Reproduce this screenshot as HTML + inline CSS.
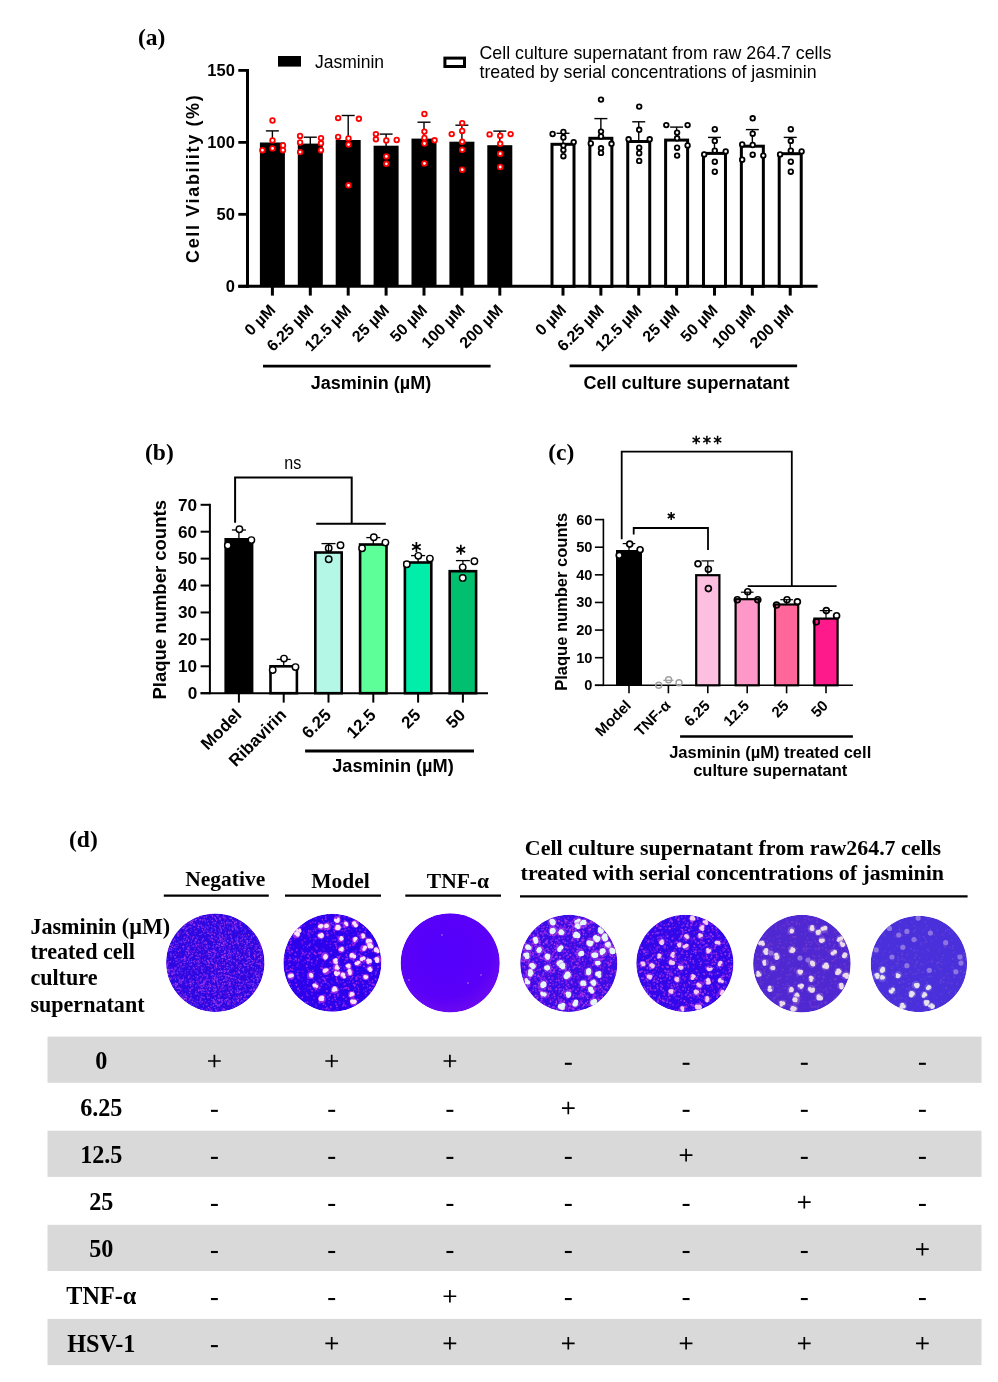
<!DOCTYPE html>
<html><head><meta charset="utf-8"><style>
html,body{margin:0;padding:0;background:#fff;}
svg{display:block;will-change:transform;}
</style></head><body>
<svg width="998" height="1382" viewBox="0 0 998 1382">
<rect width="998" height="1382" fill="#fff"/>
<text x="138.00" y="44.50" font-family="'Liberation Serif', serif" font-size="23.5" font-weight="bold" text-anchor="start" fill="#000" >(a)</text>
<rect x="278.00" y="56.00" width="23.00" height="10.60" fill="#000"/>
<text x="315.00" y="67.50" font-family="'Liberation Sans', sans-serif" font-size="17.5" font-weight="normal" text-anchor="start" fill="#000" >Jasminin</text>
<rect x="444.90" y="58.10" width="19.60" height="8.40" fill="#fff" stroke="#000" stroke-width="3"/>
<text x="479.50" y="58.60" font-family="'Liberation Sans', sans-serif" font-size="17.8" font-weight="normal" text-anchor="start" fill="#000" >Cell culture supernatant from raw 264.7 cells</text>
<text x="479.50" y="77.60" font-family="'Liberation Sans', sans-serif" font-size="17.8" font-weight="normal" text-anchor="start" fill="#000" >treated by serial concentrations of jasminin</text>
<line x1="247.50" y1="69.00" x2="247.50" y2="287.80" stroke="#000" stroke-width="3" stroke-linecap="butt"/>
<line x1="238.30" y1="286.30" x2="247.50" y2="286.30" stroke="#000" stroke-width="2.8" stroke-linecap="butt"/>
<text x="234.90" y="291.90" font-family="'Liberation Sans', sans-serif" font-size="16.5" font-weight="bold" text-anchor="end" fill="#000" >0</text>
<line x1="238.30" y1="214.33" x2="247.50" y2="214.33" stroke="#000" stroke-width="2.8" stroke-linecap="butt"/>
<text x="234.90" y="219.93" font-family="'Liberation Sans', sans-serif" font-size="16.5" font-weight="bold" text-anchor="end" fill="#000" >50</text>
<line x1="238.30" y1="142.37" x2="247.50" y2="142.37" stroke="#000" stroke-width="2.8" stroke-linecap="butt"/>
<text x="234.90" y="147.97" font-family="'Liberation Sans', sans-serif" font-size="16.5" font-weight="bold" text-anchor="end" fill="#000" >100</text>
<line x1="238.30" y1="70.40" x2="247.50" y2="70.40" stroke="#000" stroke-width="2.8" stroke-linecap="butt"/>
<text x="234.90" y="76.00" font-family="'Liberation Sans', sans-serif" font-size="16.5" font-weight="bold" text-anchor="end" fill="#000" >150</text>
<text x="0" y="0" transform="translate(198.70,178.30) rotate(-90)" font-family="'Liberation Sans', sans-serif" font-size="18" font-weight="bold" text-anchor="middle" letter-spacing="1.65">Cell Viability (%)</text>
<line x1="238.30" y1="286.30" x2="817.60" y2="286.30" stroke="#000" stroke-width="3" stroke-linecap="butt"/>
<line x1="272.40" y1="130.90" x2="272.40" y2="143.50" stroke="#000" stroke-width="1.4" stroke-linecap="butt"/>
<line x1="265.90" y1="130.90" x2="278.90" y2="130.90" stroke="#000" stroke-width="1.4" stroke-linecap="butt"/>
<rect x="259.90" y="142.50" width="25.00" height="143.80" fill="#000"/>
<circle cx="272.50" cy="120.50" r="2.3" fill="#fff" stroke="#ff0000" stroke-width="1.8"/>
<circle cx="272.50" cy="140.40" r="2.3" fill="#fff" stroke="#ff0000" stroke-width="1.8"/>
<circle cx="272.50" cy="148.40" r="2.3" fill="#fff" stroke="#ff0000" stroke-width="1.8"/>
<circle cx="262.40" cy="150.20" r="2.3" fill="#fff" stroke="#ff0000" stroke-width="1.8"/>
<circle cx="283.00" cy="145.50" r="2.3" fill="#fff" stroke="#ff0000" stroke-width="1.8"/>
<circle cx="283.00" cy="150.20" r="2.3" fill="#fff" stroke="#ff0000" stroke-width="1.8"/>
<line x1="563.00" y1="133.30" x2="563.00" y2="143.80" stroke="#000" stroke-width="1.4" stroke-linecap="butt"/>
<line x1="556.50" y1="133.30" x2="569.50" y2="133.30" stroke="#000" stroke-width="1.4" stroke-linecap="butt"/>
<rect x="552.00" y="144.30" width="22.00" height="142.00" fill="#fff" stroke="#000" stroke-width="3"/>
<circle cx="552.60" cy="134.00" r="2.3" fill="#fff" stroke="#000" stroke-width="1.8"/>
<circle cx="563.40" cy="131.90" r="2.3" fill="#fff" stroke="#000" stroke-width="1.8"/>
<circle cx="563.40" cy="137.50" r="2.3" fill="#fff" stroke="#000" stroke-width="1.8"/>
<circle cx="563.40" cy="145.60" r="2.3" fill="#fff" stroke="#000" stroke-width="1.8"/>
<circle cx="563.40" cy="150.10" r="2.3" fill="#fff" stroke="#000" stroke-width="1.8"/>
<circle cx="563.40" cy="156.20" r="2.3" fill="#fff" stroke="#000" stroke-width="1.8"/>
<circle cx="573.70" cy="142.10" r="2.3" fill="#fff" stroke="#000" stroke-width="1.8"/>
<line x1="310.30" y1="137.20" x2="310.30" y2="144.60" stroke="#000" stroke-width="1.4" stroke-linecap="butt"/>
<line x1="303.80" y1="137.20" x2="316.80" y2="137.20" stroke="#000" stroke-width="1.4" stroke-linecap="butt"/>
<rect x="297.80" y="143.60" width="25.00" height="142.70" fill="#000"/>
<circle cx="300.10" cy="135.90" r="2.3" fill="#fff" stroke="#ff0000" stroke-width="1.8"/>
<circle cx="300.10" cy="142.50" r="2.3" fill="#fff" stroke="#ff0000" stroke-width="1.8"/>
<circle cx="300.10" cy="152.10" r="2.3" fill="#fff" stroke="#ff0000" stroke-width="1.8"/>
<circle cx="321.00" cy="138.10" r="2.3" fill="#fff" stroke="#ff0000" stroke-width="1.8"/>
<circle cx="321.00" cy="143.30" r="2.3" fill="#fff" stroke="#ff0000" stroke-width="1.8"/>
<circle cx="321.00" cy="150.20" r="2.3" fill="#fff" stroke="#ff0000" stroke-width="1.8"/>
<line x1="600.87" y1="118.60" x2="600.87" y2="137.80" stroke="#000" stroke-width="1.4" stroke-linecap="butt"/>
<line x1="594.37" y1="118.60" x2="607.37" y2="118.60" stroke="#000" stroke-width="1.4" stroke-linecap="butt"/>
<rect x="589.87" y="138.30" width="22.00" height="148.00" fill="#fff" stroke="#000" stroke-width="3"/>
<circle cx="601.00" cy="99.60" r="2.3" fill="#fff" stroke="#000" stroke-width="1.8"/>
<circle cx="601.00" cy="131.60" r="2.3" fill="#fff" stroke="#000" stroke-width="1.8"/>
<circle cx="601.00" cy="136.50" r="2.3" fill="#fff" stroke="#000" stroke-width="1.8"/>
<circle cx="601.00" cy="148.30" r="2.3" fill="#fff" stroke="#000" stroke-width="1.8"/>
<circle cx="601.00" cy="152.90" r="2.3" fill="#fff" stroke="#000" stroke-width="1.8"/>
<circle cx="590.80" cy="143.50" r="2.3" fill="#fff" stroke="#000" stroke-width="1.8"/>
<circle cx="611.50" cy="143.80" r="2.3" fill="#fff" stroke="#000" stroke-width="1.8"/>
<line x1="348.20" y1="115.50" x2="348.20" y2="141.00" stroke="#000" stroke-width="1.4" stroke-linecap="butt"/>
<line x1="341.70" y1="115.50" x2="354.70" y2="115.50" stroke="#000" stroke-width="1.4" stroke-linecap="butt"/>
<rect x="335.70" y="140.00" width="25.00" height="146.30" fill="#000"/>
<circle cx="338.10" cy="118.10" r="2.3" fill="#fff" stroke="#ff0000" stroke-width="1.8"/>
<circle cx="358.90" cy="118.80" r="2.3" fill="#fff" stroke="#ff0000" stroke-width="1.8"/>
<circle cx="338.10" cy="136.90" r="2.3" fill="#fff" stroke="#ff0000" stroke-width="1.8"/>
<circle cx="348.50" cy="138.50" r="2.3" fill="#fff" stroke="#ff0000" stroke-width="1.8"/>
<circle cx="348.50" cy="144.60" r="2.3" fill="#fff" stroke="#ff0000" stroke-width="1.8"/>
<circle cx="348.50" cy="185.30" r="2.3" fill="#fff" stroke="#ff0000" stroke-width="1.8"/>
<line x1="638.74" y1="121.80" x2="638.74" y2="141.00" stroke="#000" stroke-width="1.4" stroke-linecap="butt"/>
<line x1="632.24" y1="121.80" x2="645.24" y2="121.80" stroke="#000" stroke-width="1.4" stroke-linecap="butt"/>
<rect x="627.74" y="141.50" width="22.00" height="144.80" fill="#fff" stroke="#000" stroke-width="3"/>
<circle cx="639.20" cy="106.60" r="2.3" fill="#fff" stroke="#000" stroke-width="1.8"/>
<circle cx="639.20" cy="129.80" r="2.3" fill="#fff" stroke="#000" stroke-width="1.8"/>
<circle cx="639.20" cy="147.70" r="2.3" fill="#fff" stroke="#000" stroke-width="1.8"/>
<circle cx="639.20" cy="153.20" r="2.3" fill="#fff" stroke="#000" stroke-width="1.8"/>
<circle cx="639.20" cy="160.90" r="2.3" fill="#fff" stroke="#000" stroke-width="1.8"/>
<circle cx="628.60" cy="139.30" r="2.3" fill="#fff" stroke="#000" stroke-width="1.8"/>
<circle cx="649.70" cy="139.30" r="2.3" fill="#fff" stroke="#000" stroke-width="1.8"/>
<line x1="386.10" y1="134.10" x2="386.10" y2="146.70" stroke="#000" stroke-width="1.4" stroke-linecap="butt"/>
<line x1="379.60" y1="134.10" x2="392.60" y2="134.10" stroke="#000" stroke-width="1.4" stroke-linecap="butt"/>
<rect x="373.60" y="145.70" width="25.00" height="140.60" fill="#000"/>
<circle cx="375.90" cy="134.10" r="2.3" fill="#fff" stroke="#ff0000" stroke-width="1.8"/>
<circle cx="375.90" cy="139.30" r="2.3" fill="#fff" stroke="#ff0000" stroke-width="1.8"/>
<circle cx="386.30" cy="140.50" r="2.3" fill="#fff" stroke="#ff0000" stroke-width="1.8"/>
<circle cx="396.70" cy="140.00" r="2.3" fill="#fff" stroke="#ff0000" stroke-width="1.8"/>
<circle cx="386.30" cy="156.40" r="2.3" fill="#fff" stroke="#ff0000" stroke-width="1.8"/>
<circle cx="386.30" cy="163.80" r="2.3" fill="#fff" stroke="#ff0000" stroke-width="1.8"/>
<line x1="676.61" y1="127.10" x2="676.61" y2="139.60" stroke="#000" stroke-width="1.4" stroke-linecap="butt"/>
<line x1="670.11" y1="127.10" x2="683.11" y2="127.10" stroke="#000" stroke-width="1.4" stroke-linecap="butt"/>
<rect x="665.61" y="140.10" width="22.00" height="146.20" fill="#fff" stroke="#000" stroke-width="3"/>
<circle cx="666.30" cy="125.10" r="2.3" fill="#fff" stroke="#000" stroke-width="1.8"/>
<circle cx="687.60" cy="125.10" r="2.3" fill="#fff" stroke="#000" stroke-width="1.8"/>
<circle cx="677.10" cy="132.60" r="2.3" fill="#fff" stroke="#000" stroke-width="1.8"/>
<circle cx="677.10" cy="138.30" r="2.3" fill="#fff" stroke="#000" stroke-width="1.8"/>
<circle cx="677.10" cy="147.70" r="2.3" fill="#fff" stroke="#000" stroke-width="1.8"/>
<circle cx="677.10" cy="155.60" r="2.3" fill="#fff" stroke="#000" stroke-width="1.8"/>
<circle cx="687.60" cy="145.40" r="2.3" fill="#fff" stroke="#000" stroke-width="1.8"/>
<line x1="424.00" y1="122.20" x2="424.00" y2="139.60" stroke="#000" stroke-width="1.4" stroke-linecap="butt"/>
<line x1="417.50" y1="122.20" x2="430.50" y2="122.20" stroke="#000" stroke-width="1.4" stroke-linecap="butt"/>
<rect x="411.50" y="138.60" width="25.00" height="147.70" fill="#000"/>
<circle cx="424.40" cy="114.00" r="2.3" fill="#fff" stroke="#ff0000" stroke-width="1.8"/>
<circle cx="424.40" cy="131.60" r="2.3" fill="#fff" stroke="#ff0000" stroke-width="1.8"/>
<circle cx="424.40" cy="137.90" r="2.3" fill="#fff" stroke="#ff0000" stroke-width="1.8"/>
<circle cx="424.40" cy="143.50" r="2.3" fill="#fff" stroke="#ff0000" stroke-width="1.8"/>
<circle cx="424.40" cy="163.40" r="2.3" fill="#fff" stroke="#ff0000" stroke-width="1.8"/>
<circle cx="434.60" cy="140.30" r="2.3" fill="#fff" stroke="#ff0000" stroke-width="1.8"/>
<line x1="714.48" y1="137.40" x2="714.48" y2="152.90" stroke="#000" stroke-width="1.4" stroke-linecap="butt"/>
<line x1="707.98" y1="137.40" x2="720.98" y2="137.40" stroke="#000" stroke-width="1.4" stroke-linecap="butt"/>
<rect x="703.48" y="153.40" width="22.00" height="132.90" fill="#fff" stroke="#000" stroke-width="3"/>
<circle cx="714.80" cy="129.20" r="2.3" fill="#fff" stroke="#000" stroke-width="1.8"/>
<circle cx="714.80" cy="140.90" r="2.3" fill="#fff" stroke="#000" stroke-width="1.8"/>
<circle cx="714.80" cy="150.70" r="2.3" fill="#fff" stroke="#000" stroke-width="1.8"/>
<circle cx="714.80" cy="161.70" r="2.3" fill="#fff" stroke="#000" stroke-width="1.8"/>
<circle cx="714.80" cy="171.70" r="2.3" fill="#fff" stroke="#000" stroke-width="1.8"/>
<circle cx="704.20" cy="154.40" r="2.3" fill="#fff" stroke="#000" stroke-width="1.8"/>
<circle cx="725.70" cy="151.40" r="2.3" fill="#fff" stroke="#000" stroke-width="1.8"/>
<line x1="461.90" y1="125.20" x2="461.90" y2="142.70" stroke="#000" stroke-width="1.4" stroke-linecap="butt"/>
<line x1="455.40" y1="125.20" x2="468.40" y2="125.20" stroke="#000" stroke-width="1.4" stroke-linecap="butt"/>
<rect x="449.40" y="141.70" width="25.00" height="144.60" fill="#000"/>
<circle cx="462.20" cy="123.10" r="2.3" fill="#fff" stroke="#ff0000" stroke-width="1.8"/>
<circle cx="462.20" cy="130.90" r="2.3" fill="#fff" stroke="#ff0000" stroke-width="1.8"/>
<circle cx="462.20" cy="141.80" r="2.3" fill="#fff" stroke="#ff0000" stroke-width="1.8"/>
<circle cx="462.20" cy="149.80" r="2.3" fill="#fff" stroke="#ff0000" stroke-width="1.8"/>
<circle cx="462.20" cy="169.70" r="2.3" fill="#fff" stroke="#ff0000" stroke-width="1.8"/>
<circle cx="451.70" cy="134.10" r="2.3" fill="#fff" stroke="#ff0000" stroke-width="1.8"/>
<line x1="752.35" y1="129.60" x2="752.35" y2="145.70" stroke="#000" stroke-width="1.4" stroke-linecap="butt"/>
<line x1="745.85" y1="129.60" x2="758.85" y2="129.60" stroke="#000" stroke-width="1.4" stroke-linecap="butt"/>
<rect x="741.35" y="146.20" width="22.00" height="140.10" fill="#fff" stroke="#000" stroke-width="3"/>
<circle cx="752.70" cy="118.30" r="2.3" fill="#fff" stroke="#000" stroke-width="1.8"/>
<circle cx="752.70" cy="133.70" r="2.3" fill="#fff" stroke="#000" stroke-width="1.8"/>
<circle cx="752.70" cy="145.00" r="2.3" fill="#fff" stroke="#000" stroke-width="1.8"/>
<circle cx="752.70" cy="154.70" r="2.3" fill="#fff" stroke="#000" stroke-width="1.8"/>
<circle cx="742.20" cy="144.40" r="2.3" fill="#fff" stroke="#000" stroke-width="1.8"/>
<circle cx="742.20" cy="159.70" r="2.3" fill="#fff" stroke="#000" stroke-width="1.8"/>
<circle cx="763.30" cy="155.60" r="2.3" fill="#fff" stroke="#000" stroke-width="1.8"/>
<line x1="499.80" y1="131.10" x2="499.80" y2="146.20" stroke="#000" stroke-width="1.4" stroke-linecap="butt"/>
<line x1="493.30" y1="131.10" x2="506.30" y2="131.10" stroke="#000" stroke-width="1.4" stroke-linecap="butt"/>
<rect x="487.30" y="145.20" width="25.00" height="141.10" fill="#000"/>
<circle cx="489.60" cy="134.40" r="2.3" fill="#fff" stroke="#ff0000" stroke-width="1.8"/>
<circle cx="510.60" cy="134.10" r="2.3" fill="#fff" stroke="#ff0000" stroke-width="1.8"/>
<circle cx="500.20" cy="135.80" r="2.3" fill="#fff" stroke="#ff0000" stroke-width="1.8"/>
<circle cx="500.20" cy="143.80" r="2.3" fill="#fff" stroke="#ff0000" stroke-width="1.8"/>
<circle cx="500.20" cy="153.70" r="2.3" fill="#fff" stroke="#ff0000" stroke-width="1.8"/>
<circle cx="500.20" cy="167.00" r="2.3" fill="#fff" stroke="#ff0000" stroke-width="1.8"/>
<line x1="790.22" y1="137.40" x2="790.22" y2="153.20" stroke="#000" stroke-width="1.4" stroke-linecap="butt"/>
<line x1="783.72" y1="137.40" x2="796.72" y2="137.40" stroke="#000" stroke-width="1.4" stroke-linecap="butt"/>
<rect x="779.22" y="153.70" width="22.00" height="132.60" fill="#fff" stroke="#000" stroke-width="3"/>
<circle cx="790.80" cy="129.20" r="2.3" fill="#fff" stroke="#000" stroke-width="1.8"/>
<circle cx="790.80" cy="140.90" r="2.3" fill="#fff" stroke="#000" stroke-width="1.8"/>
<circle cx="790.80" cy="150.70" r="2.3" fill="#fff" stroke="#000" stroke-width="1.8"/>
<circle cx="790.80" cy="161.70" r="2.3" fill="#fff" stroke="#000" stroke-width="1.8"/>
<circle cx="790.80" cy="171.70" r="2.3" fill="#fff" stroke="#000" stroke-width="1.8"/>
<circle cx="780.10" cy="154.40" r="2.3" fill="#fff" stroke="#000" stroke-width="1.8"/>
<circle cx="801.60" cy="151.40" r="2.3" fill="#fff" stroke="#000" stroke-width="1.8"/>
<line x1="272.40" y1="286.30" x2="272.40" y2="295.60" stroke="#000" stroke-width="3" stroke-linecap="butt"/>
<text x="0" y="0" transform="translate(276.50,311.20) rotate(-45)" font-family="'Liberation Sans', sans-serif" font-size="16" font-weight="bold" text-anchor="end" >0 µM</text>
<line x1="563.00" y1="286.30" x2="563.00" y2="295.60" stroke="#000" stroke-width="3" stroke-linecap="butt"/>
<text x="0" y="0" transform="translate(567.10,311.20) rotate(-45)" font-family="'Liberation Sans', sans-serif" font-size="16" font-weight="bold" text-anchor="end" >0 µM</text>
<line x1="310.30" y1="286.30" x2="310.30" y2="295.60" stroke="#000" stroke-width="3" stroke-linecap="butt"/>
<text x="0" y="0" transform="translate(314.40,311.20) rotate(-45)" font-family="'Liberation Sans', sans-serif" font-size="16" font-weight="bold" text-anchor="end" >6.25 µM</text>
<line x1="600.87" y1="286.30" x2="600.87" y2="295.60" stroke="#000" stroke-width="3" stroke-linecap="butt"/>
<text x="0" y="0" transform="translate(604.97,311.20) rotate(-45)" font-family="'Liberation Sans', sans-serif" font-size="16" font-weight="bold" text-anchor="end" >6.25 µM</text>
<line x1="348.20" y1="286.30" x2="348.20" y2="295.60" stroke="#000" stroke-width="3" stroke-linecap="butt"/>
<text x="0" y="0" transform="translate(352.30,311.20) rotate(-45)" font-family="'Liberation Sans', sans-serif" font-size="16" font-weight="bold" text-anchor="end" >12.5 µM</text>
<line x1="638.74" y1="286.30" x2="638.74" y2="295.60" stroke="#000" stroke-width="3" stroke-linecap="butt"/>
<text x="0" y="0" transform="translate(642.84,311.20) rotate(-45)" font-family="'Liberation Sans', sans-serif" font-size="16" font-weight="bold" text-anchor="end" >12.5 µM</text>
<line x1="386.10" y1="286.30" x2="386.10" y2="295.60" stroke="#000" stroke-width="3" stroke-linecap="butt"/>
<text x="0" y="0" transform="translate(390.20,311.20) rotate(-45)" font-family="'Liberation Sans', sans-serif" font-size="16" font-weight="bold" text-anchor="end" >25 µM</text>
<line x1="676.61" y1="286.30" x2="676.61" y2="295.60" stroke="#000" stroke-width="3" stroke-linecap="butt"/>
<text x="0" y="0" transform="translate(680.71,311.20) rotate(-45)" font-family="'Liberation Sans', sans-serif" font-size="16" font-weight="bold" text-anchor="end" >25 µM</text>
<line x1="424.00" y1="286.30" x2="424.00" y2="295.60" stroke="#000" stroke-width="3" stroke-linecap="butt"/>
<text x="0" y="0" transform="translate(428.10,311.20) rotate(-45)" font-family="'Liberation Sans', sans-serif" font-size="16" font-weight="bold" text-anchor="end" >50 µM</text>
<line x1="714.48" y1="286.30" x2="714.48" y2="295.60" stroke="#000" stroke-width="3" stroke-linecap="butt"/>
<text x="0" y="0" transform="translate(718.58,311.20) rotate(-45)" font-family="'Liberation Sans', sans-serif" font-size="16" font-weight="bold" text-anchor="end" >50 µM</text>
<line x1="461.90" y1="286.30" x2="461.90" y2="295.60" stroke="#000" stroke-width="3" stroke-linecap="butt"/>
<text x="0" y="0" transform="translate(466.00,311.20) rotate(-45)" font-family="'Liberation Sans', sans-serif" font-size="16" font-weight="bold" text-anchor="end" >100 µM</text>
<line x1="752.35" y1="286.30" x2="752.35" y2="295.60" stroke="#000" stroke-width="3" stroke-linecap="butt"/>
<text x="0" y="0" transform="translate(756.45,311.20) rotate(-45)" font-family="'Liberation Sans', sans-serif" font-size="16" font-weight="bold" text-anchor="end" >100 µM</text>
<line x1="499.80" y1="286.30" x2="499.80" y2="295.60" stroke="#000" stroke-width="3" stroke-linecap="butt"/>
<text x="0" y="0" transform="translate(503.90,311.20) rotate(-45)" font-family="'Liberation Sans', sans-serif" font-size="16" font-weight="bold" text-anchor="end" >200 µM</text>
<line x1="790.22" y1="286.30" x2="790.22" y2="295.60" stroke="#000" stroke-width="3" stroke-linecap="butt"/>
<text x="0" y="0" transform="translate(794.32,311.20) rotate(-45)" font-family="'Liberation Sans', sans-serif" font-size="16" font-weight="bold" text-anchor="end" >200 µM</text>
<line x1="263.00" y1="366.20" x2="490.60" y2="366.20" stroke="#000" stroke-width="2.8" stroke-linecap="butt"/>
<text x="371.00" y="388.70" font-family="'Liberation Sans', sans-serif" font-size="18" font-weight="bold" text-anchor="middle" fill="#000" >Jasminin (µM)</text>
<line x1="569.60" y1="365.80" x2="797.10" y2="365.80" stroke="#000" stroke-width="2.8" stroke-linecap="butt"/>
<text x="686.50" y="388.70" font-family="'Liberation Sans', sans-serif" font-size="18" font-weight="bold" text-anchor="middle" fill="#000" >Cell culture supernatant</text>
<text x="145.00" y="460.00" font-family="'Liberation Serif', serif" font-size="23.5" font-weight="bold" text-anchor="start" fill="#000" >(b)</text>
<line x1="209.90" y1="503.80" x2="209.90" y2="694.20" stroke="#000" stroke-width="2" stroke-linecap="butt"/>
<line x1="200.60" y1="693.20" x2="209.90" y2="693.20" stroke="#000" stroke-width="2" stroke-linecap="butt"/>
<text x="197.20" y="699.00" font-family="'Liberation Sans', sans-serif" font-size="17.2" font-weight="bold" text-anchor="end" fill="#000" >0</text>
<line x1="200.60" y1="666.29" x2="209.90" y2="666.29" stroke="#000" stroke-width="2" stroke-linecap="butt"/>
<text x="197.20" y="672.09" font-family="'Liberation Sans', sans-serif" font-size="17.2" font-weight="bold" text-anchor="end" fill="#000" >10</text>
<line x1="200.60" y1="639.37" x2="209.90" y2="639.37" stroke="#000" stroke-width="2" stroke-linecap="butt"/>
<text x="197.20" y="645.17" font-family="'Liberation Sans', sans-serif" font-size="17.2" font-weight="bold" text-anchor="end" fill="#000" >20</text>
<line x1="200.60" y1="612.46" x2="209.90" y2="612.46" stroke="#000" stroke-width="2" stroke-linecap="butt"/>
<text x="197.20" y="618.26" font-family="'Liberation Sans', sans-serif" font-size="17.2" font-weight="bold" text-anchor="end" fill="#000" >30</text>
<line x1="200.60" y1="585.54" x2="209.90" y2="585.54" stroke="#000" stroke-width="2" stroke-linecap="butt"/>
<text x="197.20" y="591.34" font-family="'Liberation Sans', sans-serif" font-size="17.2" font-weight="bold" text-anchor="end" fill="#000" >40</text>
<line x1="200.60" y1="558.63" x2="209.90" y2="558.63" stroke="#000" stroke-width="2" stroke-linecap="butt"/>
<text x="197.20" y="564.43" font-family="'Liberation Sans', sans-serif" font-size="17.2" font-weight="bold" text-anchor="end" fill="#000" >50</text>
<line x1="200.60" y1="531.71" x2="209.90" y2="531.71" stroke="#000" stroke-width="2" stroke-linecap="butt"/>
<text x="197.20" y="537.51" font-family="'Liberation Sans', sans-serif" font-size="17.2" font-weight="bold" text-anchor="end" fill="#000" >60</text>
<line x1="200.60" y1="504.80" x2="209.90" y2="504.80" stroke="#000" stroke-width="2" stroke-linecap="butt"/>
<text x="197.20" y="510.60" font-family="'Liberation Sans', sans-serif" font-size="17.2" font-weight="bold" text-anchor="end" fill="#000" >70</text>
<text x="0" y="0" transform="translate(165.80,599.80) rotate(-90)" font-family="'Liberation Sans', sans-serif" font-size="18.5" font-weight="bold" text-anchor="middle" >Plaque number counts</text>
<line x1="200.60" y1="693.20" x2="488.00" y2="693.20" stroke="#000" stroke-width="2" stroke-linecap="butt"/>
<rect x="224.40" y="538.00" width="29.00" height="155.20" fill="#000"/>
<line x1="238.90" y1="530.00" x2="238.90" y2="539.00" stroke="#000" stroke-width="1.3" stroke-linecap="butt"/>
<line x1="231.90" y1="530.00" x2="245.90" y2="530.00" stroke="#000" stroke-width="1.3" stroke-linecap="butt"/>
<circle cx="227.80" cy="545.40" r="3.2" fill="#fff" stroke="#000" stroke-width="1.45"/>
<circle cx="239.40" cy="529.20" r="3.2" fill="#fff" stroke="#000" stroke-width="1.45"/>
<circle cx="251.40" cy="540.10" r="3.2" fill="#fff" stroke="#000" stroke-width="1.45"/>
<line x1="238.90" y1="693.20" x2="238.90" y2="702.60" stroke="#000" stroke-width="2" stroke-linecap="butt"/>
<text x="0" y="0" transform="translate(242.50,716.00) rotate(-45)" font-family="'Liberation Sans', sans-serif" font-size="17" font-weight="bold" text-anchor="end" >Model</text>
<rect x="270.50" y="666.30" width="26.40" height="26.90" fill="#fff" stroke="#000" stroke-width="2.6"/>
<line x1="283.70" y1="659.40" x2="283.70" y2="666.00" stroke="#000" stroke-width="1.3" stroke-linecap="butt"/>
<line x1="276.70" y1="659.40" x2="290.70" y2="659.40" stroke="#000" stroke-width="1.3" stroke-linecap="butt"/>
<circle cx="272.70" cy="670.10" r="3.2" fill="#fff" stroke="#000" stroke-width="1.45"/>
<circle cx="284.00" cy="658.60" r="3.2" fill="#fff" stroke="#000" stroke-width="1.45"/>
<circle cx="295.50" cy="667.10" r="3.2" fill="#fff" stroke="#000" stroke-width="1.45"/>
<line x1="283.70" y1="693.20" x2="283.70" y2="702.60" stroke="#000" stroke-width="2" stroke-linecap="butt"/>
<text x="0" y="0" transform="translate(287.30,716.00) rotate(-45)" font-family="'Liberation Sans', sans-serif" font-size="17" font-weight="bold" text-anchor="end" >Ribavirin</text>
<rect x="315.30" y="552.50" width="26.40" height="140.70" fill="#b4f7e6" stroke="#000" stroke-width="2.6"/>
<line x1="328.50" y1="543.60" x2="328.50" y2="552.20" stroke="#000" stroke-width="1.3" stroke-linecap="butt"/>
<line x1="321.50" y1="543.60" x2="335.50" y2="543.60" stroke="#000" stroke-width="1.3" stroke-linecap="butt"/>
<circle cx="328.70" cy="548.20" r="3.2" fill="none" stroke="#000" stroke-width="1.45"/>
<circle cx="328.70" cy="559.20" r="3.2" fill="none" stroke="#000" stroke-width="1.45"/>
<circle cx="340.50" cy="545.20" r="3.2" fill="none" stroke="#000" stroke-width="1.45"/>
<line x1="328.50" y1="693.20" x2="328.50" y2="702.60" stroke="#000" stroke-width="2" stroke-linecap="butt"/>
<text x="0" y="0" transform="translate(332.10,716.00) rotate(-45)" font-family="'Liberation Sans', sans-serif" font-size="17" font-weight="bold" text-anchor="end" >6.25</text>
<rect x="360.10" y="544.50" width="26.40" height="148.70" fill="#5cff98" stroke="#000" stroke-width="2.6"/>
<line x1="373.30" y1="537.60" x2="373.30" y2="544.20" stroke="#000" stroke-width="1.3" stroke-linecap="butt"/>
<line x1="366.30" y1="537.60" x2="380.30" y2="537.60" stroke="#000" stroke-width="1.3" stroke-linecap="butt"/>
<circle cx="362.10" cy="548.20" r="3.2" fill="#fff" stroke="#000" stroke-width="1.45"/>
<circle cx="373.80" cy="537.20" r="3.2" fill="#fff" stroke="#000" stroke-width="1.45"/>
<circle cx="385.40" cy="542.60" r="3.2" fill="#fff" stroke="#000" stroke-width="1.45"/>
<line x1="373.30" y1="693.20" x2="373.30" y2="702.60" stroke="#000" stroke-width="2" stroke-linecap="butt"/>
<text x="0" y="0" transform="translate(376.90,716.00) rotate(-45)" font-family="'Liberation Sans', sans-serif" font-size="17" font-weight="bold" text-anchor="end" >12.5</text>
<rect x="404.90" y="562.50" width="26.40" height="130.70" fill="#00eeaa" stroke="#000" stroke-width="2.6"/>
<line x1="418.10" y1="555.60" x2="418.10" y2="562.20" stroke="#000" stroke-width="1.3" stroke-linecap="butt"/>
<line x1="411.10" y1="555.60" x2="425.10" y2="555.60" stroke="#000" stroke-width="1.3" stroke-linecap="butt"/>
<circle cx="406.80" cy="564.20" r="3.2" fill="#fff" stroke="#000" stroke-width="1.45"/>
<circle cx="418.30" cy="555.80" r="3.2" fill="#fff" stroke="#000" stroke-width="1.45"/>
<circle cx="429.90" cy="558.60" r="3.2" fill="#fff" stroke="#000" stroke-width="1.45"/>
<line x1="418.10" y1="693.20" x2="418.10" y2="702.60" stroke="#000" stroke-width="2" stroke-linecap="butt"/>
<text x="0" y="0" transform="translate(421.70,716.00) rotate(-45)" font-family="'Liberation Sans', sans-serif" font-size="17" font-weight="bold" text-anchor="end" >25</text>
<rect x="449.70" y="571.20" width="26.40" height="122.00" fill="#00c070" stroke="#000" stroke-width="2.6"/>
<line x1="462.90" y1="560.60" x2="462.90" y2="570.90" stroke="#000" stroke-width="1.3" stroke-linecap="butt"/>
<line x1="455.90" y1="560.60" x2="469.90" y2="560.60" stroke="#000" stroke-width="1.3" stroke-linecap="butt"/>
<circle cx="462.70" cy="567.30" r="3.2" fill="#fff" stroke="#000" stroke-width="1.45"/>
<circle cx="462.70" cy="577.90" r="3.2" fill="#fff" stroke="#000" stroke-width="1.45"/>
<circle cx="474.40" cy="561.20" r="3.2" fill="#fff" stroke="#000" stroke-width="1.45"/>
<line x1="462.90" y1="693.20" x2="462.90" y2="702.60" stroke="#000" stroke-width="2" stroke-linecap="butt"/>
<text x="0" y="0" transform="translate(466.50,716.00) rotate(-45)" font-family="'Liberation Sans', sans-serif" font-size="17" font-weight="bold" text-anchor="end" >50</text>
<path d="M416.40,542.00L416.40,552.00M412.07,544.50L420.73,549.50M420.73,544.50L412.07,549.50" stroke="#000" stroke-width="1.7" fill="none"/>
<path d="M460.80,544.80L460.80,554.80M456.47,547.30L465.13,552.30M465.13,547.30L456.47,552.30" stroke="#000" stroke-width="1.7" fill="none"/>
<path d="M235.1,522.8 V477.6 H351.7 V523.7 M316.2,523.7 H385.8" stroke="#000" stroke-width="2" fill="none"/>
<text x="284.30" y="468.80" font-family="'Liberation Sans', sans-serif" font-size="19" font-weight="normal" text-anchor="start" fill="#000" textLength="17" lengthAdjust="spacingAndGlyphs">ns</text>
<line x1="305.10" y1="751.00" x2="474.00" y2="751.00" stroke="#000" stroke-width="2.8" stroke-linecap="butt"/>
<text x="393.00" y="771.80" font-family="'Liberation Sans', sans-serif" font-size="18.2" font-weight="bold" text-anchor="middle" fill="#000" >Jasminin (µM)</text>
<text x="548.30" y="460.00" font-family="'Liberation Serif', serif" font-size="23.5" font-weight="bold" text-anchor="start" fill="#000" >(c)</text>
<line x1="603.40" y1="518.80" x2="603.40" y2="686.10" stroke="#000" stroke-width="1.6" stroke-linecap="butt"/>
<line x1="594.90" y1="685.30" x2="603.40" y2="685.30" stroke="#000" stroke-width="1.6" stroke-linecap="butt"/>
<text x="592.40" y="690.30" font-family="'Liberation Sans', sans-serif" font-size="14.6" font-weight="bold" text-anchor="end" fill="#000" >0</text>
<line x1="594.90" y1="657.68" x2="603.40" y2="657.68" stroke="#000" stroke-width="1.6" stroke-linecap="butt"/>
<text x="592.40" y="662.68" font-family="'Liberation Sans', sans-serif" font-size="14.6" font-weight="bold" text-anchor="end" fill="#000" >10</text>
<line x1="594.90" y1="630.07" x2="603.40" y2="630.07" stroke="#000" stroke-width="1.6" stroke-linecap="butt"/>
<text x="592.40" y="635.07" font-family="'Liberation Sans', sans-serif" font-size="14.6" font-weight="bold" text-anchor="end" fill="#000" >20</text>
<line x1="594.90" y1="602.45" x2="603.40" y2="602.45" stroke="#000" stroke-width="1.6" stroke-linecap="butt"/>
<text x="592.40" y="607.45" font-family="'Liberation Sans', sans-serif" font-size="14.6" font-weight="bold" text-anchor="end" fill="#000" >30</text>
<line x1="594.90" y1="574.83" x2="603.40" y2="574.83" stroke="#000" stroke-width="1.6" stroke-linecap="butt"/>
<text x="592.40" y="579.83" font-family="'Liberation Sans', sans-serif" font-size="14.6" font-weight="bold" text-anchor="end" fill="#000" >40</text>
<line x1="594.90" y1="547.22" x2="603.40" y2="547.22" stroke="#000" stroke-width="1.6" stroke-linecap="butt"/>
<text x="592.40" y="552.22" font-family="'Liberation Sans', sans-serif" font-size="14.6" font-weight="bold" text-anchor="end" fill="#000" >50</text>
<line x1="594.90" y1="519.60" x2="603.40" y2="519.60" stroke="#000" stroke-width="1.6" stroke-linecap="butt"/>
<text x="592.40" y="524.60" font-family="'Liberation Sans', sans-serif" font-size="14.6" font-weight="bold" text-anchor="end" fill="#000" >60</text>
<text x="0" y="0" transform="translate(566.80,601.80) rotate(-90)" font-family="'Liberation Sans', sans-serif" font-size="16.5" font-weight="bold" text-anchor="middle" >Plaque number counts</text>
<line x1="594.90" y1="685.30" x2="852.90" y2="685.30" stroke="#000" stroke-width="1.6" stroke-linecap="butt"/>
<rect x="616.00" y="550.00" width="26.00" height="135.30" fill="#000"/>
<line x1="629.00" y1="543.60" x2="629.00" y2="551.00" stroke="#000" stroke-width="1.2" stroke-linecap="butt"/>
<line x1="622.70" y1="543.60" x2="635.30" y2="543.60" stroke="#000" stroke-width="1.2" stroke-linecap="butt"/>
<circle cx="619.20" cy="555.30" r="2.95" fill="#fff" stroke="#000" stroke-width="1.7"/>
<circle cx="629.70" cy="544.10" r="2.95" fill="#fff" stroke="#000" stroke-width="1.7"/>
<circle cx="640.10" cy="549.70" r="2.95" fill="#fff" stroke="#000" stroke-width="1.7"/>
<line x1="629.00" y1="685.30" x2="629.00" y2="693.30" stroke="#000" stroke-width="1.6" stroke-linecap="butt"/>
<text x="0" y="0" transform="translate(632.00,706.50) rotate(-45)" font-family="'Liberation Sans', sans-serif" font-size="15" font-weight="bold" text-anchor="end" >Model</text>
<line x1="663.40" y1="680.30" x2="673.40" y2="680.30" stroke="#999" stroke-width="1.2" stroke-linecap="butt"/>
<circle cx="658.70" cy="685.20" r="3.0" fill="none" stroke="#a0a0a0" stroke-width="1.4"/>
<circle cx="668.60" cy="679.80" r="3.0" fill="none" stroke="#a0a0a0" stroke-width="1.4"/>
<circle cx="679.00" cy="682.70" r="3.0" fill="none" stroke="#a0a0a0" stroke-width="1.4"/>
<line x1="668.40" y1="685.30" x2="668.40" y2="693.30" stroke="#000" stroke-width="1.6" stroke-linecap="butt"/>
<text x="0" y="0" transform="translate(671.40,706.50) rotate(-45)" font-family="'Liberation Sans', sans-serif" font-size="15" font-weight="bold" text-anchor="end" >TNF-α</text>
<rect x="696.20" y="575.20" width="23.20" height="110.10" fill="#fdbfe0" stroke="#000" stroke-width="2.2"/>
<line x1="707.80" y1="560.90" x2="707.80" y2="575.10" stroke="#000" stroke-width="1.2" stroke-linecap="butt"/>
<line x1="701.50" y1="560.90" x2="714.10" y2="560.90" stroke="#000" stroke-width="1.2" stroke-linecap="butt"/>
<circle cx="698.00" cy="563.80" r="2.95" fill="none" stroke="#000" stroke-width="1.7"/>
<circle cx="708.40" cy="569.20" r="2.95" fill="none" stroke="#000" stroke-width="1.7"/>
<circle cx="708.40" cy="588.60" r="2.95" fill="none" stroke="#000" stroke-width="1.7"/>
<line x1="707.80" y1="685.30" x2="707.80" y2="693.30" stroke="#000" stroke-width="1.6" stroke-linecap="butt"/>
<text x="0" y="0" transform="translate(710.80,706.50) rotate(-45)" font-family="'Liberation Sans', sans-serif" font-size="15" font-weight="bold" text-anchor="end" >6.25</text>
<rect x="735.60" y="599.20" width="23.20" height="86.10" fill="#fd98c8" stroke="#000" stroke-width="2.2"/>
<line x1="747.20" y1="592.20" x2="747.20" y2="599.10" stroke="#000" stroke-width="1.2" stroke-linecap="butt"/>
<line x1="740.90" y1="592.20" x2="753.50" y2="592.20" stroke="#000" stroke-width="1.2" stroke-linecap="butt"/>
<circle cx="737.30" cy="599.70" r="2.95" fill="none" stroke="#000" stroke-width="1.7"/>
<circle cx="747.70" cy="591.70" r="2.95" fill="none" stroke="#000" stroke-width="1.7"/>
<circle cx="757.80" cy="599.70" r="2.95" fill="none" stroke="#000" stroke-width="1.7"/>
<line x1="747.20" y1="685.30" x2="747.20" y2="693.30" stroke="#000" stroke-width="1.6" stroke-linecap="butt"/>
<text x="0" y="0" transform="translate(750.20,706.50) rotate(-45)" font-family="'Liberation Sans', sans-serif" font-size="15" font-weight="bold" text-anchor="end" >12.5</text>
<rect x="775.00" y="604.50" width="23.20" height="80.80" fill="#ff6699" stroke="#000" stroke-width="2.2"/>
<line x1="786.60" y1="599.70" x2="786.60" y2="604.40" stroke="#000" stroke-width="1.2" stroke-linecap="butt"/>
<line x1="780.30" y1="599.70" x2="792.90" y2="599.70" stroke="#000" stroke-width="1.2" stroke-linecap="butt"/>
<circle cx="776.50" cy="605.00" r="2.95" fill="none" stroke="#000" stroke-width="1.7"/>
<circle cx="787.00" cy="599.70" r="2.95" fill="none" stroke="#000" stroke-width="1.7"/>
<circle cx="797.40" cy="601.80" r="2.95" fill="none" stroke="#000" stroke-width="1.7"/>
<line x1="786.60" y1="685.30" x2="786.60" y2="693.30" stroke="#000" stroke-width="1.6" stroke-linecap="butt"/>
<text x="0" y="0" transform="translate(789.60,706.50) rotate(-45)" font-family="'Liberation Sans', sans-serif" font-size="15" font-weight="bold" text-anchor="end" >25</text>
<rect x="814.40" y="618.60" width="23.20" height="66.70" fill="#ff1a8c" stroke="#000" stroke-width="2.2"/>
<line x1="826.00" y1="610.60" x2="826.00" y2="618.50" stroke="#000" stroke-width="1.2" stroke-linecap="butt"/>
<line x1="819.70" y1="610.60" x2="832.30" y2="610.60" stroke="#000" stroke-width="1.2" stroke-linecap="butt"/>
<circle cx="816.30" cy="621.80" r="2.95" fill="none" stroke="#000" stroke-width="1.7"/>
<circle cx="826.30" cy="610.60" r="2.95" fill="none" stroke="#000" stroke-width="1.7"/>
<circle cx="836.60" cy="615.70" r="2.95" fill="none" stroke="#000" stroke-width="1.7"/>
<line x1="826.00" y1="685.30" x2="826.00" y2="693.30" stroke="#000" stroke-width="1.6" stroke-linecap="butt"/>
<text x="0" y="0" transform="translate(829.00,706.50) rotate(-45)" font-family="'Liberation Sans', sans-serif" font-size="15" font-weight="bold" text-anchor="end" >50</text>
<path d="M671.20,512.00L671.20,520.00M667.74,514.00L674.66,518.00M674.66,514.00L667.74,518.00" stroke="#000" stroke-width="1.5" fill="none"/>
<path d="M696.20,435.75L696.20,444.25M692.52,437.88L699.88,442.12M699.88,437.88L692.52,442.12" stroke="#000" stroke-width="1.5" fill="none"/>
<path d="M706.90,435.75L706.90,444.25M703.22,437.88L710.58,442.12M710.58,437.88L703.22,442.12" stroke="#000" stroke-width="1.5" fill="none"/>
<path d="M717.60,435.75L717.60,444.25M713.92,437.88L721.28,442.12M721.28,437.88L713.92,442.12" stroke="#000" stroke-width="1.5" fill="none"/>
<path d="M621.7,539.3 V451.6 H791.8 V586.1 M747.7,586.1 H836.6 M633.7,534.5 V528 H708 V550" stroke="#000" stroke-width="1.8" fill="none"/>
<line x1="680.10" y1="736.50" x2="852.90" y2="736.50" stroke="#000" stroke-width="2.4" stroke-linecap="butt"/>
<text x="770.20" y="757.50" font-family="'Liberation Sans', sans-serif" font-size="16.5" font-weight="bold" text-anchor="middle" fill="#000" >Jasminin (µM) treated cell</text>
<text x="770.20" y="775.60" font-family="'Liberation Sans', sans-serif" font-size="16.5" font-weight="bold" text-anchor="middle" fill="#000" >culture supernatant</text>
<text x="69.00" y="847.00" font-family="'Liberation Serif', serif" font-size="23.5" font-weight="bold" text-anchor="start" fill="#000" >(d)</text>
<text x="225.20" y="886.40" font-family="'Liberation Serif', serif" font-size="21.5" font-weight="bold" text-anchor="middle" fill="#000" >Negative</text>
<text x="340.50" y="887.60" font-family="'Liberation Serif', serif" font-size="21.5" font-weight="bold" text-anchor="middle" fill="#000" >Model</text>
<text x="457.90" y="887.60" font-family="'Liberation Serif', serif" font-size="21.5" font-weight="bold" text-anchor="middle" fill="#000" >TNF-α</text>
<line x1="163.80" y1="895.60" x2="268.80" y2="895.60" stroke="#000" stroke-width="2.2" stroke-linecap="butt"/>
<line x1="285.00" y1="895.60" x2="381.00" y2="895.60" stroke="#000" stroke-width="2.2" stroke-linecap="butt"/>
<line x1="405.30" y1="895.60" x2="501.00" y2="895.60" stroke="#000" stroke-width="2.2" stroke-linecap="butt"/>
<line x1="520.00" y1="896.40" x2="967.60" y2="896.40" stroke="#000" stroke-width="2.2" stroke-linecap="butt"/>
<text x="733.00" y="854.50" font-family="'Liberation Serif', serif" font-size="21.9" font-weight="bold" text-anchor="middle" fill="#000" >Cell culture supernatant from raw264.7 cells</text>
<text x="732.30" y="880.10" font-family="'Liberation Serif', serif" font-size="21.9" font-weight="bold" text-anchor="middle" fill="#000" >treated with serial concentrations of jasminin</text>
<text x="30.40" y="933.90" font-family="'Liberation Serif', serif" font-size="22.1" font-weight="bold" text-anchor="start" fill="#000" >Jasminin (µM)</text>
<text x="30.40" y="959.40" font-family="'Liberation Serif', serif" font-size="22.1" font-weight="bold" text-anchor="start" fill="#000" >treated cell</text>
<text x="30.40" y="985.40" font-family="'Liberation Serif', serif" font-size="22.1" font-weight="bold" text-anchor="start" fill="#000" >culture</text>
<text x="30.40" y="1012.00" font-family="'Liberation Serif', serif" font-size="22.1" font-weight="bold" text-anchor="start" fill="#000" >supernatant</text>
<defs>
<filter id="nb" x="-5%" y="-5%" width="110%" height="110%"><feGaussianBlur stdDeviation="0.4"/></filter>
<filter id="pb" x="-20%" y="-20%" width="140%" height="140%"><feGaussianBlur stdDeviation="0.55"/></filter>
<radialGradient id="tnfg" cx="0.45" cy="0.4" r="0.6"><stop offset="0" stop-color="#5200fc"/><stop offset="0.75" stop-color="#5a00f8"/><stop offset="1" stop-color="#6a08f0"/></radialGradient>
<clipPath id="cp0"><circle cx="215.3" cy="962.7" r="49.2"/></clipPath>
<clipPath id="cp1"><circle cx="332.4" cy="962.7" r="49"/></clipPath>
<clipPath id="cp2"><circle cx="450.2" cy="962.9" r="49.6"/></clipPath>
<clipPath id="cp3"><circle cx="568.8" cy="963.3" r="48.6"/></clipPath>
<clipPath id="cp4"><circle cx="684.9" cy="963.3" r="48.6"/></clipPath>
<clipPath id="cp5"><circle cx="801.9" cy="963.6" r="48.8"/></clipPath>
<clipPath id="cp6"><circle cx="918.9" cy="963.9" r="48.2"/></clipPath>
</defs>
<g clip-path="url(#cp0)">
<circle cx="215.3" cy="962.7" r="49.2" fill="#2c08e2"/>
<g filter="url(#nb)">
<g fill="#d050f0" opacity="0.75"><circle cx="206.7" cy="979.8" r="0.71"/><circle cx="247.6" cy="978.5" r="0.60"/><circle cx="248.0" cy="975.2" r="0.46"/><circle cx="203.4" cy="968.0" r="0.49"/><circle cx="175.5" cy="983.1" r="0.50"/><circle cx="221.8" cy="1001.1" r="0.83"/><circle cx="187.9" cy="948.3" r="0.84"/><circle cx="258.9" cy="975.9" r="0.57"/><circle cx="225.7" cy="976.0" r="0.57"/><circle cx="223.7" cy="943.6" r="0.68"/><circle cx="196.0" cy="939.7" r="0.67"/><circle cx="226.4" cy="967.3" r="0.53"/><circle cx="201.7" cy="933.6" r="0.58"/><circle cx="186.9" cy="945.7" r="0.57"/><circle cx="226.6" cy="923.2" r="0.55"/><circle cx="183.5" cy="946.6" r="0.80"/><circle cx="211.9" cy="936.5" r="0.84"/><circle cx="238.8" cy="984.2" r="0.75"/><circle cx="235.2" cy="990.8" r="0.47"/><circle cx="194.2" cy="925.2" r="0.68"/><circle cx="234.8" cy="943.3" r="0.73"/><circle cx="184.2" cy="941.8" r="0.63"/><circle cx="240.9" cy="922.3" r="0.64"/><circle cx="209.1" cy="952.3" r="0.73"/><circle cx="185.8" cy="923.6" r="0.78"/><circle cx="208.7" cy="992.5" r="0.72"/><circle cx="248.4" cy="967.4" r="0.52"/><circle cx="224.2" cy="970.7" r="0.76"/><circle cx="232.1" cy="980.5" r="0.61"/><circle cx="225.0" cy="952.6" r="0.63"/><circle cx="171.3" cy="948.6" r="0.78"/><circle cx="232.3" cy="943.1" r="0.62"/><circle cx="186.1" cy="998.6" r="0.83"/><circle cx="227.3" cy="979.5" r="0.54"/><circle cx="218.9" cy="996.8" r="0.69"/><circle cx="215.0" cy="965.8" r="0.62"/><circle cx="190.1" cy="989.8" r="0.83"/><circle cx="202.4" cy="929.8" r="0.70"/><circle cx="210.2" cy="952.5" r="0.81"/><circle cx="223.9" cy="917.5" r="0.77"/><circle cx="191.1" cy="982.1" r="0.49"/><circle cx="207.1" cy="953.5" r="0.48"/><circle cx="220.4" cy="981.9" r="0.59"/><circle cx="216.0" cy="962.9" r="0.51"/><circle cx="239.1" cy="980.4" r="0.46"/><circle cx="242.4" cy="935.3" r="0.51"/><circle cx="214.9" cy="991.7" r="0.60"/><circle cx="247.8" cy="994.3" r="0.85"/><circle cx="181.9" cy="970.0" r="0.48"/><circle cx="238.4" cy="979.9" r="0.56"/><circle cx="224.7" cy="945.3" r="0.46"/><circle cx="249.4" cy="951.9" r="0.51"/><circle cx="207.5" cy="960.5" r="0.66"/><circle cx="260.6" cy="956.5" r="0.73"/><circle cx="213.2" cy="992.4" r="0.52"/><circle cx="220.2" cy="927.1" r="0.76"/><circle cx="204.1" cy="983.1" r="0.77"/><circle cx="260.5" cy="958.4" r="0.77"/><circle cx="232.9" cy="924.2" r="0.54"/><circle cx="186.1" cy="959.5" r="0.46"/><circle cx="240.9" cy="967.2" r="0.55"/><circle cx="198.3" cy="917.7" r="0.63"/><circle cx="260.4" cy="943.8" r="0.83"/><circle cx="200.1" cy="980.1" r="0.54"/><circle cx="222.6" cy="983.7" r="0.70"/><circle cx="251.8" cy="936.3" r="0.64"/><circle cx="190.1" cy="926.6" r="0.48"/><circle cx="190.3" cy="923.0" r="0.76"/><circle cx="215.3" cy="928.7" r="0.52"/><circle cx="222.2" cy="935.2" r="0.77"/><circle cx="245.8" cy="957.2" r="0.61"/><circle cx="254.9" cy="949.0" r="0.52"/><circle cx="228.7" cy="976.4" r="0.81"/><circle cx="221.8" cy="945.1" r="0.78"/><circle cx="254.9" cy="957.8" r="0.59"/><circle cx="198.3" cy="957.3" r="0.46"/><circle cx="254.3" cy="955.5" r="0.66"/><circle cx="244.9" cy="949.6" r="0.80"/><circle cx="225.7" cy="942.6" r="0.55"/><circle cx="208.9" cy="986.0" r="0.68"/><circle cx="213.4" cy="994.5" r="0.50"/><circle cx="240.0" cy="947.0" r="0.63"/><circle cx="174.8" cy="939.3" r="0.62"/><circle cx="245.6" cy="945.5" r="0.66"/><circle cx="208.6" cy="961.7" r="0.63"/><circle cx="216.6" cy="965.5" r="0.77"/><circle cx="231.2" cy="992.6" r="0.74"/><circle cx="189.0" cy="952.9" r="0.66"/><circle cx="174.3" cy="947.8" r="0.49"/><circle cx="192.5" cy="953.6" r="0.56"/><circle cx="220.2" cy="928.0" r="0.67"/><circle cx="218.2" cy="915.8" r="0.63"/><circle cx="188.7" cy="940.0" r="0.65"/><circle cx="203.6" cy="931.7" r="0.66"/><circle cx="168.0" cy="969.3" r="0.73"/><circle cx="249.4" cy="929.3" r="0.55"/><circle cx="170.8" cy="945.2" r="0.79"/><circle cx="226.5" cy="975.7" r="0.63"/><circle cx="237.0" cy="973.3" r="0.48"/><circle cx="194.2" cy="924.6" r="0.81"/><circle cx="238.8" cy="997.1" r="0.71"/><circle cx="244.1" cy="998.9" r="0.84"/><circle cx="224.4" cy="1009.8" r="0.61"/><circle cx="166.5" cy="966.6" r="0.78"/><circle cx="232.4" cy="990.1" r="0.66"/><circle cx="203.7" cy="981.1" r="0.58"/><circle cx="214.1" cy="955.9" r="0.67"/><circle cx="209.1" cy="965.1" r="0.58"/><circle cx="190.2" cy="938.0" r="0.48"/><circle cx="258.8" cy="958.6" r="0.84"/><circle cx="235.4" cy="978.2" r="0.47"/><circle cx="219.9" cy="937.5" r="0.50"/><circle cx="173.8" cy="984.7" r="0.78"/><circle cx="214.3" cy="981.7" r="0.82"/><circle cx="178.1" cy="945.0" r="0.49"/><circle cx="253.5" cy="977.1" r="0.62"/><circle cx="258.1" cy="983.6" r="0.70"/><circle cx="219.8" cy="949.2" r="0.79"/><circle cx="257.1" cy="981.3" r="0.63"/><circle cx="195.9" cy="993.7" r="0.82"/><circle cx="213.3" cy="980.3" r="0.66"/><circle cx="216.5" cy="978.9" r="0.51"/><circle cx="236.3" cy="969.6" r="0.57"/><circle cx="200.8" cy="1003.0" r="0.57"/><circle cx="194.5" cy="962.7" r="0.59"/><circle cx="239.8" cy="965.5" r="0.46"/><circle cx="211.4" cy="926.4" r="0.53"/><circle cx="168.3" cy="970.2" r="0.49"/><circle cx="228.9" cy="933.3" r="0.65"/><circle cx="230.9" cy="936.1" r="0.65"/><circle cx="196.7" cy="917.6" r="0.59"/><circle cx="235.7" cy="926.7" r="0.70"/><circle cx="191.3" cy="979.0" r="0.47"/><circle cx="224.3" cy="972.2" r="0.75"/><circle cx="214.6" cy="982.6" r="0.48"/><circle cx="240.2" cy="924.1" r="0.72"/><circle cx="210.5" cy="986.4" r="0.57"/><circle cx="196.4" cy="967.6" r="0.63"/><circle cx="211.3" cy="1010.8" r="0.84"/><circle cx="192.0" cy="955.6" r="0.84"/><circle cx="204.6" cy="990.0" r="0.45"/><circle cx="190.4" cy="985.6" r="0.65"/><circle cx="225.9" cy="996.0" r="0.45"/><circle cx="214.0" cy="977.4" r="0.61"/><circle cx="222.4" cy="964.6" r="0.57"/><circle cx="219.4" cy="1000.1" r="0.66"/><circle cx="215.4" cy="922.8" r="0.74"/><circle cx="237.6" cy="941.6" r="0.58"/><circle cx="234.2" cy="960.9" r="0.74"/><circle cx="208.9" cy="954.6" r="0.78"/><circle cx="245.6" cy="938.2" r="0.74"/><circle cx="222.3" cy="945.7" r="0.66"/><circle cx="170.4" cy="961.5" r="0.77"/><circle cx="232.7" cy="929.4" r="0.81"/><circle cx="198.5" cy="925.3" r="0.54"/><circle cx="232.9" cy="966.2" r="0.59"/><circle cx="250.9" cy="990.3" r="0.67"/><circle cx="188.3" cy="934.7" r="0.72"/><circle cx="212.5" cy="962.9" r="0.77"/><circle cx="214.9" cy="927.8" r="0.66"/><circle cx="208.5" cy="952.1" r="0.74"/><circle cx="215.1" cy="976.1" r="0.56"/><circle cx="212.4" cy="940.6" r="0.75"/><circle cx="249.5" cy="957.4" r="0.60"/><circle cx="175.0" cy="968.0" r="0.76"/><circle cx="186.0" cy="936.2" r="0.48"/><circle cx="230.2" cy="982.5" r="0.75"/><circle cx="202.9" cy="997.6" r="0.45"/><circle cx="239.0" cy="972.2" r="0.72"/><circle cx="200.9" cy="924.9" r="0.57"/><circle cx="181.9" cy="959.2" r="0.64"/><circle cx="249.5" cy="994.2" r="0.53"/><circle cx="262.5" cy="956.2" r="0.46"/><circle cx="172.2" cy="974.1" r="0.84"/><circle cx="191.1" cy="970.7" r="0.53"/><circle cx="236.6" cy="955.1" r="0.68"/><circle cx="237.7" cy="990.4" r="0.83"/><circle cx="245.3" cy="995.7" r="0.65"/><circle cx="246.6" cy="935.8" r="0.54"/><circle cx="242.8" cy="942.1" r="0.46"/><circle cx="249.8" cy="963.5" r="0.63"/><circle cx="209.4" cy="980.2" r="0.59"/><circle cx="197.1" cy="1004.0" r="0.45"/><circle cx="215.5" cy="917.6" r="0.50"/><circle cx="252.5" cy="944.2" r="0.81"/><circle cx="207.9" cy="991.8" r="0.61"/><circle cx="253.1" cy="962.4" r="0.59"/><circle cx="192.1" cy="974.0" r="0.47"/><circle cx="251.4" cy="989.5" r="0.56"/><circle cx="237.9" cy="953.0" r="0.56"/><circle cx="193.9" cy="961.2" r="0.60"/><circle cx="259.8" cy="950.1" r="0.77"/><circle cx="183.3" cy="928.2" r="0.83"/><circle cx="175.5" cy="950.0" r="0.47"/><circle cx="211.6" cy="929.9" r="0.75"/><circle cx="199.1" cy="942.0" r="0.47"/><circle cx="231.0" cy="954.9" r="0.64"/><circle cx="200.4" cy="985.0" r="0.75"/><circle cx="240.1" cy="959.0" r="0.71"/><circle cx="203.8" cy="997.6" r="0.61"/><circle cx="225.1" cy="979.9" r="0.53"/><circle cx="244.1" cy="943.4" r="0.54"/><circle cx="256.1" cy="935.4" r="0.63"/><circle cx="229.1" cy="979.3" r="0.49"/><circle cx="207.2" cy="975.1" r="0.55"/><circle cx="213.4" cy="999.8" r="0.80"/><circle cx="215.2" cy="931.1" r="0.62"/><circle cx="185.4" cy="958.1" r="0.59"/><circle cx="239.3" cy="972.6" r="0.84"/><circle cx="239.8" cy="987.5" r="0.70"/><circle cx="230.2" cy="945.3" r="0.56"/><circle cx="215.6" cy="993.8" r="0.63"/><circle cx="258.7" cy="949.8" r="0.80"/><circle cx="224.1" cy="963.9" r="0.73"/><circle cx="242.1" cy="942.1" r="0.68"/><circle cx="246.1" cy="962.7" r="0.82"/><circle cx="236.1" cy="922.2" r="0.84"/><circle cx="215.5" cy="978.9" r="0.51"/><circle cx="175.1" cy="957.0" r="0.83"/><circle cx="208.3" cy="923.7" r="0.76"/><circle cx="180.1" cy="972.4" r="0.47"/><circle cx="220.1" cy="939.5" r="0.82"/><circle cx="198.7" cy="941.2" r="0.50"/><circle cx="214.9" cy="1001.9" r="0.73"/><circle cx="225.2" cy="971.2" r="0.66"/><circle cx="188.7" cy="947.4" r="0.54"/><circle cx="211.2" cy="959.7" r="0.57"/><circle cx="168.6" cy="974.5" r="0.71"/><circle cx="240.6" cy="940.1" r="0.54"/><circle cx="216.2" cy="1010.9" r="0.73"/><circle cx="212.7" cy="969.5" r="0.65"/><circle cx="200.7" cy="934.3" r="0.55"/><circle cx="191.8" cy="921.6" r="0.54"/><circle cx="243.3" cy="968.8" r="0.62"/><circle cx="206.3" cy="942.7" r="0.77"/><circle cx="212.9" cy="927.8" r="0.53"/><circle cx="242.3" cy="957.5" r="0.78"/><circle cx="218.1" cy="985.7" r="0.75"/><circle cx="201.9" cy="1008.8" r="0.65"/><circle cx="224.2" cy="984.2" r="0.62"/><circle cx="191.0" cy="921.4" r="0.51"/><circle cx="197.5" cy="976.8" r="0.84"/><circle cx="222.3" cy="971.4" r="0.47"/><circle cx="178.8" cy="991.7" r="0.80"/><circle cx="210.0" cy="913.8" r="0.82"/><circle cx="205.2" cy="981.3" r="0.82"/><circle cx="215.1" cy="953.9" r="0.72"/><circle cx="193.5" cy="983.5" r="0.58"/><circle cx="216.6" cy="965.0" r="0.56"/><circle cx="186.7" cy="1001.3" r="0.50"/><circle cx="237.1" cy="957.7" r="0.59"/><circle cx="234.7" cy="922.5" r="0.62"/><circle cx="247.5" cy="973.0" r="0.60"/><circle cx="234.2" cy="952.2" r="0.60"/><circle cx="222.1" cy="957.5" r="0.61"/><circle cx="231.6" cy="922.8" r="0.47"/><circle cx="227.3" cy="965.4" r="0.82"/><circle cx="213.4" cy="1005.2" r="0.81"/><circle cx="201.7" cy="984.5" r="0.83"/><circle cx="196.6" cy="945.8" r="0.74"/><circle cx="204.8" cy="986.3" r="0.45"/><circle cx="217.0" cy="915.6" r="0.70"/><circle cx="222.5" cy="960.0" r="0.54"/><circle cx="167.8" cy="970.2" r="0.83"/><circle cx="196.7" cy="978.8" r="0.62"/><circle cx="167.9" cy="964.6" r="0.52"/><circle cx="229.0" cy="922.7" r="0.78"/><circle cx="220.8" cy="924.8" r="0.58"/><circle cx="202.8" cy="989.5" r="0.76"/><circle cx="234.5" cy="973.1" r="0.75"/><circle cx="215.5" cy="975.2" r="0.46"/><circle cx="188.7" cy="953.6" r="0.84"/><circle cx="251.7" cy="930.0" r="0.56"/><circle cx="228.5" cy="970.4" r="0.65"/><circle cx="207.1" cy="930.9" r="0.54"/><circle cx="181.7" cy="982.0" r="0.72"/><circle cx="214.7" cy="917.4" r="0.72"/><circle cx="248.0" cy="993.8" r="0.57"/><circle cx="187.9" cy="950.4" r="0.75"/><circle cx="223.0" cy="985.9" r="0.55"/><circle cx="241.7" cy="1000.7" r="0.68"/><circle cx="201.0" cy="990.2" r="0.85"/><circle cx="191.7" cy="961.6" r="0.77"/><circle cx="187.3" cy="922.5" r="0.49"/><circle cx="171.3" cy="969.7" r="0.79"/><circle cx="223.8" cy="957.6" r="0.57"/><circle cx="231.0" cy="977.3" r="0.84"/><circle cx="174.2" cy="939.0" r="0.60"/><circle cx="237.3" cy="938.1" r="0.55"/><circle cx="223.6" cy="915.6" r="0.49"/><circle cx="183.4" cy="940.7" r="0.54"/><circle cx="202.7" cy="976.3" r="0.53"/><circle cx="214.1" cy="1000.8" r="0.71"/><circle cx="216.8" cy="967.7" r="0.58"/><circle cx="206.1" cy="943.6" r="0.57"/><circle cx="228.0" cy="1004.7" r="0.67"/><circle cx="229.7" cy="968.8" r="0.61"/><circle cx="177.9" cy="950.5" r="0.49"/><circle cx="236.5" cy="997.8" r="0.61"/><circle cx="209.6" cy="989.4" r="0.83"/><circle cx="201.2" cy="996.9" r="0.59"/><circle cx="175.7" cy="985.6" r="0.85"/><circle cx="201.0" cy="979.2" r="0.74"/><circle cx="216.4" cy="966.3" r="0.81"/><circle cx="175.8" cy="983.2" r="0.61"/><circle cx="240.1" cy="940.3" r="0.52"/><circle cx="251.7" cy="966.1" r="0.71"/><circle cx="227.7" cy="954.8" r="0.70"/><circle cx="191.2" cy="988.0" r="0.51"/><circle cx="207.9" cy="997.4" r="0.82"/><circle cx="242.0" cy="984.5" r="0.77"/><circle cx="236.7" cy="958.2" r="0.50"/><circle cx="260.8" cy="945.7" r="0.64"/><circle cx="260.0" cy="978.3" r="0.61"/><circle cx="247.2" cy="940.8" r="0.78"/><circle cx="238.6" cy="999.6" r="0.54"/><circle cx="177.9" cy="988.3" r="0.78"/><circle cx="224.7" cy="983.7" r="0.61"/><circle cx="185.0" cy="959.3" r="0.50"/><circle cx="216.1" cy="1004.6" r="0.81"/><circle cx="251.0" cy="972.1" r="0.75"/><circle cx="259.1" cy="973.4" r="0.50"/><circle cx="185.7" cy="941.3" r="0.70"/><circle cx="204.3" cy="992.6" r="0.68"/><circle cx="179.6" cy="980.7" r="0.63"/><circle cx="208.3" cy="965.5" r="0.70"/><circle cx="191.5" cy="964.3" r="0.76"/><circle cx="221.5" cy="930.0" r="0.52"/><circle cx="199.4" cy="965.4" r="0.50"/><circle cx="201.8" cy="969.0" r="0.63"/><circle cx="205.4" cy="962.1" r="0.70"/><circle cx="251.9" cy="983.5" r="0.76"/><circle cx="203.9" cy="961.9" r="0.65"/><circle cx="180.8" cy="996.0" r="0.50"/><circle cx="245.9" cy="924.3" r="0.74"/><circle cx="223.9" cy="942.8" r="0.84"/><circle cx="167.2" cy="965.2" r="0.82"/><circle cx="237.5" cy="1000.3" r="0.82"/><circle cx="242.0" cy="974.4" r="0.75"/><circle cx="240.6" cy="1001.8" r="0.56"/><circle cx="222.8" cy="945.6" r="0.65"/><circle cx="235.0" cy="951.9" r="0.56"/><circle cx="187.5" cy="961.7" r="0.46"/><circle cx="223.5" cy="980.7" r="0.82"/><circle cx="195.4" cy="920.6" r="0.52"/><circle cx="218.9" cy="946.4" r="0.66"/><circle cx="196.0" cy="940.4" r="0.80"/><circle cx="180.1" cy="950.0" r="0.80"/><circle cx="254.1" cy="992.7" r="0.70"/><circle cx="180.7" cy="989.8" r="0.56"/><circle cx="252.6" cy="960.5" r="0.59"/><circle cx="218.3" cy="930.1" r="0.52"/><circle cx="214.9" cy="951.9" r="0.78"/><circle cx="214.4" cy="1002.0" r="0.84"/><circle cx="180.9" cy="942.1" r="0.58"/><circle cx="224.3" cy="962.8" r="0.51"/><circle cx="191.2" cy="941.1" r="0.66"/><circle cx="229.5" cy="951.8" r="0.54"/><circle cx="211.1" cy="956.7" r="0.45"/><circle cx="205.5" cy="975.4" r="0.59"/><circle cx="221.4" cy="999.8" r="0.69"/><circle cx="226.3" cy="1000.0" r="0.64"/><circle cx="246.8" cy="998.4" r="0.55"/><circle cx="224.3" cy="975.0" r="0.71"/><circle cx="245.3" cy="931.2" r="0.61"/><circle cx="214.8" cy="968.0" r="0.71"/><circle cx="188.4" cy="951.6" r="0.71"/><circle cx="170.6" cy="979.2" r="0.74"/><circle cx="215.7" cy="1009.5" r="0.47"/><circle cx="184.6" cy="956.5" r="0.55"/><circle cx="255.8" cy="978.3" r="0.45"/><circle cx="170.0" cy="947.7" r="0.51"/><circle cx="227.3" cy="999.2" r="0.65"/><circle cx="187.4" cy="928.2" r="0.52"/><circle cx="205.5" cy="987.8" r="0.47"/><circle cx="248.7" cy="934.8" r="0.74"/><circle cx="260.5" cy="964.5" r="0.75"/><circle cx="173.9" cy="971.9" r="0.63"/><circle cx="217.7" cy="978.5" r="0.54"/><circle cx="243.0" cy="969.6" r="0.75"/><circle cx="200.0" cy="920.1" r="0.73"/><circle cx="211.6" cy="999.1" r="0.62"/><circle cx="223.8" cy="928.1" r="0.56"/><circle cx="185.0" cy="925.1" r="0.54"/><circle cx="219.7" cy="958.5" r="0.55"/><circle cx="219.0" cy="1005.0" r="0.83"/><circle cx="214.6" cy="934.6" r="0.80"/><circle cx="203.9" cy="983.9" r="0.81"/><circle cx="187.4" cy="932.7" r="0.72"/><circle cx="248.7" cy="958.3" r="0.79"/><circle cx="200.6" cy="919.6" r="0.62"/><circle cx="209.4" cy="926.0" r="0.57"/><circle cx="224.5" cy="1000.4" r="0.48"/><circle cx="231.1" cy="952.8" r="0.46"/><circle cx="252.5" cy="992.2" r="0.59"/><circle cx="220.5" cy="969.2" r="0.47"/><circle cx="201.5" cy="926.0" r="0.73"/><circle cx="214.3" cy="950.1" r="0.69"/><circle cx="186.2" cy="996.4" r="0.78"/><circle cx="225.1" cy="954.7" r="0.80"/><circle cx="256.4" cy="938.2" r="0.49"/><circle cx="219.8" cy="978.5" r="0.46"/><circle cx="240.8" cy="926.5" r="0.70"/><circle cx="233.1" cy="927.9" r="0.56"/><circle cx="227.8" cy="971.7" r="0.75"/><circle cx="223.1" cy="989.4" r="0.62"/><circle cx="240.0" cy="966.0" r="0.56"/><circle cx="208.9" cy="933.5" r="0.58"/><circle cx="249.3" cy="954.9" r="0.79"/><circle cx="208.9" cy="956.8" r="0.62"/><circle cx="175.4" cy="979.5" r="0.59"/><circle cx="205.2" cy="928.1" r="0.54"/><circle cx="224.9" cy="951.4" r="0.78"/><circle cx="216.2" cy="964.3" r="0.53"/><circle cx="219.0" cy="914.2" r="0.45"/><circle cx="180.9" cy="964.7" r="0.77"/><circle cx="229.1" cy="994.4" r="0.59"/><circle cx="227.7" cy="940.8" r="0.83"/><circle cx="210.5" cy="985.0" r="0.73"/><circle cx="199.0" cy="962.9" r="0.70"/><circle cx="253.5" cy="984.0" r="0.73"/><circle cx="224.3" cy="924.8" r="0.59"/><circle cx="190.2" cy="980.7" r="0.81"/><circle cx="255.0" cy="986.6" r="0.46"/><circle cx="222.2" cy="987.0" r="0.81"/><circle cx="185.0" cy="962.5" r="0.80"/><circle cx="218.7" cy="995.9" r="0.66"/><circle cx="216.5" cy="920.0" r="0.71"/><circle cx="199.0" cy="985.6" r="0.51"/><circle cx="237.4" cy="929.3" r="0.75"/><circle cx="231.1" cy="991.2" r="0.76"/><circle cx="199.9" cy="954.4" r="0.63"/><circle cx="233.3" cy="946.8" r="0.53"/><circle cx="202.2" cy="1001.8" r="0.79"/><circle cx="226.3" cy="978.7" r="0.55"/><circle cx="198.8" cy="994.2" r="0.51"/><circle cx="205.2" cy="981.6" r="0.84"/><circle cx="213.2" cy="947.1" r="0.83"/><circle cx="239.8" cy="980.9" r="0.84"/><circle cx="227.0" cy="922.2" r="0.62"/><circle cx="228.3" cy="999.8" r="0.49"/><circle cx="223.6" cy="992.2" r="0.46"/><circle cx="180.1" cy="988.6" r="0.73"/><circle cx="176.2" cy="962.6" r="0.64"/><circle cx="239.3" cy="992.4" r="0.61"/><circle cx="212.6" cy="915.9" r="0.62"/><circle cx="177.2" cy="943.6" r="0.62"/><circle cx="220.9" cy="1004.1" r="0.80"/><circle cx="221.5" cy="922.0" r="0.79"/><circle cx="198.4" cy="927.1" r="0.63"/><circle cx="200.3" cy="998.7" r="0.49"/><circle cx="177.2" cy="983.8" r="0.74"/><circle cx="198.4" cy="944.8" r="0.62"/><circle cx="178.0" cy="973.5" r="0.61"/><circle cx="193.8" cy="920.4" r="0.52"/><circle cx="190.8" cy="926.9" r="0.61"/><circle cx="166.8" cy="965.8" r="0.47"/><circle cx="196.3" cy="957.4" r="0.76"/><circle cx="248.3" cy="949.8" r="0.49"/><circle cx="183.0" cy="946.4" r="0.74"/><circle cx="176.1" cy="959.7" r="0.78"/><circle cx="184.1" cy="958.4" r="0.83"/><circle cx="225.4" cy="1002.1" r="0.61"/><circle cx="216.7" cy="945.5" r="0.84"/><circle cx="208.1" cy="971.9" r="0.56"/><circle cx="210.7" cy="966.0" r="0.62"/><circle cx="179.2" cy="982.4" r="0.59"/><circle cx="213.1" cy="985.9" r="0.75"/><circle cx="248.5" cy="949.5" r="0.54"/><circle cx="225.1" cy="933.5" r="0.53"/><circle cx="245.1" cy="994.2" r="0.77"/><circle cx="192.9" cy="937.5" r="0.67"/><circle cx="222.6" cy="1010.5" r="0.59"/><circle cx="186.7" cy="928.6" r="0.78"/><circle cx="189.1" cy="968.0" r="0.67"/><circle cx="247.0" cy="994.5" r="0.59"/><circle cx="230.3" cy="942.2" r="0.60"/><circle cx="214.6" cy="994.8" r="0.52"/><circle cx="257.1" cy="963.4" r="0.56"/><circle cx="216.2" cy="989.7" r="0.64"/><circle cx="179.9" cy="979.8" r="0.71"/><circle cx="184.5" cy="998.8" r="0.79"/><circle cx="257.2" cy="978.4" r="0.81"/><circle cx="219.2" cy="944.7" r="0.78"/><circle cx="211.3" cy="958.2" r="0.45"/><circle cx="253.3" cy="950.8" r="0.55"/><circle cx="230.2" cy="973.8" r="0.54"/><circle cx="220.1" cy="934.1" r="0.51"/><circle cx="251.4" cy="937.9" r="0.52"/><circle cx="245.0" cy="938.5" r="0.76"/><circle cx="192.5" cy="922.2" r="0.77"/><circle cx="226.9" cy="944.2" r="0.73"/><circle cx="173.7" cy="954.6" r="0.63"/><circle cx="242.4" cy="938.1" r="0.56"/><circle cx="217.1" cy="981.0" r="0.65"/><circle cx="246.7" cy="974.8" r="0.51"/><circle cx="180.6" cy="964.6" r="0.67"/><circle cx="217.9" cy="959.7" r="0.79"/><circle cx="179.1" cy="970.1" r="0.72"/><circle cx="231.5" cy="937.3" r="0.62"/><circle cx="228.4" cy="959.4" r="0.70"/><circle cx="209.8" cy="956.4" r="0.69"/><circle cx="195.8" cy="919.4" r="0.58"/><circle cx="250.2" cy="958.7" r="0.64"/><circle cx="222.5" cy="957.3" r="0.74"/><circle cx="195.1" cy="942.4" r="0.79"/><circle cx="192.7" cy="988.0" r="0.66"/><circle cx="218.2" cy="940.3" r="0.62"/><circle cx="182.9" cy="979.9" r="0.78"/><circle cx="203.4" cy="1005.8" r="0.61"/><circle cx="189.7" cy="962.1" r="0.65"/><circle cx="254.6" cy="956.5" r="0.77"/><circle cx="201.8" cy="986.9" r="0.57"/><circle cx="181.7" cy="942.4" r="0.76"/><circle cx="255.8" cy="973.1" r="0.80"/><circle cx="204.8" cy="959.6" r="0.57"/><circle cx="236.7" cy="963.5" r="0.82"/><circle cx="184.3" cy="937.5" r="0.77"/><circle cx="247.8" cy="942.0" r="0.70"/><circle cx="186.6" cy="933.3" r="0.69"/><circle cx="205.8" cy="942.1" r="0.72"/><circle cx="173.8" cy="973.9" r="0.49"/><circle cx="219.3" cy="971.3" r="0.76"/><circle cx="249.5" cy="942.2" r="0.60"/><circle cx="234.5" cy="923.5" r="0.67"/><circle cx="213.9" cy="989.7" r="0.62"/><circle cx="201.8" cy="992.0" r="0.71"/><circle cx="225.8" cy="958.1" r="0.68"/><circle cx="231.7" cy="966.9" r="0.77"/><circle cx="173.3" cy="941.2" r="0.63"/><circle cx="245.8" cy="965.4" r="0.69"/><circle cx="260.3" cy="944.1" r="0.64"/><circle cx="201.9" cy="970.9" r="0.71"/><circle cx="219.8" cy="981.3" r="0.46"/><circle cx="256.0" cy="963.9" r="0.50"/><circle cx="229.6" cy="959.6" r="0.80"/><circle cx="219.8" cy="967.5" r="0.74"/><circle cx="217.3" cy="1004.8" r="0.52"/><circle cx="256.5" cy="976.1" r="0.74"/><circle cx="241.2" cy="929.6" r="0.48"/><circle cx="186.7" cy="932.7" r="0.63"/><circle cx="237.9" cy="952.5" r="0.84"/><circle cx="214.2" cy="957.6" r="0.46"/><circle cx="189.3" cy="926.6" r="0.48"/><circle cx="199.6" cy="1001.7" r="0.52"/><circle cx="237.3" cy="936.4" r="0.47"/><circle cx="190.2" cy="990.3" r="0.63"/><circle cx="207.0" cy="945.9" r="0.77"/><circle cx="189.5" cy="992.6" r="0.70"/><circle cx="188.7" cy="977.8" r="0.76"/><circle cx="256.3" cy="947.9" r="0.68"/><circle cx="212.1" cy="974.4" r="0.84"/><circle cx="202.3" cy="919.9" r="0.58"/><circle cx="177.0" cy="932.7" r="0.78"/><circle cx="193.3" cy="946.5" r="0.62"/><circle cx="238.3" cy="943.2" r="0.72"/><circle cx="177.9" cy="934.9" r="0.77"/><circle cx="214.9" cy="964.7" r="0.56"/><circle cx="182.0" cy="980.3" r="0.78"/><circle cx="223.0" cy="956.1" r="0.78"/><circle cx="232.6" cy="920.3" r="0.68"/><circle cx="208.5" cy="1007.6" r="0.77"/><circle cx="196.5" cy="919.6" r="0.59"/><circle cx="246.8" cy="981.3" r="0.77"/><circle cx="228.4" cy="1003.3" r="0.82"/><circle cx="219.1" cy="1000.8" r="0.72"/><circle cx="193.5" cy="967.5" r="0.55"/><circle cx="215.6" cy="918.9" r="0.63"/><circle cx="252.9" cy="985.8" r="0.76"/><circle cx="219.3" cy="999.9" r="0.81"/><circle cx="242.0" cy="939.2" r="0.64"/><circle cx="197.2" cy="951.3" r="0.53"/><circle cx="232.7" cy="1000.1" r="0.60"/><circle cx="186.6" cy="950.4" r="0.66"/><circle cx="221.5" cy="971.1" r="0.85"/><circle cx="204.0" cy="974.1" r="0.70"/><circle cx="219.8" cy="943.8" r="0.69"/><circle cx="195.4" cy="992.0" r="0.46"/><circle cx="263.2" cy="973.0" r="0.80"/><circle cx="178.4" cy="965.9" r="0.55"/><circle cx="221.2" cy="931.1" r="0.83"/><circle cx="220.1" cy="918.4" r="0.84"/><circle cx="215.1" cy="972.3" r="0.53"/><circle cx="221.3" cy="975.6" r="0.47"/><circle cx="172.3" cy="946.5" r="0.63"/><circle cx="259.7" cy="947.4" r="0.48"/><circle cx="190.0" cy="944.8" r="0.50"/><circle cx="239.4" cy="956.4" r="0.68"/><circle cx="184.8" cy="925.5" r="0.72"/><circle cx="189.5" cy="983.2" r="0.51"/><circle cx="263.2" cy="952.2" r="0.54"/><circle cx="239.5" cy="968.7" r="0.59"/><circle cx="253.6" cy="935.9" r="0.78"/><circle cx="257.0" cy="975.4" r="0.73"/><circle cx="185.8" cy="923.8" r="0.47"/><circle cx="241.5" cy="996.4" r="0.83"/><circle cx="203.4" cy="938.6" r="0.69"/><circle cx="216.1" cy="946.7" r="0.58"/><circle cx="214.5" cy="980.0" r="0.64"/><circle cx="227.1" cy="983.6" r="0.51"/><circle cx="212.9" cy="957.7" r="0.74"/><circle cx="218.5" cy="971.5" r="0.82"/><circle cx="224.0" cy="1009.4" r="0.80"/><circle cx="229.4" cy="950.9" r="0.63"/><circle cx="254.2" cy="989.8" r="0.79"/><circle cx="192.4" cy="938.8" r="0.59"/><circle cx="230.4" cy="932.2" r="0.70"/><circle cx="229.8" cy="980.8" r="0.47"/><circle cx="207.0" cy="927.0" r="0.51"/><circle cx="232.8" cy="944.3" r="0.61"/><circle cx="229.6" cy="983.9" r="0.79"/><circle cx="205.1" cy="980.1" r="0.65"/><circle cx="195.9" cy="1005.2" r="0.50"/><circle cx="226.9" cy="961.1" r="0.81"/><circle cx="204.2" cy="943.0" r="0.64"/><circle cx="209.7" cy="987.0" r="0.53"/><circle cx="183.1" cy="999.6" r="0.85"/><circle cx="229.0" cy="955.7" r="0.57"/><circle cx="224.7" cy="955.5" r="0.74"/><circle cx="202.2" cy="1009.6" r="0.46"/><circle cx="225.4" cy="935.8" r="0.51"/><circle cx="260.2" cy="963.2" r="0.66"/><circle cx="228.0" cy="992.6" r="0.81"/><circle cx="222.7" cy="999.2" r="0.51"/><circle cx="233.7" cy="1001.8" r="0.73"/><circle cx="219.9" cy="975.8" r="0.48"/><circle cx="188.4" cy="940.9" r="0.56"/><circle cx="225.8" cy="999.7" r="0.73"/><circle cx="229.5" cy="927.9" r="0.53"/><circle cx="253.9" cy="979.6" r="0.61"/><circle cx="213.2" cy="951.3" r="0.77"/><circle cx="192.3" cy="1001.5" r="0.80"/><circle cx="209.2" cy="963.0" r="0.81"/><circle cx="169.9" cy="969.4" r="0.56"/><circle cx="232.8" cy="1004.0" r="0.60"/><circle cx="230.8" cy="988.4" r="0.69"/><circle cx="250.8" cy="963.7" r="0.63"/><circle cx="198.3" cy="961.0" r="0.74"/><circle cx="233.9" cy="920.9" r="0.58"/><circle cx="208.0" cy="933.2" r="0.75"/><circle cx="257.9" cy="979.9" r="0.83"/><circle cx="180.1" cy="963.9" r="0.66"/><circle cx="208.4" cy="961.1" r="0.84"/><circle cx="218.8" cy="983.4" r="0.49"/><circle cx="215.2" cy="1007.2" r="0.46"/><circle cx="249.1" cy="986.1" r="0.53"/><circle cx="253.2" cy="966.9" r="0.68"/><circle cx="174.5" cy="956.8" r="0.49"/><circle cx="243.7" cy="932.2" r="0.47"/><circle cx="240.0" cy="986.8" r="0.65"/><circle cx="212.1" cy="979.6" r="0.61"/><circle cx="240.0" cy="991.4" r="0.79"/><circle cx="237.7" cy="992.4" r="0.75"/><circle cx="238.2" cy="1001.1" r="0.83"/><circle cx="190.9" cy="983.2" r="0.79"/><circle cx="184.8" cy="957.7" r="0.83"/><circle cx="220.1" cy="934.5" r="0.55"/><circle cx="198.8" cy="990.6" r="0.84"/><circle cx="231.1" cy="918.4" r="0.78"/><circle cx="221.9" cy="953.4" r="0.66"/><circle cx="261.2" cy="950.3" r="0.55"/><circle cx="180.8" cy="981.1" r="0.60"/><circle cx="202.6" cy="960.2" r="0.62"/><circle cx="208.2" cy="962.5" r="0.51"/><circle cx="257.9" cy="954.5" r="0.82"/><circle cx="185.7" cy="929.8" r="0.80"/><circle cx="222.1" cy="956.7" r="0.71"/><circle cx="211.3" cy="1003.0" r="0.56"/><circle cx="169.7" cy="950.3" r="0.70"/><circle cx="215.2" cy="998.2" r="0.62"/><circle cx="240.4" cy="954.7" r="0.57"/><circle cx="205.1" cy="949.0" r="0.69"/><circle cx="249.2" cy="953.1" r="0.56"/><circle cx="180.1" cy="970.2" r="0.51"/><circle cx="228.0" cy="975.2" r="0.57"/><circle cx="193.3" cy="977.3" r="0.55"/><circle cx="246.3" cy="981.8" r="0.79"/><circle cx="186.7" cy="939.0" r="0.71"/><circle cx="227.8" cy="1002.2" r="0.63"/><circle cx="178.5" cy="951.3" r="0.64"/><circle cx="206.3" cy="985.2" r="0.54"/><circle cx="184.9" cy="960.3" r="0.68"/><circle cx="244.4" cy="964.9" r="0.79"/><circle cx="217.9" cy="999.3" r="0.65"/><circle cx="204.7" cy="1010.4" r="0.57"/><circle cx="218.0" cy="943.3" r="0.48"/><circle cx="237.8" cy="939.1" r="0.47"/><circle cx="190.4" cy="983.8" r="0.74"/><circle cx="233.4" cy="977.5" r="0.83"/><circle cx="213.9" cy="943.4" r="0.58"/><circle cx="191.0" cy="995.0" r="0.70"/><circle cx="241.5" cy="926.6" r="0.66"/><circle cx="212.3" cy="920.4" r="0.75"/><circle cx="172.2" cy="969.5" r="0.73"/><circle cx="230.4" cy="953.7" r="0.80"/><circle cx="258.3" cy="963.9" r="0.68"/><circle cx="167.0" cy="963.3" r="0.68"/><circle cx="177.4" cy="984.2" r="0.80"/><circle cx="191.6" cy="943.8" r="0.63"/><circle cx="174.9" cy="973.6" r="0.57"/></g>
<g fill="#7a18e8" opacity="0.7"><circle cx="186.9" cy="985.9" r="0.60"/><circle cx="196.2" cy="1002.0" r="0.79"/><circle cx="182.5" cy="962.8" r="0.52"/><circle cx="209.1" cy="980.4" r="0.68"/><circle cx="202.6" cy="955.5" r="0.82"/><circle cx="195.1" cy="1003.1" r="0.79"/><circle cx="236.8" cy="957.0" r="0.62"/><circle cx="219.6" cy="960.0" r="0.47"/><circle cx="183.5" cy="948.9" r="0.82"/><circle cx="220.6" cy="927.0" r="0.85"/><circle cx="180.1" cy="958.8" r="0.72"/><circle cx="192.7" cy="981.5" r="0.69"/><circle cx="186.9" cy="1001.3" r="0.72"/><circle cx="200.0" cy="960.3" r="0.60"/><circle cx="185.4" cy="984.2" r="0.68"/><circle cx="250.5" cy="929.6" r="0.64"/><circle cx="179.1" cy="977.0" r="0.85"/><circle cx="195.5" cy="992.5" r="0.78"/><circle cx="228.6" cy="987.1" r="0.84"/><circle cx="231.5" cy="931.4" r="0.49"/><circle cx="247.5" cy="937.6" r="0.78"/><circle cx="261.6" cy="959.9" r="0.62"/><circle cx="230.0" cy="984.7" r="0.65"/><circle cx="194.0" cy="962.0" r="0.52"/><circle cx="189.2" cy="934.8" r="0.59"/><circle cx="254.5" cy="961.2" r="0.47"/><circle cx="178.2" cy="985.8" r="0.57"/><circle cx="214.2" cy="959.8" r="0.57"/><circle cx="235.9" cy="931.2" r="0.72"/><circle cx="226.7" cy="995.5" r="0.67"/><circle cx="211.3" cy="1002.1" r="0.66"/><circle cx="252.6" cy="962.0" r="0.61"/><circle cx="229.4" cy="976.2" r="0.75"/><circle cx="227.5" cy="972.4" r="0.52"/><circle cx="171.1" cy="956.4" r="0.70"/><circle cx="219.6" cy="951.2" r="0.45"/><circle cx="218.9" cy="935.0" r="0.74"/><circle cx="203.0" cy="978.8" r="0.56"/><circle cx="253.2" cy="990.1" r="0.68"/><circle cx="196.1" cy="989.5" r="0.60"/><circle cx="259.0" cy="978.3" r="0.68"/><circle cx="246.9" cy="954.5" r="0.70"/><circle cx="215.3" cy="973.0" r="0.82"/><circle cx="232.2" cy="940.9" r="0.81"/><circle cx="226.2" cy="937.9" r="0.69"/><circle cx="248.8" cy="954.1" r="0.83"/><circle cx="216.7" cy="993.4" r="0.74"/><circle cx="220.2" cy="989.6" r="0.80"/><circle cx="171.7" cy="967.0" r="0.55"/><circle cx="228.9" cy="988.8" r="0.52"/><circle cx="241.4" cy="958.0" r="0.67"/><circle cx="242.3" cy="986.5" r="0.60"/><circle cx="205.0" cy="969.9" r="0.50"/><circle cx="228.7" cy="936.8" r="0.55"/><circle cx="224.8" cy="987.1" r="0.54"/><circle cx="254.4" cy="971.4" r="0.59"/><circle cx="238.3" cy="997.0" r="0.49"/><circle cx="209.8" cy="1007.3" r="0.50"/><circle cx="173.1" cy="978.4" r="0.77"/><circle cx="231.1" cy="987.3" r="0.74"/><circle cx="180.8" cy="996.4" r="0.53"/><circle cx="248.6" cy="952.1" r="0.54"/><circle cx="198.3" cy="967.9" r="0.73"/><circle cx="212.1" cy="1009.3" r="0.69"/><circle cx="198.8" cy="980.7" r="0.69"/><circle cx="226.0" cy="1007.4" r="0.50"/><circle cx="179.2" cy="959.7" r="0.56"/><circle cx="219.5" cy="932.5" r="0.71"/><circle cx="190.3" cy="951.4" r="0.61"/><circle cx="233.0" cy="973.4" r="0.79"/><circle cx="198.0" cy="998.8" r="0.49"/><circle cx="187.9" cy="951.5" r="0.65"/><circle cx="211.6" cy="974.8" r="0.57"/><circle cx="217.9" cy="980.0" r="0.74"/><circle cx="209.0" cy="993.3" r="0.81"/><circle cx="222.5" cy="917.0" r="0.79"/><circle cx="232.8" cy="981.8" r="0.46"/><circle cx="198.1" cy="926.5" r="0.59"/><circle cx="181.2" cy="983.6" r="0.73"/><circle cx="215.7" cy="1008.0" r="0.59"/><circle cx="200.8" cy="947.5" r="0.50"/><circle cx="251.3" cy="940.7" r="0.74"/><circle cx="224.8" cy="965.2" r="0.51"/><circle cx="224.0" cy="988.4" r="0.60"/><circle cx="241.9" cy="969.4" r="0.71"/><circle cx="234.6" cy="1003.4" r="0.68"/><circle cx="210.1" cy="938.4" r="0.62"/><circle cx="203.6" cy="936.1" r="0.45"/><circle cx="237.2" cy="925.3" r="0.56"/><circle cx="259.1" cy="974.8" r="0.69"/><circle cx="238.6" cy="969.8" r="0.49"/><circle cx="221.1" cy="940.9" r="0.82"/><circle cx="215.3" cy="948.3" r="0.73"/><circle cx="181.9" cy="989.1" r="0.78"/><circle cx="212.4" cy="977.2" r="0.83"/><circle cx="173.2" cy="984.5" r="0.73"/><circle cx="212.1" cy="918.0" r="0.70"/><circle cx="204.3" cy="966.1" r="0.73"/><circle cx="183.6" cy="978.0" r="0.82"/><circle cx="245.2" cy="993.6" r="0.47"/><circle cx="202.4" cy="920.5" r="0.55"/><circle cx="168.9" cy="948.8" r="0.71"/><circle cx="191.6" cy="956.0" r="0.47"/><circle cx="195.5" cy="987.3" r="0.53"/><circle cx="208.5" cy="979.6" r="0.73"/><circle cx="203.8" cy="941.6" r="0.55"/><circle cx="182.6" cy="959.5" r="0.82"/><circle cx="199.3" cy="984.3" r="0.80"/><circle cx="238.5" cy="991.4" r="0.58"/><circle cx="229.9" cy="929.3" r="0.75"/><circle cx="234.8" cy="997.8" r="0.69"/><circle cx="173.5" cy="973.1" r="0.78"/><circle cx="235.2" cy="980.1" r="0.59"/><circle cx="218.6" cy="974.3" r="0.56"/><circle cx="228.7" cy="1001.7" r="0.63"/><circle cx="236.6" cy="981.0" r="0.64"/><circle cx="202.2" cy="978.0" r="0.48"/><circle cx="264.2" cy="966.0" r="0.75"/><circle cx="251.3" cy="983.7" r="0.84"/><circle cx="200.4" cy="956.4" r="0.65"/><circle cx="195.7" cy="971.3" r="0.67"/><circle cx="262.4" cy="965.2" r="0.71"/><circle cx="182.2" cy="928.5" r="0.71"/><circle cx="215.1" cy="987.1" r="0.51"/><circle cx="257.9" cy="970.2" r="0.79"/><circle cx="209.2" cy="983.0" r="0.71"/><circle cx="242.1" cy="923.6" r="0.52"/><circle cx="225.0" cy="918.9" r="0.75"/><circle cx="205.5" cy="981.4" r="0.78"/><circle cx="202.6" cy="989.7" r="0.67"/><circle cx="184.7" cy="995.5" r="0.55"/><circle cx="251.1" cy="972.2" r="0.70"/><circle cx="232.8" cy="925.3" r="0.81"/><circle cx="247.8" cy="951.0" r="0.65"/><circle cx="230.1" cy="985.2" r="0.68"/><circle cx="251.0" cy="982.4" r="0.52"/><circle cx="169.9" cy="979.6" r="0.49"/><circle cx="246.9" cy="970.8" r="0.53"/><circle cx="214.9" cy="960.1" r="0.79"/><circle cx="242.1" cy="928.3" r="0.62"/><circle cx="207.0" cy="1001.8" r="0.66"/><circle cx="190.1" cy="976.3" r="0.63"/><circle cx="192.8" cy="924.1" r="0.81"/><circle cx="229.0" cy="985.7" r="0.63"/><circle cx="188.5" cy="951.4" r="0.53"/><circle cx="239.4" cy="977.0" r="0.63"/><circle cx="261.4" cy="954.3" r="0.80"/><circle cx="262.9" cy="955.0" r="0.70"/><circle cx="219.8" cy="951.5" r="0.72"/><circle cx="194.5" cy="945.7" r="0.68"/><circle cx="247.9" cy="952.7" r="0.71"/><circle cx="206.5" cy="990.2" r="0.80"/><circle cx="236.4" cy="966.4" r="0.72"/><circle cx="201.7" cy="967.4" r="0.71"/><circle cx="189.3" cy="989.7" r="0.62"/><circle cx="179.0" cy="955.8" r="0.61"/><circle cx="231.0" cy="976.4" r="0.81"/><circle cx="199.6" cy="957.8" r="0.79"/><circle cx="215.0" cy="977.9" r="0.66"/><circle cx="215.0" cy="997.1" r="0.67"/><circle cx="220.8" cy="999.5" r="0.50"/><circle cx="177.7" cy="959.6" r="0.48"/><circle cx="204.1" cy="970.0" r="0.63"/><circle cx="239.2" cy="935.1" r="0.74"/><circle cx="216.0" cy="946.1" r="0.85"/><circle cx="212.5" cy="947.2" r="0.78"/><circle cx="199.5" cy="975.5" r="0.83"/><circle cx="175.3" cy="946.0" r="0.50"/><circle cx="217.2" cy="951.1" r="0.54"/><circle cx="211.1" cy="967.1" r="0.69"/><circle cx="221.5" cy="988.9" r="0.73"/><circle cx="173.8" cy="983.5" r="0.70"/><circle cx="240.9" cy="936.1" r="0.82"/><circle cx="229.2" cy="948.1" r="0.75"/><circle cx="191.9" cy="998.8" r="0.72"/><circle cx="223.2" cy="947.4" r="0.60"/><circle cx="211.5" cy="914.9" r="0.74"/><circle cx="252.1" cy="973.0" r="0.49"/><circle cx="173.3" cy="949.4" r="0.50"/><circle cx="251.4" cy="944.4" r="0.55"/><circle cx="226.8" cy="993.5" r="0.79"/><circle cx="200.8" cy="954.6" r="0.46"/><circle cx="249.1" cy="990.9" r="0.52"/><circle cx="190.3" cy="953.8" r="0.72"/><circle cx="201.6" cy="975.4" r="0.80"/><circle cx="175.6" cy="952.9" r="0.77"/><circle cx="220.8" cy="960.9" r="0.59"/><circle cx="235.6" cy="991.0" r="0.80"/><circle cx="218.2" cy="953.9" r="0.52"/><circle cx="232.2" cy="925.8" r="0.61"/><circle cx="196.0" cy="965.7" r="0.79"/><circle cx="179.3" cy="991.2" r="0.69"/><circle cx="240.4" cy="975.7" r="0.54"/><circle cx="245.0" cy="939.4" r="0.47"/><circle cx="229.6" cy="988.6" r="0.64"/><circle cx="188.2" cy="948.4" r="0.59"/><circle cx="252.7" cy="964.1" r="0.58"/><circle cx="248.4" cy="967.0" r="0.84"/><circle cx="233.3" cy="968.0" r="0.72"/><circle cx="211.6" cy="988.2" r="0.65"/><circle cx="212.5" cy="999.7" r="0.66"/><circle cx="262.5" cy="949.6" r="0.46"/><circle cx="175.2" cy="946.6" r="0.80"/><circle cx="221.3" cy="924.0" r="0.70"/><circle cx="198.3" cy="982.5" r="0.77"/><circle cx="248.5" cy="928.5" r="0.72"/><circle cx="201.0" cy="1003.2" r="0.75"/><circle cx="176.1" cy="960.5" r="0.59"/><circle cx="185.5" cy="952.9" r="0.47"/><circle cx="200.7" cy="986.6" r="0.85"/><circle cx="185.7" cy="966.2" r="0.55"/><circle cx="218.1" cy="991.6" r="0.50"/><circle cx="261.2" cy="964.8" r="0.63"/><circle cx="180.3" cy="975.2" r="0.57"/><circle cx="221.5" cy="973.8" r="0.57"/><circle cx="200.2" cy="1001.8" r="0.67"/><circle cx="241.8" cy="951.7" r="0.82"/><circle cx="203.2" cy="955.7" r="0.52"/><circle cx="172.5" cy="939.0" r="0.59"/><circle cx="220.2" cy="930.9" r="0.80"/><circle cx="246.5" cy="976.8" r="0.81"/><circle cx="211.3" cy="987.3" r="0.46"/><circle cx="228.3" cy="984.6" r="0.73"/><circle cx="221.5" cy="993.2" r="0.53"/><circle cx="178.8" cy="935.1" r="0.71"/><circle cx="229.1" cy="1002.5" r="0.84"/><circle cx="204.1" cy="954.5" r="0.77"/><circle cx="235.7" cy="942.4" r="0.50"/><circle cx="229.0" cy="996.1" r="0.80"/><circle cx="185.1" cy="926.3" r="0.53"/><circle cx="195.5" cy="1000.4" r="0.71"/><circle cx="181.7" cy="985.4" r="0.59"/><circle cx="244.9" cy="973.9" r="0.47"/><circle cx="195.3" cy="942.4" r="0.65"/><circle cx="194.9" cy="948.3" r="0.64"/><circle cx="262.5" cy="966.7" r="0.68"/><circle cx="226.9" cy="961.8" r="0.70"/><circle cx="210.7" cy="934.8" r="0.49"/><circle cx="225.6" cy="978.1" r="0.76"/><circle cx="252.8" cy="986.5" r="0.62"/><circle cx="178.7" cy="953.6" r="0.67"/><circle cx="194.3" cy="930.8" r="0.58"/><circle cx="213.9" cy="937.8" r="0.73"/><circle cx="218.9" cy="919.5" r="0.57"/><circle cx="222.2" cy="914.5" r="0.63"/><circle cx="209.0" cy="997.7" r="0.83"/><circle cx="218.5" cy="966.1" r="0.64"/><circle cx="191.0" cy="926.8" r="0.59"/><circle cx="238.8" cy="961.2" r="0.75"/><circle cx="222.2" cy="967.1" r="0.50"/><circle cx="247.7" cy="975.6" r="0.67"/><circle cx="235.1" cy="1006.1" r="0.60"/><circle cx="227.6" cy="979.4" r="0.75"/><circle cx="232.7" cy="953.3" r="0.46"/><circle cx="219.6" cy="938.8" r="0.84"/><circle cx="176.1" cy="963.0" r="0.59"/><circle cx="225.7" cy="931.0" r="0.58"/><circle cx="228.6" cy="953.5" r="0.74"/><circle cx="251.5" cy="978.5" r="0.61"/><circle cx="223.2" cy="953.6" r="0.68"/><circle cx="175.5" cy="988.0" r="0.83"/><circle cx="199.1" cy="946.0" r="0.55"/><circle cx="212.8" cy="995.0" r="0.54"/><circle cx="227.7" cy="1003.7" r="0.71"/><circle cx="200.6" cy="1009.5" r="0.54"/><circle cx="197.7" cy="954.5" r="0.80"/><circle cx="232.6" cy="944.1" r="0.75"/><circle cx="226.9" cy="939.2" r="0.58"/><circle cx="169.1" cy="966.9" r="0.51"/><circle cx="199.7" cy="928.0" r="0.63"/><circle cx="174.7" cy="940.6" r="0.53"/><circle cx="237.3" cy="943.0" r="0.76"/><circle cx="229.0" cy="946.8" r="0.80"/><circle cx="242.1" cy="961.8" r="0.46"/><circle cx="252.4" cy="994.0" r="0.45"/><circle cx="231.5" cy="952.6" r="0.74"/><circle cx="231.8" cy="974.3" r="0.72"/><circle cx="239.5" cy="978.1" r="0.82"/><circle cx="205.6" cy="917.5" r="0.84"/><circle cx="238.6" cy="967.6" r="0.77"/><circle cx="211.7" cy="953.8" r="0.65"/><circle cx="219.0" cy="994.8" r="0.49"/><circle cx="263.9" cy="968.8" r="0.58"/><circle cx="227.6" cy="950.9" r="0.64"/><circle cx="236.5" cy="987.0" r="0.52"/><circle cx="207.8" cy="945.3" r="0.75"/><circle cx="198.8" cy="962.6" r="0.59"/><circle cx="168.2" cy="963.8" r="0.59"/><circle cx="225.8" cy="1009.9" r="0.80"/><circle cx="212.3" cy="937.2" r="0.52"/><circle cx="214.1" cy="975.6" r="0.47"/><circle cx="183.9" cy="961.0" r="0.67"/><circle cx="212.0" cy="966.5" r="0.73"/><circle cx="194.5" cy="932.9" r="0.67"/><circle cx="197.4" cy="917.3" r="0.80"/><circle cx="209.0" cy="932.2" r="0.58"/><circle cx="172.9" cy="986.3" r="0.60"/><circle cx="191.6" cy="983.5" r="0.51"/><circle cx="218.9" cy="962.7" r="0.69"/><circle cx="237.5" cy="951.6" r="0.69"/><circle cx="198.0" cy="979.6" r="0.53"/><circle cx="249.0" cy="992.8" r="0.76"/><circle cx="224.5" cy="956.7" r="0.73"/><circle cx="197.5" cy="998.0" r="0.67"/><circle cx="195.9" cy="1007.1" r="0.45"/><circle cx="214.2" cy="917.3" r="0.65"/><circle cx="174.3" cy="935.8" r="0.54"/><circle cx="186.2" cy="931.9" r="0.60"/><circle cx="208.0" cy="932.7" r="0.66"/><circle cx="184.6" cy="936.3" r="0.58"/><circle cx="190.3" cy="936.4" r="0.54"/><circle cx="196.0" cy="946.3" r="0.81"/><circle cx="174.1" cy="969.7" r="0.66"/><circle cx="192.4" cy="966.1" r="0.51"/><circle cx="247.4" cy="946.9" r="0.66"/><circle cx="171.6" cy="955.1" r="0.55"/><circle cx="236.2" cy="1002.1" r="0.63"/><circle cx="186.9" cy="928.1" r="0.81"/><circle cx="222.2" cy="955.1" r="0.60"/><circle cx="237.3" cy="924.0" r="0.50"/><circle cx="229.3" cy="983.0" r="0.49"/><circle cx="187.9" cy="997.3" r="0.66"/><circle cx="201.3" cy="967.0" r="0.61"/><circle cx="256.3" cy="961.9" r="0.63"/><circle cx="171.7" cy="968.7" r="0.75"/><circle cx="239.2" cy="995.5" r="0.60"/><circle cx="191.5" cy="959.6" r="0.60"/><circle cx="199.0" cy="988.3" r="0.46"/><circle cx="226.6" cy="998.1" r="0.47"/><circle cx="233.4" cy="1000.2" r="0.56"/><circle cx="204.4" cy="984.3" r="0.78"/><circle cx="248.3" cy="984.0" r="0.79"/><circle cx="224.9" cy="993.2" r="0.77"/><circle cx="193.2" cy="942.5" r="0.47"/><circle cx="187.4" cy="973.2" r="0.74"/><circle cx="206.5" cy="992.9" r="0.71"/><circle cx="226.2" cy="935.6" r="0.60"/><circle cx="173.7" cy="940.2" r="0.53"/><circle cx="256.1" cy="955.3" r="0.60"/><circle cx="201.0" cy="938.3" r="0.48"/><circle cx="216.4" cy="932.4" r="0.66"/><circle cx="168.6" cy="963.7" r="0.75"/><circle cx="252.7" cy="968.8" r="0.64"/><circle cx="171.5" cy="973.3" r="0.62"/><circle cx="169.5" cy="970.4" r="0.63"/><circle cx="180.2" cy="964.6" r="0.78"/><circle cx="195.0" cy="925.6" r="0.61"/><circle cx="254.6" cy="972.9" r="0.67"/><circle cx="220.5" cy="919.8" r="0.50"/><circle cx="217.8" cy="976.1" r="0.78"/><circle cx="227.0" cy="971.4" r="0.75"/><circle cx="204.7" cy="958.2" r="0.72"/><circle cx="207.0" cy="929.5" r="0.47"/><circle cx="203.8" cy="933.1" r="0.68"/><circle cx="259.8" cy="962.2" r="0.80"/><circle cx="232.7" cy="985.2" r="0.66"/><circle cx="264.2" cy="964.6" r="0.56"/><circle cx="213.2" cy="990.1" r="0.55"/><circle cx="238.5" cy="934.3" r="0.65"/><circle cx="205.5" cy="968.0" r="0.57"/><circle cx="244.8" cy="930.0" r="0.79"/><circle cx="214.3" cy="984.8" r="0.47"/><circle cx="186.0" cy="955.8" r="0.64"/><circle cx="177.8" cy="965.3" r="0.60"/><circle cx="222.3" cy="941.8" r="0.82"/><circle cx="204.9" cy="958.9" r="0.58"/><circle cx="184.5" cy="956.2" r="0.68"/><circle cx="203.8" cy="985.7" r="0.77"/><circle cx="204.6" cy="1002.8" r="0.77"/><circle cx="187.5" cy="944.6" r="0.82"/><circle cx="171.9" cy="978.3" r="0.47"/><circle cx="179.3" cy="978.6" r="0.47"/><circle cx="223.9" cy="952.7" r="0.69"/><circle cx="235.4" cy="1005.5" r="0.67"/><circle cx="226.2" cy="929.7" r="0.72"/><circle cx="203.2" cy="938.9" r="0.53"/><circle cx="225.2" cy="946.7" r="0.82"/><circle cx="219.5" cy="977.8" r="0.49"/><circle cx="225.5" cy="915.8" r="0.62"/><circle cx="201.8" cy="941.7" r="0.81"/><circle cx="207.7" cy="944.9" r="0.47"/><circle cx="211.9" cy="953.2" r="0.78"/><circle cx="208.9" cy="985.5" r="0.68"/><circle cx="199.9" cy="996.2" r="0.51"/><circle cx="239.1" cy="948.0" r="0.79"/><circle cx="240.7" cy="998.6" r="0.84"/><circle cx="208.4" cy="968.3" r="0.60"/><circle cx="200.6" cy="944.7" r="0.67"/><circle cx="243.2" cy="981.3" r="0.74"/><circle cx="178.6" cy="980.0" r="0.50"/><circle cx="223.4" cy="947.6" r="0.82"/><circle cx="263.0" cy="961.5" r="0.66"/><circle cx="207.9" cy="990.8" r="0.75"/><circle cx="167.9" cy="963.7" r="0.49"/><circle cx="169.8" cy="967.1" r="0.69"/><circle cx="201.1" cy="959.0" r="0.51"/><circle cx="209.1" cy="1008.8" r="0.79"/><circle cx="222.1" cy="1009.5" r="0.46"/><circle cx="175.9" cy="934.6" r="0.59"/><circle cx="252.8" cy="949.1" r="0.47"/><circle cx="198.8" cy="991.3" r="0.55"/><circle cx="214.3" cy="941.9" r="0.77"/><circle cx="211.4" cy="975.1" r="0.67"/><circle cx="245.4" cy="983.4" r="0.77"/><circle cx="187.7" cy="943.8" r="0.46"/><circle cx="200.0" cy="961.4" r="0.71"/><circle cx="240.6" cy="990.3" r="0.59"/><circle cx="187.0" cy="991.1" r="0.52"/><circle cx="238.4" cy="1004.5" r="0.58"/><circle cx="240.5" cy="924.2" r="0.64"/><circle cx="224.2" cy="974.9" r="0.80"/><circle cx="241.0" cy="986.0" r="0.66"/><circle cx="240.2" cy="985.4" r="0.52"/><circle cx="181.1" cy="955.0" r="0.60"/><circle cx="225.4" cy="992.3" r="0.53"/><circle cx="232.1" cy="980.0" r="0.80"/><circle cx="168.9" cy="962.2" r="0.46"/><circle cx="247.5" cy="950.7" r="0.77"/><circle cx="178.4" cy="945.2" r="0.54"/><circle cx="215.3" cy="943.4" r="0.56"/><circle cx="245.6" cy="968.7" r="0.66"/><circle cx="203.2" cy="1007.5" r="0.48"/><circle cx="194.3" cy="951.4" r="0.69"/><circle cx="224.1" cy="922.2" r="0.47"/><circle cx="216.3" cy="1000.8" r="0.84"/><circle cx="252.7" cy="972.6" r="0.73"/><circle cx="226.7" cy="936.3" r="0.77"/><circle cx="169.4" cy="973.9" r="0.45"/><circle cx="244.7" cy="951.1" r="0.61"/><circle cx="236.0" cy="975.5" r="0.74"/><circle cx="207.0" cy="945.4" r="0.59"/><circle cx="229.2" cy="979.6" r="0.54"/><circle cx="191.6" cy="1005.1" r="0.85"/><circle cx="224.1" cy="929.8" r="0.65"/><circle cx="223.9" cy="916.6" r="0.75"/><circle cx="200.9" cy="946.1" r="0.70"/><circle cx="240.0" cy="926.7" r="0.49"/><circle cx="209.4" cy="934.2" r="0.51"/><circle cx="254.7" cy="954.1" r="0.75"/><circle cx="244.9" cy="996.3" r="0.82"/><circle cx="250.4" cy="938.8" r="0.78"/><circle cx="227.5" cy="926.9" r="0.62"/><circle cx="235.1" cy="923.9" r="0.80"/><circle cx="200.7" cy="1008.7" r="0.66"/><circle cx="231.1" cy="957.1" r="0.84"/><circle cx="221.1" cy="938.7" r="0.79"/><circle cx="217.8" cy="984.5" r="0.63"/><circle cx="218.2" cy="997.1" r="0.81"/><circle cx="198.9" cy="924.6" r="0.61"/><circle cx="224.6" cy="919.9" r="0.72"/><circle cx="257.0" cy="946.7" r="0.61"/><circle cx="249.2" cy="983.4" r="0.78"/><circle cx="195.0" cy="994.8" r="0.78"/><circle cx="216.2" cy="959.5" r="0.65"/><circle cx="231.6" cy="964.4" r="0.77"/><circle cx="181.9" cy="981.4" r="0.63"/><circle cx="203.7" cy="982.2" r="0.59"/><circle cx="237.0" cy="930.6" r="0.57"/><circle cx="237.1" cy="976.1" r="0.73"/><circle cx="177.9" cy="976.9" r="0.77"/><circle cx="244.8" cy="990.7" r="0.47"/><circle cx="224.6" cy="943.8" r="0.56"/><circle cx="243.9" cy="954.9" r="0.54"/><circle cx="244.9" cy="938.2" r="0.81"/><circle cx="187.9" cy="984.1" r="0.83"/><circle cx="166.4" cy="960.6" r="0.53"/><circle cx="224.9" cy="945.4" r="0.66"/><circle cx="235.9" cy="962.7" r="0.83"/><circle cx="172.8" cy="975.2" r="0.55"/><circle cx="205.9" cy="975.2" r="0.67"/><circle cx="238.2" cy="935.8" r="0.60"/><circle cx="257.2" cy="942.5" r="0.72"/><circle cx="249.8" cy="980.5" r="0.63"/><circle cx="243.9" cy="955.0" r="0.71"/><circle cx="194.9" cy="940.5" r="0.66"/><circle cx="194.4" cy="920.7" r="0.65"/><circle cx="183.4" cy="999.4" r="0.47"/><circle cx="236.0" cy="927.7" r="0.67"/><circle cx="174.9" cy="976.5" r="0.81"/><circle cx="209.7" cy="920.5" r="0.46"/><circle cx="207.0" cy="978.9" r="0.83"/><circle cx="229.8" cy="950.9" r="0.69"/><circle cx="205.9" cy="957.8" r="0.61"/><circle cx="214.7" cy="923.3" r="0.56"/><circle cx="217.4" cy="936.2" r="0.67"/><circle cx="172.6" cy="986.0" r="0.71"/><circle cx="229.0" cy="924.6" r="0.60"/><circle cx="255.6" cy="953.2" r="0.73"/><circle cx="211.9" cy="982.2" r="0.68"/><circle cx="235.4" cy="923.8" r="0.59"/><circle cx="237.8" cy="989.9" r="0.80"/><circle cx="237.5" cy="998.7" r="0.52"/><circle cx="211.0" cy="973.2" r="0.57"/><circle cx="179.4" cy="995.2" r="0.83"/><circle cx="225.8" cy="988.0" r="0.83"/><circle cx="224.4" cy="989.1" r="0.63"/><circle cx="234.8" cy="978.5" r="0.61"/><circle cx="179.0" cy="994.5" r="0.56"/><circle cx="228.7" cy="1007.7" r="0.63"/><circle cx="235.7" cy="929.2" r="0.76"/><circle cx="207.7" cy="980.3" r="0.75"/><circle cx="179.2" cy="969.5" r="0.72"/><circle cx="215.7" cy="936.9" r="0.60"/><circle cx="246.4" cy="945.0" r="0.57"/><circle cx="198.2" cy="944.4" r="0.76"/><circle cx="258.5" cy="974.2" r="0.68"/><circle cx="186.4" cy="1000.6" r="0.56"/><circle cx="215.8" cy="975.7" r="0.67"/><circle cx="216.3" cy="922.2" r="0.62"/><circle cx="221.1" cy="947.4" r="0.57"/><circle cx="185.6" cy="924.5" r="0.70"/><circle cx="199.9" cy="922.2" r="0.61"/><circle cx="254.8" cy="947.2" r="0.59"/><circle cx="180.8" cy="990.3" r="0.59"/><circle cx="233.3" cy="1004.9" r="0.66"/><circle cx="175.4" cy="957.4" r="0.81"/><circle cx="234.4" cy="984.0" r="0.48"/><circle cx="185.5" cy="980.8" r="0.79"/><circle cx="196.8" cy="930.2" r="0.61"/><circle cx="192.3" cy="951.2" r="0.79"/><circle cx="226.1" cy="919.0" r="0.51"/><circle cx="195.1" cy="925.1" r="0.65"/><circle cx="252.7" cy="934.9" r="0.75"/><circle cx="232.4" cy="926.9" r="0.80"/><circle cx="243.3" cy="993.0" r="0.73"/><circle cx="195.7" cy="946.0" r="0.48"/><circle cx="179.7" cy="935.7" r="0.56"/><circle cx="220.7" cy="985.4" r="0.49"/><circle cx="193.5" cy="919.3" r="0.77"/><circle cx="189.1" cy="994.5" r="0.48"/><circle cx="230.1" cy="938.9" r="0.45"/><circle cx="202.7" cy="949.4" r="0.56"/><circle cx="245.9" cy="974.6" r="0.67"/><circle cx="218.8" cy="953.5" r="0.78"/><circle cx="233.2" cy="977.6" r="0.70"/><circle cx="200.1" cy="986.6" r="0.68"/><circle cx="224.1" cy="1005.6" r="0.53"/><circle cx="238.9" cy="925.3" r="0.66"/><circle cx="257.9" cy="971.0" r="0.46"/><circle cx="183.3" cy="961.8" r="0.48"/><circle cx="186.6" cy="932.2" r="0.68"/><circle cx="186.8" cy="983.4" r="0.69"/><circle cx="222.1" cy="1008.0" r="0.85"/><circle cx="231.4" cy="917.2" r="0.58"/><circle cx="228.4" cy="961.6" r="0.64"/><circle cx="237.4" cy="987.4" r="0.72"/><circle cx="206.7" cy="930.7" r="0.59"/><circle cx="226.8" cy="991.7" r="0.56"/><circle cx="229.8" cy="1002.3" r="0.66"/><circle cx="195.0" cy="970.9" r="0.73"/><circle cx="223.6" cy="986.6" r="0.67"/><circle cx="200.7" cy="916.4" r="0.75"/><circle cx="260.0" cy="947.6" r="0.74"/><circle cx="213.0" cy="950.6" r="0.53"/><circle cx="260.9" cy="966.4" r="0.74"/><circle cx="198.0" cy="944.3" r="0.59"/><circle cx="235.5" cy="996.2" r="0.85"/><circle cx="211.7" cy="972.4" r="0.52"/><circle cx="186.6" cy="999.5" r="0.77"/><circle cx="200.2" cy="967.1" r="0.49"/><circle cx="239.9" cy="998.4" r="0.64"/><circle cx="262.2" cy="959.9" r="0.77"/><circle cx="171.2" cy="969.3" r="0.50"/><circle cx="243.9" cy="986.0" r="0.65"/><circle cx="221.5" cy="986.6" r="0.46"/><circle cx="250.2" cy="940.2" r="0.83"/><circle cx="247.6" cy="958.7" r="0.74"/><circle cx="182.2" cy="992.2" r="0.79"/><circle cx="219.0" cy="966.9" r="0.54"/><circle cx="189.3" cy="947.2" r="0.45"/><circle cx="236.4" cy="924.5" r="0.64"/><circle cx="260.0" cy="975.2" r="0.66"/><circle cx="240.5" cy="974.8" r="0.70"/><circle cx="241.0" cy="940.1" r="0.71"/><circle cx="222.0" cy="986.0" r="0.81"/><circle cx="203.6" cy="973.4" r="0.69"/><circle cx="230.7" cy="978.4" r="0.63"/><circle cx="181.6" cy="942.6" r="0.73"/><circle cx="203.4" cy="967.4" r="0.74"/><circle cx="247.1" cy="973.9" r="0.61"/><circle cx="195.9" cy="925.9" r="0.55"/><circle cx="191.1" cy="929.7" r="0.64"/><circle cx="244.8" cy="999.2" r="0.69"/><circle cx="237.5" cy="971.9" r="0.84"/><circle cx="219.4" cy="993.2" r="0.77"/><circle cx="232.8" cy="927.7" r="0.75"/><circle cx="229.9" cy="966.3" r="0.84"/><circle cx="218.4" cy="953.6" r="0.47"/><circle cx="218.1" cy="1010.1" r="0.54"/><circle cx="192.9" cy="920.8" r="0.71"/><circle cx="237.4" cy="950.4" r="0.51"/><circle cx="257.8" cy="967.6" r="0.49"/><circle cx="256.2" cy="955.7" r="0.52"/><circle cx="222.3" cy="944.1" r="0.65"/><circle cx="249.7" cy="989.6" r="0.81"/><circle cx="217.3" cy="961.5" r="0.79"/><circle cx="173.4" cy="947.4" r="0.65"/><circle cx="187.6" cy="936.8" r="0.77"/><circle cx="225.4" cy="968.1" r="0.67"/><circle cx="207.4" cy="992.7" r="0.45"/><circle cx="215.1" cy="955.1" r="0.78"/><circle cx="227.9" cy="931.9" r="0.50"/><circle cx="202.1" cy="944.6" r="0.62"/><circle cx="252.7" cy="993.8" r="0.67"/><circle cx="206.2" cy="974.8" r="0.74"/><circle cx="241.9" cy="926.0" r="0.49"/><circle cx="197.1" cy="982.7" r="0.75"/><circle cx="238.2" cy="993.4" r="0.84"/><circle cx="215.8" cy="958.6" r="0.48"/><circle cx="246.2" cy="989.5" r="0.69"/><circle cx="182.4" cy="958.5" r="0.61"/><circle cx="184.9" cy="937.2" r="0.82"/><circle cx="210.5" cy="919.0" r="0.82"/><circle cx="237.0" cy="927.1" r="0.46"/><circle cx="196.2" cy="921.6" r="0.62"/><circle cx="230.3" cy="948.2" r="0.83"/><circle cx="176.7" cy="977.5" r="0.55"/><circle cx="206.2" cy="990.3" r="0.58"/><circle cx="242.4" cy="981.1" r="0.84"/><circle cx="188.4" cy="923.6" r="0.75"/><circle cx="240.8" cy="920.8" r="0.75"/><circle cx="211.6" cy="987.0" r="0.61"/><circle cx="238.7" cy="965.8" r="0.80"/><circle cx="240.1" cy="949.3" r="0.76"/><circle cx="222.5" cy="916.9" r="0.77"/><circle cx="199.7" cy="959.5" r="0.78"/><circle cx="200.1" cy="998.6" r="0.60"/><circle cx="168.3" cy="951.5" r="0.51"/><circle cx="176.4" cy="955.0" r="0.67"/><circle cx="244.4" cy="950.8" r="0.82"/><circle cx="197.4" cy="917.7" r="0.49"/><circle cx="221.5" cy="988.3" r="0.81"/><circle cx="240.3" cy="964.8" r="0.74"/><circle cx="235.9" cy="961.4" r="0.63"/><circle cx="199.5" cy="925.0" r="0.75"/><circle cx="215.8" cy="938.2" r="0.55"/><circle cx="255.6" cy="969.8" r="0.53"/><circle cx="212.4" cy="1010.9" r="0.71"/><circle cx="181.8" cy="941.1" r="0.69"/><circle cx="206.1" cy="937.2" r="0.48"/><circle cx="220.7" cy="965.1" r="0.59"/><circle cx="225.7" cy="975.6" r="0.65"/><circle cx="255.4" cy="954.9" r="0.56"/><circle cx="217.8" cy="942.1" r="0.49"/><circle cx="205.0" cy="992.4" r="0.73"/><circle cx="175.8" cy="976.9" r="0.49"/><circle cx="241.5" cy="950.8" r="0.78"/><circle cx="259.3" cy="971.3" r="0.54"/><circle cx="242.3" cy="927.9" r="0.72"/><circle cx="214.5" cy="967.5" r="0.53"/><circle cx="231.5" cy="951.7" r="0.71"/><circle cx="181.1" cy="941.9" r="0.52"/><circle cx="224.8" cy="974.7" r="0.84"/><circle cx="185.8" cy="989.3" r="0.68"/><circle cx="217.4" cy="975.0" r="0.46"/><circle cx="226.0" cy="948.5" r="0.84"/><circle cx="187.9" cy="994.3" r="0.51"/><circle cx="221.1" cy="938.7" r="0.60"/><circle cx="199.0" cy="960.3" r="0.55"/><circle cx="222.8" cy="937.5" r="0.60"/><circle cx="217.5" cy="939.5" r="0.53"/><circle cx="221.2" cy="992.6" r="0.60"/><circle cx="194.0" cy="936.5" r="0.80"/><circle cx="253.4" cy="975.2" r="0.78"/><circle cx="216.1" cy="971.1" r="0.63"/><circle cx="240.2" cy="984.9" r="0.73"/><circle cx="229.3" cy="972.1" r="0.64"/><circle cx="226.2" cy="983.7" r="0.63"/><circle cx="224.7" cy="971.4" r="0.59"/><circle cx="168.6" cy="971.9" r="0.67"/><circle cx="236.2" cy="972.8" r="0.75"/><circle cx="172.9" cy="945.0" r="0.83"/><circle cx="225.5" cy="950.0" r="0.83"/><circle cx="191.5" cy="959.0" r="0.52"/><circle cx="230.3" cy="945.7" r="0.48"/><circle cx="210.8" cy="1009.8" r="0.63"/><circle cx="213.7" cy="949.4" r="0.63"/><circle cx="206.1" cy="983.0" r="0.72"/><circle cx="204.3" cy="975.7" r="0.84"/><circle cx="194.6" cy="965.1" r="0.45"/><circle cx="195.1" cy="933.8" r="0.46"/><circle cx="173.7" cy="970.6" r="0.66"/><circle cx="218.8" cy="997.3" r="0.69"/><circle cx="204.4" cy="947.5" r="0.77"/><circle cx="255.2" cy="948.5" r="0.79"/><circle cx="183.8" cy="997.2" r="0.52"/><circle cx="220.8" cy="1000.3" r="0.81"/><circle cx="235.2" cy="974.0" r="0.46"/><circle cx="198.2" cy="969.6" r="0.53"/><circle cx="215.0" cy="925.1" r="0.83"/><circle cx="182.2" cy="986.1" r="0.46"/><circle cx="237.8" cy="955.1" r="0.64"/><circle cx="167.5" cy="959.2" r="0.65"/><circle cx="254.0" cy="960.7" r="0.54"/><circle cx="226.4" cy="943.6" r="0.85"/><circle cx="192.8" cy="969.0" r="0.83"/><circle cx="201.6" cy="990.9" r="0.59"/><circle cx="211.7" cy="956.2" r="0.60"/><circle cx="238.8" cy="1000.8" r="0.45"/><circle cx="195.8" cy="947.1" r="0.63"/></g>
<g fill="#b040e8" opacity="0.6"><circle cx="176.9" cy="947.0" r="0.51"/><circle cx="216.3" cy="979.8" r="0.83"/><circle cx="226.1" cy="977.4" r="0.66"/><circle cx="174.9" cy="940.0" r="0.47"/><circle cx="217.3" cy="982.7" r="0.68"/><circle cx="185.2" cy="972.0" r="0.81"/><circle cx="191.3" cy="923.9" r="0.83"/><circle cx="209.6" cy="1010.1" r="0.61"/><circle cx="259.9" cy="977.7" r="0.49"/><circle cx="241.6" cy="965.6" r="0.57"/><circle cx="260.2" cy="953.2" r="0.62"/><circle cx="170.7" cy="954.4" r="0.77"/><circle cx="195.2" cy="933.8" r="0.50"/><circle cx="216.9" cy="1002.6" r="0.68"/><circle cx="230.0" cy="918.4" r="0.83"/><circle cx="220.1" cy="975.4" r="0.81"/><circle cx="196.4" cy="953.7" r="0.73"/><circle cx="214.4" cy="986.6" r="0.60"/><circle cx="175.3" cy="956.7" r="0.48"/><circle cx="213.2" cy="923.9" r="0.64"/><circle cx="194.6" cy="923.9" r="0.45"/><circle cx="175.3" cy="968.9" r="0.73"/><circle cx="202.8" cy="946.0" r="0.83"/><circle cx="220.6" cy="939.6" r="0.62"/><circle cx="236.9" cy="956.8" r="0.61"/><circle cx="260.6" cy="951.5" r="0.54"/><circle cx="212.6" cy="933.3" r="0.72"/><circle cx="217.2" cy="945.2" r="0.54"/><circle cx="220.8" cy="987.5" r="0.46"/><circle cx="235.9" cy="986.3" r="0.62"/><circle cx="248.4" cy="980.3" r="0.83"/><circle cx="189.3" cy="949.1" r="0.73"/><circle cx="196.3" cy="970.6" r="0.64"/><circle cx="255.5" cy="967.2" r="0.51"/><circle cx="182.3" cy="997.9" r="0.76"/><circle cx="235.5" cy="928.8" r="0.70"/><circle cx="201.8" cy="916.3" r="0.53"/><circle cx="218.0" cy="935.9" r="0.55"/><circle cx="231.9" cy="928.3" r="0.79"/><circle cx="242.0" cy="936.0" r="0.53"/><circle cx="251.1" cy="966.1" r="0.74"/><circle cx="213.5" cy="975.6" r="0.45"/><circle cx="234.3" cy="999.1" r="0.45"/><circle cx="218.5" cy="987.8" r="0.73"/><circle cx="222.1" cy="962.2" r="0.50"/><circle cx="259.7" cy="943.3" r="0.51"/><circle cx="197.1" cy="993.3" r="0.58"/><circle cx="185.7" cy="979.6" r="0.55"/><circle cx="228.7" cy="967.5" r="0.51"/><circle cx="247.9" cy="983.8" r="0.73"/><circle cx="211.7" cy="1006.3" r="0.74"/><circle cx="196.5" cy="991.6" r="0.53"/><circle cx="248.5" cy="946.8" r="0.47"/><circle cx="238.5" cy="996.4" r="0.60"/><circle cx="210.5" cy="939.6" r="0.77"/><circle cx="220.1" cy="948.4" r="0.68"/><circle cx="230.2" cy="1001.3" r="0.77"/><circle cx="221.4" cy="939.8" r="0.49"/><circle cx="196.2" cy="931.1" r="0.51"/><circle cx="228.5" cy="997.8" r="0.49"/><circle cx="199.2" cy="944.7" r="0.55"/><circle cx="183.4" cy="979.3" r="0.74"/><circle cx="256.4" cy="970.8" r="0.54"/><circle cx="205.3" cy="1000.8" r="0.73"/><circle cx="180.2" cy="931.9" r="0.53"/><circle cx="200.3" cy="999.8" r="0.55"/><circle cx="228.2" cy="982.3" r="0.76"/><circle cx="234.7" cy="925.8" r="0.83"/><circle cx="222.8" cy="936.4" r="0.58"/><circle cx="213.2" cy="951.3" r="0.69"/><circle cx="224.5" cy="968.5" r="0.66"/><circle cx="242.9" cy="1001.3" r="0.80"/><circle cx="194.1" cy="967.9" r="0.50"/><circle cx="179.8" cy="961.2" r="0.60"/><circle cx="207.8" cy="927.7" r="0.76"/><circle cx="225.5" cy="970.8" r="0.60"/><circle cx="190.7" cy="965.3" r="0.72"/><circle cx="220.2" cy="990.0" r="0.64"/><circle cx="205.2" cy="920.7" r="0.60"/><circle cx="170.5" cy="978.2" r="0.82"/><circle cx="203.6" cy="951.9" r="0.63"/><circle cx="198.3" cy="943.0" r="0.46"/><circle cx="261.9" cy="957.2" r="0.50"/><circle cx="177.5" cy="970.9" r="0.57"/><circle cx="254.0" cy="980.5" r="0.76"/><circle cx="202.0" cy="968.2" r="0.61"/><circle cx="255.4" cy="989.6" r="0.47"/><circle cx="205.1" cy="1004.6" r="0.50"/><circle cx="225.6" cy="970.8" r="0.52"/><circle cx="171.3" cy="953.8" r="0.52"/><circle cx="235.2" cy="1000.9" r="0.62"/><circle cx="206.2" cy="977.4" r="0.55"/><circle cx="231.9" cy="959.7" r="0.55"/><circle cx="212.6" cy="916.3" r="0.81"/><circle cx="167.9" cy="970.9" r="0.69"/><circle cx="207.2" cy="995.3" r="0.74"/><circle cx="213.5" cy="945.1" r="0.53"/><circle cx="230.8" cy="958.5" r="0.78"/><circle cx="202.3" cy="983.5" r="0.55"/><circle cx="167.2" cy="972.1" r="0.51"/><circle cx="232.3" cy="940.6" r="0.52"/><circle cx="214.4" cy="934.0" r="0.53"/><circle cx="176.4" cy="984.6" r="0.80"/><circle cx="210.8" cy="960.4" r="0.76"/><circle cx="178.7" cy="933.7" r="0.83"/><circle cx="194.2" cy="1002.8" r="0.78"/><circle cx="212.3" cy="992.3" r="0.60"/><circle cx="197.1" cy="986.9" r="0.49"/><circle cx="222.0" cy="1009.1" r="0.61"/><circle cx="184.8" cy="927.8" r="0.75"/><circle cx="217.0" cy="1009.9" r="0.77"/><circle cx="257.2" cy="960.2" r="0.75"/><circle cx="224.8" cy="939.9" r="0.71"/><circle cx="182.3" cy="993.4" r="0.50"/><circle cx="187.6" cy="955.8" r="0.78"/><circle cx="189.8" cy="1000.0" r="0.79"/><circle cx="228.6" cy="950.0" r="0.83"/><circle cx="213.8" cy="922.2" r="0.71"/><circle cx="259.1" cy="976.3" r="0.67"/><circle cx="187.7" cy="970.6" r="0.76"/><circle cx="224.5" cy="917.8" r="0.54"/><circle cx="202.1" cy="983.4" r="0.49"/><circle cx="211.6" cy="969.7" r="0.77"/><circle cx="217.2" cy="975.6" r="0.48"/><circle cx="214.1" cy="940.8" r="0.63"/><circle cx="179.3" cy="988.2" r="0.83"/><circle cx="200.9" cy="999.1" r="0.81"/><circle cx="169.4" cy="971.3" r="0.74"/><circle cx="198.0" cy="1005.3" r="0.68"/><circle cx="245.0" cy="986.0" r="0.78"/><circle cx="181.3" cy="958.7" r="0.62"/><circle cx="244.6" cy="935.3" r="0.53"/><circle cx="196.1" cy="985.3" r="0.83"/><circle cx="209.5" cy="946.3" r="0.82"/><circle cx="252.2" cy="970.9" r="0.62"/><circle cx="208.8" cy="931.1" r="0.49"/><circle cx="171.2" cy="956.1" r="0.77"/><circle cx="200.9" cy="980.9" r="0.75"/><circle cx="222.7" cy="940.9" r="0.80"/><circle cx="247.7" cy="961.2" r="0.60"/><circle cx="203.5" cy="916.8" r="0.53"/><circle cx="206.3" cy="989.4" r="0.74"/><circle cx="229.4" cy="996.3" r="0.65"/><circle cx="206.2" cy="946.5" r="0.83"/><circle cx="252.2" cy="962.7" r="0.77"/><circle cx="234.4" cy="1005.6" r="0.67"/><circle cx="218.0" cy="916.9" r="0.59"/><circle cx="235.2" cy="952.4" r="0.46"/><circle cx="168.7" cy="962.0" r="0.81"/><circle cx="249.1" cy="952.9" r="0.82"/><circle cx="198.0" cy="955.8" r="0.70"/><circle cx="225.8" cy="932.5" r="0.69"/><circle cx="213.8" cy="988.5" r="0.62"/><circle cx="181.7" cy="959.9" r="0.49"/><circle cx="244.0" cy="963.7" r="0.74"/><circle cx="215.1" cy="938.7" r="0.55"/><circle cx="194.8" cy="960.5" r="0.69"/><circle cx="233.5" cy="950.2" r="0.68"/><circle cx="207.5" cy="920.8" r="0.73"/><circle cx="209.0" cy="937.8" r="0.79"/><circle cx="225.4" cy="957.6" r="0.83"/><circle cx="201.8" cy="967.8" r="0.48"/><circle cx="227.1" cy="923.9" r="0.51"/><circle cx="177.2" cy="972.5" r="0.85"/><circle cx="193.1" cy="999.6" r="0.55"/><circle cx="221.5" cy="981.4" r="0.61"/><circle cx="195.3" cy="944.4" r="0.51"/><circle cx="218.1" cy="976.8" r="0.53"/><circle cx="201.3" cy="994.7" r="0.52"/><circle cx="182.9" cy="966.8" r="0.84"/><circle cx="167.7" cy="966.8" r="0.64"/><circle cx="227.5" cy="998.5" r="0.51"/><circle cx="221.8" cy="974.3" r="0.73"/><circle cx="245.9" cy="956.3" r="0.59"/><circle cx="189.3" cy="975.9" r="0.73"/><circle cx="200.4" cy="974.8" r="0.80"/><circle cx="211.8" cy="961.0" r="0.79"/><circle cx="211.3" cy="933.7" r="0.70"/><circle cx="242.6" cy="947.7" r="0.62"/><circle cx="204.4" cy="997.7" r="0.72"/><circle cx="210.8" cy="915.0" r="0.51"/><circle cx="185.1" cy="996.6" r="0.77"/><circle cx="181.1" cy="941.0" r="0.59"/><circle cx="249.6" cy="950.3" r="0.61"/><circle cx="222.2" cy="977.9" r="0.81"/><circle cx="217.8" cy="955.1" r="0.58"/><circle cx="180.9" cy="967.1" r="0.60"/><circle cx="238.3" cy="944.9" r="0.66"/><circle cx="250.8" cy="945.8" r="0.64"/><circle cx="200.1" cy="989.3" r="0.69"/><circle cx="220.9" cy="938.2" r="0.60"/><circle cx="192.7" cy="981.9" r="0.82"/><circle cx="190.2" cy="956.4" r="0.58"/><circle cx="223.8" cy="945.0" r="0.73"/><circle cx="236.7" cy="965.6" r="0.47"/><circle cx="221.8" cy="945.0" r="0.54"/><circle cx="238.9" cy="971.6" r="0.74"/><circle cx="206.5" cy="916.6" r="0.83"/><circle cx="170.5" cy="947.8" r="0.49"/><circle cx="244.2" cy="948.0" r="0.53"/><circle cx="214.7" cy="917.1" r="0.60"/><circle cx="253.6" cy="988.1" r="0.75"/><circle cx="175.4" cy="934.9" r="0.47"/><circle cx="231.6" cy="968.7" r="0.46"/><circle cx="205.2" cy="925.0" r="0.49"/><circle cx="226.3" cy="980.5" r="0.69"/><circle cx="192.6" cy="919.9" r="0.59"/><circle cx="247.4" cy="958.4" r="0.61"/><circle cx="214.8" cy="986.4" r="0.84"/><circle cx="256.6" cy="961.4" r="0.52"/><circle cx="223.5" cy="980.1" r="0.59"/><circle cx="214.3" cy="950.8" r="0.66"/><circle cx="211.5" cy="954.5" r="0.63"/><circle cx="224.8" cy="926.6" r="0.63"/><circle cx="243.3" cy="936.8" r="0.58"/><circle cx="177.4" cy="991.8" r="0.79"/><circle cx="247.0" cy="943.9" r="0.51"/><circle cx="229.1" cy="989.8" r="0.73"/><circle cx="259.3" cy="964.0" r="0.76"/><circle cx="211.6" cy="962.4" r="0.77"/><circle cx="180.8" cy="983.4" r="0.68"/><circle cx="211.0" cy="931.5" r="0.83"/><circle cx="260.9" cy="949.6" r="0.70"/><circle cx="203.1" cy="990.3" r="0.56"/><circle cx="251.3" cy="937.8" r="0.77"/><circle cx="236.5" cy="918.6" r="0.73"/><circle cx="197.5" cy="1001.6" r="0.55"/><circle cx="200.3" cy="950.1" r="0.79"/><circle cx="189.6" cy="964.5" r="0.82"/><circle cx="256.4" cy="986.3" r="0.75"/><circle cx="240.7" cy="997.3" r="0.68"/><circle cx="246.8" cy="942.0" r="0.62"/><circle cx="228.6" cy="956.8" r="0.76"/><circle cx="236.0" cy="978.3" r="0.50"/><circle cx="237.9" cy="939.0" r="0.74"/><circle cx="213.6" cy="1004.7" r="0.71"/><circle cx="243.6" cy="982.6" r="0.74"/><circle cx="224.1" cy="1001.5" r="0.56"/><circle cx="182.9" cy="997.0" r="0.83"/><circle cx="247.4" cy="962.3" r="0.68"/><circle cx="230.7" cy="922.7" r="0.63"/><circle cx="235.7" cy="939.1" r="0.83"/><circle cx="198.6" cy="965.6" r="0.75"/><circle cx="240.2" cy="994.7" r="0.47"/><circle cx="251.4" cy="960.0" r="0.75"/><circle cx="242.0" cy="991.5" r="0.60"/><circle cx="215.6" cy="1007.1" r="0.46"/><circle cx="200.9" cy="964.7" r="0.79"/><circle cx="222.4" cy="957.0" r="0.64"/><circle cx="174.4" cy="970.8" r="0.74"/><circle cx="189.0" cy="1002.3" r="0.52"/><circle cx="244.3" cy="996.3" r="0.50"/><circle cx="228.9" cy="994.7" r="0.58"/><circle cx="239.8" cy="1003.4" r="0.64"/><circle cx="220.8" cy="938.7" r="0.82"/><circle cx="223.7" cy="1008.8" r="0.70"/><circle cx="257.8" cy="954.9" r="0.70"/><circle cx="170.8" cy="953.3" r="0.63"/><circle cx="253.6" cy="989.9" r="0.77"/><circle cx="197.7" cy="924.1" r="0.54"/><circle cx="171.8" cy="972.9" r="0.83"/><circle cx="232.8" cy="953.6" r="0.72"/><circle cx="185.8" cy="952.3" r="0.52"/><circle cx="237.3" cy="988.3" r="0.65"/><circle cx="212.0" cy="992.3" r="0.67"/><circle cx="218.1" cy="925.0" r="0.51"/><circle cx="237.8" cy="943.1" r="0.83"/><circle cx="233.6" cy="960.6" r="0.68"/><circle cx="245.2" cy="956.4" r="0.67"/><circle cx="212.0" cy="970.4" r="0.53"/><circle cx="234.0" cy="981.1" r="0.70"/><circle cx="171.1" cy="944.2" r="0.72"/><circle cx="184.2" cy="999.2" r="0.70"/><circle cx="171.3" cy="950.4" r="0.72"/><circle cx="190.8" cy="992.1" r="0.57"/><circle cx="239.2" cy="958.0" r="0.84"/><circle cx="219.8" cy="964.6" r="0.67"/><circle cx="224.9" cy="996.4" r="0.50"/><circle cx="236.2" cy="928.3" r="0.72"/><circle cx="259.2" cy="940.9" r="0.72"/><circle cx="214.8" cy="960.7" r="0.47"/><circle cx="171.9" cy="984.3" r="0.58"/><circle cx="211.1" cy="960.8" r="0.62"/><circle cx="246.2" cy="941.0" r="0.78"/><circle cx="237.4" cy="964.5" r="0.52"/><circle cx="223.1" cy="949.1" r="0.82"/><circle cx="210.2" cy="1008.6" r="0.66"/><circle cx="193.8" cy="1006.0" r="0.61"/><circle cx="211.2" cy="950.6" r="0.78"/><circle cx="231.5" cy="960.8" r="0.75"/><circle cx="212.9" cy="981.5" r="0.60"/><circle cx="190.0" cy="921.8" r="0.85"/><circle cx="254.1" cy="961.1" r="0.71"/><circle cx="237.5" cy="998.3" r="0.67"/><circle cx="185.8" cy="998.9" r="0.55"/><circle cx="227.6" cy="977.9" r="0.51"/><circle cx="177.9" cy="939.5" r="0.51"/><circle cx="178.0" cy="962.0" r="0.67"/><circle cx="184.3" cy="981.6" r="0.46"/><circle cx="245.2" cy="974.1" r="0.54"/><circle cx="216.3" cy="938.5" r="0.78"/><circle cx="216.1" cy="977.6" r="0.64"/><circle cx="193.6" cy="981.2" r="0.76"/><circle cx="222.3" cy="1002.4" r="0.78"/><circle cx="181.9" cy="972.9" r="0.82"/><circle cx="198.7" cy="950.0" r="0.48"/><circle cx="239.9" cy="976.7" r="0.49"/><circle cx="196.3" cy="936.9" r="0.57"/><circle cx="167.8" cy="959.1" r="0.55"/><circle cx="230.6" cy="985.2" r="0.58"/><circle cx="250.2" cy="940.5" r="0.62"/><circle cx="220.6" cy="971.8" r="0.50"/><circle cx="238.1" cy="930.3" r="0.51"/><circle cx="206.9" cy="954.3" r="0.65"/><circle cx="207.3" cy="976.2" r="0.75"/><circle cx="208.0" cy="928.3" r="0.52"/><circle cx="199.6" cy="934.4" r="0.71"/><circle cx="254.5" cy="988.1" r="0.45"/><circle cx="220.6" cy="993.3" r="0.53"/><circle cx="250.0" cy="984.1" r="0.85"/><circle cx="202.4" cy="984.6" r="0.72"/><circle cx="220.6" cy="993.4" r="0.73"/><circle cx="197.7" cy="970.9" r="0.48"/><circle cx="168.1" cy="949.6" r="0.82"/><circle cx="243.5" cy="983.2" r="0.65"/><circle cx="229.2" cy="1000.5" r="0.65"/><circle cx="224.9" cy="937.9" r="0.82"/><circle cx="228.7" cy="931.6" r="0.51"/><circle cx="197.9" cy="964.5" r="0.72"/><circle cx="203.2" cy="927.3" r="0.84"/><circle cx="255.2" cy="974.4" r="0.77"/><circle cx="236.5" cy="980.9" r="0.47"/><circle cx="179.0" cy="941.9" r="0.59"/><circle cx="205.3" cy="934.6" r="0.73"/><circle cx="207.1" cy="1010.7" r="0.63"/><circle cx="230.2" cy="963.0" r="0.74"/><circle cx="241.2" cy="933.2" r="0.51"/><circle cx="244.2" cy="932.7" r="0.50"/><circle cx="185.8" cy="990.2" r="0.45"/><circle cx="243.5" cy="970.4" r="0.80"/><circle cx="243.1" cy="962.1" r="0.81"/><circle cx="225.6" cy="918.1" r="0.69"/><circle cx="254.1" cy="955.1" r="0.83"/><circle cx="195.3" cy="953.9" r="0.66"/><circle cx="186.9" cy="965.8" r="0.60"/><circle cx="177.7" cy="960.2" r="0.54"/><circle cx="209.3" cy="997.1" r="0.65"/><circle cx="180.3" cy="982.3" r="0.52"/><circle cx="190.0" cy="957.6" r="0.76"/><circle cx="202.8" cy="921.0" r="0.66"/><circle cx="215.6" cy="1010.0" r="0.65"/><circle cx="196.5" cy="981.4" r="0.61"/><circle cx="203.9" cy="919.7" r="0.64"/><circle cx="212.6" cy="940.2" r="0.63"/><circle cx="198.2" cy="983.9" r="0.59"/><circle cx="216.5" cy="920.6" r="0.53"/><circle cx="219.7" cy="1006.0" r="0.71"/><circle cx="197.8" cy="927.6" r="0.73"/><circle cx="213.6" cy="974.7" r="0.59"/><circle cx="262.6" cy="972.4" r="0.66"/><circle cx="192.1" cy="920.3" r="0.77"/><circle cx="219.0" cy="991.0" r="0.49"/><circle cx="227.3" cy="922.2" r="0.65"/><circle cx="197.9" cy="981.4" r="0.64"/><circle cx="204.3" cy="917.5" r="0.79"/><circle cx="237.3" cy="938.6" r="0.62"/><circle cx="196.3" cy="1007.4" r="0.52"/><circle cx="229.6" cy="984.5" r="0.82"/><circle cx="232.3" cy="940.1" r="0.79"/><circle cx="240.2" cy="942.3" r="0.53"/><circle cx="219.6" cy="932.9" r="0.50"/><circle cx="242.0" cy="944.0" r="0.61"/><circle cx="194.8" cy="948.7" r="0.46"/><circle cx="191.9" cy="982.0" r="0.45"/><circle cx="185.6" cy="993.7" r="0.58"/><circle cx="198.7" cy="927.6" r="0.53"/><circle cx="255.4" cy="967.9" r="0.69"/><circle cx="209.3" cy="983.9" r="0.79"/><circle cx="235.3" cy="949.9" r="0.68"/><circle cx="190.4" cy="950.1" r="0.46"/><circle cx="197.3" cy="997.9" r="0.69"/><circle cx="198.1" cy="961.6" r="0.54"/><circle cx="203.4" cy="992.1" r="0.60"/><circle cx="229.0" cy="953.0" r="0.84"/><circle cx="218.1" cy="1008.2" r="0.55"/><circle cx="189.5" cy="947.0" r="0.47"/><circle cx="228.0" cy="920.3" r="0.56"/><circle cx="220.9" cy="929.1" r="0.84"/><circle cx="243.9" cy="972.9" r="0.54"/><circle cx="184.6" cy="932.0" r="0.79"/><circle cx="186.1" cy="953.5" r="0.77"/><circle cx="235.2" cy="978.0" r="0.75"/><circle cx="169.7" cy="980.6" r="0.49"/><circle cx="193.3" cy="968.1" r="0.45"/><circle cx="227.7" cy="970.9" r="0.60"/><circle cx="183.3" cy="977.1" r="0.57"/><circle cx="204.8" cy="929.0" r="0.84"/><circle cx="232.4" cy="993.4" r="0.65"/><circle cx="183.7" cy="995.6" r="0.53"/><circle cx="236.4" cy="942.2" r="0.58"/><circle cx="187.6" cy="938.3" r="0.56"/><circle cx="256.8" cy="987.0" r="0.60"/><circle cx="245.3" cy="988.9" r="0.66"/><circle cx="202.1" cy="987.6" r="0.79"/><circle cx="198.5" cy="989.7" r="0.83"/><circle cx="195.3" cy="986.6" r="0.51"/><circle cx="194.3" cy="928.5" r="0.63"/><circle cx="195.6" cy="975.9" r="0.77"/><circle cx="172.0" cy="974.6" r="0.60"/><circle cx="214.4" cy="954.4" r="0.54"/><circle cx="254.7" cy="952.7" r="0.72"/><circle cx="181.5" cy="963.3" r="0.53"/><circle cx="233.7" cy="997.7" r="0.73"/><circle cx="213.1" cy="1002.1" r="0.50"/><circle cx="199.8" cy="949.4" r="0.65"/><circle cx="201.0" cy="996.3" r="0.50"/><circle cx="176.9" cy="966.7" r="0.50"/><circle cx="200.7" cy="1000.5" r="0.67"/><circle cx="183.0" cy="933.6" r="0.68"/><circle cx="221.0" cy="994.9" r="0.78"/><circle cx="176.3" cy="945.3" r="0.60"/><circle cx="169.4" cy="978.1" r="0.78"/><circle cx="206.1" cy="949.5" r="0.69"/><circle cx="261.8" cy="972.5" r="0.84"/><circle cx="211.8" cy="937.5" r="0.79"/><circle cx="235.1" cy="1002.9" r="0.66"/><circle cx="261.5" cy="967.3" r="0.63"/><circle cx="235.0" cy="927.0" r="0.66"/><circle cx="229.7" cy="945.8" r="0.81"/><circle cx="211.1" cy="969.4" r="0.58"/><circle cx="227.4" cy="968.0" r="0.70"/><circle cx="229.6" cy="976.2" r="0.57"/><circle cx="206.8" cy="1009.1" r="0.81"/><circle cx="248.8" cy="927.0" r="0.63"/><circle cx="222.7" cy="937.7" r="0.82"/><circle cx="231.0" cy="923.6" r="0.54"/><circle cx="255.0" cy="988.4" r="0.67"/><circle cx="180.5" cy="933.1" r="0.51"/><circle cx="204.8" cy="930.9" r="0.76"/><circle cx="194.3" cy="968.7" r="0.83"/><circle cx="207.0" cy="1004.4" r="0.78"/><circle cx="215.9" cy="1003.7" r="0.61"/><circle cx="219.0" cy="985.3" r="0.83"/><circle cx="191.5" cy="988.6" r="0.65"/><circle cx="257.4" cy="969.8" r="0.75"/><circle cx="236.2" cy="942.0" r="0.53"/><circle cx="191.1" cy="997.2" r="0.71"/><circle cx="185.7" cy="982.5" r="0.51"/><circle cx="244.8" cy="946.1" r="0.65"/><circle cx="220.3" cy="941.4" r="0.74"/><circle cx="188.5" cy="998.0" r="0.49"/><circle cx="208.9" cy="1001.4" r="0.64"/><circle cx="188.5" cy="988.8" r="0.54"/><circle cx="213.3" cy="963.5" r="0.77"/><circle cx="214.2" cy="1007.5" r="0.67"/><circle cx="184.0" cy="939.5" r="0.50"/><circle cx="219.8" cy="936.5" r="0.80"/><circle cx="224.5" cy="923.2" r="0.78"/><circle cx="178.1" cy="978.3" r="0.83"/><circle cx="221.1" cy="977.2" r="0.61"/><circle cx="196.3" cy="961.6" r="0.54"/><circle cx="235.8" cy="939.9" r="0.51"/><circle cx="230.6" cy="996.8" r="0.53"/><circle cx="179.7" cy="968.3" r="0.63"/><circle cx="170.3" cy="961.7" r="0.46"/><circle cx="235.2" cy="953.3" r="0.47"/><circle cx="219.4" cy="925.8" r="0.67"/><circle cx="224.1" cy="1005.3" r="0.57"/><circle cx="211.9" cy="939.4" r="0.68"/><circle cx="197.4" cy="938.6" r="0.64"/><circle cx="251.5" cy="978.4" r="0.73"/><circle cx="236.1" cy="992.7" r="0.74"/><circle cx="251.6" cy="989.4" r="0.80"/><circle cx="238.6" cy="970.3" r="0.48"/><circle cx="215.1" cy="977.2" r="0.65"/><circle cx="215.2" cy="989.7" r="0.63"/><circle cx="185.1" cy="994.3" r="0.74"/><circle cx="232.8" cy="978.0" r="0.45"/><circle cx="207.6" cy="976.9" r="0.73"/><circle cx="224.6" cy="914.5" r="0.53"/><circle cx="257.0" cy="972.5" r="0.61"/><circle cx="243.3" cy="949.8" r="0.57"/><circle cx="258.3" cy="983.8" r="0.65"/><circle cx="185.0" cy="974.5" r="0.76"/><circle cx="231.8" cy="933.0" r="0.52"/><circle cx="176.7" cy="988.5" r="0.61"/><circle cx="195.8" cy="931.5" r="0.63"/><circle cx="193.6" cy="951.7" r="0.67"/><circle cx="224.5" cy="952.3" r="0.60"/><circle cx="250.9" cy="929.5" r="0.46"/><circle cx="188.0" cy="934.7" r="0.79"/><circle cx="197.8" cy="966.0" r="0.57"/><circle cx="205.6" cy="921.9" r="0.53"/><circle cx="190.4" cy="931.6" r="0.71"/><circle cx="247.7" cy="967.2" r="0.58"/><circle cx="191.9" cy="946.3" r="0.50"/><circle cx="202.7" cy="939.6" r="0.77"/><circle cx="202.8" cy="996.8" r="0.77"/><circle cx="246.8" cy="990.6" r="0.48"/><circle cx="222.5" cy="959.7" r="0.74"/><circle cx="201.1" cy="978.0" r="0.61"/><circle cx="183.6" cy="962.4" r="0.50"/><circle cx="188.6" cy="958.9" r="0.84"/><circle cx="191.2" cy="984.5" r="0.54"/><circle cx="242.7" cy="957.3" r="0.71"/><circle cx="230.6" cy="935.9" r="0.75"/><circle cx="212.4" cy="978.7" r="0.47"/><circle cx="171.7" cy="977.2" r="0.53"/><circle cx="175.3" cy="978.4" r="0.56"/><circle cx="235.7" cy="991.7" r="0.62"/><circle cx="258.5" cy="945.1" r="0.55"/><circle cx="185.9" cy="950.9" r="0.46"/><circle cx="171.1" cy="978.8" r="0.57"/><circle cx="179.8" cy="941.3" r="0.48"/><circle cx="229.7" cy="955.2" r="0.57"/><circle cx="213.8" cy="956.0" r="0.60"/><circle cx="239.0" cy="986.9" r="0.46"/><circle cx="228.8" cy="981.6" r="0.48"/><circle cx="233.6" cy="974.4" r="0.66"/><circle cx="244.4" cy="996.5" r="0.62"/><circle cx="215.0" cy="986.9" r="0.79"/><circle cx="255.9" cy="975.0" r="0.49"/><circle cx="244.8" cy="952.0" r="0.69"/><circle cx="225.5" cy="950.9" r="0.48"/><circle cx="202.2" cy="927.3" r="0.74"/><circle cx="209.3" cy="996.9" r="0.52"/><circle cx="191.2" cy="972.8" r="0.68"/><circle cx="207.5" cy="987.3" r="0.71"/><circle cx="253.1" cy="985.2" r="0.65"/><circle cx="217.5" cy="979.2" r="0.65"/><circle cx="173.6" cy="961.7" r="0.60"/><circle cx="175.7" cy="987.1" r="0.56"/><circle cx="261.5" cy="957.2" r="0.85"/><circle cx="238.7" cy="954.0" r="0.78"/><circle cx="198.3" cy="948.3" r="0.85"/><circle cx="188.8" cy="927.3" r="0.67"/><circle cx="255.4" cy="984.6" r="0.52"/><circle cx="213.1" cy="1001.3" r="0.53"/><circle cx="174.9" cy="972.4" r="0.49"/><circle cx="206.8" cy="949.2" r="0.64"/><circle cx="191.2" cy="929.8" r="0.47"/><circle cx="232.7" cy="1007.6" r="0.61"/><circle cx="188.5" cy="976.4" r="0.73"/><circle cx="212.9" cy="923.1" r="0.61"/><circle cx="183.3" cy="947.8" r="0.53"/><circle cx="261.2" cy="947.6" r="0.76"/><circle cx="248.8" cy="961.1" r="0.79"/><circle cx="217.8" cy="1005.0" r="0.74"/><circle cx="256.9" cy="945.8" r="0.80"/><circle cx="210.5" cy="1006.1" r="0.64"/><circle cx="203.9" cy="990.3" r="0.77"/><circle cx="240.2" cy="924.9" r="0.72"/><circle cx="224.6" cy="979.7" r="0.68"/><circle cx="222.0" cy="990.4" r="0.49"/><circle cx="238.8" cy="997.1" r="0.54"/><circle cx="231.6" cy="939.6" r="0.79"/><circle cx="207.0" cy="986.8" r="0.61"/><circle cx="247.7" cy="965.2" r="0.60"/><circle cx="260.8" cy="966.3" r="0.60"/><circle cx="263.5" cy="962.8" r="0.54"/><circle cx="215.2" cy="970.4" r="0.49"/><circle cx="205.9" cy="926.4" r="0.65"/><circle cx="215.9" cy="989.0" r="0.84"/><circle cx="181.3" cy="997.9" r="0.80"/><circle cx="247.4" cy="994.7" r="0.46"/><circle cx="204.6" cy="919.8" r="0.73"/><circle cx="173.1" cy="949.0" r="0.51"/><circle cx="190.7" cy="956.4" r="0.61"/><circle cx="230.2" cy="1001.3" r="0.68"/><circle cx="222.4" cy="924.4" r="0.69"/><circle cx="254.4" cy="941.8" r="0.68"/><circle cx="193.5" cy="1004.8" r="0.60"/><circle cx="238.1" cy="979.7" r="0.73"/><circle cx="251.2" cy="946.2" r="0.72"/><circle cx="255.4" cy="946.0" r="0.63"/><circle cx="173.6" cy="972.9" r="0.58"/><circle cx="245.2" cy="987.3" r="0.77"/><circle cx="215.8" cy="1003.4" r="0.81"/><circle cx="227.9" cy="975.7" r="0.65"/><circle cx="191.1" cy="1004.1" r="0.85"/><circle cx="174.0" cy="977.4" r="0.70"/><circle cx="237.7" cy="1005.7" r="0.52"/><circle cx="244.7" cy="977.9" r="0.46"/><circle cx="183.9" cy="966.5" r="0.83"/><circle cx="176.5" cy="986.1" r="0.76"/><circle cx="194.7" cy="950.3" r="0.57"/><circle cx="184.4" cy="964.4" r="0.71"/><circle cx="187.4" cy="961.8" r="0.69"/><circle cx="237.4" cy="962.2" r="0.58"/><circle cx="230.3" cy="963.8" r="0.47"/><circle cx="175.5" cy="983.7" r="0.73"/><circle cx="259.3" cy="953.2" r="0.68"/><circle cx="210.5" cy="960.0" r="0.60"/><circle cx="212.5" cy="1001.4" r="0.48"/><circle cx="186.2" cy="954.8" r="0.65"/><circle cx="202.3" cy="971.6" r="0.74"/><circle cx="227.1" cy="926.5" r="0.50"/><circle cx="178.0" cy="935.9" r="0.84"/><circle cx="215.9" cy="952.2" r="0.80"/><circle cx="202.1" cy="940.4" r="0.82"/><circle cx="236.7" cy="921.4" r="0.55"/><circle cx="188.5" cy="948.6" r="0.57"/><circle cx="218.0" cy="924.2" r="0.58"/><circle cx="169.6" cy="950.0" r="0.68"/><circle cx="247.0" cy="943.6" r="0.85"/><circle cx="248.1" cy="968.8" r="0.67"/><circle cx="208.3" cy="914.8" r="0.70"/><circle cx="176.5" cy="968.1" r="0.66"/><circle cx="201.9" cy="916.7" r="0.46"/><circle cx="195.6" cy="1004.3" r="0.47"/><circle cx="217.5" cy="954.3" r="0.71"/><circle cx="222.8" cy="939.9" r="0.60"/><circle cx="221.4" cy="1003.6" r="0.66"/><circle cx="193.2" cy="945.4" r="0.68"/><circle cx="257.0" cy="950.4" r="0.83"/><circle cx="215.9" cy="998.0" r="0.60"/><circle cx="190.3" cy="999.0" r="0.52"/><circle cx="174.9" cy="947.1" r="0.82"/><circle cx="240.7" cy="965.7" r="0.65"/><circle cx="233.6" cy="955.0" r="0.79"/><circle cx="186.2" cy="984.6" r="0.82"/><circle cx="241.3" cy="973.8" r="0.51"/><circle cx="233.4" cy="982.9" r="0.73"/><circle cx="200.3" cy="954.4" r="0.77"/><circle cx="196.7" cy="961.8" r="0.78"/><circle cx="225.2" cy="942.0" r="0.83"/><circle cx="224.0" cy="940.8" r="0.45"/><circle cx="245.4" cy="929.6" r="0.49"/><circle cx="219.8" cy="919.7" r="0.70"/><circle cx="239.5" cy="920.3" r="0.58"/><circle cx="239.1" cy="921.9" r="0.58"/><circle cx="198.8" cy="925.5" r="0.79"/><circle cx="191.7" cy="952.2" r="0.55"/><circle cx="197.9" cy="957.9" r="0.79"/><circle cx="233.9" cy="947.2" r="0.73"/><circle cx="207.3" cy="947.5" r="0.76"/><circle cx="218.1" cy="935.6" r="0.49"/><circle cx="206.7" cy="1005.1" r="0.64"/><circle cx="223.1" cy="944.7" r="0.49"/><circle cx="188.4" cy="1000.2" r="0.51"/><circle cx="253.5" cy="981.7" r="0.49"/><circle cx="208.3" cy="950.3" r="0.55"/><circle cx="191.5" cy="923.3" r="0.61"/><circle cx="207.1" cy="965.4" r="0.59"/><circle cx="217.5" cy="1006.3" r="0.74"/><circle cx="223.0" cy="927.7" r="0.73"/><circle cx="236.6" cy="984.6" r="0.57"/><circle cx="206.8" cy="1004.1" r="0.54"/><circle cx="203.4" cy="986.0" r="0.80"/><circle cx="193.3" cy="936.6" r="0.60"/><circle cx="257.3" cy="940.2" r="0.63"/><circle cx="173.6" cy="944.1" r="0.55"/><circle cx="214.4" cy="978.5" r="0.65"/><circle cx="217.6" cy="943.4" r="0.62"/><circle cx="249.4" cy="960.7" r="0.60"/><circle cx="240.1" cy="923.4" r="0.60"/><circle cx="243.3" cy="990.2" r="0.75"/><circle cx="250.7" cy="944.2" r="0.57"/><circle cx="189.0" cy="960.2" r="0.63"/><circle cx="169.2" cy="972.0" r="0.81"/><circle cx="245.7" cy="947.5" r="0.84"/><circle cx="245.6" cy="998.9" r="0.71"/><circle cx="237.3" cy="940.0" r="0.85"/><circle cx="260.0" cy="969.8" r="0.78"/><circle cx="183.8" cy="994.5" r="0.54"/><circle cx="215.8" cy="929.0" r="0.61"/><circle cx="229.8" cy="1004.3" r="0.74"/><circle cx="256.5" cy="988.5" r="0.54"/><circle cx="192.9" cy="985.1" r="0.68"/><circle cx="252.2" cy="932.3" r="0.70"/><circle cx="204.6" cy="974.8" r="0.48"/><circle cx="178.0" cy="958.3" r="0.63"/><circle cx="246.8" cy="959.2" r="0.59"/><circle cx="197.6" cy="972.7" r="0.83"/><circle cx="184.8" cy="943.1" r="0.62"/><circle cx="215.3" cy="990.3" r="0.65"/><circle cx="169.4" cy="978.8" r="0.68"/><circle cx="218.3" cy="973.7" r="0.51"/><circle cx="190.7" cy="998.6" r="0.81"/><circle cx="219.0" cy="1006.0" r="0.63"/><circle cx="180.4" cy="954.3" r="0.47"/><circle cx="252.1" cy="978.9" r="0.73"/><circle cx="180.8" cy="994.9" r="0.78"/><circle cx="211.2" cy="974.8" r="0.67"/><circle cx="202.1" cy="943.5" r="0.47"/><circle cx="206.2" cy="963.4" r="0.74"/><circle cx="197.0" cy="944.3" r="0.63"/><circle cx="217.6" cy="983.8" r="0.52"/><circle cx="228.6" cy="932.4" r="0.74"/><circle cx="189.9" cy="998.8" r="0.69"/><circle cx="197.8" cy="937.3" r="0.67"/><circle cx="233.0" cy="1007.9" r="0.72"/><circle cx="176.8" cy="954.7" r="0.49"/><circle cx="203.3" cy="983.1" r="0.79"/><circle cx="248.0" cy="965.4" r="0.80"/><circle cx="223.8" cy="921.9" r="0.57"/><circle cx="219.9" cy="1003.7" r="0.57"/><circle cx="210.4" cy="934.0" r="0.75"/><circle cx="175.5" cy="943.0" r="0.84"/><circle cx="180.0" cy="996.5" r="0.45"/></g>
</g>
<g filter="url(#pb)">
</g>
</g>
<g clip-path="url(#cp1)">
<circle cx="332.4" cy="962.7" r="49" fill="#2c02ee"/>
<g filter="url(#nb)">
<g fill="#c038e8" opacity="0.8"><circle cx="338.5" cy="956.8" r="0.82"/><circle cx="299.6" cy="990.5" r="0.71"/><circle cx="343.7" cy="1004.6" r="0.83"/><circle cx="333.6" cy="928.4" r="0.57"/><circle cx="335.4" cy="940.0" r="0.79"/><circle cx="357.3" cy="962.8" r="0.88"/><circle cx="335.9" cy="923.8" r="0.77"/><circle cx="328.1" cy="922.9" r="0.65"/><circle cx="295.4" cy="954.4" r="0.91"/><circle cx="341.2" cy="988.6" r="0.72"/><circle cx="356.2" cy="979.1" r="0.91"/><circle cx="314.4" cy="953.2" r="0.92"/><circle cx="363.9" cy="991.1" r="0.62"/><circle cx="352.6" cy="976.7" r="0.81"/><circle cx="326.6" cy="1008.4" r="1.02"/><circle cx="323.6" cy="1004.2" r="0.90"/><circle cx="309.5" cy="953.4" r="1.02"/><circle cx="337.8" cy="961.2" r="0.72"/><circle cx="323.0" cy="982.4" r="0.77"/><circle cx="338.5" cy="958.2" r="0.97"/><circle cx="330.3" cy="968.0" r="1.00"/><circle cx="329.2" cy="985.0" r="0.61"/><circle cx="321.0" cy="975.3" r="0.64"/><circle cx="332.4" cy="1000.0" r="0.77"/><circle cx="320.4" cy="996.1" r="0.94"/><circle cx="327.7" cy="934.4" r="1.01"/><circle cx="341.8" cy="927.2" r="0.79"/><circle cx="323.8" cy="978.4" r="0.99"/><circle cx="320.4" cy="953.0" r="1.01"/><circle cx="339.2" cy="956.8" r="0.90"/><circle cx="335.1" cy="998.5" r="0.97"/><circle cx="312.0" cy="990.6" r="0.88"/><circle cx="346.1" cy="999.0" r="0.76"/><circle cx="353.5" cy="960.4" r="0.91"/><circle cx="357.2" cy="969.3" r="0.61"/><circle cx="353.5" cy="991.4" r="0.64"/><circle cx="336.6" cy="948.1" r="0.86"/><circle cx="343.6" cy="949.3" r="0.66"/><circle cx="335.5" cy="929.2" r="1.02"/><circle cx="316.2" cy="989.0" r="1.03"/><circle cx="305.6" cy="1002.7" r="1.00"/><circle cx="343.5" cy="997.1" r="1.02"/><circle cx="365.8" cy="993.1" r="0.94"/><circle cx="332.2" cy="924.7" r="0.60"/><circle cx="347.5" cy="958.6" r="0.94"/><circle cx="327.8" cy="935.5" r="0.89"/><circle cx="296.5" cy="985.3" r="0.57"/><circle cx="360.2" cy="950.4" r="0.95"/><circle cx="288.9" cy="970.5" r="0.70"/><circle cx="324.9" cy="960.5" r="0.79"/><circle cx="372.3" cy="984.4" r="0.89"/><circle cx="289.3" cy="984.6" r="1.02"/><circle cx="346.0" cy="958.9" r="0.90"/><circle cx="327.0" cy="924.9" r="0.56"/><circle cx="361.2" cy="947.8" r="0.85"/><circle cx="342.6" cy="939.1" r="0.56"/><circle cx="355.0" cy="950.9" r="0.57"/><circle cx="364.3" cy="999.7" r="0.92"/><circle cx="337.1" cy="980.9" r="1.00"/><circle cx="313.3" cy="930.5" r="0.62"/><circle cx="291.6" cy="987.4" r="0.55"/><circle cx="322.2" cy="968.4" r="1.05"/><circle cx="370.3" cy="991.9" r="0.97"/><circle cx="331.2" cy="952.7" r="0.90"/><circle cx="298.1" cy="964.2" r="0.62"/><circle cx="288.6" cy="959.3" r="0.62"/><circle cx="355.0" cy="940.4" r="0.68"/><circle cx="334.7" cy="995.8" r="0.87"/><circle cx="290.6" cy="943.1" r="0.81"/><circle cx="283.8" cy="958.8" r="0.66"/><circle cx="360.3" cy="965.6" r="0.71"/><circle cx="354.9" cy="985.0" r="0.57"/><circle cx="362.4" cy="946.4" r="0.99"/><circle cx="318.8" cy="923.1" r="0.93"/><circle cx="319.1" cy="1002.4" r="0.65"/><circle cx="296.8" cy="949.9" r="0.94"/><circle cx="346.6" cy="987.7" r="0.96"/><circle cx="348.7" cy="917.1" r="0.61"/><circle cx="336.4" cy="978.2" r="0.91"/><circle cx="331.3" cy="923.3" r="0.94"/><circle cx="295.8" cy="959.0" r="1.01"/><circle cx="308.7" cy="930.8" r="0.84"/><circle cx="289.8" cy="964.3" r="0.84"/><circle cx="354.4" cy="985.9" r="0.76"/><circle cx="299.0" cy="977.9" r="0.73"/><circle cx="307.6" cy="982.9" r="0.74"/><circle cx="346.9" cy="960.1" r="0.56"/><circle cx="326.9" cy="932.4" r="0.77"/><circle cx="307.5" cy="946.5" r="0.67"/><circle cx="378.0" cy="967.1" r="1.02"/><circle cx="324.9" cy="995.3" r="0.71"/><circle cx="375.6" cy="979.3" r="0.97"/><circle cx="333.8" cy="987.4" r="0.90"/><circle cx="342.1" cy="930.6" r="0.74"/><circle cx="336.9" cy="1006.2" r="0.98"/><circle cx="342.8" cy="949.8" r="0.85"/><circle cx="373.7" cy="958.9" r="0.78"/><circle cx="339.8" cy="972.2" r="0.92"/><circle cx="372.4" cy="981.1" r="0.88"/><circle cx="286.8" cy="970.4" r="1.02"/><circle cx="320.9" cy="952.4" r="0.84"/><circle cx="310.9" cy="974.4" r="1.01"/><circle cx="330.3" cy="945.7" r="0.66"/><circle cx="312.0" cy="993.7" r="0.71"/><circle cx="291.4" cy="979.1" r="0.64"/><circle cx="327.1" cy="935.0" r="1.02"/><circle cx="359.2" cy="954.3" r="0.85"/><circle cx="356.5" cy="982.8" r="0.86"/><circle cx="313.9" cy="940.8" r="0.57"/><circle cx="358.5" cy="988.5" r="0.64"/><circle cx="319.1" cy="998.9" r="1.00"/><circle cx="307.8" cy="960.3" r="0.84"/><circle cx="325.4" cy="1005.5" r="0.63"/><circle cx="330.0" cy="995.1" r="1.00"/><circle cx="343.3" cy="981.2" r="0.62"/><circle cx="338.8" cy="990.2" r="0.75"/><circle cx="334.3" cy="931.6" r="0.79"/><circle cx="298.1" cy="988.8" r="1.00"/><circle cx="290.4" cy="983.9" r="0.68"/><circle cx="367.6" cy="957.8" r="0.89"/><circle cx="313.6" cy="980.0" r="0.62"/><circle cx="354.5" cy="943.3" r="0.90"/><circle cx="297.9" cy="971.4" r="0.65"/><circle cx="345.0" cy="988.2" r="0.89"/><circle cx="330.1" cy="962.1" r="0.91"/><circle cx="320.7" cy="967.9" r="0.68"/><circle cx="343.0" cy="1005.9" r="0.83"/><circle cx="321.1" cy="984.3" r="0.70"/><circle cx="327.0" cy="991.0" r="0.95"/><circle cx="342.2" cy="923.0" r="0.99"/><circle cx="323.0" cy="949.1" r="0.57"/><circle cx="345.2" cy="984.1" r="0.81"/><circle cx="348.8" cy="929.0" r="0.76"/><circle cx="334.8" cy="1011.2" r="0.93"/><circle cx="326.7" cy="971.5" r="1.04"/><circle cx="330.7" cy="1007.8" r="0.61"/><circle cx="315.7" cy="938.7" r="0.99"/><circle cx="327.9" cy="977.6" r="0.65"/><circle cx="349.0" cy="917.2" r="0.87"/><circle cx="321.6" cy="939.0" r="0.69"/><circle cx="374.0" cy="987.9" r="0.57"/><circle cx="310.3" cy="943.9" r="0.64"/><circle cx="288.9" cy="981.2" r="0.67"/><circle cx="352.3" cy="996.1" r="0.88"/><circle cx="311.7" cy="961.3" r="0.99"/><circle cx="348.1" cy="975.8" r="0.67"/><circle cx="298.7" cy="959.8" r="0.83"/><circle cx="325.7" cy="916.9" r="0.78"/><circle cx="375.5" cy="974.3" r="0.56"/><circle cx="324.7" cy="979.6" r="0.85"/><circle cx="335.9" cy="945.5" r="0.70"/><circle cx="356.5" cy="930.0" r="0.60"/><circle cx="315.4" cy="922.5" r="0.75"/><circle cx="354.7" cy="995.6" r="0.71"/><circle cx="345.7" cy="977.5" r="0.75"/><circle cx="353.6" cy="984.5" r="0.83"/><circle cx="302.9" cy="952.7" r="0.95"/><circle cx="356.4" cy="977.5" r="1.02"/><circle cx="363.3" cy="927.3" r="0.93"/><circle cx="290.0" cy="953.0" r="0.84"/><circle cx="350.7" cy="979.4" r="0.60"/><circle cx="352.1" cy="943.1" r="0.75"/><circle cx="317.3" cy="959.0" r="0.90"/><circle cx="344.7" cy="920.8" r="0.99"/><circle cx="324.7" cy="979.7" r="0.93"/><circle cx="322.0" cy="934.7" r="0.72"/><circle cx="357.8" cy="999.5" r="0.78"/><circle cx="343.3" cy="936.3" r="0.71"/><circle cx="290.2" cy="959.2" r="0.99"/><circle cx="307.7" cy="995.2" r="0.75"/><circle cx="359.9" cy="930.0" r="0.83"/><circle cx="315.7" cy="982.2" r="0.99"/><circle cx="340.9" cy="937.0" r="0.59"/><circle cx="348.7" cy="1008.0" r="0.57"/><circle cx="345.5" cy="929.6" r="0.83"/><circle cx="302.0" cy="955.0" r="0.83"/><circle cx="372.1" cy="987.9" r="0.60"/><circle cx="358.3" cy="993.5" r="0.87"/><circle cx="346.6" cy="924.5" r="1.02"/><circle cx="337.2" cy="964.3" r="0.67"/><circle cx="335.9" cy="943.9" r="0.82"/><circle cx="334.9" cy="943.5" r="0.81"/><circle cx="366.8" cy="938.0" r="0.75"/><circle cx="306.8" cy="966.1" r="1.03"/><circle cx="340.6" cy="923.1" r="0.70"/><circle cx="328.5" cy="928.7" r="0.95"/><circle cx="302.2" cy="997.4" r="0.89"/><circle cx="297.4" cy="973.9" r="0.95"/><circle cx="285.2" cy="954.0" r="0.55"/><circle cx="365.5" cy="937.8" r="0.79"/><circle cx="343.5" cy="947.4" r="0.72"/><circle cx="322.4" cy="919.4" r="0.74"/><circle cx="371.8" cy="961.2" r="0.57"/><circle cx="342.1" cy="972.2" r="0.83"/><circle cx="321.5" cy="985.2" r="0.77"/><circle cx="373.6" cy="984.7" r="0.97"/><circle cx="301.9" cy="950.9" r="0.70"/><circle cx="309.4" cy="945.3" r="1.04"/><circle cx="372.6" cy="951.3" r="0.96"/><circle cx="347.7" cy="970.5" r="0.72"/><circle cx="354.8" cy="985.4" r="1.04"/><circle cx="356.7" cy="921.3" r="0.66"/><circle cx="333.7" cy="970.1" r="0.69"/><circle cx="365.8" cy="975.1" r="0.70"/><circle cx="315.5" cy="930.1" r="0.85"/><circle cx="319.5" cy="1002.7" r="0.89"/><circle cx="324.9" cy="929.9" r="0.78"/><circle cx="330.2" cy="972.3" r="0.78"/><circle cx="316.7" cy="948.6" r="0.98"/><circle cx="365.2" cy="931.5" r="0.96"/><circle cx="311.9" cy="964.2" r="0.69"/><circle cx="328.6" cy="914.2" r="0.61"/><circle cx="361.5" cy="963.8" r="0.72"/><circle cx="319.0" cy="953.2" r="0.97"/><circle cx="307.9" cy="1002.4" r="0.71"/><circle cx="325.4" cy="982.0" r="1.03"/><circle cx="294.7" cy="939.0" r="0.58"/><circle cx="292.0" cy="951.5" r="1.04"/><circle cx="347.0" cy="956.6" r="0.74"/><circle cx="368.2" cy="962.4" r="1.03"/><circle cx="332.2" cy="970.5" r="1.02"/><circle cx="329.2" cy="999.3" r="0.73"/><circle cx="290.6" cy="940.5" r="1.02"/><circle cx="350.2" cy="945.4" r="0.96"/><circle cx="363.8" cy="966.3" r="1.02"/><circle cx="331.5" cy="992.4" r="0.84"/><circle cx="335.9" cy="1003.8" r="0.88"/><circle cx="371.3" cy="989.1" r="0.59"/><circle cx="322.9" cy="935.4" r="0.62"/><circle cx="375.6" cy="985.7" r="0.95"/><circle cx="290.2" cy="973.9" r="1.03"/><circle cx="364.4" cy="946.7" r="0.69"/><circle cx="284.2" cy="957.1" r="0.92"/><circle cx="310.7" cy="923.3" r="0.75"/><circle cx="290.3" cy="946.4" r="0.65"/><circle cx="337.3" cy="956.7" r="0.82"/><circle cx="315.7" cy="954.2" r="1.01"/><circle cx="312.8" cy="970.5" r="0.76"/><circle cx="305.5" cy="945.3" r="0.55"/><circle cx="367.0" cy="985.4" r="0.62"/><circle cx="330.9" cy="1006.7" r="0.98"/><circle cx="347.5" cy="948.8" r="0.55"/><circle cx="333.4" cy="924.8" r="0.73"/><circle cx="364.4" cy="966.4" r="0.67"/><circle cx="291.1" cy="937.2" r="0.65"/><circle cx="368.8" cy="981.2" r="0.60"/><circle cx="337.9" cy="994.7" r="1.04"/><circle cx="320.0" cy="987.3" r="0.79"/><circle cx="348.7" cy="989.2" r="0.90"/><circle cx="312.8" cy="1001.8" r="0.64"/><circle cx="363.6" cy="985.8" r="0.78"/><circle cx="346.2" cy="954.9" r="0.92"/><circle cx="318.0" cy="936.6" r="0.61"/><circle cx="299.8" cy="935.1" r="0.79"/><circle cx="292.4" cy="969.7" r="0.85"/><circle cx="313.7" cy="972.5" r="0.78"/><circle cx="288.3" cy="948.4" r="1.05"/><circle cx="306.1" cy="952.9" r="0.66"/><circle cx="303.7" cy="931.9" r="0.67"/><circle cx="314.5" cy="917.1" r="0.75"/><circle cx="362.4" cy="950.6" r="0.88"/><circle cx="347.2" cy="946.3" r="0.72"/><circle cx="344.9" cy="961.5" r="0.70"/><circle cx="290.6" cy="968.9" r="0.87"/><circle cx="368.7" cy="945.6" r="0.55"/><circle cx="340.8" cy="966.8" r="0.77"/><circle cx="367.4" cy="968.7" r="0.87"/><circle cx="345.8" cy="1006.0" r="0.76"/><circle cx="360.8" cy="955.4" r="0.86"/><circle cx="308.1" cy="956.2" r="0.94"/><circle cx="356.9" cy="963.3" r="0.71"/><circle cx="358.0" cy="939.3" r="0.57"/><circle cx="320.8" cy="999.2" r="0.95"/><circle cx="365.9" cy="990.1" r="0.75"/><circle cx="301.0" cy="957.9" r="0.77"/><circle cx="379.3" cy="959.9" r="1.01"/><circle cx="328.7" cy="921.9" r="0.62"/><circle cx="376.0" cy="972.5" r="0.89"/><circle cx="313.7" cy="942.6" r="0.68"/><circle cx="363.8" cy="945.7" r="0.56"/><circle cx="316.8" cy="987.1" r="0.58"/><circle cx="378.5" cy="956.3" r="0.96"/><circle cx="364.0" cy="963.5" r="0.61"/><circle cx="325.7" cy="919.1" r="0.94"/><circle cx="336.8" cy="946.2" r="0.56"/><circle cx="369.9" cy="987.5" r="0.96"/><circle cx="308.8" cy="960.3" r="0.98"/><circle cx="352.7" cy="981.9" r="0.55"/><circle cx="363.8" cy="959.3" r="0.94"/><circle cx="344.3" cy="927.3" r="1.04"/><circle cx="339.6" cy="916.1" r="1.03"/><circle cx="369.3" cy="983.6" r="0.66"/><circle cx="319.5" cy="988.2" r="1.04"/><circle cx="362.4" cy="974.7" r="0.61"/><circle cx="366.9" cy="962.1" r="0.90"/><circle cx="289.8" cy="957.3" r="0.72"/><circle cx="296.2" cy="984.6" r="0.90"/><circle cx="353.1" cy="945.0" r="0.97"/><circle cx="329.4" cy="925.7" r="0.75"/><circle cx="320.0" cy="957.1" r="0.60"/></g>
<g fill="#9020e8" opacity="0.7"><circle cx="325.9" cy="978.6" r="0.57"/><circle cx="323.7" cy="921.7" r="0.86"/><circle cx="343.8" cy="1002.7" r="0.96"/><circle cx="315.3" cy="946.8" r="0.83"/><circle cx="312.3" cy="978.3" r="0.62"/><circle cx="358.1" cy="933.4" r="1.02"/><circle cx="344.2" cy="984.9" r="0.80"/><circle cx="357.5" cy="972.5" r="0.82"/><circle cx="286.0" cy="968.0" r="0.84"/><circle cx="308.1" cy="934.2" r="0.94"/><circle cx="331.6" cy="963.6" r="1.04"/><circle cx="337.0" cy="945.9" r="0.61"/><circle cx="339.3" cy="1001.8" r="0.62"/><circle cx="366.6" cy="967.0" r="0.55"/><circle cx="330.7" cy="992.9" r="0.65"/><circle cx="357.4" cy="963.1" r="0.67"/><circle cx="318.2" cy="990.9" r="0.73"/><circle cx="329.4" cy="968.8" r="0.97"/><circle cx="329.9" cy="928.4" r="0.55"/><circle cx="337.3" cy="1008.9" r="0.78"/><circle cx="344.7" cy="1005.3" r="1.00"/><circle cx="357.4" cy="986.8" r="0.83"/><circle cx="352.9" cy="981.3" r="0.86"/><circle cx="314.4" cy="928.3" r="0.86"/><circle cx="323.1" cy="971.6" r="0.56"/><circle cx="356.2" cy="923.9" r="1.00"/><circle cx="370.6" cy="982.5" r="0.64"/><circle cx="319.9" cy="980.7" r="0.98"/><circle cx="351.2" cy="922.1" r="0.74"/><circle cx="355.4" cy="952.9" r="0.84"/><circle cx="321.4" cy="941.7" r="0.74"/><circle cx="367.7" cy="988.5" r="0.64"/><circle cx="349.4" cy="982.2" r="0.87"/><circle cx="309.3" cy="935.8" r="0.98"/><circle cx="332.7" cy="940.3" r="0.82"/><circle cx="344.1" cy="983.8" r="0.62"/><circle cx="358.1" cy="976.2" r="0.99"/><circle cx="324.3" cy="950.6" r="0.66"/><circle cx="302.5" cy="943.3" r="0.56"/><circle cx="363.0" cy="983.2" r="0.85"/><circle cx="370.1" cy="983.5" r="0.67"/><circle cx="302.2" cy="943.7" r="0.72"/><circle cx="361.5" cy="952.5" r="0.76"/><circle cx="288.9" cy="951.5" r="1.04"/><circle cx="336.8" cy="927.0" r="0.91"/><circle cx="301.4" cy="926.1" r="1.04"/><circle cx="333.8" cy="939.9" r="0.83"/><circle cx="310.5" cy="971.4" r="0.94"/><circle cx="339.8" cy="1003.3" r="0.79"/><circle cx="295.5" cy="981.0" r="0.91"/><circle cx="381.3" cy="959.5" r="0.95"/><circle cx="328.9" cy="1002.6" r="0.80"/><circle cx="362.9" cy="950.7" r="0.73"/><circle cx="365.6" cy="968.1" r="0.82"/><circle cx="326.7" cy="977.5" r="0.79"/><circle cx="350.7" cy="971.4" r="0.77"/><circle cx="312.4" cy="991.0" r="0.82"/><circle cx="318.7" cy="974.2" r="0.56"/><circle cx="287.5" cy="945.1" r="0.69"/><circle cx="315.9" cy="984.9" r="0.92"/><circle cx="288.7" cy="964.6" r="0.55"/><circle cx="347.4" cy="979.2" r="0.73"/><circle cx="307.9" cy="980.7" r="1.03"/><circle cx="297.9" cy="976.6" r="1.03"/><circle cx="308.7" cy="933.3" r="0.96"/><circle cx="327.7" cy="970.7" r="1.03"/><circle cx="295.9" cy="954.7" r="0.58"/><circle cx="331.5" cy="932.8" r="0.87"/><circle cx="322.6" cy="1008.6" r="0.73"/><circle cx="325.0" cy="1008.4" r="0.66"/><circle cx="327.9" cy="996.6" r="1.04"/><circle cx="349.2" cy="977.6" r="0.95"/><circle cx="360.5" cy="977.0" r="0.94"/><circle cx="322.3" cy="920.3" r="0.61"/><circle cx="354.9" cy="944.0" r="0.96"/><circle cx="286.9" cy="970.9" r="0.79"/><circle cx="331.5" cy="981.7" r="0.80"/><circle cx="351.3" cy="968.8" r="0.99"/><circle cx="291.7" cy="942.3" r="0.63"/><circle cx="299.1" cy="966.8" r="0.60"/><circle cx="328.4" cy="1009.6" r="0.91"/><circle cx="294.2" cy="960.5" r="0.98"/><circle cx="368.6" cy="951.9" r="0.58"/><circle cx="346.2" cy="948.4" r="0.67"/><circle cx="355.3" cy="989.3" r="0.84"/><circle cx="299.9" cy="971.0" r="0.62"/><circle cx="325.2" cy="927.5" r="0.70"/><circle cx="356.2" cy="921.6" r="1.01"/><circle cx="345.2" cy="961.5" r="0.74"/><circle cx="308.8" cy="970.4" r="0.92"/><circle cx="347.5" cy="952.4" r="0.80"/><circle cx="377.6" cy="953.3" r="0.78"/><circle cx="358.6" cy="982.9" r="0.81"/><circle cx="337.1" cy="942.1" r="0.69"/><circle cx="337.7" cy="962.2" r="0.86"/><circle cx="367.5" cy="986.6" r="0.76"/><circle cx="353.1" cy="952.2" r="0.99"/><circle cx="333.9" cy="973.3" r="0.59"/><circle cx="359.5" cy="976.8" r="1.04"/><circle cx="307.0" cy="995.5" r="0.57"/><circle cx="296.6" cy="959.1" r="0.60"/><circle cx="303.7" cy="947.0" r="0.71"/><circle cx="352.1" cy="927.0" r="0.61"/><circle cx="341.2" cy="969.6" r="0.68"/><circle cx="300.9" cy="926.2" r="1.03"/><circle cx="343.8" cy="949.7" r="0.95"/><circle cx="335.0" cy="929.1" r="1.05"/><circle cx="318.7" cy="952.9" r="0.66"/><circle cx="358.7" cy="990.6" r="0.86"/><circle cx="335.5" cy="958.8" r="0.55"/><circle cx="357.1" cy="958.4" r="0.68"/><circle cx="343.3" cy="950.6" r="0.95"/><circle cx="361.7" cy="940.5" r="0.85"/><circle cx="370.5" cy="964.1" r="0.86"/><circle cx="337.0" cy="927.8" r="0.61"/><circle cx="339.2" cy="1001.7" r="0.59"/><circle cx="351.6" cy="978.0" r="0.95"/><circle cx="304.4" cy="954.3" r="1.03"/><circle cx="311.5" cy="951.0" r="0.83"/><circle cx="350.7" cy="939.2" r="0.77"/><circle cx="289.4" cy="939.9" r="0.87"/><circle cx="348.1" cy="996.6" r="0.71"/><circle cx="291.6" cy="969.6" r="0.56"/><circle cx="305.0" cy="961.4" r="0.85"/><circle cx="346.8" cy="932.5" r="0.86"/><circle cx="326.4" cy="986.8" r="0.81"/><circle cx="309.7" cy="958.0" r="0.93"/><circle cx="303.2" cy="962.8" r="0.68"/><circle cx="356.6" cy="922.9" r="1.02"/><circle cx="332.6" cy="975.8" r="0.87"/><circle cx="377.2" cy="969.7" r="0.89"/><circle cx="315.5" cy="990.5" r="0.89"/><circle cx="348.2" cy="987.7" r="0.94"/><circle cx="316.6" cy="928.7" r="0.60"/><circle cx="337.5" cy="987.0" r="0.57"/><circle cx="308.8" cy="934.1" r="1.01"/><circle cx="288.2" cy="947.0" r="0.78"/><circle cx="306.6" cy="959.8" r="0.78"/><circle cx="364.0" cy="949.5" r="0.55"/><circle cx="319.2" cy="980.0" r="0.86"/><circle cx="298.7" cy="960.7" r="1.01"/><circle cx="333.5" cy="948.3" r="0.57"/><circle cx="320.9" cy="926.6" r="0.88"/><circle cx="323.1" cy="962.7" r="0.78"/><circle cx="351.8" cy="930.0" r="0.57"/><circle cx="365.5" cy="995.5" r="0.82"/><circle cx="353.5" cy="998.1" r="1.01"/><circle cx="358.5" cy="933.2" r="0.95"/><circle cx="360.8" cy="980.1" r="0.96"/><circle cx="322.3" cy="978.3" r="0.98"/><circle cx="331.2" cy="958.6" r="0.58"/><circle cx="287.6" cy="945.9" r="0.86"/><circle cx="343.7" cy="951.5" r="0.84"/><circle cx="344.1" cy="988.4" r="0.62"/><circle cx="322.1" cy="965.1" r="0.88"/><circle cx="304.2" cy="925.6" r="0.93"/><circle cx="373.0" cy="983.6" r="0.82"/><circle cx="364.0" cy="949.3" r="0.59"/><circle cx="326.6" cy="943.1" r="1.04"/><circle cx="287.3" cy="951.3" r="0.80"/><circle cx="314.0" cy="998.1" r="0.90"/><circle cx="307.5" cy="969.1" r="0.76"/><circle cx="327.3" cy="939.9" r="0.63"/><circle cx="292.9" cy="966.7" r="0.58"/><circle cx="325.9" cy="1010.6" r="0.68"/><circle cx="336.1" cy="935.9" r="0.59"/><circle cx="286.9" cy="966.6" r="0.94"/><circle cx="371.6" cy="974.9" r="0.86"/><circle cx="292.7" cy="967.1" r="0.81"/><circle cx="349.1" cy="1000.0" r="0.61"/><circle cx="315.8" cy="1004.8" r="0.83"/><circle cx="291.2" cy="959.8" r="0.80"/><circle cx="305.2" cy="986.9" r="0.56"/><circle cx="326.6" cy="970.5" r="1.05"/><circle cx="365.6" cy="941.0" r="0.63"/><circle cx="348.4" cy="942.1" r="0.95"/><circle cx="310.2" cy="931.7" r="0.92"/><circle cx="327.5" cy="1007.2" r="0.82"/><circle cx="334.4" cy="917.8" r="0.68"/><circle cx="307.5" cy="978.4" r="0.59"/><circle cx="361.2" cy="934.1" r="0.79"/><circle cx="288.3" cy="949.8" r="0.58"/><circle cx="306.9" cy="994.3" r="0.82"/><circle cx="307.5" cy="963.1" r="0.66"/><circle cx="318.7" cy="937.6" r="1.02"/><circle cx="371.8" cy="934.8" r="0.69"/><circle cx="316.6" cy="961.3" r="0.73"/><circle cx="363.4" cy="978.4" r="1.03"/><circle cx="334.7" cy="933.2" r="0.69"/><circle cx="342.6" cy="958.0" r="0.97"/><circle cx="340.3" cy="952.6" r="1.03"/><circle cx="313.8" cy="938.4" r="0.76"/><circle cx="304.8" cy="940.3" r="0.98"/><circle cx="354.5" cy="945.6" r="0.55"/><circle cx="339.5" cy="923.9" r="0.88"/><circle cx="344.5" cy="968.8" r="1.00"/><circle cx="310.3" cy="988.1" r="1.04"/><circle cx="345.6" cy="999.4" r="0.58"/><circle cx="293.4" cy="946.9" r="0.63"/><circle cx="335.4" cy="914.6" r="0.96"/><circle cx="344.4" cy="916.6" r="0.91"/><circle cx="289.9" cy="949.6" r="0.95"/><circle cx="304.8" cy="933.6" r="0.64"/><circle cx="317.7" cy="986.5" r="0.98"/><circle cx="337.6" cy="936.8" r="1.05"/><circle cx="343.7" cy="967.1" r="0.71"/><circle cx="374.6" cy="985.0" r="0.73"/><circle cx="297.8" cy="992.0" r="0.82"/><circle cx="310.2" cy="938.9" r="0.78"/><circle cx="357.3" cy="955.8" r="0.81"/><circle cx="314.2" cy="965.2" r="0.62"/><circle cx="288.6" cy="960.9" r="0.77"/><circle cx="376.6" cy="979.9" r="0.62"/><circle cx="340.2" cy="955.8" r="0.87"/><circle cx="347.6" cy="982.6" r="0.76"/><circle cx="333.5" cy="930.4" r="0.76"/><circle cx="303.5" cy="983.1" r="0.69"/><circle cx="352.9" cy="956.5" r="0.62"/><circle cx="304.7" cy="954.0" r="0.91"/><circle cx="371.5" cy="972.6" r="0.73"/><circle cx="356.5" cy="950.9" r="0.77"/><circle cx="317.7" cy="995.3" r="0.69"/><circle cx="317.2" cy="935.2" r="0.90"/><circle cx="323.9" cy="994.7" r="0.83"/><circle cx="324.6" cy="923.9" r="0.76"/><circle cx="346.5" cy="971.1" r="0.62"/><circle cx="340.9" cy="981.9" r="0.88"/><circle cx="307.2" cy="1002.0" r="0.67"/><circle cx="333.0" cy="983.6" r="0.62"/><circle cx="317.0" cy="928.8" r="0.68"/><circle cx="347.3" cy="925.3" r="0.76"/><circle cx="301.5" cy="937.8" r="0.77"/><circle cx="357.2" cy="978.8" r="1.02"/><circle cx="305.0" cy="990.7" r="0.59"/><circle cx="339.2" cy="917.7" r="0.74"/><circle cx="308.1" cy="988.0" r="0.68"/><circle cx="336.8" cy="979.7" r="0.89"/><circle cx="284.6" cy="959.9" r="1.03"/><circle cx="365.9" cy="928.9" r="0.97"/><circle cx="349.8" cy="965.4" r="1.04"/><circle cx="359.4" cy="935.3" r="0.86"/><circle cx="303.0" cy="975.1" r="0.62"/><circle cx="307.9" cy="955.1" r="0.61"/><circle cx="357.9" cy="935.7" r="0.99"/><circle cx="322.3" cy="998.5" r="0.69"/><circle cx="343.3" cy="943.1" r="0.87"/><circle cx="306.1" cy="953.2" r="0.59"/><circle cx="297.1" cy="965.7" r="0.96"/><circle cx="338.5" cy="982.9" r="0.70"/><circle cx="340.0" cy="940.4" r="0.87"/><circle cx="346.2" cy="965.5" r="0.90"/><circle cx="316.0" cy="963.0" r="0.79"/><circle cx="360.9" cy="951.5" r="0.83"/><circle cx="301.8" cy="979.4" r="0.57"/><circle cx="360.1" cy="937.7" r="0.72"/><circle cx="327.9" cy="983.4" r="1.02"/><circle cx="348.7" cy="937.3" r="0.85"/><circle cx="311.7" cy="955.6" r="0.57"/><circle cx="330.6" cy="943.0" r="0.83"/><circle cx="339.6" cy="963.5" r="0.63"/><circle cx="310.6" cy="931.2" r="1.05"/><circle cx="313.4" cy="932.8" r="0.56"/><circle cx="365.5" cy="953.8" r="0.98"/><circle cx="375.6" cy="974.4" r="0.79"/><circle cx="338.9" cy="993.2" r="0.59"/><circle cx="312.4" cy="951.5" r="0.90"/><circle cx="351.2" cy="998.8" r="0.86"/><circle cx="321.0" cy="916.3" r="0.70"/><circle cx="319.8" cy="934.5" r="1.00"/><circle cx="351.9" cy="924.6" r="0.85"/><circle cx="329.0" cy="1009.3" r="1.03"/><circle cx="359.5" cy="953.9" r="0.96"/><circle cx="313.0" cy="922.2" r="0.95"/><circle cx="302.8" cy="971.4" r="0.95"/><circle cx="312.1" cy="933.0" r="0.99"/><circle cx="338.0" cy="963.8" r="0.78"/><circle cx="369.2" cy="988.5" r="0.59"/><circle cx="349.6" cy="947.0" r="0.62"/><circle cx="333.4" cy="922.4" r="0.76"/><circle cx="302.4" cy="942.0" r="1.02"/><circle cx="296.4" cy="961.0" r="0.78"/><circle cx="297.8" cy="984.1" r="0.61"/><circle cx="315.7" cy="918.6" r="0.93"/><circle cx="304.3" cy="954.9" r="0.60"/><circle cx="362.5" cy="982.4" r="0.99"/><circle cx="346.4" cy="947.1" r="0.92"/><circle cx="344.3" cy="930.9" r="0.98"/><circle cx="343.4" cy="988.9" r="0.81"/><circle cx="327.6" cy="930.2" r="0.70"/><circle cx="353.0" cy="939.9" r="0.76"/><circle cx="338.0" cy="996.3" r="0.90"/><circle cx="306.6" cy="993.1" r="0.80"/><circle cx="380.3" cy="966.3" r="0.69"/><circle cx="286.4" cy="949.1" r="0.65"/><circle cx="352.8" cy="971.4" r="0.63"/><circle cx="353.3" cy="934.4" r="0.57"/><circle cx="327.7" cy="997.4" r="0.64"/><circle cx="316.2" cy="1006.4" r="0.77"/><circle cx="336.4" cy="1000.4" r="0.61"/><circle cx="293.3" cy="957.8" r="0.59"/></g>
</g>
<g filter="url(#pb)">
<circle cx="337.2" cy="919.7" r="3.6" fill="#e040e8" opacity="0.6"/>
<circle cx="336.6" cy="921.1" r="1.7" fill="#fbe4fa"/>
<circle cx="338.3" cy="919.0" r="1.4" fill="#fbe4fa"/>
<circle cx="337.8" cy="921.1" r="1.8" fill="#fbe4fa"/>
<circle cx="338.2" cy="920.1" r="1.5" fill="#fbe4fa"/>
<circle cx="335.5" cy="920.1" r="1.7" fill="#fbe4fa"/>
<circle cx="337.7" cy="927.4" r="3.7" fill="#e040e8" opacity="0.6"/>
<circle cx="337.8" cy="926.5" r="1.8" fill="#fbe4fa"/>
<circle cx="336.9" cy="928.2" r="1.7" fill="#fbe4fa"/>
<circle cx="337.3" cy="926.8" r="1.9" fill="#fbe4fa"/>
<circle cx="338.2" cy="928.2" r="2.0" fill="#fbe4fa"/>
<circle cx="338.7" cy="927.3" r="2.0" fill="#fbe4fa"/>
<circle cx="345.9" cy="924.3" r="3.2" fill="#e040e8" opacity="0.6"/>
<circle cx="346.7" cy="924.1" r="1.2" fill="#fbe4fa"/>
<circle cx="346.0" cy="923.6" r="1.6" fill="#fbe4fa"/>
<circle cx="346.6" cy="924.3" r="1.4" fill="#fbe4fa"/>
<circle cx="346.9" cy="924.9" r="1.3" fill="#fbe4fa"/>
<circle cx="345.8" cy="923.1" r="1.7" fill="#fbe4fa"/>
<circle cx="355.1" cy="923.8" r="3.8" fill="#e040e8" opacity="0.6"/>
<circle cx="355.9" cy="925.4" r="2.0" fill="#fbe4fa"/>
<circle cx="354.0" cy="923.3" r="1.5" fill="#fbe4fa"/>
<circle cx="354.8" cy="924.5" r="1.6" fill="#fbe4fa"/>
<circle cx="354.4" cy="923.2" r="1.9" fill="#fbe4fa"/>
<circle cx="353.6" cy="923.1" r="1.5" fill="#fbe4fa"/>
<circle cx="327" cy="926.4" r="3.8" fill="#e040e8" opacity="0.6"/>
<circle cx="325.6" cy="926.3" r="1.6" fill="#fbe4fa"/>
<circle cx="326.6" cy="925.4" r="1.9" fill="#fbe4fa"/>
<circle cx="326.4" cy="926.0" r="1.6" fill="#fbe4fa"/>
<circle cx="327.0" cy="925.9" r="1.9" fill="#fbe4fa"/>
<circle cx="325.6" cy="926.0" r="1.7" fill="#fbe4fa"/>
<circle cx="320.9" cy="926.4" r="3.5" fill="#e040e8" opacity="0.6"/>
<circle cx="319.4" cy="926.6" r="1.4" fill="#fbe4fa"/>
<circle cx="320.0" cy="926.3" r="1.7" fill="#fbe4fa"/>
<circle cx="320.9" cy="927.2" r="1.4" fill="#fbe4fa"/>
<circle cx="321.7" cy="925.8" r="1.8" fill="#fbe4fa"/>
<circle cx="320.8" cy="925.5" r="1.6" fill="#fbe4fa"/>
<circle cx="298.4" cy="930.4" r="3.2" fill="#e040e8" opacity="0.6"/>
<circle cx="299.7" cy="929.8" r="1.2" fill="#fbe4fa"/>
<circle cx="297.2" cy="930.3" r="1.5" fill="#fbe4fa"/>
<circle cx="298.0" cy="932.1" r="1.5" fill="#fbe4fa"/>
<circle cx="299.9" cy="931.1" r="1.6" fill="#fbe4fa"/>
<circle cx="297.9" cy="931.8" r="1.6" fill="#fbe4fa"/>
<circle cx="296.3" cy="934.5" r="3.8" fill="#e040e8" opacity="0.6"/>
<circle cx="297.8" cy="935.2" r="1.6" fill="#fbe4fa"/>
<circle cx="296.8" cy="933.1" r="1.8" fill="#fbe4fa"/>
<circle cx="297.6" cy="933.6" r="2.1" fill="#fbe4fa"/>
<circle cx="297.6" cy="934.2" r="1.9" fill="#fbe4fa"/>
<circle cx="295.8" cy="933.6" r="1.8" fill="#fbe4fa"/>
<circle cx="320.9" cy="935.6" r="3.5" fill="#e040e8" opacity="0.6"/>
<circle cx="321.1" cy="936.4" r="1.8" fill="#fbe4fa"/>
<circle cx="321.7" cy="934.4" r="1.7" fill="#fbe4fa"/>
<circle cx="319.6" cy="935.5" r="1.7" fill="#fbe4fa"/>
<circle cx="322.0" cy="935.7" r="1.9" fill="#fbe4fa"/>
<circle cx="321.2" cy="936.7" r="1.4" fill="#fbe4fa"/>
<circle cx="340.8" cy="939.1" r="3.3" fill="#e040e8" opacity="0.6"/>
<circle cx="341.0" cy="938.6" r="1.7" fill="#fbe4fa"/>
<circle cx="341.3" cy="937.5" r="1.4" fill="#fbe4fa"/>
<circle cx="341.7" cy="938.7" r="1.5" fill="#fbe4fa"/>
<circle cx="342.0" cy="938.7" r="1.6" fill="#fbe4fa"/>
<circle cx="341.2" cy="939.4" r="1.4" fill="#fbe4fa"/>
<circle cx="355.1" cy="939.7" r="3.2" fill="#e040e8" opacity="0.6"/>
<circle cx="355.5" cy="938.9" r="1.7" fill="#fbe4fa"/>
<circle cx="354.8" cy="939.0" r="1.6" fill="#fbe4fa"/>
<circle cx="354.6" cy="940.8" r="1.2" fill="#fbe4fa"/>
<circle cx="355.9" cy="938.3" r="1.5" fill="#fbe4fa"/>
<circle cx="354.7" cy="938.8" r="1.3" fill="#fbe4fa"/>
<circle cx="362.8" cy="936.1" r="3.4" fill="#e040e8" opacity="0.6"/>
<circle cx="362.7" cy="934.8" r="1.3" fill="#fbe4fa"/>
<circle cx="362.9" cy="937.3" r="1.3" fill="#fbe4fa"/>
<circle cx="363.9" cy="936.4" r="1.3" fill="#fbe4fa"/>
<circle cx="363.3" cy="935.7" r="1.7" fill="#fbe4fa"/>
<circle cx="363.1" cy="935.2" r="1.6" fill="#fbe4fa"/>
<circle cx="368.9" cy="941.7" r="3.9" fill="#e040e8" opacity="0.6"/>
<circle cx="368.1" cy="941.0" r="2.2" fill="#fbe4fa"/>
<circle cx="368.8" cy="943.5" r="1.7" fill="#fbe4fa"/>
<circle cx="368.1" cy="942.1" r="1.9" fill="#fbe4fa"/>
<circle cx="370.0" cy="940.7" r="1.6" fill="#fbe4fa"/>
<circle cx="370.4" cy="941.6" r="1.8" fill="#fbe4fa"/>
<circle cx="370.4" cy="945.8" r="3.8" fill="#e040e8" opacity="0.6"/>
<circle cx="371.4" cy="946.6" r="2.0" fill="#fbe4fa"/>
<circle cx="370.6" cy="944.4" r="1.5" fill="#fbe4fa"/>
<circle cx="369.5" cy="945.9" r="1.8" fill="#fbe4fa"/>
<circle cx="369.5" cy="946.5" r="1.8" fill="#fbe4fa"/>
<circle cx="368.9" cy="944.9" r="1.6" fill="#fbe4fa"/>
<circle cx="363.8" cy="948.3" r="3.4" fill="#e040e8" opacity="0.6"/>
<circle cx="364.1" cy="948.9" r="1.7" fill="#fbe4fa"/>
<circle cx="364.4" cy="948.0" r="1.4" fill="#fbe4fa"/>
<circle cx="365.2" cy="947.3" r="1.8" fill="#fbe4fa"/>
<circle cx="364.7" cy="948.3" r="1.3" fill="#fbe4fa"/>
<circle cx="363.8" cy="949.5" r="1.2" fill="#fbe4fa"/>
<circle cx="341.3" cy="949.4" r="3.3" fill="#e040e8" opacity="0.6"/>
<circle cx="339.9" cy="949.6" r="1.3" fill="#fbe4fa"/>
<circle cx="342.0" cy="950.1" r="1.3" fill="#fbe4fa"/>
<circle cx="341.8" cy="949.8" r="1.7" fill="#fbe4fa"/>
<circle cx="341.7" cy="949.0" r="1.7" fill="#fbe4fa"/>
<circle cx="342.1" cy="948.2" r="1.4" fill="#fbe4fa"/>
<circle cx="325" cy="956" r="3.8" fill="#e040e8" opacity="0.6"/>
<circle cx="325.5" cy="956.3" r="2.1" fill="#fbe4fa"/>
<circle cx="325.3" cy="957.8" r="1.9" fill="#fbe4fa"/>
<circle cx="325.6" cy="956.2" r="1.9" fill="#fbe4fa"/>
<circle cx="325.9" cy="957.1" r="1.9" fill="#fbe4fa"/>
<circle cx="325.1" cy="957.2" r="1.6" fill="#fbe4fa"/>
<circle cx="352.6" cy="956" r="3.8" fill="#e040e8" opacity="0.6"/>
<circle cx="351.6" cy="954.9" r="1.9" fill="#fbe4fa"/>
<circle cx="354.2" cy="956.6" r="2.0" fill="#fbe4fa"/>
<circle cx="351.3" cy="955.9" r="1.8" fill="#fbe4fa"/>
<circle cx="352.6" cy="954.8" r="1.6" fill="#fbe4fa"/>
<circle cx="351.8" cy="955.9" r="1.4" fill="#fbe4fa"/>
<circle cx="362.8" cy="959.1" r="3.5" fill="#e040e8" opacity="0.6"/>
<circle cx="363.8" cy="958.0" r="1.5" fill="#fbe4fa"/>
<circle cx="361.5" cy="959.0" r="1.7" fill="#fbe4fa"/>
<circle cx="361.6" cy="959.4" r="1.7" fill="#fbe4fa"/>
<circle cx="363.7" cy="958.3" r="1.8" fill="#fbe4fa"/>
<circle cx="362.5" cy="958.5" r="1.5" fill="#fbe4fa"/>
<circle cx="368.9" cy="961.6" r="3.4" fill="#e040e8" opacity="0.6"/>
<circle cx="368.2" cy="962.5" r="1.4" fill="#fbe4fa"/>
<circle cx="370.4" cy="961.6" r="1.5" fill="#fbe4fa"/>
<circle cx="368.3" cy="959.9" r="1.3" fill="#fbe4fa"/>
<circle cx="367.6" cy="960.3" r="1.5" fill="#fbe4fa"/>
<circle cx="370.1" cy="960.5" r="1.4" fill="#fbe4fa"/>
<circle cx="357.7" cy="963.2" r="3.3" fill="#e040e8" opacity="0.6"/>
<circle cx="358.1" cy="962.2" r="1.4" fill="#fbe4fa"/>
<circle cx="356.2" cy="963.5" r="1.7" fill="#fbe4fa"/>
<circle cx="359.1" cy="962.4" r="1.3" fill="#fbe4fa"/>
<circle cx="357.4" cy="963.6" r="1.3" fill="#fbe4fa"/>
<circle cx="357.3" cy="963.8" r="1.5" fill="#fbe4fa"/>
<circle cx="335.2" cy="961.1" r="3.2" fill="#e040e8" opacity="0.6"/>
<circle cx="334.6" cy="960.2" r="1.3" fill="#fbe4fa"/>
<circle cx="334.8" cy="960.2" r="1.2" fill="#fbe4fa"/>
<circle cx="336.0" cy="959.8" r="1.7" fill="#fbe4fa"/>
<circle cx="335.0" cy="961.9" r="1.6" fill="#fbe4fa"/>
<circle cx="336.3" cy="962.6" r="1.6" fill="#fbe4fa"/>
<circle cx="336.2" cy="967.3" r="3.6" fill="#e040e8" opacity="0.6"/>
<circle cx="337.0" cy="967.6" r="1.6" fill="#fbe4fa"/>
<circle cx="336.9" cy="967.2" r="1.7" fill="#fbe4fa"/>
<circle cx="337.8" cy="968.2" r="1.8" fill="#fbe4fa"/>
<circle cx="336.8" cy="965.9" r="1.4" fill="#fbe4fa"/>
<circle cx="336.2" cy="967.9" r="1.7" fill="#fbe4fa"/>
<circle cx="348.5" cy="966.2" r="3.2" fill="#e040e8" opacity="0.6"/>
<circle cx="348.8" cy="966.9" r="1.7" fill="#fbe4fa"/>
<circle cx="348.7" cy="965.3" r="1.7" fill="#fbe4fa"/>
<circle cx="348.9" cy="966.8" r="1.4" fill="#fbe4fa"/>
<circle cx="348.7" cy="965.6" r="1.6" fill="#fbe4fa"/>
<circle cx="346.9" cy="965.8" r="1.4" fill="#fbe4fa"/>
<circle cx="369.9" cy="968.8" r="3.2" fill="#e040e8" opacity="0.6"/>
<circle cx="371.1" cy="969.7" r="1.4" fill="#fbe4fa"/>
<circle cx="370.0" cy="968.0" r="1.3" fill="#fbe4fa"/>
<circle cx="370.3" cy="970.4" r="1.5" fill="#fbe4fa"/>
<circle cx="370.8" cy="970.1" r="1.2" fill="#fbe4fa"/>
<circle cx="369.1" cy="969.0" r="1.6" fill="#fbe4fa"/>
<circle cx="326" cy="971.3" r="3.7" fill="#e040e8" opacity="0.6"/>
<circle cx="325.7" cy="970.6" r="1.4" fill="#fbe4fa"/>
<circle cx="325.1" cy="970.2" r="1.4" fill="#fbe4fa"/>
<circle cx="326.9" cy="969.8" r="1.6" fill="#fbe4fa"/>
<circle cx="324.6" cy="971.1" r="2.0" fill="#fbe4fa"/>
<circle cx="325.3" cy="970.3" r="1.9" fill="#fbe4fa"/>
<circle cx="337.2" cy="972.9" r="3.5" fill="#e040e8" opacity="0.6"/>
<circle cx="338.4" cy="973.2" r="1.6" fill="#fbe4fa"/>
<circle cx="336.7" cy="973.8" r="1.4" fill="#fbe4fa"/>
<circle cx="336.6" cy="974.3" r="1.9" fill="#fbe4fa"/>
<circle cx="335.6" cy="973.4" r="1.4" fill="#fbe4fa"/>
<circle cx="335.7" cy="972.7" r="1.8" fill="#fbe4fa"/>
<circle cx="343.3" cy="975.4" r="3.4" fill="#e040e8" opacity="0.6"/>
<circle cx="344.2" cy="977.0" r="1.6" fill="#fbe4fa"/>
<circle cx="342.7" cy="974.6" r="1.3" fill="#fbe4fa"/>
<circle cx="342.3" cy="974.9" r="1.8" fill="#fbe4fa"/>
<circle cx="342.5" cy="974.1" r="1.6" fill="#fbe4fa"/>
<circle cx="343.3" cy="974.7" r="1.9" fill="#fbe4fa"/>
<circle cx="350" cy="972.4" r="3.6" fill="#e040e8" opacity="0.6"/>
<circle cx="349.4" cy="972.0" r="1.4" fill="#fbe4fa"/>
<circle cx="349.6" cy="970.9" r="1.8" fill="#fbe4fa"/>
<circle cx="350.0" cy="973.6" r="1.8" fill="#fbe4fa"/>
<circle cx="348.9" cy="971.0" r="1.4" fill="#fbe4fa"/>
<circle cx="350.1" cy="971.9" r="1.7" fill="#fbe4fa"/>
<circle cx="310.6" cy="975.4" r="3.6" fill="#e040e8" opacity="0.6"/>
<circle cx="311.6" cy="975.9" r="1.7" fill="#fbe4fa"/>
<circle cx="311.0" cy="974.9" r="1.6" fill="#fbe4fa"/>
<circle cx="310.8" cy="974.8" r="1.9" fill="#fbe4fa"/>
<circle cx="311.5" cy="975.0" r="1.5" fill="#fbe4fa"/>
<circle cx="311.1" cy="976.0" r="1.6" fill="#fbe4fa"/>
<circle cx="290.7" cy="975.9" r="3.7" fill="#e040e8" opacity="0.6"/>
<circle cx="291.9" cy="975.4" r="2.0" fill="#fbe4fa"/>
<circle cx="289.4" cy="976.5" r="1.4" fill="#fbe4fa"/>
<circle cx="290.2" cy="976.2" r="1.5" fill="#fbe4fa"/>
<circle cx="290.9" cy="975.3" r="1.6" fill="#fbe4fa"/>
<circle cx="289.5" cy="975.7" r="1.4" fill="#fbe4fa"/>
<circle cx="315.7" cy="985.7" r="3.2" fill="#e040e8" opacity="0.6"/>
<circle cx="315.2" cy="984.7" r="1.2" fill="#fbe4fa"/>
<circle cx="314.7" cy="985.8" r="1.7" fill="#fbe4fa"/>
<circle cx="316.4" cy="985.9" r="1.2" fill="#fbe4fa"/>
<circle cx="313.9" cy="985.1" r="1.6" fill="#fbe4fa"/>
<circle cx="316.7" cy="986.5" r="1.4" fill="#fbe4fa"/>
<circle cx="334.7" cy="989.8" r="3.9" fill="#e040e8" opacity="0.6"/>
<circle cx="334.3" cy="988.5" r="1.7" fill="#fbe4fa"/>
<circle cx="333.6" cy="990.3" r="1.7" fill="#fbe4fa"/>
<circle cx="334.1" cy="989.6" r="1.8" fill="#fbe4fa"/>
<circle cx="335.8" cy="989.7" r="1.8" fill="#fbe4fa"/>
<circle cx="334.7" cy="988.2" r="2.0" fill="#fbe4fa"/>
<circle cx="351.5" cy="994.4" r="3.4" fill="#e040e8" opacity="0.6"/>
<circle cx="351.3" cy="993.6" r="1.6" fill="#fbe4fa"/>
<circle cx="352.3" cy="994.5" r="1.4" fill="#fbe4fa"/>
<circle cx="350.6" cy="995.6" r="1.3" fill="#fbe4fa"/>
<circle cx="351.9" cy="994.0" r="1.8" fill="#fbe4fa"/>
<circle cx="352.8" cy="994.0" r="1.8" fill="#fbe4fa"/>
<circle cx="321.9" cy="999" r="3.9" fill="#e040e8" opacity="0.6"/>
<circle cx="320.3" cy="999.5" r="1.5" fill="#fbe4fa"/>
<circle cx="322.2" cy="997.6" r="2.0" fill="#fbe4fa"/>
<circle cx="322.3" cy="999.5" r="1.8" fill="#fbe4fa"/>
<circle cx="320.8" cy="998.1" r="1.6" fill="#fbe4fa"/>
<circle cx="320.2" cy="998.2" r="1.6" fill="#fbe4fa"/>
<circle cx="353.6" cy="1002" r="3.8" fill="#e040e8" opacity="0.6"/>
<circle cx="355.0" cy="1001.6" r="1.7" fill="#fbe4fa"/>
<circle cx="352.6" cy="1002.6" r="1.5" fill="#fbe4fa"/>
<circle cx="354.4" cy="1002.4" r="1.5" fill="#fbe4fa"/>
<circle cx="354.4" cy="1001.4" r="2.0" fill="#fbe4fa"/>
<circle cx="352.0" cy="1001.3" r="2.0" fill="#fbe4fa"/>
<circle cx="378.1" cy="959.6" r="3.7" fill="#e040e8" opacity="0.6"/>
<circle cx="377.3" cy="959.9" r="1.8" fill="#fbe4fa"/>
<circle cx="377.5" cy="961.1" r="1.4" fill="#fbe4fa"/>
<circle cx="377.5" cy="958.9" r="1.7" fill="#fbe4fa"/>
<circle cx="376.3" cy="959.1" r="2.0" fill="#fbe4fa"/>
<circle cx="377.0" cy="961.0" r="2.0" fill="#fbe4fa"/>
<circle cx="377.1" cy="949.9" r="3.5" fill="#e040e8" opacity="0.6"/>
<circle cx="376.4" cy="949.6" r="1.8" fill="#fbe4fa"/>
<circle cx="375.5" cy="950.0" r="1.9" fill="#fbe4fa"/>
<circle cx="376.0" cy="948.9" r="1.7" fill="#fbe4fa"/>
<circle cx="377.9" cy="950.7" r="1.4" fill="#fbe4fa"/>
<circle cx="377.9" cy="951.6" r="1.6" fill="#fbe4fa"/>
<circle cx="365.8" cy="977" r="3.3" fill="#e040e8" opacity="0.6"/>
<circle cx="365.3" cy="977.2" r="1.5" fill="#fbe4fa"/>
<circle cx="365.9" cy="977.8" r="1.5" fill="#fbe4fa"/>
<circle cx="366.3" cy="976.8" r="1.6" fill="#fbe4fa"/>
<circle cx="364.8" cy="976.4" r="1.4" fill="#fbe4fa"/>
<circle cx="366.8" cy="977.1" r="1.5" fill="#fbe4fa"/>
</g>
</g>
<g clip-path="url(#cp2)">
<circle cx="450.2" cy="962.9" r="49.6" fill="url(#tnfg)"/>
<g filter="url(#pb)">
</g>
</g>
<g clip-path="url(#cp3)">
<circle cx="568.8" cy="963.3" r="48.6" fill="#3a0ce6"/>
<g filter="url(#nb)">
<g fill="#c848ea" opacity="0.8"><circle cx="544.0" cy="1004.9" r="0.72"/><circle cx="593.5" cy="927.2" r="0.95"/><circle cx="534.5" cy="965.0" r="0.97"/><circle cx="585.8" cy="978.8" r="0.56"/><circle cx="536.1" cy="965.1" r="1.03"/><circle cx="596.9" cy="950.3" r="0.80"/><circle cx="602.1" cy="989.2" r="0.81"/><circle cx="591.3" cy="1002.9" r="0.57"/><circle cx="580.7" cy="994.7" r="1.05"/><circle cx="585.0" cy="982.5" r="0.95"/><circle cx="544.6" cy="1003.4" r="0.56"/><circle cx="570.8" cy="990.3" r="0.97"/><circle cx="600.7" cy="987.2" r="0.99"/><circle cx="611.9" cy="956.3" r="0.58"/><circle cx="546.2" cy="965.7" r="0.61"/><circle cx="570.6" cy="1004.9" r="0.84"/><circle cx="586.5" cy="982.3" r="0.58"/><circle cx="606.5" cy="944.4" r="0.79"/><circle cx="615.5" cy="951.7" r="0.65"/><circle cx="568.2" cy="984.6" r="0.86"/><circle cx="539.9" cy="943.6" r="0.94"/><circle cx="542.0" cy="958.3" r="0.88"/><circle cx="579.1" cy="959.9" r="0.79"/><circle cx="595.7" cy="995.6" r="0.77"/><circle cx="589.9" cy="929.6" r="1.03"/><circle cx="535.9" cy="945.3" r="1.04"/><circle cx="578.0" cy="936.6" r="0.60"/><circle cx="579.6" cy="957.5" r="1.01"/><circle cx="604.9" cy="947.2" r="1.02"/><circle cx="536.0" cy="937.1" r="0.85"/><circle cx="571.2" cy="976.7" r="0.92"/><circle cx="552.4" cy="968.5" r="0.83"/><circle cx="566.5" cy="988.1" r="0.99"/><circle cx="537.8" cy="934.9" r="0.96"/><circle cx="538.7" cy="975.9" r="0.77"/><circle cx="542.0" cy="996.8" r="0.99"/><circle cx="556.6" cy="1002.4" r="0.66"/><circle cx="609.0" cy="965.3" r="0.94"/><circle cx="545.5" cy="1005.8" r="0.91"/><circle cx="550.5" cy="1001.5" r="0.97"/><circle cx="598.3" cy="999.1" r="0.77"/><circle cx="564.3" cy="992.8" r="0.81"/><circle cx="542.8" cy="958.8" r="0.58"/><circle cx="540.8" cy="933.1" r="0.90"/><circle cx="533.0" cy="990.5" r="0.56"/><circle cx="573.3" cy="968.1" r="0.83"/><circle cx="545.9" cy="959.9" r="0.81"/><circle cx="578.0" cy="963.5" r="1.03"/><circle cx="578.4" cy="954.9" r="0.88"/><circle cx="533.2" cy="961.5" r="0.97"/><circle cx="539.0" cy="926.7" r="0.89"/><circle cx="583.1" cy="954.9" r="0.96"/><circle cx="549.1" cy="1005.6" r="0.95"/><circle cx="610.1" cy="954.4" r="0.75"/><circle cx="526.3" cy="956.9" r="0.58"/><circle cx="533.3" cy="954.4" r="0.91"/><circle cx="548.1" cy="995.0" r="0.92"/><circle cx="539.3" cy="990.5" r="1.00"/><circle cx="544.8" cy="989.1" r="0.79"/><circle cx="582.1" cy="941.9" r="0.69"/><circle cx="538.2" cy="987.8" r="0.63"/><circle cx="603.0" cy="958.7" r="0.92"/><circle cx="562.0" cy="967.5" r="0.74"/><circle cx="555.6" cy="957.0" r="1.04"/><circle cx="540.7" cy="946.2" r="0.56"/><circle cx="569.4" cy="991.5" r="0.87"/><circle cx="584.3" cy="993.4" r="0.69"/><circle cx="531.8" cy="947.3" r="0.81"/><circle cx="568.8" cy="924.9" r="0.59"/><circle cx="550.1" cy="935.1" r="0.93"/><circle cx="595.4" cy="952.2" r="0.98"/><circle cx="573.7" cy="1002.2" r="0.55"/><circle cx="583.5" cy="934.4" r="0.78"/><circle cx="539.1" cy="963.7" r="0.67"/><circle cx="555.1" cy="927.3" r="0.58"/><circle cx="562.8" cy="1009.8" r="0.69"/><circle cx="558.8" cy="998.9" r="0.74"/><circle cx="614.4" cy="947.7" r="0.61"/><circle cx="572.0" cy="983.1" r="0.77"/><circle cx="560.4" cy="1002.3" r="0.99"/><circle cx="575.9" cy="966.7" r="0.61"/><circle cx="562.3" cy="979.8" r="0.77"/><circle cx="541.7" cy="994.6" r="1.03"/><circle cx="600.0" cy="958.9" r="0.87"/><circle cx="594.4" cy="991.3" r="0.99"/><circle cx="582.5" cy="951.3" r="0.63"/><circle cx="601.9" cy="939.8" r="0.93"/><circle cx="603.7" cy="979.0" r="0.56"/><circle cx="565.2" cy="920.1" r="0.71"/><circle cx="610.4" cy="964.0" r="1.05"/><circle cx="547.4" cy="943.1" r="0.71"/><circle cx="586.9" cy="919.0" r="0.73"/><circle cx="577.6" cy="1011.0" r="0.76"/><circle cx="543.5" cy="972.9" r="0.91"/><circle cx="601.9" cy="959.6" r="0.98"/><circle cx="543.2" cy="981.8" r="0.95"/><circle cx="610.3" cy="955.6" r="0.90"/><circle cx="590.5" cy="922.1" r="1.03"/><circle cx="539.1" cy="957.3" r="0.55"/><circle cx="540.2" cy="958.4" r="0.55"/><circle cx="595.7" cy="962.1" r="1.02"/><circle cx="597.8" cy="966.2" r="0.94"/><circle cx="550.3" cy="928.0" r="0.79"/><circle cx="606.0" cy="987.4" r="0.93"/><circle cx="532.7" cy="968.4" r="0.95"/><circle cx="535.3" cy="964.5" r="0.79"/><circle cx="565.2" cy="921.8" r="0.72"/><circle cx="573.7" cy="933.9" r="0.89"/><circle cx="535.7" cy="995.4" r="1.02"/><circle cx="574.0" cy="933.7" r="0.73"/><circle cx="534.3" cy="978.7" r="0.57"/><circle cx="523.9" cy="950.1" r="0.58"/><circle cx="597.3" cy="940.1" r="1.05"/><circle cx="561.8" cy="922.7" r="0.93"/><circle cx="554.1" cy="971.2" r="0.98"/><circle cx="598.4" cy="934.5" r="0.66"/><circle cx="533.9" cy="963.4" r="0.73"/><circle cx="536.0" cy="965.5" r="1.04"/><circle cx="535.3" cy="928.9" r="1.00"/><circle cx="587.6" cy="1001.6" r="0.74"/><circle cx="538.9" cy="942.4" r="0.92"/><circle cx="556.3" cy="1001.3" r="0.73"/><circle cx="575.7" cy="929.9" r="0.87"/><circle cx="594.5" cy="962.7" r="0.55"/><circle cx="596.7" cy="941.8" r="0.87"/><circle cx="591.0" cy="923.2" r="0.74"/><circle cx="599.1" cy="960.9" r="0.91"/><circle cx="583.2" cy="937.8" r="0.76"/><circle cx="549.8" cy="984.4" r="0.76"/><circle cx="575.7" cy="953.5" r="1.04"/><circle cx="578.0" cy="928.1" r="0.87"/><circle cx="555.8" cy="1003.8" r="0.99"/><circle cx="543.5" cy="986.5" r="0.66"/><circle cx="568.6" cy="1008.2" r="0.87"/><circle cx="532.0" cy="976.0" r="0.64"/><circle cx="597.8" cy="964.0" r="0.84"/><circle cx="583.1" cy="996.1" r="0.71"/><circle cx="565.5" cy="1005.0" r="0.73"/><circle cx="566.8" cy="921.3" r="0.74"/><circle cx="612.5" cy="972.1" r="0.83"/><circle cx="533.5" cy="943.9" r="0.82"/><circle cx="572.6" cy="960.8" r="1.03"/><circle cx="545.7" cy="942.6" r="1.00"/><circle cx="598.5" cy="940.4" r="0.55"/><circle cx="546.5" cy="941.5" r="0.84"/><circle cx="577.3" cy="947.9" r="0.97"/><circle cx="559.7" cy="985.9" r="0.57"/><circle cx="588.5" cy="978.9" r="0.81"/><circle cx="587.5" cy="955.9" r="0.69"/><circle cx="541.6" cy="991.1" r="0.73"/><circle cx="559.7" cy="946.8" r="0.57"/><circle cx="532.5" cy="943.4" r="0.62"/><circle cx="606.7" cy="975.1" r="0.58"/><circle cx="604.9" cy="945.1" r="0.63"/><circle cx="559.1" cy="969.5" r="0.59"/><circle cx="541.6" cy="999.8" r="1.00"/><circle cx="569.6" cy="924.5" r="0.84"/><circle cx="529.5" cy="960.6" r="0.80"/><circle cx="533.2" cy="990.0" r="0.70"/><circle cx="535.6" cy="985.7" r="1.03"/><circle cx="550.9" cy="989.8" r="0.75"/><circle cx="576.0" cy="991.3" r="0.94"/><circle cx="581.6" cy="994.4" r="0.69"/><circle cx="531.1" cy="943.1" r="0.61"/><circle cx="547.8" cy="965.1" r="0.87"/><circle cx="558.8" cy="942.8" r="0.67"/><circle cx="559.7" cy="989.6" r="1.00"/><circle cx="599.2" cy="932.5" r="0.75"/><circle cx="547.8" cy="969.1" r="0.78"/><circle cx="582.8" cy="958.8" r="0.75"/><circle cx="583.8" cy="1005.4" r="0.70"/><circle cx="557.7" cy="964.2" r="0.90"/><circle cx="525.5" cy="959.5" r="0.91"/><circle cx="567.9" cy="938.4" r="0.68"/><circle cx="560.0" cy="957.1" r="1.02"/><circle cx="562.5" cy="929.7" r="0.73"/><circle cx="600.8" cy="980.2" r="0.94"/><circle cx="580.1" cy="973.6" r="0.89"/><circle cx="526.3" cy="971.4" r="0.76"/><circle cx="613.9" cy="958.3" r="0.71"/><circle cx="532.5" cy="954.8" r="0.78"/><circle cx="585.7" cy="926.1" r="0.96"/><circle cx="568.2" cy="997.8" r="0.82"/><circle cx="563.5" cy="960.2" r="0.96"/><circle cx="550.4" cy="969.5" r="0.98"/><circle cx="529.6" cy="948.8" r="0.92"/><circle cx="535.5" cy="930.9" r="0.58"/><circle cx="559.0" cy="980.3" r="0.87"/><circle cx="570.4" cy="971.3" r="0.62"/><circle cx="585.1" cy="995.1" r="0.78"/><circle cx="563.6" cy="964.5" r="0.81"/><circle cx="568.5" cy="978.0" r="0.58"/><circle cx="586.7" cy="988.3" r="0.63"/><circle cx="549.7" cy="967.8" r="0.92"/><circle cx="588.5" cy="943.9" r="0.59"/><circle cx="582.6" cy="960.2" r="0.87"/><circle cx="570.2" cy="929.6" r="1.00"/><circle cx="593.6" cy="996.3" r="1.00"/><circle cx="604.5" cy="936.3" r="0.77"/><circle cx="524.1" cy="960.0" r="0.74"/><circle cx="568.5" cy="971.9" r="0.65"/><circle cx="598.5" cy="999.5" r="0.70"/><circle cx="540.0" cy="1001.7" r="0.90"/><circle cx="554.4" cy="969.7" r="0.73"/><circle cx="556.8" cy="1009.1" r="0.76"/><circle cx="593.7" cy="959.0" r="0.57"/><circle cx="579.5" cy="955.4" r="0.94"/><circle cx="547.4" cy="948.7" r="0.97"/><circle cx="525.3" cy="984.1" r="0.83"/><circle cx="612.8" cy="947.1" r="0.74"/><circle cx="553.9" cy="924.6" r="0.88"/><circle cx="608.7" cy="969.2" r="0.93"/><circle cx="574.0" cy="977.4" r="0.58"/><circle cx="553.6" cy="959.0" r="0.97"/><circle cx="527.0" cy="987.9" r="0.92"/><circle cx="550.1" cy="972.3" r="0.76"/><circle cx="533.5" cy="935.2" r="1.00"/><circle cx="565.4" cy="969.9" r="0.88"/><circle cx="553.8" cy="927.2" r="0.95"/><circle cx="583.4" cy="927.8" r="0.96"/><circle cx="602.2" cy="996.7" r="0.88"/><circle cx="585.3" cy="974.5" r="0.87"/><circle cx="552.6" cy="1007.5" r="0.69"/><circle cx="534.4" cy="966.3" r="1.02"/><circle cx="553.6" cy="1006.6" r="0.91"/><circle cx="525.9" cy="943.4" r="0.99"/><circle cx="568.7" cy="927.4" r="0.57"/><circle cx="576.0" cy="1001.8" r="0.61"/><circle cx="551.0" cy="940.9" r="0.74"/><circle cx="588.5" cy="923.3" r="0.92"/><circle cx="535.2" cy="975.0" r="1.04"/><circle cx="602.7" cy="946.3" r="0.59"/><circle cx="577.3" cy="957.3" r="0.61"/><circle cx="557.1" cy="945.2" r="0.93"/><circle cx="561.1" cy="945.1" r="1.00"/><circle cx="608.2" cy="962.9" r="1.04"/><circle cx="579.4" cy="931.6" r="0.96"/><circle cx="606.3" cy="948.0" r="0.59"/><circle cx="540.4" cy="992.6" r="0.73"/><circle cx="585.2" cy="991.7" r="0.62"/><circle cx="553.7" cy="965.7" r="0.91"/><circle cx="579.6" cy="1009.1" r="0.60"/><circle cx="542.3" cy="934.7" r="0.65"/><circle cx="543.7" cy="937.5" r="0.86"/><circle cx="582.1" cy="994.1" r="0.97"/><circle cx="551.1" cy="947.1" r="0.72"/><circle cx="576.9" cy="955.6" r="0.79"/><circle cx="537.0" cy="960.6" r="0.55"/><circle cx="603.8" cy="990.9" r="0.78"/><circle cx="560.3" cy="994.8" r="0.58"/><circle cx="607.4" cy="984.9" r="0.93"/><circle cx="577.7" cy="989.2" r="0.59"/><circle cx="554.3" cy="995.2" r="0.93"/><circle cx="524.1" cy="961.6" r="1.05"/><circle cx="559.6" cy="959.1" r="0.62"/><circle cx="560.6" cy="947.8" r="1.00"/><circle cx="579.6" cy="967.1" r="1.05"/><circle cx="538.6" cy="983.3" r="0.85"/><circle cx="589.5" cy="982.4" r="0.73"/><circle cx="565.5" cy="920.4" r="0.90"/><circle cx="582.7" cy="993.2" r="1.01"/><circle cx="581.9" cy="988.8" r="0.86"/><circle cx="576.5" cy="963.1" r="0.90"/><circle cx="534.5" cy="971.8" r="0.97"/><circle cx="599.8" cy="984.6" r="0.71"/><circle cx="570.2" cy="922.2" r="0.76"/><circle cx="593.3" cy="998.0" r="0.90"/><circle cx="530.1" cy="947.0" r="1.02"/><circle cx="570.2" cy="1003.6" r="0.95"/><circle cx="564.2" cy="1009.3" r="0.71"/><circle cx="604.5" cy="953.2" r="1.04"/><circle cx="600.9" cy="934.8" r="0.74"/><circle cx="532.8" cy="973.0" r="0.95"/><circle cx="528.9" cy="986.4" r="0.66"/><circle cx="550.4" cy="960.9" r="0.64"/><circle cx="566.1" cy="973.5" r="0.83"/><circle cx="546.5" cy="942.3" r="0.95"/><circle cx="530.3" cy="951.9" r="0.59"/><circle cx="565.4" cy="969.5" r="0.63"/><circle cx="579.3" cy="948.8" r="0.85"/><circle cx="540.2" cy="991.0" r="0.99"/><circle cx="591.7" cy="921.4" r="1.03"/><circle cx="530.0" cy="992.0" r="0.93"/><circle cx="563.9" cy="990.7" r="0.81"/><circle cx="577.4" cy="950.7" r="1.00"/><circle cx="550.9" cy="930.5" r="0.75"/><circle cx="546.0" cy="984.3" r="0.91"/><circle cx="530.4" cy="977.8" r="0.99"/><circle cx="574.5" cy="966.8" r="1.02"/><circle cx="584.1" cy="1004.4" r="0.75"/><circle cx="569.6" cy="968.6" r="0.76"/><circle cx="559.6" cy="956.6" r="0.56"/><circle cx="558.2" cy="1007.7" r="0.93"/><circle cx="567.5" cy="994.1" r="0.76"/><circle cx="562.1" cy="938.2" r="0.73"/><circle cx="545.1" cy="962.7" r="0.76"/><circle cx="568.3" cy="928.8" r="0.58"/><circle cx="547.4" cy="993.1" r="0.67"/><circle cx="541.1" cy="986.9" r="0.73"/><circle cx="587.4" cy="1004.8" r="0.58"/><circle cx="581.3" cy="955.0" r="0.83"/><circle cx="538.9" cy="954.6" r="0.86"/><circle cx="589.2" cy="944.9" r="0.58"/><circle cx="582.9" cy="1006.6" r="0.85"/><circle cx="569.6" cy="933.0" r="0.71"/><circle cx="555.3" cy="929.2" r="1.01"/><circle cx="584.0" cy="987.4" r="0.90"/><circle cx="596.5" cy="945.0" r="0.94"/><circle cx="598.8" cy="988.0" r="0.71"/><circle cx="559.6" cy="938.5" r="0.64"/><circle cx="563.8" cy="1004.3" r="0.91"/><circle cx="595.5" cy="947.0" r="0.58"/><circle cx="577.7" cy="940.3" r="0.91"/><circle cx="536.5" cy="965.5" r="0.57"/><circle cx="574.9" cy="1004.9" r="0.78"/><circle cx="600.9" cy="933.8" r="0.82"/><circle cx="571.2" cy="963.0" r="0.75"/><circle cx="557.8" cy="960.9" r="0.99"/><circle cx="590.6" cy="993.2" r="0.69"/><circle cx="544.4" cy="985.7" r="0.69"/><circle cx="587.6" cy="998.2" r="0.86"/><circle cx="610.7" cy="986.6" r="0.60"/><circle cx="573.1" cy="988.7" r="0.73"/><circle cx="522.7" cy="966.1" r="0.60"/><circle cx="534.5" cy="946.0" r="0.68"/><circle cx="548.9" cy="988.9" r="0.99"/><circle cx="574.5" cy="930.1" r="0.58"/><circle cx="541.3" cy="997.5" r="0.77"/><circle cx="538.8" cy="987.9" r="0.57"/><circle cx="544.8" cy="931.0" r="0.61"/><circle cx="529.8" cy="985.7" r="0.68"/><circle cx="540.7" cy="957.9" r="0.83"/><circle cx="546.7" cy="981.3" r="1.01"/><circle cx="551.7" cy="917.8" r="0.72"/><circle cx="540.1" cy="969.4" r="0.98"/><circle cx="541.9" cy="993.0" r="0.64"/><circle cx="544.4" cy="956.7" r="1.01"/><circle cx="537.1" cy="998.6" r="0.83"/><circle cx="549.3" cy="993.6" r="1.02"/><circle cx="553.5" cy="921.9" r="0.83"/><circle cx="555.4" cy="951.0" r="0.97"/><circle cx="543.9" cy="933.1" r="0.70"/><circle cx="571.7" cy="928.1" r="0.71"/><circle cx="611.5" cy="961.1" r="0.89"/><circle cx="590.5" cy="929.0" r="0.74"/><circle cx="613.2" cy="950.5" r="0.89"/><circle cx="537.3" cy="977.0" r="0.57"/><circle cx="602.8" cy="934.9" r="0.85"/><circle cx="526.2" cy="972.5" r="0.56"/><circle cx="549.1" cy="977.6" r="0.85"/><circle cx="545.8" cy="993.3" r="1.00"/><circle cx="554.9" cy="972.1" r="0.56"/><circle cx="585.8" cy="934.7" r="0.77"/><circle cx="584.1" cy="966.2" r="0.55"/><circle cx="577.2" cy="956.9" r="0.71"/><circle cx="532.5" cy="969.5" r="0.66"/><circle cx="545.1" cy="932.5" r="1.04"/><circle cx="590.8" cy="978.0" r="0.60"/><circle cx="563.3" cy="985.0" r="0.57"/><circle cx="577.8" cy="939.4" r="0.92"/><circle cx="585.7" cy="923.4" r="0.56"/><circle cx="530.4" cy="940.1" r="0.87"/><circle cx="543.6" cy="944.0" r="0.96"/><circle cx="540.6" cy="957.3" r="0.80"/><circle cx="548.1" cy="967.1" r="0.89"/><circle cx="588.7" cy="929.4" r="0.56"/><circle cx="533.6" cy="987.2" r="0.62"/><circle cx="528.7" cy="961.9" r="0.82"/><circle cx="565.7" cy="968.8" r="0.90"/><circle cx="587.7" cy="995.9" r="0.81"/><circle cx="566.0" cy="947.3" r="1.04"/><circle cx="568.2" cy="917.9" r="0.64"/><circle cx="563.2" cy="933.9" r="0.90"/><circle cx="558.9" cy="933.9" r="1.02"/><circle cx="538.1" cy="975.9" r="0.91"/><circle cx="595.5" cy="1000.8" r="0.72"/><circle cx="582.9" cy="951.3" r="0.61"/><circle cx="548.7" cy="950.5" r="0.77"/><circle cx="581.5" cy="1002.7" r="0.92"/><circle cx="561.8" cy="946.9" r="0.57"/><circle cx="556.8" cy="956.4" r="0.91"/><circle cx="523.9" cy="949.6" r="0.96"/><circle cx="544.0" cy="926.7" r="0.80"/><circle cx="565.7" cy="974.9" r="0.90"/><circle cx="549.3" cy="929.9" r="0.81"/><circle cx="524.0" cy="976.3" r="0.74"/><circle cx="599.0" cy="999.8" r="0.93"/><circle cx="607.2" cy="934.0" r="0.77"/><circle cx="587.9" cy="991.6" r="0.80"/><circle cx="536.0" cy="991.3" r="0.68"/><circle cx="590.8" cy="959.1" r="0.69"/><circle cx="580.1" cy="942.7" r="0.91"/><circle cx="564.2" cy="994.0" r="0.78"/><circle cx="569.8" cy="1007.4" r="1.02"/><circle cx="586.1" cy="954.5" r="0.56"/><circle cx="529.9" cy="978.6" r="0.82"/><circle cx="615.6" cy="951.5" r="0.89"/><circle cx="566.6" cy="994.0" r="0.58"/><circle cx="535.7" cy="989.4" r="0.71"/><circle cx="583.0" cy="996.0" r="1.00"/><circle cx="559.0" cy="950.5" r="0.77"/><circle cx="574.5" cy="1006.7" r="0.76"/><circle cx="526.1" cy="979.1" r="0.70"/><circle cx="523.2" cy="978.5" r="0.70"/><circle cx="530.9" cy="953.7" r="0.72"/><circle cx="547.1" cy="940.4" r="0.97"/><circle cx="530.0" cy="948.8" r="0.84"/><circle cx="558.9" cy="934.6" r="0.62"/><circle cx="550.7" cy="984.3" r="0.56"/><circle cx="573.0" cy="928.3" r="0.79"/><circle cx="565.3" cy="951.3" r="0.61"/><circle cx="566.8" cy="953.7" r="0.98"/><circle cx="521.1" cy="960.9" r="0.98"/><circle cx="544.9" cy="978.9" r="0.77"/><circle cx="572.8" cy="930.5" r="0.91"/><circle cx="610.8" cy="961.0" r="0.81"/><circle cx="567.1" cy="929.2" r="0.84"/><circle cx="527.6" cy="985.9" r="1.04"/><circle cx="535.7" cy="948.2" r="0.60"/><circle cx="525.9" cy="944.6" r="0.67"/><circle cx="572.6" cy="939.1" r="0.91"/><circle cx="561.3" cy="1000.0" r="0.94"/><circle cx="612.4" cy="972.3" r="0.81"/><circle cx="569.8" cy="990.2" r="0.83"/><circle cx="567.7" cy="942.8" r="0.59"/><circle cx="573.3" cy="1001.7" r="0.75"/><circle cx="572.1" cy="922.0" r="0.73"/><circle cx="553.1" cy="953.4" r="0.85"/><circle cx="554.6" cy="944.4" r="0.88"/><circle cx="599.6" cy="1000.0" r="0.82"/><circle cx="603.9" cy="944.6" r="0.66"/><circle cx="564.6" cy="925.4" r="0.74"/><circle cx="553.9" cy="923.6" r="0.89"/><circle cx="578.3" cy="1010.1" r="1.00"/><circle cx="526.0" cy="982.1" r="1.05"/><circle cx="556.9" cy="980.9" r="0.67"/><circle cx="550.4" cy="964.5" r="0.67"/><circle cx="568.1" cy="956.7" r="0.86"/><circle cx="534.5" cy="985.7" r="0.68"/><circle cx="546.6" cy="966.3" r="0.56"/><circle cx="588.2" cy="941.1" r="0.70"/><circle cx="595.9" cy="951.5" r="0.82"/><circle cx="588.6" cy="987.4" r="0.99"/><circle cx="588.6" cy="924.1" r="1.01"/><circle cx="570.1" cy="974.4" r="0.62"/><circle cx="547.8" cy="934.2" r="0.73"/><circle cx="563.4" cy="941.1" r="0.85"/><circle cx="553.0" cy="972.3" r="0.94"/><circle cx="586.2" cy="1003.1" r="0.93"/><circle cx="538.6" cy="975.9" r="0.65"/><circle cx="594.8" cy="994.5" r="0.74"/><circle cx="541.6" cy="952.0" r="0.68"/><circle cx="590.9" cy="999.6" r="0.77"/><circle cx="594.9" cy="1000.5" r="0.63"/><circle cx="571.3" cy="982.4" r="0.83"/><circle cx="570.3" cy="954.9" r="1.01"/><circle cx="555.8" cy="921.0" r="0.76"/><circle cx="555.1" cy="969.1" r="0.68"/><circle cx="586.7" cy="944.5" r="1.00"/><circle cx="592.2" cy="922.9" r="0.62"/><circle cx="529.5" cy="984.0" r="0.71"/><circle cx="569.0" cy="970.3" r="0.82"/><circle cx="547.5" cy="956.4" r="0.68"/><circle cx="555.2" cy="948.3" r="0.94"/><circle cx="590.7" cy="940.6" r="0.62"/><circle cx="545.0" cy="951.9" r="0.60"/><circle cx="559.6" cy="928.1" r="0.69"/><circle cx="569.5" cy="1004.6" r="1.01"/><circle cx="546.6" cy="993.1" r="0.66"/><circle cx="532.7" cy="971.3" r="0.70"/><circle cx="540.5" cy="941.4" r="0.57"/><circle cx="591.8" cy="984.5" r="0.62"/><circle cx="532.9" cy="952.6" r="0.86"/><circle cx="597.3" cy="938.3" r="0.94"/><circle cx="602.8" cy="993.4" r="1.01"/><circle cx="531.7" cy="939.3" r="0.83"/><circle cx="551.0" cy="971.1" r="0.79"/><circle cx="558.9" cy="921.1" r="1.00"/><circle cx="521.9" cy="957.9" r="0.74"/><circle cx="600.3" cy="967.0" r="0.82"/><circle cx="572.2" cy="940.1" r="0.56"/><circle cx="565.2" cy="942.4" r="0.98"/><circle cx="552.4" cy="956.1" r="0.81"/><circle cx="572.0" cy="940.5" r="1.03"/><circle cx="586.4" cy="969.8" r="0.85"/><circle cx="552.0" cy="929.5" r="1.01"/><circle cx="571.9" cy="973.2" r="0.82"/><circle cx="550.6" cy="987.9" r="0.75"/><circle cx="588.0" cy="945.8" r="0.90"/><circle cx="545.2" cy="952.6" r="1.01"/><circle cx="567.9" cy="989.9" r="0.65"/><circle cx="556.5" cy="924.7" r="0.73"/><circle cx="596.5" cy="988.6" r="0.72"/><circle cx="531.4" cy="951.0" r="0.55"/><circle cx="611.0" cy="975.7" r="0.98"/><circle cx="588.4" cy="975.3" r="0.76"/><circle cx="582.2" cy="939.9" r="1.03"/><circle cx="607.7" cy="988.3" r="0.58"/><circle cx="530.4" cy="934.7" r="0.91"/><circle cx="593.5" cy="948.4" r="1.03"/><circle cx="589.7" cy="948.8" r="0.94"/><circle cx="588.3" cy="952.2" r="0.75"/><circle cx="573.5" cy="926.8" r="1.01"/><circle cx="539.1" cy="976.5" r="0.63"/><circle cx="561.9" cy="1008.2" r="0.68"/><circle cx="603.4" cy="936.9" r="0.84"/><circle cx="568.2" cy="965.1" r="0.61"/><circle cx="591.2" cy="921.3" r="1.03"/><circle cx="559.9" cy="1009.5" r="0.77"/><circle cx="537.6" cy="997.5" r="0.96"/><circle cx="557.5" cy="939.9" r="0.60"/><circle cx="579.0" cy="986.1" r="0.65"/><circle cx="544.2" cy="951.6" r="0.66"/><circle cx="589.9" cy="942.7" r="0.55"/><circle cx="604.8" cy="965.4" r="0.56"/><circle cx="561.5" cy="960.6" r="0.78"/><circle cx="542.6" cy="939.0" r="0.66"/><circle cx="594.1" cy="922.6" r="0.96"/><circle cx="612.4" cy="943.4" r="0.73"/><circle cx="538.7" cy="954.9" r="0.94"/><circle cx="580.2" cy="983.4" r="0.78"/><circle cx="522.3" cy="950.0" r="0.72"/><circle cx="599.1" cy="964.0" r="0.99"/><circle cx="597.6" cy="983.1" r="0.85"/><circle cx="583.6" cy="939.7" r="0.85"/><circle cx="614.6" cy="949.2" r="0.83"/><circle cx="548.1" cy="996.6" r="0.92"/><circle cx="551.9" cy="927.1" r="0.74"/><circle cx="562.7" cy="935.1" r="0.67"/><circle cx="598.1" cy="984.5" r="0.64"/><circle cx="563.5" cy="989.3" r="0.74"/><circle cx="527.3" cy="987.3" r="0.81"/><circle cx="539.5" cy="954.0" r="0.82"/><circle cx="582.6" cy="931.0" r="0.81"/><circle cx="556.4" cy="980.1" r="0.66"/><circle cx="590.7" cy="977.1" r="0.57"/><circle cx="537.1" cy="981.9" r="0.61"/><circle cx="570.0" cy="930.7" r="0.86"/><circle cx="529.6" cy="981.7" r="0.89"/><circle cx="594.9" cy="988.1" r="0.68"/><circle cx="568.2" cy="933.7" r="0.66"/><circle cx="616.0" cy="973.5" r="0.61"/><circle cx="568.4" cy="1010.2" r="0.58"/><circle cx="541.7" cy="980.3" r="0.89"/><circle cx="578.5" cy="916.3" r="0.71"/><circle cx="588.3" cy="974.7" r="0.55"/><circle cx="564.2" cy="1001.3" r="1.00"/><circle cx="589.2" cy="978.0" r="0.99"/><circle cx="542.6" cy="947.3" r="0.59"/><circle cx="590.1" cy="971.1" r="0.86"/><circle cx="601.0" cy="975.6" r="0.96"/><circle cx="594.9" cy="963.7" r="0.76"/><circle cx="536.7" cy="936.8" r="0.89"/><circle cx="542.9" cy="974.7" r="0.86"/><circle cx="523.4" cy="975.0" r="0.81"/><circle cx="534.7" cy="943.0" r="0.79"/><circle cx="529.3" cy="965.2" r="0.85"/><circle cx="595.7" cy="963.1" r="0.80"/><circle cx="612.1" cy="956.3" r="0.83"/><circle cx="561.9" cy="982.7" r="0.76"/><circle cx="540.2" cy="977.6" r="0.68"/><circle cx="532.3" cy="967.8" r="0.60"/><circle cx="546.6" cy="928.9" r="0.65"/><circle cx="568.9" cy="972.8" r="0.79"/><circle cx="554.7" cy="935.5" r="0.84"/><circle cx="560.7" cy="957.0" r="0.58"/><circle cx="522.1" cy="961.2" r="0.90"/><circle cx="545.5" cy="971.6" r="0.62"/><circle cx="543.0" cy="929.5" r="0.75"/><circle cx="590.8" cy="976.4" r="0.90"/><circle cx="572.8" cy="932.8" r="0.99"/><circle cx="563.1" cy="968.1" r="0.65"/><circle cx="600.3" cy="937.3" r="0.59"/><circle cx="561.9" cy="993.0" r="0.79"/><circle cx="614.9" cy="970.7" r="0.82"/><circle cx="568.0" cy="971.9" r="0.84"/><circle cx="606.4" cy="946.4" r="0.98"/><circle cx="596.6" cy="935.0" r="0.58"/><circle cx="554.9" cy="997.7" r="0.76"/><circle cx="571.4" cy="975.7" r="0.98"/><circle cx="555.6" cy="940.3" r="0.79"/><circle cx="581.6" cy="950.0" r="0.86"/><circle cx="573.7" cy="1009.3" r="0.95"/><circle cx="597.3" cy="953.7" r="0.80"/><circle cx="556.3" cy="989.2" r="1.03"/><circle cx="616.4" cy="954.1" r="1.00"/><circle cx="529.4" cy="965.9" r="1.00"/><circle cx="526.5" cy="982.9" r="0.95"/><circle cx="562.6" cy="991.8" r="0.90"/><circle cx="581.4" cy="984.4" r="0.65"/><circle cx="605.1" cy="992.1" r="1.05"/><circle cx="583.6" cy="932.1" r="0.92"/><circle cx="556.4" cy="933.5" r="0.81"/><circle cx="585.4" cy="980.5" r="0.72"/><circle cx="544.2" cy="994.2" r="0.67"/><circle cx="572.3" cy="1008.6" r="0.94"/><circle cx="607.9" cy="945.6" r="0.65"/><circle cx="524.5" cy="966.7" r="0.95"/><circle cx="573.4" cy="996.7" r="0.84"/><circle cx="592.7" cy="965.0" r="0.92"/><circle cx="552.5" cy="935.2" r="0.84"/><circle cx="540.7" cy="958.4" r="0.59"/><circle cx="566.7" cy="920.6" r="0.77"/><circle cx="574.2" cy="919.4" r="0.90"/><circle cx="585.9" cy="918.7" r="0.57"/><circle cx="599.3" cy="951.6" r="0.94"/><circle cx="567.6" cy="948.1" r="0.84"/><circle cx="604.0" cy="985.4" r="0.72"/><circle cx="550.7" cy="981.1" r="0.95"/><circle cx="552.0" cy="942.8" r="0.92"/><circle cx="586.0" cy="1003.3" r="0.85"/><circle cx="572.6" cy="925.3" r="1.04"/><circle cx="557.6" cy="932.1" r="0.85"/><circle cx="545.1" cy="952.7" r="0.70"/><circle cx="582.1" cy="921.4" r="1.03"/><circle cx="555.3" cy="931.5" r="0.75"/><circle cx="557.9" cy="925.7" r="1.02"/><circle cx="568.3" cy="933.2" r="0.69"/><circle cx="610.0" cy="975.3" r="0.76"/><circle cx="560.0" cy="970.2" r="0.80"/><circle cx="589.3" cy="948.0" r="0.92"/><circle cx="571.0" cy="923.9" r="0.85"/><circle cx="569.0" cy="1003.2" r="0.84"/><circle cx="602.9" cy="956.1" r="0.73"/><circle cx="600.7" cy="941.9" r="0.72"/><circle cx="557.6" cy="948.0" r="0.64"/><circle cx="593.5" cy="941.3" r="0.95"/><circle cx="576.1" cy="995.8" r="0.67"/><circle cx="580.9" cy="927.7" r="0.75"/><circle cx="552.1" cy="978.1" r="0.66"/><circle cx="558.9" cy="938.0" r="0.60"/><circle cx="544.2" cy="984.8" r="1.04"/><circle cx="545.6" cy="983.7" r="1.04"/><circle cx="562.9" cy="930.9" r="0.75"/><circle cx="571.7" cy="982.1" r="0.79"/><circle cx="558.8" cy="951.1" r="0.79"/><circle cx="586.3" cy="996.7" r="0.72"/><circle cx="547.1" cy="926.2" r="0.75"/><circle cx="558.7" cy="972.5" r="0.66"/><circle cx="537.3" cy="933.1" r="0.62"/><circle cx="614.7" cy="956.4" r="0.73"/><circle cx="530.1" cy="953.6" r="0.71"/><circle cx="541.2" cy="994.0" r="0.79"/><circle cx="535.2" cy="977.4" r="0.61"/><circle cx="542.9" cy="968.1" r="0.63"/><circle cx="528.6" cy="957.1" r="0.81"/><circle cx="529.0" cy="963.6" r="0.76"/><circle cx="591.1" cy="960.7" r="0.55"/><circle cx="532.0" cy="946.4" r="0.74"/><circle cx="545.9" cy="980.2" r="0.67"/></g>
<g fill="#9020ea" opacity="0.8"><circle cx="580.5" cy="919.7" r="0.69"/><circle cx="538.5" cy="950.3" r="0.62"/><circle cx="565.1" cy="928.0" r="1.05"/><circle cx="607.8" cy="938.5" r="0.68"/><circle cx="602.6" cy="991.1" r="0.60"/><circle cx="561.0" cy="944.5" r="0.90"/><circle cx="582.4" cy="968.1" r="0.98"/><circle cx="536.3" cy="960.1" r="1.04"/><circle cx="573.7" cy="940.7" r="0.90"/><circle cx="543.9" cy="985.1" r="0.71"/><circle cx="572.6" cy="989.8" r="0.69"/><circle cx="585.8" cy="1005.4" r="0.74"/><circle cx="528.2" cy="947.0" r="0.89"/><circle cx="595.1" cy="1002.8" r="1.02"/><circle cx="583.6" cy="939.7" r="0.97"/><circle cx="563.4" cy="956.6" r="0.74"/><circle cx="557.3" cy="929.3" r="1.02"/><circle cx="580.0" cy="920.3" r="1.04"/><circle cx="543.2" cy="1001.9" r="0.55"/><circle cx="573.1" cy="949.6" r="0.80"/><circle cx="556.7" cy="968.0" r="0.87"/><circle cx="574.2" cy="941.0" r="0.67"/><circle cx="573.4" cy="928.3" r="0.56"/><circle cx="552.3" cy="1007.6" r="0.69"/><circle cx="560.8" cy="995.0" r="0.99"/><circle cx="579.8" cy="935.2" r="0.88"/><circle cx="581.0" cy="965.4" r="0.74"/><circle cx="556.7" cy="949.7" r="0.57"/><circle cx="581.5" cy="946.6" r="0.58"/><circle cx="580.5" cy="970.3" r="0.69"/><circle cx="534.2" cy="944.6" r="0.69"/><circle cx="540.9" cy="960.6" r="0.84"/><circle cx="598.5" cy="987.6" r="0.55"/><circle cx="588.5" cy="952.9" r="0.83"/><circle cx="581.0" cy="993.3" r="0.68"/><circle cx="541.7" cy="930.1" r="0.97"/><circle cx="601.2" cy="958.0" r="0.82"/><circle cx="553.3" cy="984.3" r="0.80"/><circle cx="580.1" cy="961.4" r="0.92"/><circle cx="552.2" cy="997.0" r="0.68"/><circle cx="562.1" cy="929.7" r="0.71"/><circle cx="565.7" cy="964.4" r="0.60"/><circle cx="580.5" cy="955.7" r="0.75"/><circle cx="564.3" cy="955.2" r="1.02"/><circle cx="581.6" cy="1009.2" r="0.77"/><circle cx="536.4" cy="943.8" r="0.59"/><circle cx="526.8" cy="961.7" r="0.94"/><circle cx="564.9" cy="923.4" r="0.61"/><circle cx="539.6" cy="982.0" r="0.57"/><circle cx="570.3" cy="947.8" r="0.83"/><circle cx="566.7" cy="982.8" r="1.03"/><circle cx="538.5" cy="934.8" r="0.85"/><circle cx="527.1" cy="945.5" r="0.58"/><circle cx="552.4" cy="979.0" r="0.85"/><circle cx="532.1" cy="992.0" r="0.67"/><circle cx="563.2" cy="1009.5" r="0.91"/><circle cx="542.0" cy="976.1" r="0.92"/><circle cx="593.4" cy="996.5" r="0.66"/><circle cx="573.4" cy="950.9" r="1.01"/><circle cx="573.7" cy="957.5" r="0.63"/><circle cx="606.6" cy="940.8" r="0.70"/><circle cx="580.4" cy="928.2" r="0.67"/><circle cx="556.9" cy="934.4" r="0.62"/><circle cx="593.2" cy="930.2" r="0.67"/><circle cx="532.8" cy="981.1" r="0.74"/><circle cx="567.1" cy="998.5" r="1.03"/><circle cx="589.0" cy="977.0" r="0.79"/><circle cx="617.0" cy="958.7" r="0.55"/><circle cx="557.5" cy="949.2" r="0.65"/><circle cx="591.4" cy="989.2" r="1.05"/><circle cx="597.6" cy="957.0" r="1.00"/><circle cx="563.9" cy="951.0" r="1.00"/><circle cx="561.7" cy="1010.9" r="0.62"/><circle cx="596.9" cy="942.8" r="0.81"/><circle cx="582.7" cy="994.3" r="0.93"/><circle cx="523.7" cy="946.7" r="0.82"/><circle cx="583.4" cy="953.2" r="0.92"/><circle cx="531.8" cy="936.5" r="0.72"/><circle cx="526.2" cy="973.4" r="0.68"/><circle cx="537.9" cy="995.6" r="0.87"/><circle cx="562.7" cy="963.7" r="0.93"/><circle cx="548.4" cy="975.4" r="0.74"/><circle cx="597.8" cy="997.2" r="0.95"/><circle cx="607.8" cy="954.8" r="0.63"/><circle cx="525.9" cy="986.0" r="0.55"/><circle cx="558.5" cy="979.0" r="0.64"/><circle cx="562.8" cy="1001.1" r="0.58"/><circle cx="590.2" cy="939.7" r="0.64"/><circle cx="597.1" cy="984.2" r="0.72"/><circle cx="552.8" cy="963.2" r="0.73"/><circle cx="554.7" cy="962.8" r="0.80"/><circle cx="588.9" cy="931.9" r="0.61"/><circle cx="559.3" cy="953.0" r="0.62"/><circle cx="604.1" cy="965.4" r="0.64"/><circle cx="565.8" cy="979.9" r="1.00"/><circle cx="593.2" cy="994.9" r="0.95"/><circle cx="533.6" cy="974.9" r="0.72"/><circle cx="585.6" cy="926.7" r="0.59"/><circle cx="563.6" cy="945.8" r="0.79"/><circle cx="582.5" cy="994.2" r="0.88"/><circle cx="565.9" cy="935.7" r="0.58"/><circle cx="524.6" cy="977.6" r="0.83"/><circle cx="537.7" cy="934.3" r="0.87"/><circle cx="613.9" cy="948.3" r="0.92"/><circle cx="575.2" cy="946.2" r="0.68"/><circle cx="559.8" cy="927.4" r="0.98"/><circle cx="573.0" cy="935.6" r="0.64"/><circle cx="559.9" cy="949.8" r="0.80"/><circle cx="563.9" cy="993.7" r="0.88"/><circle cx="543.3" cy="934.9" r="0.58"/><circle cx="600.9" cy="938.1" r="1.00"/><circle cx="539.1" cy="937.9" r="0.99"/><circle cx="567.9" cy="924.6" r="0.57"/><circle cx="609.5" cy="969.5" r="0.97"/><circle cx="551.9" cy="977.9" r="0.77"/><circle cx="591.7" cy="927.8" r="0.62"/><circle cx="575.4" cy="984.4" r="0.92"/><circle cx="568.6" cy="1009.1" r="0.76"/><circle cx="579.8" cy="992.6" r="0.62"/><circle cx="574.2" cy="958.2" r="0.76"/><circle cx="561.9" cy="969.9" r="0.66"/><circle cx="613.7" cy="960.2" r="0.76"/><circle cx="601.2" cy="930.2" r="0.98"/><circle cx="563.3" cy="927.1" r="0.81"/><circle cx="560.9" cy="926.4" r="1.04"/><circle cx="588.4" cy="1005.0" r="0.93"/><circle cx="526.9" cy="979.1" r="0.69"/><circle cx="540.2" cy="986.6" r="1.03"/><circle cx="570.9" cy="1008.0" r="0.88"/><circle cx="592.1" cy="950.5" r="0.88"/><circle cx="603.7" cy="933.8" r="0.90"/><circle cx="589.5" cy="930.6" r="0.83"/><circle cx="581.2" cy="996.0" r="1.04"/><circle cx="578.2" cy="960.0" r="0.70"/><circle cx="571.8" cy="1007.8" r="0.64"/><circle cx="570.9" cy="941.9" r="0.72"/><circle cx="585.7" cy="960.3" r="0.84"/><circle cx="562.2" cy="1005.0" r="0.58"/><circle cx="557.9" cy="941.2" r="1.03"/><circle cx="549.9" cy="998.3" r="0.56"/><circle cx="604.7" cy="948.9" r="1.01"/><circle cx="568.3" cy="951.4" r="0.92"/><circle cx="552.9" cy="978.1" r="1.00"/><circle cx="554.0" cy="938.7" r="0.59"/><circle cx="561.8" cy="953.7" r="0.67"/><circle cx="588.0" cy="969.3" r="0.92"/><circle cx="563.5" cy="1011.3" r="0.69"/><circle cx="581.5" cy="923.6" r="0.87"/><circle cx="554.4" cy="952.2" r="0.96"/><circle cx="600.1" cy="946.8" r="0.64"/><circle cx="589.9" cy="976.0" r="1.04"/><circle cx="558.3" cy="986.8" r="0.81"/><circle cx="611.0" cy="972.6" r="0.94"/><circle cx="565.8" cy="971.1" r="1.00"/><circle cx="584.3" cy="923.8" r="0.66"/><circle cx="606.1" cy="952.3" r="0.57"/><circle cx="609.1" cy="958.6" r="0.64"/><circle cx="597.8" cy="939.5" r="0.87"/><circle cx="590.9" cy="967.2" r="0.95"/><circle cx="590.1" cy="965.1" r="0.58"/><circle cx="553.1" cy="954.3" r="0.94"/><circle cx="527.8" cy="976.1" r="1.01"/><circle cx="589.7" cy="959.5" r="0.73"/><circle cx="576.4" cy="936.3" r="1.02"/><circle cx="549.0" cy="996.3" r="0.68"/><circle cx="564.4" cy="937.8" r="0.76"/><circle cx="561.4" cy="919.7" r="0.62"/><circle cx="579.2" cy="983.1" r="0.93"/><circle cx="549.9" cy="926.8" r="0.95"/><circle cx="572.3" cy="997.4" r="0.55"/><circle cx="546.2" cy="993.5" r="0.68"/><circle cx="575.0" cy="941.8" r="0.77"/><circle cx="559.6" cy="942.4" r="0.88"/><circle cx="560.1" cy="969.6" r="0.60"/><circle cx="543.4" cy="927.3" r="0.89"/><circle cx="594.6" cy="933.2" r="0.94"/><circle cx="588.5" cy="931.4" r="0.82"/><circle cx="581.3" cy="983.4" r="0.59"/><circle cx="592.1" cy="982.9" r="0.70"/><circle cx="528.0" cy="946.3" r="0.68"/><circle cx="603.8" cy="936.0" r="0.65"/><circle cx="550.5" cy="951.8" r="0.58"/><circle cx="572.9" cy="984.9" r="0.55"/><circle cx="611.9" cy="970.3" r="0.98"/><circle cx="577.4" cy="953.3" r="0.56"/><circle cx="587.4" cy="940.1" r="0.72"/><circle cx="558.0" cy="929.6" r="0.71"/><circle cx="578.5" cy="976.6" r="0.91"/><circle cx="576.7" cy="958.0" r="0.66"/><circle cx="544.0" cy="959.4" r="0.79"/><circle cx="543.8" cy="963.0" r="0.61"/><circle cx="530.6" cy="984.6" r="0.62"/><circle cx="526.3" cy="953.0" r="0.84"/><circle cx="542.0" cy="1001.7" r="0.94"/><circle cx="595.4" cy="962.8" r="0.79"/><circle cx="526.4" cy="977.0" r="0.86"/><circle cx="535.7" cy="952.5" r="1.00"/><circle cx="558.2" cy="977.3" r="0.64"/><circle cx="569.4" cy="978.3" r="1.04"/><circle cx="528.0" cy="948.5" r="0.78"/><circle cx="545.9" cy="960.2" r="1.00"/><circle cx="541.6" cy="978.1" r="0.92"/><circle cx="601.7" cy="927.6" r="0.79"/><circle cx="529.6" cy="983.6" r="0.76"/><circle cx="578.7" cy="995.4" r="0.70"/><circle cx="566.8" cy="1006.0" r="0.72"/><circle cx="549.9" cy="944.4" r="0.61"/><circle cx="577.1" cy="921.3" r="0.90"/><circle cx="553.2" cy="950.4" r="0.80"/><circle cx="590.3" cy="926.0" r="0.85"/><circle cx="555.2" cy="948.6" r="0.58"/><circle cx="572.5" cy="957.9" r="0.68"/><circle cx="535.9" cy="987.3" r="0.90"/><circle cx="600.2" cy="928.5" r="0.69"/><circle cx="568.9" cy="980.3" r="0.71"/><circle cx="606.9" cy="992.0" r="0.84"/><circle cx="557.2" cy="964.0" r="1.01"/><circle cx="570.2" cy="1005.9" r="0.65"/><circle cx="566.5" cy="981.1" r="0.82"/><circle cx="561.0" cy="999.2" r="0.91"/><circle cx="571.5" cy="980.7" r="0.81"/><circle cx="542.6" cy="982.4" r="0.73"/><circle cx="577.5" cy="977.9" r="0.91"/><circle cx="542.0" cy="933.2" r="0.87"/><circle cx="547.3" cy="961.5" r="1.01"/><circle cx="536.6" cy="956.6" r="0.68"/><circle cx="534.4" cy="996.9" r="0.75"/><circle cx="574.5" cy="947.1" r="0.85"/><circle cx="565.6" cy="986.6" r="0.70"/><circle cx="537.8" cy="986.9" r="0.75"/><circle cx="581.1" cy="948.6" r="0.98"/><circle cx="528.9" cy="980.1" r="0.75"/><circle cx="566.7" cy="1009.2" r="0.87"/><circle cx="562.7" cy="928.7" r="0.91"/><circle cx="609.1" cy="952.0" r="1.03"/><circle cx="553.3" cy="984.8" r="0.99"/><circle cx="591.8" cy="923.7" r="0.77"/><circle cx="528.3" cy="987.7" r="0.65"/><circle cx="578.9" cy="980.7" r="0.70"/><circle cx="542.7" cy="978.2" r="0.78"/><circle cx="596.5" cy="969.6" r="0.80"/><circle cx="600.6" cy="974.6" r="1.00"/><circle cx="541.8" cy="924.5" r="0.98"/><circle cx="561.7" cy="963.6" r="0.58"/><circle cx="529.2" cy="942.7" r="0.72"/><circle cx="597.5" cy="994.5" r="0.82"/><circle cx="551.8" cy="966.8" r="0.83"/><circle cx="532.1" cy="945.0" r="1.00"/><circle cx="608.2" cy="983.6" r="0.71"/><circle cx="544.2" cy="977.7" r="0.95"/><circle cx="556.7" cy="968.0" r="0.79"/><circle cx="572.5" cy="968.2" r="0.58"/><circle cx="544.9" cy="985.5" r="0.55"/><circle cx="598.9" cy="998.3" r="0.82"/><circle cx="604.3" cy="958.8" r="1.03"/><circle cx="557.9" cy="935.1" r="0.58"/><circle cx="594.7" cy="997.9" r="0.88"/><circle cx="563.0" cy="982.1" r="0.87"/><circle cx="590.7" cy="953.0" r="1.05"/><circle cx="547.1" cy="958.6" r="0.64"/><circle cx="557.6" cy="917.8" r="0.65"/><circle cx="570.2" cy="981.6" r="0.65"/><circle cx="573.6" cy="994.3" r="0.67"/><circle cx="556.4" cy="943.0" r="0.68"/><circle cx="551.4" cy="973.1" r="0.58"/><circle cx="571.7" cy="965.1" r="0.89"/><circle cx="600.9" cy="973.5" r="0.99"/><circle cx="548.6" cy="945.6" r="0.75"/><circle cx="544.1" cy="975.4" r="0.58"/><circle cx="579.0" cy="978.6" r="0.65"/><circle cx="561.2" cy="976.9" r="0.86"/><circle cx="579.6" cy="996.3" r="0.90"/><circle cx="527.0" cy="964.0" r="0.94"/><circle cx="547.6" cy="970.5" r="0.57"/><circle cx="558.4" cy="935.7" r="0.70"/><circle cx="586.6" cy="973.6" r="1.00"/><circle cx="524.8" cy="971.1" r="0.97"/><circle cx="569.1" cy="986.4" r="0.99"/><circle cx="571.9" cy="1000.8" r="1.02"/><circle cx="537.9" cy="970.1" r="1.03"/><circle cx="599.3" cy="927.8" r="0.90"/><circle cx="570.5" cy="973.8" r="0.56"/><circle cx="600.5" cy="946.7" r="0.99"/><circle cx="591.6" cy="957.1" r="1.04"/><circle cx="565.7" cy="983.6" r="0.69"/><circle cx="615.9" cy="962.0" r="0.73"/><circle cx="525.0" cy="968.3" r="0.95"/><circle cx="592.2" cy="945.7" r="0.67"/><circle cx="522.0" cy="959.5" r="0.86"/><circle cx="583.7" cy="947.8" r="0.80"/><circle cx="600.7" cy="945.0" r="0.95"/><circle cx="580.3" cy="933.1" r="0.89"/><circle cx="557.3" cy="933.2" r="0.81"/><circle cx="585.6" cy="920.9" r="1.04"/><circle cx="541.9" cy="992.9" r="0.83"/><circle cx="583.0" cy="944.2" r="0.78"/><circle cx="567.1" cy="1006.8" r="0.91"/><circle cx="584.8" cy="963.9" r="0.62"/><circle cx="532.9" cy="940.1" r="0.72"/><circle cx="601.5" cy="981.1" r="0.86"/><circle cx="545.9" cy="974.0" r="0.72"/><circle cx="573.6" cy="1006.8" r="0.74"/><circle cx="560.6" cy="928.2" r="0.66"/><circle cx="561.4" cy="1002.4" r="0.98"/><circle cx="585.4" cy="953.9" r="0.68"/><circle cx="586.0" cy="975.6" r="0.74"/><circle cx="559.5" cy="917.7" r="0.85"/><circle cx="587.0" cy="986.9" r="0.62"/><circle cx="562.0" cy="999.5" r="0.80"/><circle cx="580.8" cy="985.8" r="1.00"/><circle cx="543.1" cy="935.7" r="0.71"/><circle cx="555.9" cy="1003.7" r="0.56"/><circle cx="541.8" cy="924.2" r="0.87"/><circle cx="577.3" cy="966.0" r="0.94"/><circle cx="581.3" cy="992.3" r="0.88"/><circle cx="557.0" cy="940.1" r="0.89"/><circle cx="597.3" cy="946.1" r="0.75"/><circle cx="550.9" cy="921.6" r="0.89"/><circle cx="607.4" cy="944.4" r="1.03"/><circle cx="568.7" cy="1003.2" r="0.65"/><circle cx="589.8" cy="982.4" r="1.02"/><circle cx="561.3" cy="989.3" r="1.01"/><circle cx="610.8" cy="958.5" r="0.73"/><circle cx="574.3" cy="952.2" r="0.56"/><circle cx="594.7" cy="974.2" r="0.67"/><circle cx="589.4" cy="938.2" r="0.98"/><circle cx="539.2" cy="965.6" r="0.72"/><circle cx="600.1" cy="972.9" r="1.03"/><circle cx="615.0" cy="955.0" r="0.60"/><circle cx="527.3" cy="979.1" r="0.63"/><circle cx="589.0" cy="972.1" r="0.59"/><circle cx="566.3" cy="922.4" r="1.04"/><circle cx="607.5" cy="976.0" r="0.95"/><circle cx="574.7" cy="975.6" r="1.04"/><circle cx="572.0" cy="950.9" r="0.64"/><circle cx="557.9" cy="946.4" r="0.77"/><circle cx="577.4" cy="975.2" r="0.79"/><circle cx="525.7" cy="951.5" r="0.55"/><circle cx="560.8" cy="973.6" r="0.83"/><circle cx="583.0" cy="987.4" r="1.03"/><circle cx="545.3" cy="931.2" r="0.85"/><circle cx="580.8" cy="1001.7" r="1.04"/><circle cx="606.5" cy="987.0" r="0.72"/><circle cx="580.7" cy="1000.8" r="0.98"/><circle cx="579.5" cy="982.0" r="0.80"/><circle cx="578.5" cy="996.5" r="1.05"/><circle cx="600.2" cy="968.4" r="0.65"/><circle cx="587.5" cy="995.6" r="1.02"/><circle cx="533.1" cy="970.2" r="0.90"/><circle cx="599.0" cy="926.3" r="0.72"/><circle cx="589.3" cy="1005.1" r="0.85"/><circle cx="582.6" cy="950.8" r="0.94"/><circle cx="581.8" cy="975.2" r="0.61"/><circle cx="548.5" cy="987.2" r="0.88"/><circle cx="598.2" cy="951.2" r="0.84"/><circle cx="543.3" cy="979.3" r="0.68"/><circle cx="593.4" cy="964.1" r="0.91"/><circle cx="581.0" cy="924.9" r="0.77"/><circle cx="550.9" cy="974.5" r="0.67"/><circle cx="606.1" cy="962.8" r="0.75"/><circle cx="535.5" cy="955.8" r="0.70"/><circle cx="541.1" cy="979.0" r="1.00"/><circle cx="589.0" cy="946.8" r="0.78"/><circle cx="577.1" cy="1010.0" r="0.62"/><circle cx="563.5" cy="963.9" r="0.78"/><circle cx="563.2" cy="964.7" r="0.63"/><circle cx="535.3" cy="963.3" r="0.70"/><circle cx="594.9" cy="972.5" r="0.72"/><circle cx="598.7" cy="986.1" r="0.66"/><circle cx="528.7" cy="955.2" r="0.56"/><circle cx="530.0" cy="963.8" r="1.00"/><circle cx="552.5" cy="921.9" r="0.88"/><circle cx="575.8" cy="1006.6" r="0.93"/><circle cx="522.2" cy="967.2" r="0.57"/><circle cx="593.1" cy="947.4" r="0.82"/><circle cx="574.6" cy="944.3" r="0.80"/><circle cx="578.0" cy="964.2" r="1.03"/><circle cx="574.8" cy="994.5" r="0.61"/><circle cx="600.3" cy="949.0" r="0.98"/><circle cx="564.2" cy="996.1" r="0.67"/><circle cx="534.2" cy="941.5" r="0.84"/><circle cx="545.5" cy="949.6" r="1.03"/><circle cx="588.5" cy="965.7" r="0.88"/><circle cx="612.9" cy="955.7" r="0.67"/><circle cx="599.6" cy="951.9" r="0.84"/><circle cx="545.8" cy="932.8" r="0.99"/><circle cx="590.8" cy="947.1" r="1.00"/><circle cx="552.7" cy="1000.1" r="0.63"/><circle cx="551.5" cy="943.0" r="1.05"/><circle cx="553.4" cy="937.3" r="1.03"/><circle cx="600.2" cy="991.2" r="0.87"/><circle cx="601.6" cy="966.8" r="0.61"/><circle cx="584.1" cy="963.3" r="0.87"/><circle cx="552.2" cy="958.7" r="1.02"/><circle cx="534.6" cy="946.2" r="0.68"/><circle cx="584.6" cy="986.1" r="0.57"/><circle cx="579.1" cy="995.9" r="0.75"/><circle cx="570.0" cy="945.0" r="0.65"/><circle cx="528.9" cy="957.5" r="0.71"/><circle cx="573.4" cy="979.9" r="0.73"/><circle cx="537.3" cy="993.1" r="0.67"/><circle cx="546.2" cy="998.6" r="0.65"/><circle cx="615.3" cy="974.8" r="1.01"/><circle cx="558.4" cy="987.0" r="0.78"/><circle cx="579.4" cy="1005.1" r="0.99"/><circle cx="561.6" cy="933.5" r="0.97"/><circle cx="588.0" cy="955.2" r="0.88"/><circle cx="591.3" cy="1006.0" r="0.95"/><circle cx="533.5" cy="985.8" r="0.70"/><circle cx="600.9" cy="976.8" r="0.59"/><circle cx="525.6" cy="975.3" r="0.84"/><circle cx="566.6" cy="985.6" r="0.83"/><circle cx="522.7" cy="960.6" r="0.64"/><circle cx="537.0" cy="970.2" r="0.74"/><circle cx="580.5" cy="991.0" r="0.82"/><circle cx="578.3" cy="989.1" r="0.81"/><circle cx="600.2" cy="950.9" r="0.72"/><circle cx="603.0" cy="970.8" r="0.72"/><circle cx="593.8" cy="985.6" r="0.86"/><circle cx="544.0" cy="996.8" r="0.87"/><circle cx="578.8" cy="967.4" r="0.81"/><circle cx="540.2" cy="941.0" r="0.66"/><circle cx="545.8" cy="997.4" r="0.75"/><circle cx="546.0" cy="959.1" r="0.86"/><circle cx="566.2" cy="963.6" r="0.93"/><circle cx="584.6" cy="917.7" r="1.02"/><circle cx="559.0" cy="931.6" r="0.68"/><circle cx="559.8" cy="933.2" r="0.71"/><circle cx="596.9" cy="988.7" r="0.91"/><circle cx="571.1" cy="944.5" r="0.65"/><circle cx="557.4" cy="950.0" r="0.99"/><circle cx="603.5" cy="946.3" r="0.68"/><circle cx="529.5" cy="947.1" r="0.72"/><circle cx="546.6" cy="932.9" r="1.00"/><circle cx="575.3" cy="924.1" r="0.82"/><circle cx="597.8" cy="939.2" r="0.89"/><circle cx="562.9" cy="978.1" r="0.83"/><circle cx="577.0" cy="1010.4" r="0.66"/><circle cx="591.0" cy="946.2" r="0.65"/><circle cx="544.4" cy="950.4" r="1.05"/><circle cx="557.4" cy="952.9" r="0.71"/><circle cx="594.9" cy="985.4" r="0.81"/><circle cx="552.8" cy="999.8" r="0.77"/><circle cx="585.8" cy="927.0" r="0.68"/><circle cx="572.8" cy="956.0" r="0.67"/><circle cx="615.5" cy="971.7" r="0.82"/><circle cx="595.1" cy="922.7" r="0.60"/><circle cx="574.5" cy="959.2" r="0.90"/><circle cx="576.9" cy="934.3" r="1.00"/><circle cx="572.4" cy="929.2" r="0.69"/><circle cx="576.0" cy="974.6" r="0.82"/><circle cx="548.0" cy="960.0" r="0.82"/><circle cx="592.3" cy="976.1" r="0.88"/><circle cx="589.2" cy="991.9" r="0.62"/><circle cx="585.3" cy="948.2" r="1.02"/><circle cx="610.4" cy="939.8" r="0.69"/><circle cx="563.4" cy="951.6" r="1.04"/><circle cx="565.5" cy="954.6" r="0.62"/><circle cx="591.4" cy="980.9" r="1.02"/><circle cx="575.5" cy="936.4" r="0.95"/><circle cx="604.6" cy="965.7" r="0.74"/><circle cx="610.2" cy="984.6" r="0.88"/><circle cx="607.7" cy="962.2" r="0.86"/><circle cx="592.1" cy="987.4" r="1.00"/><circle cx="532.6" cy="949.3" r="0.78"/><circle cx="565.5" cy="967.4" r="0.66"/><circle cx="574.5" cy="976.8" r="0.58"/><circle cx="570.5" cy="914.8" r="0.90"/><circle cx="579.6" cy="943.8" r="0.97"/><circle cx="535.9" cy="993.9" r="0.67"/><circle cx="558.1" cy="996.9" r="0.66"/><circle cx="566.6" cy="1004.7" r="0.94"/><circle cx="607.9" cy="959.1" r="0.73"/><circle cx="532.3" cy="970.5" r="0.85"/><circle cx="600.6" cy="945.1" r="1.03"/><circle cx="536.7" cy="967.8" r="0.56"/><circle cx="553.6" cy="993.5" r="0.56"/><circle cx="553.4" cy="969.4" r="0.68"/><circle cx="603.5" cy="932.3" r="0.61"/><circle cx="539.9" cy="945.5" r="0.58"/><circle cx="558.4" cy="997.3" r="0.76"/><circle cx="557.5" cy="958.0" r="0.86"/><circle cx="552.6" cy="949.7" r="0.83"/><circle cx="610.8" cy="944.8" r="0.86"/><circle cx="527.1" cy="957.8" r="0.78"/><circle cx="560.8" cy="934.7" r="0.83"/><circle cx="565.0" cy="926.3" r="0.85"/><circle cx="547.3" cy="982.4" r="0.88"/><circle cx="538.4" cy="974.1" r="0.74"/><circle cx="559.1" cy="1000.5" r="0.99"/><circle cx="582.1" cy="1000.1" r="0.82"/><circle cx="543.0" cy="933.3" r="0.75"/><circle cx="598.0" cy="965.2" r="0.81"/><circle cx="536.7" cy="929.3" r="0.88"/><circle cx="552.4" cy="939.7" r="0.95"/><circle cx="600.2" cy="996.5" r="0.79"/><circle cx="530.1" cy="974.9" r="0.82"/><circle cx="585.7" cy="962.8" r="0.58"/><circle cx="549.7" cy="950.3" r="0.66"/><circle cx="604.1" cy="962.9" r="0.70"/><circle cx="553.6" cy="980.6" r="0.68"/><circle cx="600.6" cy="999.3" r="0.92"/><circle cx="558.6" cy="975.7" r="1.04"/><circle cx="580.3" cy="953.7" r="0.98"/><circle cx="523.1" cy="948.0" r="0.77"/><circle cx="564.7" cy="965.1" r="0.84"/><circle cx="572.0" cy="1008.8" r="0.66"/><circle cx="589.6" cy="944.5" r="0.95"/><circle cx="558.3" cy="917.5" r="0.84"/><circle cx="552.9" cy="982.5" r="0.67"/><circle cx="590.0" cy="979.3" r="0.71"/><circle cx="570.6" cy="959.7" r="0.80"/><circle cx="549.5" cy="962.4" r="0.90"/><circle cx="579.9" cy="1003.7" r="0.63"/><circle cx="588.4" cy="944.5" r="0.60"/><circle cx="581.7" cy="981.1" r="0.62"/><circle cx="550.1" cy="1007.4" r="0.74"/><circle cx="535.7" cy="989.4" r="0.59"/><circle cx="607.4" cy="987.0" r="0.71"/><circle cx="578.3" cy="981.8" r="0.92"/><circle cx="599.2" cy="959.0" r="0.91"/><circle cx="547.5" cy="968.5" r="0.71"/><circle cx="555.9" cy="983.9" r="0.95"/><circle cx="594.2" cy="979.6" r="0.92"/><circle cx="615.5" cy="973.2" r="0.86"/><circle cx="556.5" cy="945.9" r="0.65"/><circle cx="595.3" cy="923.3" r="0.56"/><circle cx="577.7" cy="943.5" r="0.59"/><circle cx="556.5" cy="954.7" r="0.97"/><circle cx="583.3" cy="941.7" r="0.62"/><circle cx="526.9" cy="959.9" r="0.57"/><circle cx="564.0" cy="946.9" r="0.74"/><circle cx="575.8" cy="975.2" r="0.82"/><circle cx="554.6" cy="1007.5" r="1.00"/><circle cx="563.6" cy="928.9" r="0.87"/><circle cx="552.3" cy="992.2" r="0.82"/><circle cx="540.3" cy="978.7" r="0.98"/><circle cx="610.4" cy="960.4" r="0.98"/><circle cx="564.3" cy="975.8" r="0.66"/><circle cx="526.3" cy="963.3" r="0.92"/><circle cx="605.7" cy="941.5" r="0.70"/><circle cx="600.5" cy="974.8" r="0.71"/><circle cx="600.4" cy="929.5" r="0.82"/><circle cx="575.0" cy="922.3" r="0.81"/><circle cx="524.5" cy="980.2" r="0.95"/><circle cx="525.3" cy="942.4" r="0.62"/><circle cx="573.2" cy="927.5" r="0.71"/><circle cx="594.7" cy="989.8" r="0.98"/><circle cx="589.5" cy="1004.4" r="1.04"/><circle cx="581.2" cy="997.2" r="0.79"/><circle cx="560.2" cy="977.7" r="0.68"/><circle cx="610.4" cy="947.3" r="1.03"/><circle cx="534.5" cy="963.6" r="0.58"/><circle cx="535.6" cy="979.8" r="1.05"/><circle cx="605.0" cy="978.8" r="0.57"/><circle cx="590.3" cy="959.5" r="0.90"/><circle cx="554.1" cy="946.8" r="0.78"/><circle cx="550.6" cy="972.9" r="0.75"/><circle cx="606.5" cy="979.2" r="1.04"/><circle cx="539.1" cy="955.3" r="0.81"/><circle cx="594.6" cy="996.2" r="0.90"/><circle cx="592.5" cy="981.4" r="0.61"/><circle cx="567.0" cy="957.7" r="0.99"/><circle cx="609.6" cy="980.9" r="0.65"/><circle cx="528.5" cy="955.9" r="1.02"/><circle cx="582.2" cy="949.9" r="0.91"/><circle cx="550.8" cy="971.8" r="0.78"/><circle cx="575.0" cy="960.7" r="0.90"/><circle cx="524.8" cy="951.3" r="0.79"/><circle cx="569.1" cy="1008.1" r="0.60"/><circle cx="558.9" cy="938.9" r="0.58"/><circle cx="590.9" cy="1002.3" r="0.63"/><circle cx="585.1" cy="954.1" r="1.01"/><circle cx="606.1" cy="976.1" r="0.82"/><circle cx="530.4" cy="936.6" r="0.66"/><circle cx="605.5" cy="961.8" r="0.95"/><circle cx="568.6" cy="1011.8" r="0.91"/><circle cx="546.5" cy="967.4" r="0.99"/><circle cx="523.9" cy="945.4" r="0.99"/><circle cx="568.5" cy="922.0" r="0.63"/><circle cx="588.6" cy="927.3" r="0.60"/><circle cx="582.8" cy="969.8" r="0.66"/><circle cx="572.6" cy="920.9" r="0.90"/><circle cx="536.9" cy="997.9" r="0.63"/><circle cx="573.3" cy="995.3" r="0.68"/><circle cx="564.9" cy="919.1" r="0.92"/><circle cx="552.3" cy="996.4" r="0.71"/><circle cx="535.0" cy="952.6" r="0.63"/><circle cx="593.4" cy="927.1" r="0.94"/><circle cx="588.5" cy="976.1" r="0.92"/><circle cx="582.3" cy="927.6" r="1.02"/><circle cx="548.1" cy="973.7" r="0.79"/><circle cx="559.3" cy="991.7" r="0.94"/><circle cx="550.5" cy="1000.0" r="0.85"/><circle cx="603.2" cy="968.0" r="0.98"/><circle cx="541.9" cy="927.4" r="0.87"/><circle cx="578.4" cy="963.0" r="0.76"/><circle cx="582.5" cy="1003.3" r="0.70"/><circle cx="548.7" cy="929.5" r="0.56"/><circle cx="547.8" cy="945.0" r="0.68"/><circle cx="545.2" cy="932.7" r="0.66"/><circle cx="565.6" cy="950.4" r="0.58"/><circle cx="604.4" cy="932.9" r="1.02"/><circle cx="610.6" cy="961.9" r="0.83"/><circle cx="533.9" cy="956.7" r="1.02"/><circle cx="600.2" cy="956.6" r="0.65"/><circle cx="538.1" cy="955.9" r="0.95"/><circle cx="602.6" cy="945.3" r="0.59"/><circle cx="551.8" cy="959.6" r="0.82"/><circle cx="585.5" cy="927.1" r="0.78"/><circle cx="594.4" cy="1002.6" r="0.99"/><circle cx="557.7" cy="964.1" r="0.89"/><circle cx="543.9" cy="981.2" r="0.74"/><circle cx="566.0" cy="981.3" r="0.88"/><circle cx="537.1" cy="959.6" r="0.93"/><circle cx="549.3" cy="963.0" r="0.68"/><circle cx="531.8" cy="949.0" r="0.87"/><circle cx="568.1" cy="934.2" r="0.93"/><circle cx="547.5" cy="951.1" r="0.61"/><circle cx="537.4" cy="931.5" r="1.03"/><circle cx="586.7" cy="923.0" r="0.84"/><circle cx="569.6" cy="989.7" r="0.98"/><circle cx="563.9" cy="996.8" r="0.82"/><circle cx="584.9" cy="965.1" r="0.65"/><circle cx="581.1" cy="922.0" r="0.59"/><circle cx="594.1" cy="1004.4" r="0.63"/><circle cx="580.3" cy="927.9" r="0.99"/><circle cx="567.6" cy="948.2" r="0.93"/><circle cx="566.7" cy="953.6" r="1.02"/><circle cx="560.1" cy="995.3" r="0.81"/><circle cx="534.3" cy="950.8" r="0.58"/><circle cx="590.1" cy="935.3" r="0.60"/><circle cx="547.7" cy="963.0" r="0.77"/><circle cx="560.7" cy="921.9" r="0.63"/><circle cx="557.6" cy="1009.8" r="0.86"/><circle cx="583.7" cy="998.2" r="0.67"/><circle cx="604.0" cy="981.0" r="0.61"/><circle cx="594.2" cy="994.2" r="1.03"/><circle cx="607.0" cy="980.9" r="0.62"/><circle cx="574.7" cy="965.6" r="0.56"/><circle cx="563.2" cy="917.3" r="0.56"/><circle cx="575.0" cy="971.9" r="0.75"/><circle cx="559.5" cy="982.4" r="0.96"/><circle cx="599.4" cy="986.9" r="0.62"/><circle cx="558.9" cy="948.9" r="0.65"/><circle cx="593.8" cy="961.6" r="0.78"/><circle cx="543.0" cy="922.2" r="0.82"/><circle cx="598.4" cy="989.8" r="0.89"/><circle cx="542.8" cy="948.1" r="0.96"/><circle cx="601.9" cy="977.2" r="0.82"/></g>
</g>
<g filter="url(#pb)">
<circle cx="552.2" cy="921.7" r="4.8" fill="#c050e8" opacity="0.45"/>
<circle cx="552.4" cy="920.9" r="2.2" fill="#e6f6f8"/>
<circle cx="551.3" cy="921.1" r="2.0" fill="#e6f6f8"/>
<circle cx="553.3" cy="921.6" r="2.0" fill="#e6f6f8"/>
<circle cx="552.5" cy="922.1" r="2.7" fill="#e6f6f8"/>
<circle cx="553.0" cy="922.7" r="2.7" fill="#e6f6f8"/>
<circle cx="553.3" cy="930.9" r="4.7" fill="#c050e8" opacity="0.45"/>
<circle cx="552.5" cy="930.4" r="2.4" fill="#e6f6f8"/>
<circle cx="553.6" cy="930.2" r="2.0" fill="#e6f6f8"/>
<circle cx="552.2" cy="931.6" r="2.6" fill="#e6f6f8"/>
<circle cx="552.6" cy="930.4" r="2.4" fill="#e6f6f8"/>
<circle cx="553.7" cy="931.4" r="1.8" fill="#e6f6f8"/>
<circle cx="562" cy="931.9" r="4.5" fill="#c050e8" opacity="0.45"/>
<circle cx="561.0" cy="931.4" r="2.2" fill="#e6f6f8"/>
<circle cx="562.3" cy="932.6" r="2.2" fill="#e6f6f8"/>
<circle cx="561.0" cy="932.6" r="2.5" fill="#e6f6f8"/>
<circle cx="560.5" cy="932.2" r="1.8" fill="#e6f6f8"/>
<circle cx="561.4" cy="931.9" r="1.9" fill="#e6f6f8"/>
<circle cx="577.8" cy="921.2" r="4.1" fill="#c050e8" opacity="0.45"/>
<circle cx="577.3" cy="921.7" r="2.3" fill="#e6f6f8"/>
<circle cx="577.5" cy="922.1" r="1.6" fill="#e6f6f8"/>
<circle cx="576.7" cy="922.4" r="2.0" fill="#e6f6f8"/>
<circle cx="578.9" cy="920.4" r="2.0" fill="#e6f6f8"/>
<circle cx="576.3" cy="921.9" r="1.9" fill="#e6f6f8"/>
<circle cx="577.8" cy="925.8" r="4.1" fill="#c050e8" opacity="0.45"/>
<circle cx="578.1" cy="927.4" r="1.6" fill="#e6f6f8"/>
<circle cx="578.4" cy="927.0" r="2.0" fill="#e6f6f8"/>
<circle cx="576.4" cy="926.1" r="1.9" fill="#e6f6f8"/>
<circle cx="577.3" cy="925.5" r="1.9" fill="#e6f6f8"/>
<circle cx="579.1" cy="925.6" r="1.8" fill="#e6f6f8"/>
<circle cx="583.4" cy="923.2" r="4.5" fill="#c050e8" opacity="0.45"/>
<circle cx="584.5" cy="923.0" r="2.1" fill="#e6f6f8"/>
<circle cx="584.1" cy="921.7" r="2.0" fill="#e6f6f8"/>
<circle cx="582.9" cy="922.4" r="2.1" fill="#e6f6f8"/>
<circle cx="583.7" cy="922.2" r="2.5" fill="#e6f6f8"/>
<circle cx="581.7" cy="923.4" r="1.9" fill="#e6f6f8"/>
<circle cx="576.3" cy="935.5" r="4.3" fill="#c050e8" opacity="0.45"/>
<circle cx="578.0" cy="935.9" r="2.4" fill="#e6f6f8"/>
<circle cx="575.2" cy="935.6" r="2.4" fill="#e6f6f8"/>
<circle cx="575.6" cy="936.1" r="1.8" fill="#e6f6f8"/>
<circle cx="577.7" cy="934.7" r="2.1" fill="#e6f6f8"/>
<circle cx="576.1" cy="933.8" r="2.2" fill="#e6f6f8"/>
<circle cx="600.8" cy="930.4" r="4.0" fill="#c050e8" opacity="0.45"/>
<circle cx="599.8" cy="929.0" r="1.9" fill="#e6f6f8"/>
<circle cx="599.5" cy="931.0" r="1.7" fill="#e6f6f8"/>
<circle cx="601.0" cy="931.8" r="2.3" fill="#e6f6f8"/>
<circle cx="601.9" cy="931.3" r="1.9" fill="#e6f6f8"/>
<circle cx="601.5" cy="930.6" r="1.8" fill="#e6f6f8"/>
<circle cx="604.9" cy="937.6" r="4.6" fill="#c050e8" opacity="0.45"/>
<circle cx="605.6" cy="938.4" r="2.3" fill="#e6f6f8"/>
<circle cx="605.0" cy="935.7" r="2.5" fill="#e6f6f8"/>
<circle cx="605.4" cy="938.8" r="2.3" fill="#e6f6f8"/>
<circle cx="603.6" cy="937.2" r="2.1" fill="#e6f6f8"/>
<circle cx="605.0" cy="939.0" r="2.5" fill="#e6f6f8"/>
<circle cx="596.7" cy="938.6" r="4.6" fill="#c050e8" opacity="0.45"/>
<circle cx="595.7" cy="937.1" r="2.0" fill="#e6f6f8"/>
<circle cx="595.2" cy="937.9" r="2.3" fill="#e6f6f8"/>
<circle cx="597.9" cy="938.6" r="2.5" fill="#e6f6f8"/>
<circle cx="597.0" cy="939.6" r="2.6" fill="#e6f6f8"/>
<circle cx="595.5" cy="939.0" r="2.3" fill="#e6f6f8"/>
<circle cx="590.6" cy="942.2" r="4.7" fill="#c050e8" opacity="0.45"/>
<circle cx="588.9" cy="942.7" r="2.5" fill="#e6f6f8"/>
<circle cx="589.5" cy="943.0" r="2.1" fill="#e6f6f8"/>
<circle cx="591.7" cy="942.6" r="1.9" fill="#e6f6f8"/>
<circle cx="590.1" cy="943.8" r="2.7" fill="#e6f6f8"/>
<circle cx="590.8" cy="942.9" r="2.2" fill="#e6f6f8"/>
<circle cx="607.9" cy="944.7" r="4.4" fill="#c050e8" opacity="0.45"/>
<circle cx="608.9" cy="946.0" r="1.8" fill="#e6f6f8"/>
<circle cx="607.0" cy="944.5" r="2.2" fill="#e6f6f8"/>
<circle cx="608.8" cy="945.5" r="2.4" fill="#e6f6f8"/>
<circle cx="608.7" cy="944.8" r="1.7" fill="#e6f6f8"/>
<circle cx="608.6" cy="943.5" r="1.9" fill="#e6f6f8"/>
<circle cx="612" cy="949.8" r="4.8" fill="#c050e8" opacity="0.45"/>
<circle cx="612.6" cy="950.8" r="2.5" fill="#e6f6f8"/>
<circle cx="611.5" cy="949.4" r="1.9" fill="#e6f6f8"/>
<circle cx="612.7" cy="951.5" r="2.7" fill="#e6f6f8"/>
<circle cx="611.8" cy="950.3" r="2.4" fill="#e6f6f8"/>
<circle cx="612.6" cy="951.5" r="2.7" fill="#e6f6f8"/>
<circle cx="602.8" cy="952.4" r="4.7" fill="#c050e8" opacity="0.45"/>
<circle cx="603.1" cy="950.8" r="2.5" fill="#e6f6f8"/>
<circle cx="601.7" cy="953.4" r="1.8" fill="#e6f6f8"/>
<circle cx="602.4" cy="951.3" r="2.7" fill="#e6f6f8"/>
<circle cx="603.0" cy="951.3" r="2.4" fill="#e6f6f8"/>
<circle cx="601.6" cy="951.7" r="1.8" fill="#e6f6f8"/>
<circle cx="535.9" cy="940.1" r="4.1" fill="#c050e8" opacity="0.45"/>
<circle cx="535.8" cy="941.6" r="2.3" fill="#e6f6f8"/>
<circle cx="534.8" cy="939.0" r="2.1" fill="#e6f6f8"/>
<circle cx="536.4" cy="940.8" r="2.0" fill="#e6f6f8"/>
<circle cx="535.9" cy="939.0" r="2.1" fill="#e6f6f8"/>
<circle cx="535.4" cy="940.9" r="1.7" fill="#e6f6f8"/>
<circle cx="528.2" cy="947.8" r="4.3" fill="#c050e8" opacity="0.45"/>
<circle cx="527.6" cy="947.5" r="2.4" fill="#e6f6f8"/>
<circle cx="529.7" cy="947.9" r="1.9" fill="#e6f6f8"/>
<circle cx="529.0" cy="947.5" r="1.7" fill="#e6f6f8"/>
<circle cx="527.8" cy="946.8" r="2.3" fill="#e6f6f8"/>
<circle cx="527.6" cy="946.8" r="2.2" fill="#e6f6f8"/>
<circle cx="539.5" cy="949.8" r="4.6" fill="#c050e8" opacity="0.45"/>
<circle cx="539.1" cy="950.5" r="2.3" fill="#e6f6f8"/>
<circle cx="539.0" cy="949.6" r="1.9" fill="#e6f6f8"/>
<circle cx="538.9" cy="950.1" r="2.2" fill="#e6f6f8"/>
<circle cx="538.8" cy="950.4" r="2.4" fill="#e6f6f8"/>
<circle cx="539.5" cy="949.2" r="2.3" fill="#e6f6f8"/>
<circle cx="526.7" cy="956" r="4.9" fill="#c050e8" opacity="0.45"/>
<circle cx="525.2" cy="954.8" r="2.1" fill="#e6f6f8"/>
<circle cx="526.9" cy="956.9" r="2.1" fill="#e6f6f8"/>
<circle cx="527.2" cy="956.7" r="2.4" fill="#e6f6f8"/>
<circle cx="527.3" cy="954.5" r="2.0" fill="#e6f6f8"/>
<circle cx="526.8" cy="954.6" r="2.2" fill="#e6f6f8"/>
<circle cx="559.9" cy="948.3" r="3.9" fill="#c050e8" opacity="0.45"/>
<circle cx="560.3" cy="947.8" r="1.7" fill="#e6f6f8"/>
<circle cx="559.4" cy="949.8" r="2.2" fill="#e6f6f8"/>
<circle cx="561.4" cy="947.4" r="2.1" fill="#e6f6f8"/>
<circle cx="559.3" cy="948.4" r="1.7" fill="#e6f6f8"/>
<circle cx="560.3" cy="948.8" r="1.6" fill="#e6f6f8"/>
<circle cx="580.3" cy="952.9" r="4.2" fill="#c050e8" opacity="0.45"/>
<circle cx="581.2" cy="953.2" r="2.3" fill="#e6f6f8"/>
<circle cx="580.4" cy="954.1" r="2.3" fill="#e6f6f8"/>
<circle cx="581.8" cy="953.0" r="2.0" fill="#e6f6f8"/>
<circle cx="582.0" cy="953.2" r="2.2" fill="#e6f6f8"/>
<circle cx="581.8" cy="954.0" r="2.1" fill="#e6f6f8"/>
<circle cx="547.6" cy="957" r="4.5" fill="#c050e8" opacity="0.45"/>
<circle cx="547.7" cy="957.5" r="2.4" fill="#e6f6f8"/>
<circle cx="547.4" cy="956.3" r="1.8" fill="#e6f6f8"/>
<circle cx="546.8" cy="956.6" r="2.1" fill="#e6f6f8"/>
<circle cx="548.5" cy="956.0" r="1.9" fill="#e6f6f8"/>
<circle cx="547.1" cy="955.6" r="2.2" fill="#e6f6f8"/>
<circle cx="594.7" cy="954.9" r="4.8" fill="#c050e8" opacity="0.45"/>
<circle cx="593.3" cy="955.1" r="2.0" fill="#e6f6f8"/>
<circle cx="594.4" cy="955.8" r="2.3" fill="#e6f6f8"/>
<circle cx="594.0" cy="954.9" r="2.5" fill="#e6f6f8"/>
<circle cx="595.5" cy="955.2" r="2.4" fill="#e6f6f8"/>
<circle cx="595.6" cy="955.0" r="2.6" fill="#e6f6f8"/>
<circle cx="559.9" cy="963.6" r="4.6" fill="#c050e8" opacity="0.45"/>
<circle cx="559.4" cy="964.1" r="2.4" fill="#e6f6f8"/>
<circle cx="560.3" cy="963.1" r="2.2" fill="#e6f6f8"/>
<circle cx="558.5" cy="963.2" r="2.0" fill="#e6f6f8"/>
<circle cx="560.5" cy="962.4" r="2.5" fill="#e6f6f8"/>
<circle cx="561.3" cy="963.1" r="2.4" fill="#e6f6f8"/>
<circle cx="563" cy="966.2" r="4.2" fill="#c050e8" opacity="0.45"/>
<circle cx="562.9" cy="967.2" r="2.2" fill="#e6f6f8"/>
<circle cx="562.3" cy="965.7" r="2.3" fill="#e6f6f8"/>
<circle cx="561.1" cy="966.0" r="2.1" fill="#e6f6f8"/>
<circle cx="562.9" cy="965.2" r="2.4" fill="#e6f6f8"/>
<circle cx="561.6" cy="966.4" r="1.9" fill="#e6f6f8"/>
<circle cx="532.3" cy="966.2" r="4.4" fill="#c050e8" opacity="0.45"/>
<circle cx="532.8" cy="967.1" r="2.1" fill="#e6f6f8"/>
<circle cx="532.3" cy="965.5" r="1.9" fill="#e6f6f8"/>
<circle cx="531.6" cy="965.3" r="2.4" fill="#e6f6f8"/>
<circle cx="533.4" cy="966.3" r="2.4" fill="#e6f6f8"/>
<circle cx="532.3" cy="965.2" r="2.1" fill="#e6f6f8"/>
<circle cx="547.6" cy="968.2" r="4.3" fill="#c050e8" opacity="0.45"/>
<circle cx="548.2" cy="968.2" r="1.8" fill="#e6f6f8"/>
<circle cx="548.1" cy="967.6" r="1.9" fill="#e6f6f8"/>
<circle cx="546.2" cy="967.7" r="2.2" fill="#e6f6f8"/>
<circle cx="547.2" cy="969.1" r="1.7" fill="#e6f6f8"/>
<circle cx="547.9" cy="967.2" r="1.9" fill="#e6f6f8"/>
<circle cx="597.7" cy="962.6" r="4.1" fill="#c050e8" opacity="0.45"/>
<circle cx="597.0" cy="962.6" r="1.8" fill="#e6f6f8"/>
<circle cx="598.3" cy="963.1" r="2.0" fill="#e6f6f8"/>
<circle cx="597.4" cy="963.2" r="2.2" fill="#e6f6f8"/>
<circle cx="598.7" cy="963.0" r="1.8" fill="#e6f6f8"/>
<circle cx="598.6" cy="962.9" r="1.9" fill="#e6f6f8"/>
<circle cx="588.5" cy="971.8" r="4.6" fill="#c050e8" opacity="0.45"/>
<circle cx="588.4" cy="972.8" r="2.5" fill="#e6f6f8"/>
<circle cx="587.8" cy="971.0" r="2.0" fill="#e6f6f8"/>
<circle cx="588.9" cy="970.0" r="2.0" fill="#e6f6f8"/>
<circle cx="589.1" cy="971.0" r="2.2" fill="#e6f6f8"/>
<circle cx="589.3" cy="971.9" r="2.0" fill="#e6f6f8"/>
<circle cx="598.7" cy="974.3" r="4.1" fill="#c050e8" opacity="0.45"/>
<circle cx="599.5" cy="972.7" r="1.8" fill="#e6f6f8"/>
<circle cx="599.0" cy="973.4" r="2.0" fill="#e6f6f8"/>
<circle cx="599.3" cy="976.0" r="2.0" fill="#e6f6f8"/>
<circle cx="597.3" cy="973.4" r="2.0" fill="#e6f6f8"/>
<circle cx="597.2" cy="974.4" r="1.9" fill="#e6f6f8"/>
<circle cx="529.8" cy="973.3" r="4.5" fill="#c050e8" opacity="0.45"/>
<circle cx="529.6" cy="974.0" r="1.9" fill="#e6f6f8"/>
<circle cx="531.1" cy="973.1" r="1.8" fill="#e6f6f8"/>
<circle cx="530.3" cy="974.5" r="2.2" fill="#e6f6f8"/>
<circle cx="531.6" cy="973.2" r="1.8" fill="#e6f6f8"/>
<circle cx="530.4" cy="971.5" r="2.4" fill="#e6f6f8"/>
<circle cx="567.1" cy="975.4" r="4.8" fill="#c050e8" opacity="0.45"/>
<circle cx="566.1" cy="976.3" r="2.5" fill="#e6f6f8"/>
<circle cx="567.5" cy="974.0" r="2.6" fill="#e6f6f8"/>
<circle cx="566.3" cy="976.8" r="2.4" fill="#e6f6f8"/>
<circle cx="568.0" cy="975.2" r="2.5" fill="#e6f6f8"/>
<circle cx="568.1" cy="974.2" r="2.5" fill="#e6f6f8"/>
<circle cx="526.7" cy="981.5" r="4.1" fill="#c050e8" opacity="0.45"/>
<circle cx="527.2" cy="982.3" r="2.0" fill="#e6f6f8"/>
<circle cx="528.1" cy="981.8" r="1.6" fill="#e6f6f8"/>
<circle cx="527.0" cy="982.3" r="2.0" fill="#e6f6f8"/>
<circle cx="526.3" cy="979.7" r="1.7" fill="#e6f6f8"/>
<circle cx="528.2" cy="982.4" r="2.0" fill="#e6f6f8"/>
<circle cx="542.5" cy="985.1" r="4.8" fill="#c050e8" opacity="0.45"/>
<circle cx="542.4" cy="984.4" r="2.2" fill="#e6f6f8"/>
<circle cx="542.7" cy="986.2" r="2.1" fill="#e6f6f8"/>
<circle cx="543.6" cy="983.8" r="2.1" fill="#e6f6f8"/>
<circle cx="544.3" cy="985.1" r="2.2" fill="#e6f6f8"/>
<circle cx="543.8" cy="983.8" r="2.5" fill="#e6f6f8"/>
<circle cx="583.4" cy="983.5" r="4.3" fill="#c050e8" opacity="0.45"/>
<circle cx="582.3" cy="982.4" r="1.9" fill="#e6f6f8"/>
<circle cx="582.8" cy="983.6" r="1.8" fill="#e6f6f8"/>
<circle cx="583.7" cy="982.6" r="2.2" fill="#e6f6f8"/>
<circle cx="582.1" cy="984.1" r="1.9" fill="#e6f6f8"/>
<circle cx="584.6" cy="984.2" r="1.8" fill="#e6f6f8"/>
<circle cx="591.6" cy="989.7" r="4.1" fill="#c050e8" opacity="0.45"/>
<circle cx="590.4" cy="990.0" r="2.2" fill="#e6f6f8"/>
<circle cx="591.2" cy="988.7" r="1.9" fill="#e6f6f8"/>
<circle cx="591.0" cy="989.3" r="1.8" fill="#e6f6f8"/>
<circle cx="590.2" cy="988.6" r="2.0" fill="#e6f6f8"/>
<circle cx="592.1" cy="991.5" r="2.2" fill="#e6f6f8"/>
<circle cx="593.6" cy="982.5" r="4.1" fill="#c050e8" opacity="0.45"/>
<circle cx="593.2" cy="982.9" r="2.2" fill="#e6f6f8"/>
<circle cx="593.9" cy="984.1" r="2.1" fill="#e6f6f8"/>
<circle cx="593.8" cy="981.2" r="1.8" fill="#e6f6f8"/>
<circle cx="594.9" cy="982.8" r="1.6" fill="#e6f6f8"/>
<circle cx="592.0" cy="982.3" r="1.7" fill="#e6f6f8"/>
<circle cx="568.1" cy="993.8" r="4.3" fill="#c050e8" opacity="0.45"/>
<circle cx="567.4" cy="993.6" r="1.8" fill="#e6f6f8"/>
<circle cx="567.5" cy="993.3" r="1.8" fill="#e6f6f8"/>
<circle cx="568.4" cy="995.6" r="2.4" fill="#e6f6f8"/>
<circle cx="569.1" cy="994.6" r="2.0" fill="#e6f6f8"/>
<circle cx="568.9" cy="994.0" r="2.2" fill="#e6f6f8"/>
<circle cx="543.6" cy="994.3" r="3.9" fill="#c050e8" opacity="0.45"/>
<circle cx="544.5" cy="994.1" r="1.7" fill="#e6f6f8"/>
<circle cx="544.3" cy="994.1" r="1.6" fill="#e6f6f8"/>
<circle cx="542.7" cy="994.5" r="1.7" fill="#e6f6f8"/>
<circle cx="542.0" cy="993.4" r="1.8" fill="#e6f6f8"/>
<circle cx="544.6" cy="994.6" r="2.1" fill="#e6f6f8"/>
<circle cx="575.2" cy="1003.5" r="4.3" fill="#c050e8" opacity="0.45"/>
<circle cx="576.0" cy="1003.8" r="1.9" fill="#e6f6f8"/>
<circle cx="574.6" cy="1004.3" r="2.2" fill="#e6f6f8"/>
<circle cx="575.1" cy="1002.9" r="1.8" fill="#e6f6f8"/>
<circle cx="576.0" cy="1001.9" r="2.3" fill="#e6f6f8"/>
<circle cx="575.8" cy="1004.8" r="1.7" fill="#e6f6f8"/>
<circle cx="562" cy="1006" r="4.6" fill="#c050e8" opacity="0.45"/>
<circle cx="562.3" cy="1007.6" r="2.5" fill="#e6f6f8"/>
<circle cx="560.5" cy="1006.3" r="2.6" fill="#e6f6f8"/>
<circle cx="563.1" cy="1005.1" r="2.3" fill="#e6f6f8"/>
<circle cx="561.1" cy="1007.1" r="1.9" fill="#e6f6f8"/>
<circle cx="561.4" cy="1006.2" r="1.9" fill="#e6f6f8"/>
<circle cx="593.6" cy="1002" r="4.6" fill="#c050e8" opacity="0.45"/>
<circle cx="592.9" cy="1002.4" r="2.6" fill="#e6f6f8"/>
<circle cx="593.3" cy="1003.2" r="2.2" fill="#e6f6f8"/>
<circle cx="594.4" cy="1003.7" r="2.4" fill="#e6f6f8"/>
<circle cx="594.3" cy="1001.4" r="2.5" fill="#e6f6f8"/>
<circle cx="595.1" cy="1001.0" r="1.9" fill="#e6f6f8"/>
</g>
</g>
<g clip-path="url(#cp4)">
<circle cx="684.9" cy="963.3" r="48.6" fill="#3208ea"/>
<g filter="url(#nb)">
<g fill="#c848e8" opacity="0.75"><circle cx="692.7" cy="974.9" r="0.59"/><circle cx="681.6" cy="952.9" r="0.78"/><circle cx="659.5" cy="996.1" r="0.57"/><circle cx="676.2" cy="916.5" r="0.70"/><circle cx="650.5" cy="987.1" r="0.70"/><circle cx="712.5" cy="923.4" r="0.66"/><circle cx="666.6" cy="966.7" r="0.83"/><circle cx="647.3" cy="993.0" r="0.91"/><circle cx="728.6" cy="961.2" r="0.96"/><circle cx="655.6" cy="990.0" r="0.61"/><circle cx="657.9" cy="1001.4" r="1.04"/><circle cx="700.7" cy="993.6" r="0.75"/><circle cx="657.6" cy="937.7" r="0.68"/><circle cx="708.7" cy="941.0" r="0.94"/><circle cx="676.5" cy="915.9" r="0.81"/><circle cx="648.7" cy="940.7" r="0.66"/><circle cx="727.0" cy="975.5" r="0.90"/><circle cx="684.8" cy="919.8" r="0.65"/><circle cx="712.9" cy="936.3" r="1.02"/><circle cx="642.5" cy="947.7" r="0.58"/><circle cx="703.2" cy="994.5" r="0.88"/><circle cx="675.1" cy="971.9" r="0.99"/><circle cx="726.2" cy="983.2" r="0.67"/><circle cx="674.7" cy="927.3" r="0.67"/><circle cx="673.6" cy="984.3" r="0.82"/><circle cx="678.7" cy="998.6" r="0.69"/><circle cx="714.4" cy="991.1" r="0.68"/><circle cx="714.2" cy="953.5" r="0.68"/><circle cx="675.7" cy="918.1" r="0.74"/><circle cx="682.0" cy="935.5" r="1.05"/><circle cx="682.0" cy="972.1" r="0.55"/><circle cx="647.9" cy="953.1" r="0.69"/><circle cx="658.3" cy="979.3" r="0.73"/><circle cx="698.2" cy="996.6" r="0.88"/><circle cx="729.9" cy="971.0" r="0.68"/><circle cx="662.5" cy="966.8" r="0.89"/><circle cx="654.1" cy="983.9" r="0.75"/><circle cx="670.6" cy="962.6" r="1.04"/><circle cx="659.9" cy="975.9" r="0.97"/><circle cx="673.0" cy="1004.9" r="0.76"/><circle cx="712.3" cy="987.9" r="0.69"/><circle cx="699.4" cy="1009.4" r="1.02"/><circle cx="641.9" cy="971.1" r="0.88"/><circle cx="679.2" cy="979.8" r="0.84"/><circle cx="700.2" cy="1002.6" r="0.85"/><circle cx="692.9" cy="1005.4" r="1.03"/><circle cx="637.4" cy="969.3" r="0.77"/><circle cx="717.7" cy="966.9" r="0.73"/><circle cx="715.4" cy="945.9" r="1.03"/><circle cx="700.6" cy="989.0" r="0.56"/><circle cx="723.8" cy="976.3" r="0.57"/><circle cx="690.5" cy="994.8" r="1.01"/><circle cx="685.2" cy="966.5" r="0.90"/><circle cx="678.9" cy="946.2" r="1.01"/><circle cx="716.1" cy="928.1" r="0.96"/><circle cx="645.9" cy="951.5" r="0.61"/><circle cx="667.0" cy="940.6" r="0.72"/><circle cx="679.6" cy="976.1" r="0.96"/><circle cx="685.3" cy="958.6" r="0.81"/><circle cx="720.4" cy="968.5" r="0.63"/><circle cx="711.5" cy="956.6" r="0.81"/><circle cx="681.4" cy="1009.4" r="0.55"/><circle cx="677.4" cy="985.1" r="0.92"/><circle cx="653.6" cy="995.8" r="0.71"/><circle cx="708.0" cy="986.6" r="0.59"/><circle cx="705.1" cy="992.0" r="0.84"/><circle cx="689.6" cy="983.4" r="0.81"/><circle cx="653.1" cy="974.7" r="0.89"/><circle cx="688.2" cy="967.4" r="0.58"/><circle cx="696.3" cy="924.2" r="0.63"/><circle cx="671.8" cy="986.9" r="1.01"/><circle cx="649.9" cy="984.8" r="0.59"/><circle cx="707.2" cy="969.2" r="0.87"/><circle cx="642.0" cy="978.2" r="0.96"/><circle cx="660.0" cy="921.6" r="1.03"/><circle cx="695.7" cy="953.6" r="0.75"/><circle cx="708.1" cy="993.4" r="0.80"/><circle cx="696.4" cy="970.8" r="0.78"/><circle cx="663.0" cy="941.4" r="0.79"/><circle cx="657.9" cy="933.0" r="0.90"/><circle cx="667.6" cy="973.5" r="0.98"/><circle cx="706.2" cy="968.9" r="0.65"/><circle cx="653.1" cy="941.9" r="0.60"/><circle cx="648.2" cy="960.0" r="0.89"/><circle cx="722.0" cy="981.9" r="0.69"/><circle cx="672.1" cy="974.7" r="0.97"/><circle cx="652.6" cy="933.7" r="0.81"/><circle cx="708.6" cy="983.0" r="0.59"/><circle cx="720.4" cy="988.7" r="0.55"/><circle cx="677.3" cy="969.7" r="0.93"/><circle cx="693.7" cy="962.8" r="0.73"/><circle cx="709.0" cy="959.6" r="0.71"/><circle cx="731.4" cy="959.6" r="0.74"/><circle cx="664.1" cy="925.3" r="0.73"/><circle cx="714.6" cy="963.7" r="0.90"/><circle cx="716.4" cy="956.1" r="0.76"/><circle cx="657.2" cy="989.1" r="0.56"/><circle cx="725.4" cy="938.6" r="0.57"/><circle cx="712.1" cy="964.3" r="0.62"/><circle cx="690.4" cy="918.3" r="0.82"/><circle cx="706.7" cy="955.3" r="0.65"/><circle cx="660.6" cy="985.1" r="0.65"/><circle cx="721.9" cy="943.3" r="0.69"/><circle cx="688.7" cy="988.9" r="0.75"/><circle cx="660.7" cy="928.0" r="1.02"/><circle cx="703.7" cy="973.8" r="0.74"/><circle cx="716.3" cy="953.5" r="0.91"/><circle cx="700.7" cy="934.3" r="0.74"/><circle cx="691.2" cy="924.9" r="1.05"/><circle cx="678.7" cy="1010.4" r="0.79"/><circle cx="711.3" cy="934.7" r="0.83"/><circle cx="693.4" cy="952.4" r="0.69"/><circle cx="641.0" cy="966.7" r="0.64"/><circle cx="687.6" cy="949.1" r="0.73"/><circle cx="644.9" cy="972.6" r="0.81"/><circle cx="708.6" cy="930.5" r="0.74"/><circle cx="654.8" cy="959.3" r="0.99"/><circle cx="678.1" cy="982.8" r="0.67"/><circle cx="684.8" cy="1007.0" r="0.89"/><circle cx="685.8" cy="994.8" r="1.00"/><circle cx="707.1" cy="957.7" r="1.02"/><circle cx="730.2" cy="980.7" r="0.71"/><circle cx="693.2" cy="960.9" r="0.89"/><circle cx="724.0" cy="943.2" r="0.84"/><circle cx="698.1" cy="982.9" r="1.02"/><circle cx="700.2" cy="946.3" r="0.72"/><circle cx="664.6" cy="945.8" r="0.66"/><circle cx="695.9" cy="951.4" r="0.87"/><circle cx="657.3" cy="981.9" r="0.99"/><circle cx="683.8" cy="920.5" r="0.56"/><circle cx="700.9" cy="923.1" r="0.55"/><circle cx="691.2" cy="1004.4" r="0.98"/><circle cx="640.5" cy="952.1" r="0.59"/><circle cx="682.2" cy="1007.2" r="0.95"/><circle cx="691.0" cy="999.4" r="0.77"/><circle cx="682.7" cy="932.7" r="0.71"/><circle cx="687.9" cy="922.9" r="0.73"/><circle cx="679.4" cy="939.0" r="0.80"/><circle cx="695.8" cy="989.6" r="0.76"/><circle cx="708.0" cy="977.6" r="0.73"/><circle cx="668.8" cy="993.9" r="1.00"/><circle cx="700.4" cy="941.9" r="0.62"/><circle cx="723.8" cy="987.3" r="0.93"/><circle cx="681.6" cy="917.1" r="0.75"/><circle cx="691.9" cy="976.2" r="0.75"/><circle cx="686.5" cy="949.2" r="0.77"/><circle cx="704.5" cy="974.3" r="0.83"/><circle cx="657.2" cy="925.1" r="0.71"/><circle cx="686.2" cy="975.3" r="0.64"/><circle cx="686.6" cy="963.7" r="0.61"/><circle cx="652.9" cy="955.8" r="1.00"/><circle cx="670.6" cy="964.6" r="0.62"/><circle cx="670.2" cy="917.5" r="0.92"/><circle cx="687.7" cy="991.7" r="0.77"/><circle cx="661.3" cy="973.8" r="0.63"/><circle cx="729.9" cy="970.8" r="1.04"/><circle cx="714.6" cy="959.2" r="0.89"/><circle cx="689.3" cy="979.0" r="0.55"/><circle cx="663.3" cy="1000.9" r="0.81"/><circle cx="688.3" cy="996.8" r="0.82"/><circle cx="695.8" cy="993.9" r="1.01"/><circle cx="639.1" cy="978.9" r="0.91"/><circle cx="717.1" cy="997.0" r="0.90"/><circle cx="665.1" cy="970.7" r="0.88"/><circle cx="697.0" cy="994.0" r="0.63"/><circle cx="644.0" cy="988.0" r="0.85"/><circle cx="646.8" cy="960.3" r="0.88"/><circle cx="664.1" cy="947.7" r="0.66"/><circle cx="648.1" cy="934.3" r="0.99"/><circle cx="658.6" cy="965.2" r="0.84"/><circle cx="717.7" cy="973.2" r="0.94"/><circle cx="699.3" cy="960.3" r="0.65"/><circle cx="647.3" cy="968.1" r="1.03"/><circle cx="698.5" cy="974.2" r="0.79"/><circle cx="687.1" cy="955.4" r="0.74"/><circle cx="677.2" cy="932.7" r="0.64"/><circle cx="723.1" cy="981.6" r="0.81"/><circle cx="645.9" cy="953.8" r="0.93"/><circle cx="660.9" cy="980.3" r="1.01"/><circle cx="723.0" cy="982.9" r="0.78"/><circle cx="661.1" cy="958.3" r="1.02"/><circle cx="675.8" cy="989.2" r="0.58"/><circle cx="719.3" cy="935.4" r="0.58"/><circle cx="700.5" cy="984.2" r="0.56"/><circle cx="640.1" cy="964.0" r="0.91"/><circle cx="636.8" cy="962.4" r="0.70"/><circle cx="674.5" cy="986.1" r="0.85"/><circle cx="668.1" cy="966.9" r="0.80"/><circle cx="729.4" cy="953.8" r="0.86"/><circle cx="706.9" cy="937.5" r="0.80"/><circle cx="677.6" cy="942.7" r="0.85"/><circle cx="658.4" cy="963.0" r="0.80"/><circle cx="701.9" cy="998.3" r="0.61"/><circle cx="674.1" cy="967.1" r="0.82"/><circle cx="721.1" cy="988.5" r="0.56"/><circle cx="694.2" cy="938.4" r="1.03"/><circle cx="676.1" cy="979.6" r="0.88"/><circle cx="686.7" cy="1007.1" r="0.79"/><circle cx="680.8" cy="1000.4" r="0.66"/><circle cx="683.6" cy="977.2" r="0.67"/><circle cx="688.7" cy="982.3" r="0.76"/><circle cx="649.3" cy="975.0" r="0.83"/><circle cx="669.2" cy="928.6" r="0.79"/><circle cx="696.1" cy="948.8" r="0.69"/><circle cx="731.1" cy="966.8" r="0.99"/><circle cx="647.6" cy="987.7" r="0.83"/><circle cx="726.8" cy="943.9" r="0.72"/><circle cx="679.2" cy="994.1" r="1.03"/><circle cx="656.2" cy="969.1" r="0.56"/><circle cx="649.9" cy="994.3" r="0.76"/><circle cx="697.7" cy="919.1" r="1.02"/><circle cx="681.2" cy="929.2" r="0.70"/><circle cx="725.5" cy="947.3" r="0.92"/><circle cx="721.6" cy="976.8" r="0.89"/><circle cx="703.3" cy="984.1" r="0.78"/><circle cx="684.5" cy="979.2" r="0.63"/><circle cx="679.5" cy="964.8" r="0.95"/><circle cx="662.7" cy="976.1" r="0.68"/><circle cx="669.7" cy="997.7" r="0.91"/><circle cx="647.7" cy="980.8" r="0.84"/><circle cx="700.5" cy="924.8" r="0.93"/><circle cx="713.4" cy="967.7" r="0.61"/><circle cx="694.4" cy="946.1" r="1.01"/><circle cx="674.5" cy="979.1" r="0.90"/><circle cx="696.5" cy="990.2" r="0.77"/><circle cx="661.6" cy="937.3" r="0.88"/><circle cx="697.5" cy="917.2" r="0.86"/><circle cx="654.3" cy="978.6" r="0.72"/><circle cx="703.0" cy="932.2" r="0.90"/><circle cx="702.0" cy="926.5" r="0.99"/><circle cx="646.0" cy="974.9" r="0.99"/><circle cx="641.0" cy="966.7" r="0.69"/><circle cx="709.1" cy="1001.1" r="0.83"/><circle cx="721.4" cy="954.4" r="0.68"/><circle cx="718.2" cy="995.2" r="0.68"/><circle cx="702.8" cy="993.7" r="0.91"/><circle cx="675.4" cy="958.5" r="0.94"/><circle cx="672.4" cy="938.6" r="1.01"/><circle cx="642.3" cy="964.7" r="0.60"/><circle cx="670.0" cy="1002.9" r="0.89"/><circle cx="672.8" cy="924.7" r="0.56"/><circle cx="691.0" cy="955.5" r="0.67"/><circle cx="673.7" cy="995.8" r="0.60"/><circle cx="668.5" cy="971.2" r="0.72"/><circle cx="675.8" cy="976.9" r="0.95"/><circle cx="706.3" cy="967.5" r="1.00"/><circle cx="645.8" cy="989.8" r="0.70"/><circle cx="649.9" cy="959.1" r="0.75"/><circle cx="715.6" cy="961.3" r="0.95"/><circle cx="656.2" cy="962.0" r="0.97"/><circle cx="690.3" cy="960.5" r="0.85"/><circle cx="685.8" cy="928.7" r="0.75"/><circle cx="681.2" cy="944.4" r="0.79"/><circle cx="698.8" cy="1006.3" r="0.94"/><circle cx="650.6" cy="989.4" r="0.82"/><circle cx="671.5" cy="943.7" r="0.94"/><circle cx="656.1" cy="924.2" r="0.68"/><circle cx="649.8" cy="988.0" r="0.68"/><circle cx="689.2" cy="918.7" r="0.63"/><circle cx="681.3" cy="937.4" r="0.69"/><circle cx="659.2" cy="997.7" r="0.87"/><circle cx="655.0" cy="990.1" r="0.96"/><circle cx="699.9" cy="1005.9" r="0.81"/><circle cx="655.2" cy="929.3" r="0.66"/><circle cx="644.8" cy="971.5" r="0.56"/><circle cx="657.1" cy="985.9" r="0.77"/><circle cx="640.5" cy="962.0" r="0.61"/><circle cx="680.1" cy="937.9" r="0.59"/><circle cx="667.9" cy="967.4" r="0.78"/><circle cx="700.8" cy="991.6" r="0.62"/><circle cx="707.1" cy="962.8" r="0.77"/><circle cx="653.2" cy="939.0" r="0.61"/><circle cx="702.0" cy="939.1" r="0.59"/><circle cx="650.2" cy="979.6" r="0.73"/><circle cx="681.2" cy="936.4" r="0.96"/><circle cx="725.0" cy="945.3" r="0.58"/><circle cx="653.9" cy="980.4" r="0.74"/><circle cx="699.6" cy="997.6" r="0.61"/><circle cx="700.5" cy="990.6" r="1.05"/><circle cx="649.4" cy="995.2" r="0.89"/><circle cx="656.8" cy="926.3" r="0.84"/><circle cx="682.6" cy="930.0" r="0.95"/><circle cx="686.0" cy="962.2" r="1.02"/><circle cx="723.0" cy="971.1" r="0.59"/><circle cx="686.1" cy="931.4" r="0.62"/><circle cx="698.2" cy="943.1" r="1.00"/><circle cx="657.8" cy="987.5" r="0.77"/><circle cx="687.0" cy="934.4" r="0.81"/><circle cx="688.4" cy="991.3" r="0.61"/><circle cx="683.1" cy="988.9" r="0.89"/><circle cx="696.5" cy="978.4" r="1.04"/><circle cx="676.0" cy="952.2" r="0.98"/><circle cx="687.1" cy="925.4" r="1.03"/><circle cx="667.2" cy="959.5" r="0.56"/><circle cx="712.8" cy="981.1" r="0.83"/><circle cx="691.4" cy="952.1" r="0.59"/><circle cx="709.1" cy="979.9" r="1.02"/><circle cx="686.8" cy="953.3" r="0.85"/><circle cx="694.6" cy="984.2" r="0.71"/><circle cx="685.5" cy="989.7" r="0.66"/><circle cx="664.1" cy="994.3" r="0.83"/><circle cx="681.5" cy="937.8" r="0.56"/><circle cx="660.4" cy="951.4" r="0.65"/><circle cx="645.1" cy="988.9" r="0.85"/><circle cx="682.8" cy="953.3" r="0.82"/><circle cx="670.9" cy="920.3" r="0.93"/><circle cx="730.8" cy="978.4" r="0.56"/><circle cx="689.1" cy="930.2" r="1.01"/><circle cx="724.6" cy="949.6" r="0.59"/><circle cx="674.8" cy="950.0" r="0.76"/><circle cx="703.2" cy="982.7" r="0.58"/><circle cx="670.6" cy="959.7" r="0.67"/><circle cx="689.4" cy="937.4" r="0.84"/><circle cx="710.6" cy="934.2" r="0.96"/><circle cx="706.8" cy="953.4" r="0.64"/><circle cx="731.4" cy="961.6" r="0.71"/><circle cx="697.7" cy="956.9" r="0.66"/><circle cx="695.2" cy="951.4" r="0.98"/><circle cx="692.1" cy="1005.3" r="0.61"/><circle cx="648.1" cy="963.1" r="0.83"/><circle cx="690.8" cy="956.4" r="0.90"/><circle cx="706.0" cy="935.2" r="0.67"/><circle cx="694.2" cy="932.8" r="0.68"/><circle cx="691.0" cy="921.3" r="0.96"/><circle cx="678.9" cy="963.5" r="0.56"/><circle cx="676.1" cy="960.3" r="0.86"/><circle cx="713.6" cy="995.1" r="0.56"/><circle cx="676.5" cy="942.0" r="1.05"/><circle cx="650.4" cy="968.9" r="0.97"/><circle cx="674.9" cy="1010.1" r="0.70"/><circle cx="709.9" cy="969.2" r="0.73"/><circle cx="674.6" cy="956.1" r="1.00"/><circle cx="692.2" cy="922.0" r="1.04"/><circle cx="723.0" cy="976.3" r="0.98"/><circle cx="698.5" cy="991.4" r="0.65"/><circle cx="714.7" cy="948.3" r="0.97"/><circle cx="684.4" cy="1001.0" r="0.92"/><circle cx="671.2" cy="984.4" r="0.59"/><circle cx="663.4" cy="940.8" r="0.65"/><circle cx="673.2" cy="988.1" r="0.61"/><circle cx="669.0" cy="952.8" r="0.66"/><circle cx="653.9" cy="1000.3" r="0.90"/><circle cx="695.3" cy="1006.7" r="1.02"/><circle cx="664.0" cy="1001.3" r="0.86"/><circle cx="641.3" cy="947.9" r="0.89"/><circle cx="656.8" cy="925.6" r="0.78"/><circle cx="688.2" cy="965.9" r="0.91"/><circle cx="640.2" cy="971.9" r="1.04"/><circle cx="684.2" cy="985.0" r="0.84"/><circle cx="700.2" cy="965.4" r="0.59"/><circle cx="675.4" cy="994.2" r="0.65"/><circle cx="668.7" cy="924.2" r="0.97"/><circle cx="644.5" cy="951.2" r="0.95"/><circle cx="681.2" cy="936.2" r="0.84"/><circle cx="695.8" cy="941.8" r="0.73"/><circle cx="722.5" cy="965.9" r="0.61"/><circle cx="665.1" cy="970.4" r="0.61"/><circle cx="706.2" cy="945.2" r="1.03"/><circle cx="682.1" cy="926.2" r="0.79"/><circle cx="659.0" cy="928.0" r="0.65"/><circle cx="660.5" cy="956.9" r="0.64"/><circle cx="693.4" cy="1005.6" r="1.02"/><circle cx="666.4" cy="971.6" r="0.64"/><circle cx="674.6" cy="991.1" r="0.99"/><circle cx="651.3" cy="957.8" r="0.86"/><circle cx="698.0" cy="989.8" r="0.77"/><circle cx="709.5" cy="974.0" r="0.84"/><circle cx="664.9" cy="948.2" r="0.59"/><circle cx="667.6" cy="955.1" r="0.55"/><circle cx="725.4" cy="953.9" r="1.02"/><circle cx="667.1" cy="1002.1" r="0.98"/><circle cx="678.7" cy="956.9" r="0.69"/><circle cx="662.2" cy="986.1" r="0.84"/><circle cx="693.9" cy="984.3" r="0.56"/><circle cx="671.3" cy="972.9" r="0.67"/><circle cx="729.2" cy="968.5" r="0.66"/><circle cx="648.0" cy="961.5" r="0.57"/><circle cx="643.2" cy="950.9" r="0.67"/><circle cx="656.8" cy="933.0" r="0.83"/><circle cx="663.2" cy="990.4" r="0.88"/><circle cx="646.4" cy="979.3" r="0.92"/><circle cx="685.2" cy="931.3" r="0.62"/><circle cx="697.1" cy="986.8" r="0.83"/><circle cx="710.1" cy="973.2" r="0.62"/><circle cx="663.6" cy="958.5" r="0.96"/><circle cx="711.7" cy="974.5" r="0.92"/><circle cx="700.2" cy="937.0" r="1.02"/><circle cx="711.2" cy="938.1" r="0.72"/><circle cx="699.1" cy="1001.1" r="0.58"/><circle cx="671.1" cy="944.5" r="0.64"/><circle cx="662.2" cy="943.1" r="0.58"/><circle cx="710.6" cy="998.0" r="0.74"/><circle cx="692.0" cy="925.8" r="0.55"/><circle cx="664.3" cy="994.8" r="0.67"/><circle cx="717.6" cy="999.3" r="0.71"/><circle cx="667.4" cy="936.2" r="1.04"/><circle cx="686.1" cy="971.8" r="0.87"/><circle cx="669.5" cy="921.6" r="0.61"/><circle cx="699.8" cy="993.3" r="0.69"/><circle cx="697.5" cy="976.5" r="0.57"/><circle cx="668.9" cy="971.1" r="0.56"/><circle cx="718.6" cy="986.2" r="0.87"/><circle cx="660.5" cy="999.4" r="0.57"/><circle cx="644.1" cy="986.4" r="0.58"/><circle cx="704.8" cy="990.4" r="0.73"/><circle cx="725.4" cy="981.7" r="0.95"/><circle cx="658.0" cy="947.1" r="0.83"/><circle cx="648.2" cy="963.3" r="0.71"/><circle cx="698.8" cy="931.1" r="0.67"/><circle cx="648.0" cy="941.5" r="0.80"/><circle cx="668.7" cy="995.3" r="0.90"/><circle cx="703.7" cy="1005.0" r="0.75"/><circle cx="654.3" cy="980.4" r="0.93"/><circle cx="694.8" cy="981.6" r="0.79"/><circle cx="716.8" cy="966.5" r="0.61"/><circle cx="694.2" cy="991.2" r="1.00"/><circle cx="665.3" cy="946.7" r="0.87"/><circle cx="682.7" cy="963.2" r="0.77"/><circle cx="672.0" cy="921.6" r="1.03"/><circle cx="719.5" cy="967.0" r="0.74"/><circle cx="643.5" cy="978.2" r="0.77"/><circle cx="644.1" cy="952.0" r="0.98"/><circle cx="654.4" cy="945.6" r="0.60"/><circle cx="669.8" cy="978.2" r="0.94"/><circle cx="676.4" cy="947.5" r="0.84"/><circle cx="716.4" cy="931.5" r="0.74"/><circle cx="661.3" cy="989.6" r="0.76"/><circle cx="729.2" cy="956.1" r="1.00"/><circle cx="700.7" cy="963.3" r="1.02"/><circle cx="668.9" cy="982.3" r="0.85"/><circle cx="667.0" cy="976.5" r="1.04"/><circle cx="690.7" cy="976.2" r="0.75"/><circle cx="704.7" cy="924.4" r="0.78"/><circle cx="670.0" cy="973.6" r="0.95"/><circle cx="686.0" cy="940.6" r="0.88"/><circle cx="707.7" cy="945.1" r="0.67"/><circle cx="683.6" cy="925.0" r="0.75"/><circle cx="712.5" cy="964.1" r="0.90"/><circle cx="697.9" cy="994.4" r="0.94"/><circle cx="675.0" cy="977.4" r="0.89"/><circle cx="669.9" cy="928.5" r="1.00"/><circle cx="660.9" cy="988.4" r="0.78"/><circle cx="702.1" cy="941.3" r="0.67"/><circle cx="655.1" cy="995.8" r="0.92"/><circle cx="701.8" cy="1003.9" r="1.04"/><circle cx="662.5" cy="1000.2" r="0.90"/><circle cx="667.5" cy="947.7" r="0.55"/><circle cx="703.8" cy="942.7" r="0.96"/><circle cx="712.3" cy="927.6" r="0.92"/><circle cx="678.3" cy="919.8" r="1.02"/></g>
<g fill="#9020e8" opacity="0.7"><circle cx="724.8" cy="941.2" r="0.71"/><circle cx="697.8" cy="956.3" r="0.64"/><circle cx="709.0" cy="936.6" r="1.03"/><circle cx="678.8" cy="974.2" r="0.62"/><circle cx="717.4" cy="934.0" r="0.76"/><circle cx="679.6" cy="955.7" r="1.02"/><circle cx="680.4" cy="984.5" r="0.79"/><circle cx="651.3" cy="967.9" r="0.91"/><circle cx="702.3" cy="1003.0" r="0.71"/><circle cx="647.8" cy="990.5" r="0.92"/><circle cx="679.0" cy="920.4" r="0.76"/><circle cx="664.8" cy="992.1" r="0.97"/><circle cx="703.6" cy="999.5" r="0.79"/><circle cx="723.4" cy="949.3" r="1.01"/><circle cx="656.7" cy="980.4" r="0.67"/><circle cx="692.1" cy="989.5" r="0.66"/><circle cx="659.1" cy="937.2" r="0.92"/><circle cx="685.1" cy="915.4" r="0.81"/><circle cx="658.5" cy="939.8" r="0.79"/><circle cx="670.3" cy="986.1" r="0.72"/><circle cx="652.5" cy="961.5" r="0.82"/><circle cx="661.4" cy="921.1" r="0.84"/><circle cx="712.2" cy="961.8" r="0.85"/><circle cx="656.5" cy="947.2" r="0.78"/><circle cx="689.0" cy="1011.3" r="0.59"/><circle cx="696.6" cy="931.7" r="0.72"/><circle cx="668.3" cy="1007.6" r="0.72"/><circle cx="657.3" cy="948.5" r="0.88"/><circle cx="651.7" cy="950.8" r="0.60"/><circle cx="723.6" cy="969.8" r="0.55"/><circle cx="659.4" cy="960.3" r="0.92"/><circle cx="680.0" cy="972.9" r="0.63"/><circle cx="665.8" cy="997.4" r="0.90"/><circle cx="708.3" cy="922.0" r="0.83"/><circle cx="722.9" cy="974.7" r="0.73"/><circle cx="668.9" cy="950.7" r="0.75"/><circle cx="686.4" cy="1003.3" r="1.02"/><circle cx="661.6" cy="988.8" r="0.87"/><circle cx="687.5" cy="934.3" r="0.68"/><circle cx="669.6" cy="941.0" r="0.80"/><circle cx="660.0" cy="937.0" r="1.04"/><circle cx="671.8" cy="981.6" r="0.75"/><circle cx="720.9" cy="936.3" r="0.58"/><circle cx="695.8" cy="984.2" r="0.94"/><circle cx="677.8" cy="944.8" r="0.95"/><circle cx="713.9" cy="930.4" r="0.72"/><circle cx="695.3" cy="940.8" r="1.02"/><circle cx="704.2" cy="986.9" r="0.70"/><circle cx="703.2" cy="924.9" r="0.82"/><circle cx="659.4" cy="957.2" r="0.84"/><circle cx="724.4" cy="975.4" r="1.03"/><circle cx="653.0" cy="972.2" r="0.84"/><circle cx="650.9" cy="995.5" r="0.66"/><circle cx="644.6" cy="966.5" r="0.92"/><circle cx="679.0" cy="979.2" r="0.89"/><circle cx="716.0" cy="994.6" r="0.56"/><circle cx="717.0" cy="933.4" r="0.80"/><circle cx="718.0" cy="936.0" r="0.89"/><circle cx="684.0" cy="977.8" r="0.61"/><circle cx="717.8" cy="985.9" r="0.90"/><circle cx="713.2" cy="953.2" r="0.73"/><circle cx="712.6" cy="930.1" r="1.04"/><circle cx="732.3" cy="966.1" r="0.76"/><circle cx="691.5" cy="942.1" r="0.82"/><circle cx="685.5" cy="922.1" r="0.90"/><circle cx="724.3" cy="987.9" r="0.58"/><circle cx="700.4" cy="930.2" r="0.86"/><circle cx="692.4" cy="1005.8" r="0.93"/><circle cx="685.2" cy="1010.2" r="0.76"/><circle cx="699.8" cy="945.2" r="0.74"/><circle cx="687.0" cy="972.0" r="0.62"/><circle cx="704.9" cy="992.0" r="0.79"/><circle cx="721.5" cy="992.0" r="0.87"/><circle cx="659.6" cy="960.4" r="0.76"/><circle cx="711.7" cy="946.4" r="0.80"/><circle cx="712.0" cy="948.9" r="0.98"/><circle cx="722.1" cy="980.3" r="0.61"/><circle cx="682.8" cy="977.4" r="0.99"/><circle cx="718.8" cy="936.4" r="0.80"/><circle cx="711.7" cy="985.9" r="1.00"/><circle cx="684.5" cy="961.3" r="1.04"/><circle cx="720.2" cy="951.5" r="0.56"/><circle cx="676.1" cy="925.9" r="0.55"/><circle cx="678.9" cy="965.5" r="0.58"/><circle cx="666.5" cy="925.0" r="0.71"/><circle cx="699.0" cy="984.5" r="0.66"/><circle cx="661.1" cy="954.5" r="1.01"/><circle cx="708.1" cy="965.6" r="0.86"/><circle cx="671.7" cy="967.8" r="0.74"/><circle cx="676.5" cy="1005.9" r="0.67"/><circle cx="659.4" cy="932.6" r="0.76"/><circle cx="719.0" cy="973.3" r="0.60"/><circle cx="687.7" cy="1010.0" r="0.64"/><circle cx="703.6" cy="958.2" r="0.57"/><circle cx="728.6" cy="972.0" r="1.00"/><circle cx="680.9" cy="991.6" r="0.72"/><circle cx="667.0" cy="943.4" r="0.78"/><circle cx="670.2" cy="942.5" r="0.62"/><circle cx="662.6" cy="931.1" r="0.55"/><circle cx="644.1" cy="981.6" r="0.85"/><circle cx="663.2" cy="920.5" r="0.65"/><circle cx="670.1" cy="974.7" r="1.00"/><circle cx="646.0" cy="939.9" r="0.88"/><circle cx="663.0" cy="997.9" r="0.69"/><circle cx="646.4" cy="962.3" r="0.94"/><circle cx="686.1" cy="1005.5" r="0.82"/><circle cx="674.5" cy="952.5" r="0.81"/><circle cx="717.1" cy="984.5" r="0.95"/><circle cx="661.1" cy="984.7" r="0.86"/><circle cx="640.1" cy="945.9" r="0.97"/><circle cx="673.6" cy="936.9" r="0.58"/><circle cx="674.7" cy="942.7" r="0.90"/><circle cx="659.0" cy="926.4" r="0.58"/><circle cx="656.7" cy="966.5" r="0.72"/><circle cx="682.8" cy="1007.6" r="0.78"/><circle cx="669.1" cy="958.1" r="0.83"/><circle cx="673.4" cy="950.6" r="0.72"/><circle cx="681.2" cy="999.2" r="0.59"/><circle cx="715.0" cy="960.1" r="1.01"/><circle cx="726.0" cy="972.3" r="1.00"/><circle cx="657.3" cy="974.3" r="0.86"/><circle cx="676.6" cy="986.0" r="1.01"/><circle cx="663.6" cy="936.4" r="0.78"/><circle cx="696.7" cy="923.2" r="0.69"/><circle cx="673.0" cy="992.1" r="0.58"/><circle cx="670.5" cy="971.3" r="0.88"/><circle cx="671.1" cy="987.4" r="0.66"/><circle cx="684.8" cy="986.6" r="0.99"/><circle cx="650.4" cy="973.4" r="0.71"/><circle cx="720.9" cy="952.4" r="0.64"/><circle cx="684.2" cy="961.9" r="1.05"/><circle cx="683.6" cy="940.9" r="0.76"/><circle cx="720.9" cy="940.3" r="0.94"/><circle cx="666.0" cy="952.9" r="0.88"/><circle cx="668.3" cy="954.4" r="0.58"/><circle cx="639.0" cy="955.8" r="0.71"/><circle cx="674.7" cy="951.3" r="0.99"/><circle cx="705.2" cy="946.0" r="0.91"/><circle cx="682.9" cy="931.4" r="0.99"/><circle cx="709.9" cy="970.8" r="0.61"/><circle cx="704.3" cy="926.3" r="0.66"/><circle cx="666.2" cy="934.0" r="0.83"/><circle cx="653.2" cy="981.6" r="0.83"/><circle cx="672.5" cy="990.0" r="0.63"/><circle cx="655.0" cy="931.0" r="0.66"/><circle cx="659.1" cy="947.2" r="0.64"/><circle cx="693.5" cy="966.9" r="0.92"/><circle cx="702.1" cy="982.5" r="0.81"/><circle cx="696.9" cy="998.3" r="0.79"/><circle cx="691.6" cy="1002.8" r="0.87"/><circle cx="711.7" cy="954.7" r="0.94"/><circle cx="658.7" cy="937.6" r="0.57"/><circle cx="673.6" cy="993.1" r="0.57"/><circle cx="720.7" cy="989.0" r="0.61"/><circle cx="662.9" cy="954.5" r="0.81"/><circle cx="665.4" cy="979.1" r="0.78"/><circle cx="676.6" cy="1009.8" r="0.78"/><circle cx="714.1" cy="993.3" r="0.63"/><circle cx="683.3" cy="920.5" r="1.01"/><circle cx="643.2" cy="958.4" r="0.95"/><circle cx="699.9" cy="928.6" r="1.00"/><circle cx="683.9" cy="933.3" r="0.73"/><circle cx="709.9" cy="923.8" r="0.74"/><circle cx="723.3" cy="943.2" r="0.90"/><circle cx="671.4" cy="985.0" r="0.69"/><circle cx="672.0" cy="932.9" r="0.66"/><circle cx="711.4" cy="998.1" r="0.65"/><circle cx="701.8" cy="994.4" r="0.58"/><circle cx="666.8" cy="975.7" r="0.98"/><circle cx="652.7" cy="951.9" r="0.78"/><circle cx="729.2" cy="968.4" r="1.02"/><circle cx="721.4" cy="965.2" r="0.94"/><circle cx="712.1" cy="924.3" r="1.00"/><circle cx="698.9" cy="951.0" r="1.05"/><circle cx="723.7" cy="959.6" r="0.99"/><circle cx="682.7" cy="995.2" r="0.60"/><circle cx="637.3" cy="971.9" r="0.90"/><circle cx="658.5" cy="970.1" r="0.66"/><circle cx="661.3" cy="974.4" r="0.79"/><circle cx="657.0" cy="949.9" r="0.85"/><circle cx="655.5" cy="981.0" r="0.79"/><circle cx="710.2" cy="924.9" r="0.84"/><circle cx="686.3" cy="936.6" r="0.63"/><circle cx="677.7" cy="980.0" r="0.93"/><circle cx="718.6" cy="943.8" r="0.66"/><circle cx="714.0" cy="994.6" r="0.84"/><circle cx="714.5" cy="1001.7" r="0.93"/><circle cx="731.8" cy="952.1" r="0.94"/><circle cx="727.5" cy="943.0" r="0.63"/><circle cx="664.6" cy="992.5" r="0.87"/><circle cx="699.6" cy="983.9" r="0.94"/><circle cx="717.7" cy="956.3" r="1.02"/><circle cx="717.5" cy="930.7" r="0.64"/><circle cx="655.3" cy="989.6" r="0.96"/><circle cx="693.2" cy="948.6" r="0.89"/><circle cx="711.6" cy="967.6" r="0.58"/><circle cx="667.7" cy="962.1" r="0.88"/><circle cx="648.3" cy="987.2" r="0.71"/><circle cx="701.6" cy="962.3" r="0.59"/><circle cx="650.4" cy="963.3" r="0.97"/><circle cx="705.3" cy="966.7" r="0.67"/><circle cx="644.6" cy="981.0" r="0.88"/><circle cx="687.4" cy="993.5" r="0.93"/><circle cx="669.9" cy="957.8" r="0.73"/><circle cx="717.3" cy="968.3" r="0.67"/><circle cx="675.9" cy="990.2" r="0.98"/><circle cx="697.5" cy="970.6" r="0.62"/><circle cx="656.1" cy="977.3" r="1.02"/><circle cx="681.2" cy="938.4" r="0.62"/><circle cx="642.6" cy="950.1" r="0.66"/><circle cx="687.7" cy="934.1" r="1.03"/><circle cx="704.4" cy="957.7" r="0.95"/><circle cx="659.4" cy="947.0" r="0.81"/><circle cx="712.8" cy="944.4" r="0.83"/><circle cx="677.3" cy="963.6" r="0.93"/><circle cx="721.4" cy="991.5" r="0.55"/><circle cx="662.5" cy="953.2" r="0.89"/><circle cx="655.3" cy="933.5" r="0.96"/><circle cx="701.4" cy="962.0" r="0.66"/><circle cx="638.3" cy="967.8" r="0.75"/><circle cx="694.2" cy="997.2" r="0.71"/><circle cx="723.4" cy="984.0" r="0.78"/><circle cx="693.5" cy="950.2" r="0.72"/><circle cx="718.0" cy="993.3" r="0.77"/><circle cx="676.3" cy="956.5" r="0.77"/><circle cx="653.8" cy="989.7" r="0.67"/><circle cx="712.6" cy="960.6" r="0.81"/><circle cx="656.9" cy="968.5" r="0.58"/><circle cx="730.0" cy="974.6" r="1.04"/><circle cx="671.5" cy="951.6" r="0.65"/><circle cx="681.1" cy="971.4" r="0.72"/><circle cx="679.3" cy="990.5" r="0.97"/><circle cx="639.6" cy="945.8" r="0.70"/><circle cx="723.3" cy="981.4" r="0.91"/><circle cx="697.0" cy="936.3" r="0.96"/><circle cx="718.4" cy="987.5" r="0.90"/><circle cx="650.0" cy="948.0" r="0.78"/><circle cx="654.6" cy="977.6" r="0.85"/><circle cx="700.9" cy="940.1" r="0.83"/><circle cx="669.4" cy="976.1" r="0.90"/><circle cx="730.4" cy="965.1" r="0.57"/><circle cx="705.3" cy="1000.0" r="0.77"/><circle cx="674.6" cy="995.6" r="1.02"/><circle cx="667.2" cy="940.1" r="1.02"/><circle cx="685.4" cy="978.2" r="0.92"/><circle cx="699.0" cy="922.3" r="0.75"/><circle cx="675.6" cy="943.0" r="0.68"/><circle cx="726.8" cy="947.4" r="1.02"/><circle cx="646.1" cy="950.1" r="0.73"/><circle cx="647.5" cy="991.5" r="0.92"/><circle cx="702.5" cy="956.3" r="0.76"/><circle cx="725.6" cy="940.1" r="0.96"/><circle cx="703.7" cy="946.9" r="0.91"/><circle cx="710.8" cy="983.5" r="0.56"/><circle cx="665.4" cy="972.1" r="0.75"/><circle cx="665.8" cy="928.2" r="0.99"/><circle cx="709.5" cy="952.4" r="0.72"/><circle cx="663.5" cy="975.2" r="0.97"/><circle cx="695.5" cy="925.1" r="0.87"/><circle cx="678.0" cy="988.0" r="0.93"/><circle cx="725.4" cy="989.8" r="0.62"/><circle cx="695.9" cy="1004.2" r="1.01"/><circle cx="711.1" cy="1002.4" r="0.80"/><circle cx="710.3" cy="988.7" r="0.67"/><circle cx="661.8" cy="932.5" r="0.97"/><circle cx="724.5" cy="941.6" r="0.89"/><circle cx="679.1" cy="918.4" r="0.97"/><circle cx="637.8" cy="964.6" r="1.03"/><circle cx="692.2" cy="984.4" r="0.86"/><circle cx="654.6" cy="954.4" r="0.80"/><circle cx="693.1" cy="993.6" r="0.85"/><circle cx="685.6" cy="922.5" r="0.60"/><circle cx="693.3" cy="996.0" r="0.94"/><circle cx="678.1" cy="1004.5" r="0.66"/><circle cx="670.2" cy="1005.6" r="0.65"/><circle cx="704.4" cy="933.0" r="0.56"/><circle cx="649.8" cy="970.0" r="0.61"/><circle cx="661.3" cy="987.6" r="0.79"/><circle cx="711.5" cy="949.0" r="1.00"/><circle cx="673.8" cy="1003.8" r="0.63"/><circle cx="648.6" cy="942.2" r="0.96"/><circle cx="724.6" cy="976.7" r="0.63"/><circle cx="711.1" cy="957.6" r="0.98"/><circle cx="709.6" cy="1004.8" r="0.82"/><circle cx="693.4" cy="1009.0" r="0.95"/><circle cx="679.7" cy="931.9" r="0.67"/><circle cx="655.6" cy="929.5" r="0.92"/><circle cx="681.9" cy="951.5" r="0.78"/><circle cx="675.9" cy="997.7" r="0.88"/><circle cx="682.8" cy="961.8" r="0.70"/><circle cx="678.0" cy="994.1" r="0.69"/><circle cx="693.1" cy="984.7" r="0.80"/><circle cx="701.6" cy="948.0" r="1.03"/><circle cx="661.2" cy="923.9" r="0.99"/><circle cx="685.8" cy="916.8" r="0.65"/><circle cx="665.1" cy="941.9" r="0.63"/><circle cx="678.8" cy="1001.9" r="0.62"/><circle cx="720.4" cy="990.5" r="0.96"/><circle cx="706.2" cy="967.5" r="0.55"/><circle cx="637.7" cy="953.5" r="0.63"/><circle cx="656.4" cy="948.2" r="0.91"/><circle cx="649.7" cy="941.2" r="0.60"/><circle cx="727.5" cy="957.3" r="0.60"/><circle cx="728.6" cy="966.1" r="0.94"/><circle cx="650.7" cy="995.3" r="0.87"/><circle cx="675.1" cy="962.5" r="0.79"/><circle cx="661.6" cy="985.4" r="0.72"/><circle cx="702.1" cy="939.3" r="0.60"/><circle cx="684.6" cy="1007.7" r="0.81"/><circle cx="658.0" cy="1000.0" r="1.04"/><circle cx="669.2" cy="972.3" r="0.71"/><circle cx="719.5" cy="992.7" r="0.91"/><circle cx="667.9" cy="998.6" r="0.97"/><circle cx="705.1" cy="962.6" r="0.78"/><circle cx="665.4" cy="937.5" r="0.81"/><circle cx="654.9" cy="971.6" r="0.84"/><circle cx="664.0" cy="979.5" r="0.76"/><circle cx="688.6" cy="944.5" r="0.79"/><circle cx="690.1" cy="1009.8" r="0.55"/><circle cx="657.3" cy="1002.2" r="0.91"/><circle cx="688.6" cy="1004.8" r="0.80"/><circle cx="697.9" cy="972.0" r="0.57"/><circle cx="678.1" cy="993.7" r="1.04"/><circle cx="712.6" cy="940.2" r="0.88"/><circle cx="653.1" cy="933.2" r="0.74"/><circle cx="671.5" cy="945.1" r="0.66"/><circle cx="681.6" cy="994.0" r="0.70"/><circle cx="677.0" cy="957.7" r="0.71"/><circle cx="650.7" cy="936.8" r="0.94"/><circle cx="650.1" cy="979.5" r="0.56"/><circle cx="720.2" cy="945.2" r="0.95"/><circle cx="709.4" cy="982.7" r="0.70"/><circle cx="708.2" cy="927.9" r="0.63"/><circle cx="706.5" cy="959.0" r="0.62"/><circle cx="655.0" cy="951.3" r="1.03"/><circle cx="729.2" cy="976.6" r="0.91"/><circle cx="677.1" cy="980.5" r="0.90"/><circle cx="710.7" cy="968.4" r="0.59"/><circle cx="656.7" cy="1002.7" r="0.97"/><circle cx="647.8" cy="951.1" r="0.87"/><circle cx="694.7" cy="920.1" r="1.03"/><circle cx="711.7" cy="953.7" r="1.02"/><circle cx="684.8" cy="979.7" r="0.88"/><circle cx="728.4" cy="976.6" r="1.04"/><circle cx="692.8" cy="939.9" r="0.81"/><circle cx="715.5" cy="974.1" r="0.96"/><circle cx="691.3" cy="981.5" r="0.73"/><circle cx="668.2" cy="985.9" r="0.71"/><circle cx="720.0" cy="980.1" r="0.80"/><circle cx="663.7" cy="945.4" r="1.00"/><circle cx="690.4" cy="927.5" r="0.74"/><circle cx="704.2" cy="937.6" r="0.76"/><circle cx="674.3" cy="958.5" r="0.80"/><circle cx="725.3" cy="986.6" r="0.95"/><circle cx="701.0" cy="978.8" r="0.88"/><circle cx="655.1" cy="955.0" r="0.75"/><circle cx="689.7" cy="994.0" r="0.58"/><circle cx="706.4" cy="972.9" r="0.56"/><circle cx="686.5" cy="984.9" r="0.73"/><circle cx="644.5" cy="936.7" r="0.90"/><circle cx="700.4" cy="930.4" r="0.93"/><circle cx="681.9" cy="960.0" r="0.73"/><circle cx="712.3" cy="992.8" r="0.73"/><circle cx="667.4" cy="971.0" r="1.03"/><circle cx="681.8" cy="981.2" r="0.74"/><circle cx="676.2" cy="982.6" r="0.90"/><circle cx="680.2" cy="965.5" r="1.02"/><circle cx="717.6" cy="994.6" r="1.04"/><circle cx="644.2" cy="951.0" r="0.55"/><circle cx="698.0" cy="1004.5" r="0.90"/><circle cx="703.2" cy="980.5" r="0.59"/><circle cx="695.0" cy="925.7" r="0.72"/><circle cx="653.4" cy="949.5" r="0.68"/><circle cx="680.7" cy="962.3" r="0.91"/><circle cx="703.9" cy="958.1" r="0.77"/><circle cx="651.4" cy="941.0" r="0.94"/><circle cx="664.8" cy="1000.3" r="0.73"/><circle cx="691.1" cy="929.2" r="0.84"/><circle cx="701.0" cy="950.7" r="0.80"/><circle cx="678.0" cy="973.2" r="0.94"/><circle cx="691.4" cy="982.0" r="0.62"/><circle cx="692.2" cy="923.2" r="0.71"/><circle cx="655.9" cy="965.4" r="0.80"/><circle cx="710.2" cy="969.5" r="1.03"/><circle cx="667.6" cy="1000.1" r="0.86"/><circle cx="647.5" cy="971.6" r="0.90"/><circle cx="646.6" cy="943.6" r="0.70"/><circle cx="689.1" cy="996.0" r="0.94"/><circle cx="681.3" cy="963.4" r="0.78"/><circle cx="700.6" cy="951.1" r="0.84"/><circle cx="677.1" cy="998.2" r="0.93"/><circle cx="675.3" cy="981.1" r="0.77"/><circle cx="692.8" cy="962.5" r="0.70"/><circle cx="691.6" cy="996.0" r="0.94"/><circle cx="650.4" cy="949.3" r="0.66"/><circle cx="643.7" cy="954.8" r="0.72"/><circle cx="732.4" cy="969.1" r="0.80"/><circle cx="722.0" cy="955.2" r="0.72"/><circle cx="705.5" cy="1005.5" r="0.93"/><circle cx="679.1" cy="960.3" r="0.70"/><circle cx="671.9" cy="970.2" r="0.79"/><circle cx="663.3" cy="967.4" r="0.81"/><circle cx="728.2" cy="949.7" r="0.96"/><circle cx="677.1" cy="985.4" r="0.79"/><circle cx="705.3" cy="954.2" r="0.59"/><circle cx="688.0" cy="959.1" r="0.81"/><circle cx="721.5" cy="959.5" r="0.55"/><circle cx="671.0" cy="1003.0" r="0.89"/><circle cx="713.3" cy="980.2" r="0.79"/><circle cx="693.9" cy="978.4" r="0.71"/><circle cx="646.6" cy="991.3" r="0.71"/><circle cx="690.3" cy="958.9" r="0.78"/><circle cx="691.9" cy="972.9" r="0.70"/><circle cx="672.1" cy="927.7" r="0.69"/><circle cx="679.2" cy="922.9" r="0.98"/><circle cx="679.6" cy="949.7" r="0.94"/><circle cx="728.6" cy="950.5" r="0.88"/><circle cx="716.7" cy="995.5" r="0.80"/><circle cx="678.6" cy="917.0" r="0.66"/><circle cx="731.4" cy="970.3" r="1.00"/><circle cx="713.1" cy="980.2" r="0.98"/><circle cx="658.5" cy="940.2" r="1.05"/><circle cx="714.0" cy="968.7" r="0.63"/><circle cx="721.0" cy="954.5" r="0.68"/><circle cx="716.4" cy="929.1" r="0.79"/><circle cx="706.4" cy="956.5" r="0.90"/><circle cx="708.2" cy="962.3" r="0.90"/><circle cx="706.4" cy="923.5" r="0.68"/><circle cx="672.7" cy="974.2" r="0.80"/><circle cx="702.0" cy="943.1" r="0.99"/><circle cx="681.7" cy="996.5" r="0.88"/><circle cx="702.7" cy="919.6" r="0.73"/><circle cx="652.1" cy="990.1" r="0.95"/><circle cx="691.1" cy="938.9" r="0.98"/><circle cx="688.2" cy="926.0" r="0.72"/><circle cx="682.8" cy="950.7" r="0.92"/><circle cx="648.0" cy="984.1" r="0.84"/><circle cx="667.7" cy="984.6" r="0.80"/><circle cx="701.2" cy="981.9" r="0.87"/><circle cx="700.6" cy="1007.2" r="0.81"/><circle cx="676.1" cy="981.7" r="0.69"/><circle cx="670.6" cy="974.2" r="0.70"/><circle cx="730.7" cy="952.6" r="1.01"/><circle cx="723.5" cy="950.4" r="1.03"/><circle cx="665.1" cy="939.3" r="0.63"/><circle cx="657.4" cy="924.3" r="1.02"/><circle cx="716.8" cy="958.0" r="0.89"/><circle cx="726.2" cy="963.3" r="0.98"/><circle cx="709.7" cy="936.8" r="0.99"/><circle cx="658.2" cy="998.5" r="0.77"/></g>
</g>
<g filter="url(#pb)">
<circle cx="692.3" cy="918.6" r="3.1" fill="#d048e4" opacity="0.5"/>
<circle cx="693.0" cy="917.2" r="1.5" fill="#f2cdf0"/>
<circle cx="691.4" cy="918.8" r="1.6" fill="#f2cdf0"/>
<circle cx="691.6" cy="917.4" r="1.6" fill="#f2cdf0"/>
<circle cx="693.9" cy="918.9" r="1.6" fill="#f2cdf0"/>
<circle cx="692.7" cy="919.0" r="1.6" fill="#f2cdf0"/>
<circle cx="705.6" cy="922.2" r="3.2" fill="#d048e4" opacity="0.5"/>
<circle cx="703.8" cy="921.8" r="1.3" fill="#f2cdf0"/>
<circle cx="705.0" cy="922.2" r="1.6" fill="#f2cdf0"/>
<circle cx="706.3" cy="921.3" r="1.6" fill="#f2cdf0"/>
<circle cx="706.6" cy="923.5" r="1.6" fill="#f2cdf0"/>
<circle cx="705.5" cy="921.7" r="1.3" fill="#f2cdf0"/>
<circle cx="702" cy="927.8" r="3.4" fill="#d048e4" opacity="0.5"/>
<circle cx="702.6" cy="926.8" r="1.7" fill="#f2cdf0"/>
<circle cx="700.7" cy="928.2" r="1.4" fill="#f2cdf0"/>
<circle cx="702.5" cy="929.4" r="1.6" fill="#f2cdf0"/>
<circle cx="701.6" cy="928.6" r="1.5" fill="#f2cdf0"/>
<circle cx="701.3" cy="927.7" r="1.5" fill="#f2cdf0"/>
<circle cx="700.4" cy="936" r="3.2" fill="#d048e4" opacity="0.5"/>
<circle cx="699.6" cy="936.7" r="1.2" fill="#f2cdf0"/>
<circle cx="701.1" cy="935.4" r="1.6" fill="#f2cdf0"/>
<circle cx="701.4" cy="935.6" r="1.4" fill="#f2cdf0"/>
<circle cx="699.6" cy="934.4" r="1.5" fill="#f2cdf0"/>
<circle cx="700.0" cy="935.5" r="1.4" fill="#f2cdf0"/>
<circle cx="686.6" cy="937" r="3.3" fill="#d048e4" opacity="0.5"/>
<circle cx="686.0" cy="936.2" r="1.6" fill="#f2cdf0"/>
<circle cx="687.0" cy="936.3" r="1.5" fill="#f2cdf0"/>
<circle cx="687.4" cy="937.6" r="1.5" fill="#f2cdf0"/>
<circle cx="687.0" cy="936.3" r="1.7" fill="#f2cdf0"/>
<circle cx="685.7" cy="935.6" r="1.3" fill="#f2cdf0"/>
<circle cx="661.6" cy="941.6" r="3.3" fill="#d048e4" opacity="0.5"/>
<circle cx="662.6" cy="942.8" r="1.6" fill="#f2cdf0"/>
<circle cx="661.8" cy="943.5" r="1.7" fill="#f2cdf0"/>
<circle cx="661.0" cy="942.1" r="1.7" fill="#f2cdf0"/>
<circle cx="660.7" cy="943.0" r="1.4" fill="#f2cdf0"/>
<circle cx="662.2" cy="940.8" r="1.6" fill="#f2cdf0"/>
<circle cx="680" cy="944.7" r="3.2" fill="#d048e4" opacity="0.5"/>
<circle cx="679.6" cy="944.3" r="1.4" fill="#f2cdf0"/>
<circle cx="679.2" cy="945.8" r="1.6" fill="#f2cdf0"/>
<circle cx="678.2" cy="944.8" r="1.3" fill="#f2cdf0"/>
<circle cx="679.9" cy="943.7" r="1.3" fill="#f2cdf0"/>
<circle cx="679.5" cy="945.6" r="1.4" fill="#f2cdf0"/>
<circle cx="686.1" cy="946.8" r="3.3" fill="#d048e4" opacity="0.5"/>
<circle cx="686.5" cy="945.2" r="1.5" fill="#f2cdf0"/>
<circle cx="686.3" cy="945.5" r="1.2" fill="#f2cdf0"/>
<circle cx="686.9" cy="945.3" r="1.6" fill="#f2cdf0"/>
<circle cx="684.3" cy="946.7" r="1.8" fill="#f2cdf0"/>
<circle cx="685.6" cy="946.5" r="1.5" fill="#f2cdf0"/>
<circle cx="717.8" cy="942.7" r="3.1" fill="#d048e4" opacity="0.5"/>
<circle cx="716.5" cy="943.0" r="1.3" fill="#f2cdf0"/>
<circle cx="718.9" cy="943.2" r="1.5" fill="#f2cdf0"/>
<circle cx="716.2" cy="942.4" r="1.7" fill="#f2cdf0"/>
<circle cx="718.8" cy="942.5" r="1.4" fill="#f2cdf0"/>
<circle cx="717.1" cy="942.3" r="1.6" fill="#f2cdf0"/>
<circle cx="708.6" cy="950.8" r="3.5" fill="#d048e4" opacity="0.5"/>
<circle cx="709.6" cy="950.6" r="1.6" fill="#f2cdf0"/>
<circle cx="708.0" cy="950.7" r="1.5" fill="#f2cdf0"/>
<circle cx="707.6" cy="949.3" r="1.4" fill="#f2cdf0"/>
<circle cx="708.0" cy="951.8" r="1.6" fill="#f2cdf0"/>
<circle cx="708.5" cy="951.5" r="1.5" fill="#f2cdf0"/>
<circle cx="659.5" cy="956" r="3.0" fill="#d048e4" opacity="0.5"/>
<circle cx="659.4" cy="956.6" r="1.5" fill="#f2cdf0"/>
<circle cx="658.8" cy="955.1" r="1.3" fill="#f2cdf0"/>
<circle cx="659.1" cy="955.1" r="1.5" fill="#f2cdf0"/>
<circle cx="660.0" cy="955.3" r="1.4" fill="#f2cdf0"/>
<circle cx="658.3" cy="957.4" r="1.2" fill="#f2cdf0"/>
<circle cx="672.8" cy="954.9" r="3.0" fill="#d048e4" opacity="0.5"/>
<circle cx="673.1" cy="956.7" r="1.4" fill="#f2cdf0"/>
<circle cx="672.7" cy="953.7" r="1.4" fill="#f2cdf0"/>
<circle cx="671.7" cy="955.4" r="1.4" fill="#f2cdf0"/>
<circle cx="673.3" cy="953.2" r="1.4" fill="#f2cdf0"/>
<circle cx="673.1" cy="954.3" r="1.2" fill="#f2cdf0"/>
<circle cx="671.8" cy="962.1" r="3.6" fill="#d048e4" opacity="0.5"/>
<circle cx="672.8" cy="962.6" r="1.5" fill="#f2cdf0"/>
<circle cx="670.9" cy="961.8" r="1.9" fill="#f2cdf0"/>
<circle cx="673.1" cy="963.1" r="2.0" fill="#f2cdf0"/>
<circle cx="670.5" cy="963.0" r="1.7" fill="#f2cdf0"/>
<circle cx="672.0" cy="963.3" r="1.4" fill="#f2cdf0"/>
<circle cx="681" cy="967.2" r="3.2" fill="#d048e4" opacity="0.5"/>
<circle cx="681.7" cy="967.5" r="1.7" fill="#f2cdf0"/>
<circle cx="679.3" cy="967.1" r="1.4" fill="#f2cdf0"/>
<circle cx="680.6" cy="968.3" r="1.4" fill="#f2cdf0"/>
<circle cx="681.5" cy="967.1" r="1.3" fill="#f2cdf0"/>
<circle cx="681.2" cy="968.4" r="1.4" fill="#f2cdf0"/>
<circle cx="643.2" cy="964.1" r="3.1" fill="#d048e4" opacity="0.5"/>
<circle cx="641.9" cy="963.0" r="1.4" fill="#f2cdf0"/>
<circle cx="642.6" cy="965.1" r="1.2" fill="#f2cdf0"/>
<circle cx="644.1" cy="964.3" r="1.3" fill="#f2cdf0"/>
<circle cx="643.4" cy="963.0" r="1.6" fill="#f2cdf0"/>
<circle cx="643.9" cy="964.7" r="1.2" fill="#f2cdf0"/>
<circle cx="651.9" cy="965.7" r="3.5" fill="#d048e4" opacity="0.5"/>
<circle cx="652.5" cy="966.8" r="1.6" fill="#f2cdf0"/>
<circle cx="651.8" cy="964.5" r="1.5" fill="#f2cdf0"/>
<circle cx="653.0" cy="965.3" r="1.4" fill="#f2cdf0"/>
<circle cx="650.7" cy="965.4" r="1.4" fill="#f2cdf0"/>
<circle cx="653.1" cy="966.0" r="1.8" fill="#f2cdf0"/>
<circle cx="720.4" cy="963.6" r="3.2" fill="#d048e4" opacity="0.5"/>
<circle cx="719.9" cy="962.9" r="1.6" fill="#f2cdf0"/>
<circle cx="720.7" cy="962.4" r="1.7" fill="#f2cdf0"/>
<circle cx="719.5" cy="964.2" r="1.2" fill="#f2cdf0"/>
<circle cx="719.3" cy="964.7" r="1.6" fill="#f2cdf0"/>
<circle cx="719.4" cy="964.1" r="1.5" fill="#f2cdf0"/>
<circle cx="709.6" cy="968.7" r="3.0" fill="#d048e4" opacity="0.5"/>
<circle cx="707.9" cy="968.5" r="1.2" fill="#f2cdf0"/>
<circle cx="710.7" cy="969.3" r="1.4" fill="#f2cdf0"/>
<circle cx="708.8" cy="969.5" r="1.6" fill="#f2cdf0"/>
<circle cx="711.5" cy="968.6" r="1.2" fill="#f2cdf0"/>
<circle cx="709.2" cy="969.5" r="1.5" fill="#f2cdf0"/>
<circle cx="649.3" cy="976.4" r="3.4" fill="#d048e4" opacity="0.5"/>
<circle cx="648.7" cy="976.2" r="1.7" fill="#f2cdf0"/>
<circle cx="650.1" cy="976.3" r="1.4" fill="#f2cdf0"/>
<circle cx="651.0" cy="976.5" r="1.4" fill="#f2cdf0"/>
<circle cx="650.1" cy="977.9" r="1.7" fill="#f2cdf0"/>
<circle cx="648.5" cy="976.7" r="1.8" fill="#f2cdf0"/>
<circle cx="692.8" cy="976.9" r="3.2" fill="#d048e4" opacity="0.5"/>
<circle cx="692.7" cy="975.5" r="1.4" fill="#f2cdf0"/>
<circle cx="693.9" cy="976.7" r="1.3" fill="#f2cdf0"/>
<circle cx="692.9" cy="977.4" r="1.4" fill="#f2cdf0"/>
<circle cx="694.2" cy="976.3" r="1.4" fill="#f2cdf0"/>
<circle cx="692.3" cy="978.4" r="1.6" fill="#f2cdf0"/>
<circle cx="677.4" cy="979.5" r="3.2" fill="#d048e4" opacity="0.5"/>
<circle cx="677.4" cy="980.4" r="1.6" fill="#f2cdf0"/>
<circle cx="676.0" cy="979.7" r="1.5" fill="#f2cdf0"/>
<circle cx="677.8" cy="978.3" r="1.2" fill="#f2cdf0"/>
<circle cx="677.0" cy="978.8" r="1.6" fill="#f2cdf0"/>
<circle cx="676.1" cy="978.8" r="1.5" fill="#f2cdf0"/>
<circle cx="707.6" cy="981.5" r="3.6" fill="#d048e4" opacity="0.5"/>
<circle cx="708.3" cy="979.9" r="1.9" fill="#f2cdf0"/>
<circle cx="707.6" cy="983.0" r="1.6" fill="#f2cdf0"/>
<circle cx="707.6" cy="980.2" r="1.7" fill="#f2cdf0"/>
<circle cx="708.2" cy="981.9" r="1.4" fill="#f2cdf0"/>
<circle cx="709.0" cy="982.5" r="1.9" fill="#f2cdf0"/>
<circle cx="720.9" cy="980.5" r="3.2" fill="#d048e4" opacity="0.5"/>
<circle cx="719.6" cy="980.9" r="1.6" fill="#f2cdf0"/>
<circle cx="722.5" cy="981.5" r="1.2" fill="#f2cdf0"/>
<circle cx="722.0" cy="981.5" r="1.4" fill="#f2cdf0"/>
<circle cx="720.1" cy="979.5" r="1.4" fill="#f2cdf0"/>
<circle cx="719.3" cy="980.3" r="1.4" fill="#f2cdf0"/>
<circle cx="699.4" cy="985.1" r="3.5" fill="#d048e4" opacity="0.5"/>
<circle cx="697.9" cy="984.2" r="1.4" fill="#f2cdf0"/>
<circle cx="699.2" cy="985.6" r="1.3" fill="#f2cdf0"/>
<circle cx="698.3" cy="984.8" r="1.4" fill="#f2cdf0"/>
<circle cx="699.8" cy="985.7" r="1.9" fill="#f2cdf0"/>
<circle cx="698.4" cy="984.7" r="1.7" fill="#f2cdf0"/>
<circle cx="671.3" cy="991.7" r="3.3" fill="#d048e4" opacity="0.5"/>
<circle cx="670.7" cy="991.7" r="1.8" fill="#f2cdf0"/>
<circle cx="670.0" cy="990.9" r="1.7" fill="#f2cdf0"/>
<circle cx="671.8" cy="992.0" r="1.3" fill="#f2cdf0"/>
<circle cx="671.7" cy="992.4" r="1.4" fill="#f2cdf0"/>
<circle cx="671.9" cy="990.5" r="1.6" fill="#f2cdf0"/>
<circle cx="696.3" cy="992.7" r="3.3" fill="#d048e4" opacity="0.5"/>
<circle cx="697.8" cy="991.9" r="1.3" fill="#f2cdf0"/>
<circle cx="695.5" cy="991.1" r="1.7" fill="#f2cdf0"/>
<circle cx="695.3" cy="992.4" r="1.3" fill="#f2cdf0"/>
<circle cx="696.2" cy="993.3" r="1.3" fill="#f2cdf0"/>
<circle cx="696.5" cy="991.5" r="1.4" fill="#f2cdf0"/>
<circle cx="721.9" cy="992.2" r="3.5" fill="#d048e4" opacity="0.5"/>
<circle cx="721.2" cy="993.8" r="1.4" fill="#f2cdf0"/>
<circle cx="722.2" cy="993.0" r="1.9" fill="#f2cdf0"/>
<circle cx="722.5" cy="991.7" r="1.9" fill="#f2cdf0"/>
<circle cx="723.3" cy="992.5" r="1.6" fill="#f2cdf0"/>
<circle cx="722.1" cy="993.5" r="1.4" fill="#f2cdf0"/>
<circle cx="707.1" cy="998.9" r="3.3" fill="#d048e4" opacity="0.5"/>
<circle cx="707.1" cy="997.8" r="1.8" fill="#f2cdf0"/>
<circle cx="707.7" cy="998.4" r="1.4" fill="#f2cdf0"/>
<circle cx="708.1" cy="999.0" r="1.3" fill="#f2cdf0"/>
<circle cx="706.9" cy="999.5" r="1.5" fill="#f2cdf0"/>
<circle cx="707.0" cy="1000.7" r="1.7" fill="#f2cdf0"/>
<circle cx="682.5" cy="1008.6" r="3.2" fill="#d048e4" opacity="0.5"/>
<circle cx="681.9" cy="1008.5" r="1.2" fill="#f2cdf0"/>
<circle cx="682.8" cy="1008.0" r="1.4" fill="#f2cdf0"/>
<circle cx="682.6" cy="1009.4" r="1.3" fill="#f2cdf0"/>
<circle cx="682.8" cy="1010.4" r="1.3" fill="#f2cdf0"/>
<circle cx="682.0" cy="1007.9" r="1.7" fill="#f2cdf0"/>
<circle cx="698.4" cy="1006.5" r="3.6" fill="#d048e4" opacity="0.5"/>
<circle cx="696.6" cy="1006.4" r="1.8" fill="#f2cdf0"/>
<circle cx="699.4" cy="1005.8" r="1.4" fill="#f2cdf0"/>
<circle cx="699.9" cy="1007.3" r="2.0" fill="#f2cdf0"/>
<circle cx="696.9" cy="1007.4" r="1.9" fill="#f2cdf0"/>
<circle cx="697.8" cy="1007.9" r="1.8" fill="#f2cdf0"/>
</g>
</g>
<g clip-path="url(#cp5)">
<circle cx="801.9" cy="963.6" r="48.8" fill="#5028d2"/>
<g filter="url(#nb)">
<g fill="#7a40cc" opacity="0.6"><circle cx="790.4" cy="943.1" r="0.58"/><circle cx="789.4" cy="985.6" r="0.81"/><circle cx="783.2" cy="988.2" r="0.71"/><circle cx="818.7" cy="983.2" r="0.88"/><circle cx="793.0" cy="1008.9" r="0.99"/><circle cx="776.2" cy="970.3" r="0.88"/><circle cx="835.7" cy="935.2" r="0.66"/><circle cx="804.4" cy="974.1" r="1.02"/><circle cx="796.3" cy="993.7" r="0.93"/><circle cx="791.3" cy="1003.7" r="0.56"/><circle cx="795.2" cy="968.1" r="0.96"/><circle cx="792.1" cy="1006.5" r="0.93"/><circle cx="822.4" cy="980.8" r="0.95"/><circle cx="789.2" cy="934.6" r="0.62"/><circle cx="816.0" cy="988.7" r="0.80"/><circle cx="775.9" cy="926.3" r="0.90"/><circle cx="768.6" cy="951.4" r="0.86"/><circle cx="811.6" cy="966.9" r="0.82"/><circle cx="760.8" cy="982.9" r="0.67"/><circle cx="787.8" cy="983.6" r="0.88"/><circle cx="806.9" cy="949.0" r="0.74"/><circle cx="784.2" cy="925.6" r="0.93"/><circle cx="823.1" cy="999.2" r="0.78"/><circle cx="818.3" cy="949.5" r="0.97"/><circle cx="834.7" cy="944.4" r="0.63"/><circle cx="785.0" cy="987.9" r="0.99"/><circle cx="816.6" cy="991.3" r="0.73"/><circle cx="761.1" cy="955.4" r="0.57"/><circle cx="803.4" cy="977.5" r="0.80"/><circle cx="775.9" cy="929.0" r="0.91"/><circle cx="827.4" cy="1005.0" r="0.56"/><circle cx="815.1" cy="1000.0" r="0.87"/><circle cx="770.8" cy="989.2" r="0.78"/><circle cx="791.3" cy="988.8" r="0.76"/><circle cx="833.9" cy="989.6" r="0.63"/><circle cx="760.7" cy="941.0" r="0.96"/><circle cx="810.6" cy="944.5" r="0.95"/><circle cx="825.0" cy="965.5" r="0.69"/><circle cx="780.8" cy="920.1" r="0.66"/><circle cx="775.8" cy="963.8" r="0.91"/><circle cx="848.3" cy="966.7" r="0.70"/><circle cx="821.3" cy="1003.5" r="0.91"/><circle cx="812.8" cy="919.2" r="0.78"/><circle cx="762.6" cy="982.1" r="0.80"/><circle cx="803.4" cy="1001.8" r="0.77"/><circle cx="805.5" cy="918.2" r="0.95"/><circle cx="834.8" cy="978.8" r="0.77"/><circle cx="827.0" cy="971.1" r="0.55"/><circle cx="795.8" cy="941.9" r="0.64"/><circle cx="818.7" cy="944.7" r="0.89"/><circle cx="781.8" cy="930.3" r="0.59"/><circle cx="811.2" cy="1006.9" r="0.74"/><circle cx="791.0" cy="996.2" r="0.57"/><circle cx="791.5" cy="922.0" r="1.03"/><circle cx="785.6" cy="1000.7" r="1.02"/><circle cx="823.0" cy="938.1" r="1.03"/><circle cx="766.6" cy="953.9" r="0.84"/><circle cx="813.8" cy="991.7" r="0.80"/><circle cx="810.3" cy="928.0" r="0.72"/><circle cx="815.4" cy="961.1" r="0.64"/><circle cx="773.8" cy="1002.9" r="0.78"/><circle cx="766.0" cy="989.5" r="0.67"/><circle cx="806.1" cy="950.8" r="0.85"/><circle cx="837.1" cy="949.6" r="0.67"/><circle cx="812.0" cy="1006.2" r="0.68"/><circle cx="830.8" cy="950.0" r="0.60"/><circle cx="796.4" cy="922.0" r="0.89"/><circle cx="831.5" cy="965.5" r="0.80"/><circle cx="814.8" cy="955.9" r="0.77"/><circle cx="779.0" cy="994.7" r="0.78"/><circle cx="787.7" cy="994.4" r="0.82"/><circle cx="828.6" cy="970.6" r="0.68"/><circle cx="796.9" cy="992.3" r="0.69"/><circle cx="774.9" cy="993.6" r="0.67"/><circle cx="814.9" cy="959.6" r="0.70"/><circle cx="796.0" cy="924.6" r="0.70"/><circle cx="793.2" cy="1003.9" r="0.74"/><circle cx="817.8" cy="919.9" r="0.63"/><circle cx="791.0" cy="942.7" r="0.83"/><circle cx="832.7" cy="939.9" r="0.99"/><circle cx="788.0" cy="985.6" r="0.82"/><circle cx="779.4" cy="990.8" r="0.68"/><circle cx="811.8" cy="1000.4" r="0.61"/><circle cx="803.7" cy="978.1" r="0.89"/><circle cx="815.9" cy="985.0" r="0.98"/><circle cx="768.9" cy="959.1" r="0.71"/><circle cx="759.1" cy="959.1" r="0.73"/><circle cx="815.5" cy="979.5" r="0.90"/><circle cx="755.3" cy="970.0" r="0.66"/><circle cx="795.0" cy="933.9" r="0.69"/><circle cx="796.3" cy="936.6" r="0.66"/><circle cx="771.7" cy="973.7" r="0.59"/><circle cx="832.6" cy="960.7" r="0.73"/><circle cx="815.0" cy="977.0" r="0.64"/><circle cx="834.5" cy="979.3" r="0.87"/><circle cx="816.6" cy="943.4" r="0.95"/><circle cx="801.7" cy="951.9" r="0.65"/><circle cx="815.5" cy="1007.1" r="0.92"/><circle cx="824.1" cy="972.9" r="0.63"/><circle cx="779.7" cy="940.6" r="1.02"/><circle cx="815.5" cy="941.4" r="0.69"/><circle cx="770.8" cy="963.3" r="0.95"/><circle cx="818.0" cy="1006.1" r="0.84"/><circle cx="764.2" cy="993.4" r="0.72"/><circle cx="808.2" cy="916.1" r="1.00"/><circle cx="834.2" cy="960.2" r="0.94"/><circle cx="815.3" cy="940.6" r="0.78"/><circle cx="839.7" cy="942.9" r="0.70"/><circle cx="804.4" cy="947.2" r="0.75"/><circle cx="777.7" cy="951.6" r="0.56"/><circle cx="767.8" cy="946.4" r="0.88"/><circle cx="808.4" cy="974.8" r="0.57"/><circle cx="792.8" cy="961.0" r="0.65"/><circle cx="772.0" cy="963.8" r="0.89"/><circle cx="825.2" cy="989.8" r="0.76"/><circle cx="817.5" cy="1007.4" r="1.02"/><circle cx="825.7" cy="958.2" r="0.56"/><circle cx="786.8" cy="919.8" r="0.72"/><circle cx="789.1" cy="1005.5" r="0.83"/><circle cx="767.4" cy="941.2" r="0.81"/><circle cx="817.4" cy="930.6" r="0.92"/><circle cx="835.7" cy="965.9" r="1.00"/><circle cx="761.4" cy="966.9" r="0.82"/><circle cx="814.2" cy="958.0" r="0.69"/><circle cx="824.7" cy="1003.0" r="1.04"/><circle cx="811.3" cy="988.0" r="0.67"/><circle cx="769.5" cy="938.3" r="0.68"/><circle cx="817.2" cy="934.6" r="0.80"/><circle cx="780.1" cy="988.3" r="0.57"/><circle cx="848.5" cy="975.3" r="0.69"/><circle cx="773.3" cy="1002.5" r="0.71"/><circle cx="839.9" cy="988.6" r="0.75"/><circle cx="786.0" cy="942.2" r="0.61"/><circle cx="810.2" cy="1005.5" r="0.82"/><circle cx="780.3" cy="928.0" r="0.84"/><circle cx="792.8" cy="944.2" r="0.64"/><circle cx="760.6" cy="980.8" r="0.66"/><circle cx="809.9" cy="919.9" r="0.92"/><circle cx="815.5" cy="974.6" r="0.95"/><circle cx="803.3" cy="970.9" r="0.84"/><circle cx="787.4" cy="921.8" r="0.91"/><circle cx="777.9" cy="946.8" r="1.01"/><circle cx="798.3" cy="996.2" r="0.61"/><circle cx="766.0" cy="945.1" r="0.81"/><circle cx="794.6" cy="970.9" r="0.87"/><circle cx="842.9" cy="974.8" r="0.86"/><circle cx="827.6" cy="933.4" r="0.93"/><circle cx="792.6" cy="1010.0" r="0.84"/><circle cx="773.0" cy="954.6" r="0.97"/><circle cx="777.4" cy="936.8" r="0.86"/><circle cx="812.7" cy="916.3" r="0.65"/><circle cx="827.1" cy="957.3" r="0.77"/><circle cx="797.6" cy="919.8" r="0.72"/><circle cx="789.3" cy="996.8" r="0.79"/><circle cx="780.1" cy="979.0" r="0.56"/><circle cx="828.2" cy="951.7" r="1.01"/><circle cx="790.6" cy="952.0" r="0.64"/><circle cx="786.7" cy="979.0" r="0.60"/><circle cx="805.3" cy="929.5" r="0.63"/><circle cx="761.8" cy="959.6" r="0.97"/><circle cx="781.3" cy="972.5" r="0.57"/><circle cx="772.0" cy="944.6" r="1.05"/><circle cx="802.1" cy="974.9" r="0.81"/><circle cx="793.9" cy="941.4" r="0.69"/><circle cx="818.8" cy="1005.1" r="0.84"/><circle cx="797.4" cy="992.5" r="0.68"/><circle cx="845.9" cy="970.0" r="0.93"/><circle cx="790.5" cy="989.8" r="1.02"/><circle cx="798.3" cy="1004.3" r="1.01"/><circle cx="787.5" cy="1004.3" r="0.71"/><circle cx="820.3" cy="961.2" r="0.64"/><circle cx="792.4" cy="936.6" r="0.78"/><circle cx="814.0" cy="948.3" r="0.66"/><circle cx="784.3" cy="947.8" r="0.78"/><circle cx="809.6" cy="1001.7" r="0.88"/><circle cx="843.2" cy="976.6" r="1.02"/><circle cx="788.4" cy="1004.7" r="0.70"/><circle cx="840.4" cy="935.4" r="0.90"/><circle cx="777.6" cy="978.9" r="0.64"/><circle cx="836.6" cy="931.8" r="0.90"/><circle cx="826.5" cy="949.7" r="0.59"/><circle cx="753.5" cy="969.9" r="0.85"/><circle cx="822.3" cy="930.0" r="0.76"/><circle cx="778.0" cy="965.5" r="0.75"/><circle cx="847.2" cy="951.9" r="0.86"/><circle cx="794.4" cy="936.8" r="0.87"/><circle cx="812.9" cy="955.8" r="1.04"/><circle cx="806.8" cy="972.8" r="0.56"/><circle cx="767.2" cy="987.2" r="0.67"/><circle cx="841.9" cy="948.7" r="0.62"/><circle cx="806.2" cy="941.5" r="0.91"/><circle cx="843.4" cy="977.1" r="0.72"/><circle cx="797.0" cy="951.7" r="0.80"/><circle cx="787.8" cy="975.8" r="0.76"/><circle cx="811.0" cy="962.0" r="1.03"/><circle cx="778.2" cy="1000.4" r="0.96"/><circle cx="768.6" cy="944.6" r="1.03"/><circle cx="760.7" cy="978.6" r="0.79"/><circle cx="780.0" cy="1007.1" r="0.62"/><circle cx="842.1" cy="951.2" r="0.64"/><circle cx="809.3" cy="957.3" r="0.91"/><circle cx="843.3" cy="953.6" r="1.01"/><circle cx="788.3" cy="924.2" r="1.00"/><circle cx="828.6" cy="950.7" r="0.64"/><circle cx="790.5" cy="974.4" r="1.00"/><circle cx="758.3" cy="984.3" r="0.60"/><circle cx="765.4" cy="973.7" r="0.74"/><circle cx="795.6" cy="939.3" r="0.56"/><circle cx="829.2" cy="940.4" r="0.71"/><circle cx="805.4" cy="948.3" r="0.70"/><circle cx="756.8" cy="965.5" r="0.84"/><circle cx="764.4" cy="973.0" r="1.02"/><circle cx="787.0" cy="978.6" r="0.82"/><circle cx="817.9" cy="981.7" r="0.88"/><circle cx="782.3" cy="970.0" r="0.55"/><circle cx="846.0" cy="955.9" r="0.87"/><circle cx="770.4" cy="951.4" r="1.03"/><circle cx="849.3" cy="960.8" r="0.87"/><circle cx="776.1" cy="924.4" r="0.67"/><circle cx="765.1" cy="965.0" r="0.71"/><circle cx="770.4" cy="943.6" r="1.01"/><circle cx="771.6" cy="970.9" r="0.82"/><circle cx="810.2" cy="963.7" r="0.56"/><circle cx="834.7" cy="932.2" r="0.93"/><circle cx="799.5" cy="1001.8" r="0.63"/></g>
<g fill="#8a48d0" opacity="0.5"><circle cx="767.6" cy="955.1" r="0.89"/><circle cx="835.9" cy="996.1" r="0.84"/><circle cx="816.7" cy="963.5" r="0.91"/><circle cx="822.1" cy="919.3" r="0.67"/><circle cx="780.6" cy="1004.5" r="0.90"/><circle cx="831.0" cy="988.1" r="0.70"/><circle cx="806.7" cy="948.5" r="0.91"/><circle cx="786.1" cy="974.9" r="0.68"/><circle cx="816.4" cy="918.4" r="1.03"/><circle cx="846.3" cy="974.9" r="0.86"/><circle cx="794.5" cy="969.7" r="0.91"/><circle cx="779.8" cy="958.5" r="0.82"/><circle cx="843.4" cy="986.5" r="0.97"/><circle cx="796.8" cy="915.2" r="0.64"/><circle cx="754.4" cy="968.3" r="1.00"/><circle cx="791.6" cy="951.0" r="0.80"/><circle cx="768.1" cy="951.9" r="0.69"/><circle cx="806.6" cy="990.0" r="0.67"/><circle cx="821.4" cy="958.9" r="0.65"/><circle cx="819.3" cy="961.7" r="0.57"/><circle cx="773.5" cy="986.4" r="0.88"/><circle cx="833.4" cy="929.1" r="0.56"/><circle cx="809.1" cy="941.9" r="0.85"/><circle cx="809.5" cy="948.4" r="0.82"/><circle cx="830.2" cy="950.5" r="0.87"/><circle cx="805.0" cy="934.3" r="0.60"/><circle cx="799.4" cy="956.8" r="1.01"/><circle cx="765.8" cy="967.8" r="0.62"/><circle cx="770.4" cy="956.3" r="0.88"/><circle cx="823.7" cy="978.0" r="0.82"/><circle cx="807.6" cy="924.3" r="0.56"/><circle cx="830.4" cy="952.4" r="0.87"/><circle cx="846.3" cy="959.2" r="0.73"/><circle cx="800.7" cy="998.4" r="0.80"/><circle cx="827.2" cy="992.1" r="0.97"/><circle cx="818.5" cy="998.1" r="0.82"/><circle cx="812.5" cy="1007.5" r="0.62"/><circle cx="804.4" cy="950.6" r="1.00"/><circle cx="796.2" cy="1003.9" r="0.88"/><circle cx="782.2" cy="925.6" r="0.69"/><circle cx="766.9" cy="977.3" r="0.91"/><circle cx="777.5" cy="979.3" r="0.86"/><circle cx="831.9" cy="983.3" r="0.75"/><circle cx="790.6" cy="938.0" r="0.58"/><circle cx="792.8" cy="937.5" r="0.59"/><circle cx="847.7" cy="976.5" r="0.80"/><circle cx="809.8" cy="973.1" r="0.83"/><circle cx="792.3" cy="967.8" r="0.82"/><circle cx="764.8" cy="961.8" r="0.60"/><circle cx="840.4" cy="965.0" r="0.55"/><circle cx="771.5" cy="961.9" r="0.98"/><circle cx="783.5" cy="960.2" r="0.62"/><circle cx="811.9" cy="942.4" r="0.85"/><circle cx="785.9" cy="985.3" r="0.73"/><circle cx="780.5" cy="943.6" r="0.72"/><circle cx="773.5" cy="998.4" r="1.04"/><circle cx="804.9" cy="921.1" r="0.74"/><circle cx="796.6" cy="923.9" r="1.04"/><circle cx="802.0" cy="965.8" r="0.81"/><circle cx="794.6" cy="937.1" r="1.04"/><circle cx="814.5" cy="1000.6" r="0.98"/><circle cx="832.1" cy="960.8" r="0.92"/><circle cx="823.4" cy="990.6" r="0.62"/><circle cx="807.8" cy="928.4" r="0.58"/><circle cx="835.8" cy="958.2" r="0.98"/><circle cx="834.4" cy="945.1" r="0.77"/><circle cx="787.2" cy="932.5" r="0.64"/><circle cx="844.6" cy="964.0" r="1.01"/><circle cx="794.1" cy="928.9" r="0.97"/><circle cx="789.3" cy="986.1" r="0.94"/><circle cx="829.2" cy="939.4" r="0.81"/><circle cx="779.0" cy="943.5" r="0.76"/><circle cx="835.8" cy="979.4" r="0.95"/><circle cx="777.3" cy="996.3" r="0.92"/><circle cx="794.1" cy="944.8" r="0.77"/><circle cx="765.3" cy="936.1" r="0.56"/><circle cx="819.0" cy="976.5" r="0.95"/><circle cx="821.6" cy="993.4" r="0.70"/><circle cx="790.8" cy="933.7" r="0.69"/><circle cx="756.7" cy="954.6" r="0.98"/><circle cx="761.6" cy="954.7" r="1.01"/><circle cx="792.1" cy="926.5" r="0.94"/><circle cx="829.8" cy="987.7" r="0.68"/><circle cx="787.6" cy="963.7" r="0.69"/><circle cx="758.1" cy="958.9" r="1.04"/><circle cx="839.9" cy="957.6" r="0.95"/><circle cx="788.8" cy="974.4" r="0.70"/><circle cx="785.6" cy="930.8" r="0.61"/><circle cx="810.3" cy="1003.2" r="1.02"/><circle cx="768.8" cy="975.5" r="1.00"/><circle cx="799.5" cy="923.6" r="0.82"/><circle cx="813.3" cy="938.2" r="0.58"/><circle cx="816.8" cy="926.2" r="0.60"/><circle cx="832.8" cy="951.5" r="0.78"/><circle cx="818.4" cy="972.5" r="0.95"/><circle cx="792.0" cy="928.1" r="0.82"/><circle cx="775.1" cy="997.6" r="1.04"/><circle cx="823.3" cy="976.8" r="0.94"/><circle cx="785.9" cy="923.5" r="0.62"/><circle cx="773.7" cy="981.7" r="0.56"/><circle cx="783.8" cy="955.5" r="0.80"/><circle cx="803.5" cy="948.9" r="1.02"/><circle cx="801.4" cy="934.2" r="0.60"/><circle cx="789.6" cy="934.0" r="1.05"/><circle cx="764.3" cy="970.7" r="0.72"/><circle cx="820.6" cy="988.6" r="0.66"/><circle cx="777.6" cy="962.7" r="0.91"/><circle cx="827.0" cy="932.2" r="0.69"/><circle cx="841.8" cy="977.6" r="0.75"/><circle cx="818.7" cy="961.1" r="0.86"/><circle cx="818.9" cy="942.4" r="0.75"/><circle cx="801.5" cy="969.7" r="1.03"/><circle cx="765.9" cy="989.5" r="0.55"/><circle cx="829.6" cy="943.7" r="0.97"/><circle cx="793.9" cy="985.8" r="0.78"/><circle cx="778.1" cy="978.5" r="0.64"/><circle cx="808.7" cy="964.8" r="0.62"/><circle cx="814.4" cy="1006.4" r="0.88"/><circle cx="789.7" cy="958.7" r="0.71"/><circle cx="845.9" cy="949.6" r="1.00"/><circle cx="776.8" cy="993.9" r="0.68"/><circle cx="779.6" cy="935.8" r="0.84"/><circle cx="824.1" cy="971.3" r="0.69"/><circle cx="774.9" cy="960.5" r="0.74"/><circle cx="765.3" cy="964.4" r="0.73"/><circle cx="780.9" cy="994.0" r="0.86"/><circle cx="799.5" cy="925.0" r="0.61"/><circle cx="778.0" cy="994.5" r="0.91"/><circle cx="836.6" cy="940.5" r="0.85"/><circle cx="782.5" cy="947.4" r="0.84"/><circle cx="783.2" cy="984.7" r="0.66"/><circle cx="848.1" cy="950.6" r="0.70"/><circle cx="789.2" cy="962.4" r="0.96"/><circle cx="796.9" cy="1008.4" r="0.67"/><circle cx="761.5" cy="960.2" r="0.85"/><circle cx="836.7" cy="940.4" r="0.79"/><circle cx="778.2" cy="983.1" r="0.78"/><circle cx="805.8" cy="956.2" r="0.70"/><circle cx="796.8" cy="948.3" r="0.95"/><circle cx="774.3" cy="1000.2" r="0.67"/><circle cx="808.2" cy="918.8" r="0.71"/><circle cx="762.4" cy="946.6" r="1.02"/><circle cx="760.6" cy="943.1" r="1.00"/><circle cx="823.6" cy="959.5" r="0.78"/><circle cx="773.2" cy="938.4" r="0.60"/><circle cx="760.2" cy="942.4" r="0.82"/><circle cx="813.3" cy="988.2" r="1.00"/><circle cx="789.6" cy="970.4" r="0.69"/><circle cx="784.1" cy="954.9" r="0.80"/><circle cx="762.3" cy="967.7" r="0.69"/><circle cx="814.4" cy="994.4" r="0.64"/><circle cx="773.4" cy="952.4" r="0.98"/><circle cx="816.0" cy="996.2" r="0.69"/><circle cx="813.5" cy="977.3" r="0.83"/><circle cx="763.8" cy="959.0" r="0.89"/><circle cx="844.6" cy="985.6" r="1.02"/><circle cx="800.7" cy="983.6" r="0.95"/><circle cx="835.6" cy="983.4" r="0.70"/><circle cx="819.3" cy="959.7" r="0.80"/><circle cx="814.2" cy="976.1" r="0.91"/><circle cx="806.4" cy="944.9" r="1.05"/><circle cx="817.5" cy="985.1" r="0.67"/><circle cx="800.9" cy="1001.3" r="0.56"/><circle cx="817.1" cy="922.2" r="1.03"/><circle cx="791.3" cy="949.3" r="0.69"/><circle cx="834.0" cy="998.1" r="0.85"/><circle cx="792.7" cy="921.9" r="0.93"/><circle cx="822.4" cy="959.5" r="0.73"/><circle cx="764.3" cy="970.0" r="0.80"/><circle cx="801.9" cy="991.0" r="0.89"/><circle cx="841.3" cy="984.0" r="0.59"/><circle cx="761.3" cy="984.4" r="0.64"/><circle cx="779.8" cy="961.0" r="0.61"/><circle cx="766.6" cy="933.7" r="0.76"/><circle cx="826.0" cy="949.7" r="0.89"/><circle cx="815.9" cy="948.5" r="0.92"/><circle cx="795.8" cy="993.7" r="0.62"/><circle cx="822.8" cy="947.8" r="0.75"/><circle cx="819.6" cy="938.0" r="0.84"/><circle cx="765.0" cy="940.9" r="0.77"/><circle cx="819.3" cy="948.1" r="1.05"/><circle cx="845.8" cy="966.7" r="0.81"/><circle cx="815.8" cy="949.9" r="0.60"/><circle cx="806.0" cy="932.5" r="0.69"/><circle cx="823.3" cy="932.5" r="0.65"/><circle cx="768.5" cy="946.0" r="0.57"/><circle cx="764.6" cy="958.2" r="0.64"/><circle cx="825.8" cy="945.7" r="0.83"/><circle cx="788.8" cy="992.9" r="1.04"/><circle cx="777.4" cy="986.2" r="0.68"/><circle cx="780.2" cy="978.0" r="1.03"/><circle cx="819.0" cy="956.3" r="0.94"/><circle cx="833.3" cy="938.9" r="1.02"/><circle cx="795.6" cy="1009.8" r="0.94"/><circle cx="787.9" cy="933.5" r="0.91"/><circle cx="821.3" cy="956.7" r="0.56"/><circle cx="793.8" cy="954.2" r="1.00"/><circle cx="831.1" cy="924.6" r="0.62"/><circle cx="790.9" cy="968.9" r="0.90"/><circle cx="814.0" cy="974.3" r="0.65"/><circle cx="826.0" cy="1002.3" r="1.01"/><circle cx="789.4" cy="924.7" r="0.77"/><circle cx="808.1" cy="984.1" r="0.59"/><circle cx="823.8" cy="977.5" r="0.83"/><circle cx="835.0" cy="979.3" r="0.80"/><circle cx="797.3" cy="976.5" r="0.75"/><circle cx="826.8" cy="929.8" r="0.91"/><circle cx="795.4" cy="982.7" r="0.94"/><circle cx="830.4" cy="980.6" r="0.73"/><circle cx="805.8" cy="973.9" r="0.70"/><circle cx="770.9" cy="948.4" r="0.96"/><circle cx="771.0" cy="927.0" r="0.66"/><circle cx="792.3" cy="990.9" r="0.62"/><circle cx="795.3" cy="997.5" r="0.74"/><circle cx="790.8" cy="1005.2" r="0.91"/><circle cx="833.6" cy="946.6" r="0.84"/><circle cx="763.4" cy="936.8" r="0.71"/><circle cx="822.8" cy="935.9" r="0.93"/><circle cx="807.5" cy="937.9" r="0.85"/><circle cx="783.0" cy="969.4" r="0.74"/><circle cx="829.1" cy="955.5" r="0.62"/><circle cx="788.9" cy="932.7" r="0.86"/><circle cx="826.5" cy="989.0" r="0.77"/><circle cx="771.7" cy="948.8" r="0.83"/><circle cx="818.4" cy="962.5" r="0.58"/></g>
</g>
<g filter="url(#pb)">
<circle cx="800" cy="958" r="2.6" fill="#a890e4" opacity="0.7"/>
<circle cx="808" cy="960" r="2.6" fill="#a890e4" opacity="0.7"/>
<circle cx="771" cy="953" r="2.6" fill="#a890e4" opacity="0.7"/>
<circle cx="826" cy="966" r="2.6" fill="#a890e4" opacity="0.7"/>
<circle cx="791.4" cy="930.4" r="3.7" fill="#a070d8" opacity="0.5"/>
<circle cx="791.8" cy="930.8" r="1.9" fill="#eadcea"/>
<circle cx="791.7" cy="930.0" r="1.5" fill="#eadcea"/>
<circle cx="791.6" cy="931.4" r="2.0" fill="#eadcea"/>
<circle cx="792.3" cy="930.9" r="1.7" fill="#eadcea"/>
<circle cx="791.7" cy="931.3" r="1.8" fill="#eadcea"/>
<circle cx="811.8" cy="928.4" r="4.0" fill="#a070d8" opacity="0.5"/>
<circle cx="812.2" cy="927.0" r="1.8" fill="#eadcea"/>
<circle cx="812.1" cy="928.8" r="2.0" fill="#eadcea"/>
<circle cx="812.2" cy="927.0" r="1.9" fill="#eadcea"/>
<circle cx="811.3" cy="928.7" r="1.8" fill="#eadcea"/>
<circle cx="812.5" cy="929.0" r="2.1" fill="#eadcea"/>
<circle cx="824.1" cy="928.9" r="3.9" fill="#a070d8" opacity="0.5"/>
<circle cx="825.4" cy="927.8" r="2.0" fill="#eadcea"/>
<circle cx="824.8" cy="928.6" r="2.0" fill="#eadcea"/>
<circle cx="823.2" cy="928.0" r="1.6" fill="#eadcea"/>
<circle cx="822.3" cy="928.9" r="2.0" fill="#eadcea"/>
<circle cx="825.5" cy="928.2" r="1.5" fill="#eadcea"/>
<circle cx="818.5" cy="932.4" r="3.7" fill="#a070d8" opacity="0.5"/>
<circle cx="819.3" cy="931.2" r="1.7" fill="#eadcea"/>
<circle cx="817.5" cy="932.7" r="1.7" fill="#eadcea"/>
<circle cx="817.8" cy="933.3" r="1.8" fill="#eadcea"/>
<circle cx="818.9" cy="933.0" r="1.8" fill="#eadcea"/>
<circle cx="817.4" cy="931.9" r="1.8" fill="#eadcea"/>
<circle cx="822.1" cy="940.1" r="3.7" fill="#a070d8" opacity="0.5"/>
<circle cx="823.0" cy="940.1" r="1.7" fill="#eadcea"/>
<circle cx="821.7" cy="941.4" r="1.6" fill="#eadcea"/>
<circle cx="821.6" cy="940.4" r="1.6" fill="#eadcea"/>
<circle cx="820.8" cy="940.5" r="1.9" fill="#eadcea"/>
<circle cx="823.0" cy="940.4" r="1.6" fill="#eadcea"/>
<circle cx="840" cy="939.1" r="3.8" fill="#a070d8" opacity="0.5"/>
<circle cx="841.5" cy="938.1" r="1.9" fill="#eadcea"/>
<circle cx="841.1" cy="938.6" r="1.8" fill="#eadcea"/>
<circle cx="841.0" cy="940.2" r="1.6" fill="#eadcea"/>
<circle cx="839.2" cy="938.8" r="1.8" fill="#eadcea"/>
<circle cx="838.6" cy="940.2" r="1.8" fill="#eadcea"/>
<circle cx="842.5" cy="943.7" r="4.0" fill="#a070d8" opacity="0.5"/>
<circle cx="842.4" cy="944.9" r="1.9" fill="#eadcea"/>
<circle cx="842.1" cy="944.7" r="1.6" fill="#eadcea"/>
<circle cx="843.1" cy="944.5" r="2.0" fill="#eadcea"/>
<circle cx="841.2" cy="943.0" r="1.6" fill="#eadcea"/>
<circle cx="842.9" cy="945.5" r="1.6" fill="#eadcea"/>
<circle cx="761.7" cy="943.2" r="3.5" fill="#a070d8" opacity="0.5"/>
<circle cx="760.6" cy="942.8" r="1.9" fill="#eadcea"/>
<circle cx="762.5" cy="942.2" r="1.6" fill="#eadcea"/>
<circle cx="759.9" cy="943.9" r="1.4" fill="#eadcea"/>
<circle cx="760.1" cy="943.4" r="1.7" fill="#eadcea"/>
<circle cx="763.1" cy="944.1" r="1.9" fill="#eadcea"/>
<circle cx="791.9" cy="949.8" r="4.0" fill="#a070d8" opacity="0.5"/>
<circle cx="792.7" cy="951.4" r="1.6" fill="#eadcea"/>
<circle cx="793.4" cy="949.9" r="2.0" fill="#eadcea"/>
<circle cx="792.1" cy="948.6" r="1.6" fill="#eadcea"/>
<circle cx="793.3" cy="950.1" r="2.1" fill="#eadcea"/>
<circle cx="791.0" cy="951.1" r="1.8" fill="#eadcea"/>
<circle cx="776.6" cy="956" r="3.8" fill="#a070d8" opacity="0.5"/>
<circle cx="776.0" cy="954.7" r="1.9" fill="#eadcea"/>
<circle cx="777.5" cy="957.1" r="2.0" fill="#eadcea"/>
<circle cx="776.6" cy="954.6" r="1.8" fill="#eadcea"/>
<circle cx="776.7" cy="957.9" r="2.1" fill="#eadcea"/>
<circle cx="776.5" cy="957.4" r="1.9" fill="#eadcea"/>
<circle cx="765.8" cy="951.4" r="3.8" fill="#a070d8" opacity="0.5"/>
<circle cx="765.6" cy="952.4" r="1.5" fill="#eadcea"/>
<circle cx="766.2" cy="950.2" r="2.1" fill="#eadcea"/>
<circle cx="766.2" cy="953.2" r="1.9" fill="#eadcea"/>
<circle cx="765.2" cy="951.2" r="1.5" fill="#eadcea"/>
<circle cx="765.1" cy="951.4" r="1.9" fill="#eadcea"/>
<circle cx="833.8" cy="952.4" r="3.6" fill="#a070d8" opacity="0.5"/>
<circle cx="835.0" cy="951.7" r="1.4" fill="#eadcea"/>
<circle cx="834.7" cy="951.3" r="1.5" fill="#eadcea"/>
<circle cx="832.8" cy="953.4" r="1.9" fill="#eadcea"/>
<circle cx="832.5" cy="953.4" r="1.9" fill="#eadcea"/>
<circle cx="835.1" cy="952.0" r="1.9" fill="#eadcea"/>
<circle cx="845" cy="955.4" r="3.5" fill="#a070d8" opacity="0.5"/>
<circle cx="844.6" cy="953.8" r="1.5" fill="#eadcea"/>
<circle cx="845.6" cy="954.6" r="1.8" fill="#eadcea"/>
<circle cx="844.4" cy="956.5" r="1.7" fill="#eadcea"/>
<circle cx="845.5" cy="955.8" r="1.5" fill="#eadcea"/>
<circle cx="843.7" cy="956.0" r="1.9" fill="#eadcea"/>
<circle cx="812.3" cy="963.6" r="4.2" fill="#a070d8" opacity="0.5"/>
<circle cx="813.3" cy="964.7" r="1.7" fill="#eadcea"/>
<circle cx="812.9" cy="963.9" r="2.3" fill="#eadcea"/>
<circle cx="812.0" cy="962.4" r="2.0" fill="#eadcea"/>
<circle cx="811.8" cy="963.1" r="2.0" fill="#eadcea"/>
<circle cx="812.8" cy="963.3" r="2.1" fill="#eadcea"/>
<circle cx="772.5" cy="967.7" r="3.5" fill="#a070d8" opacity="0.5"/>
<circle cx="771.8" cy="967.5" r="1.3" fill="#eadcea"/>
<circle cx="773.5" cy="968.1" r="1.9" fill="#eadcea"/>
<circle cx="773.2" cy="968.6" r="1.5" fill="#eadcea"/>
<circle cx="772.0" cy="968.3" r="1.5" fill="#eadcea"/>
<circle cx="773.2" cy="967.6" r="1.8" fill="#eadcea"/>
<circle cx="825.6" cy="966.2" r="4.1" fill="#a070d8" opacity="0.5"/>
<circle cx="824.2" cy="966.6" r="2.0" fill="#eadcea"/>
<circle cx="826.2" cy="966.2" r="2.1" fill="#eadcea"/>
<circle cx="826.2" cy="964.9" r="2.3" fill="#eadcea"/>
<circle cx="826.9" cy="966.6" r="2.1" fill="#eadcea"/>
<circle cx="826.7" cy="966.7" r="2.2" fill="#eadcea"/>
<circle cx="838.4" cy="971.8" r="4.0" fill="#a070d8" opacity="0.5"/>
<circle cx="837.2" cy="972.9" r="2.2" fill="#eadcea"/>
<circle cx="838.5" cy="972.6" r="2.1" fill="#eadcea"/>
<circle cx="838.4" cy="970.7" r="2.2" fill="#eadcea"/>
<circle cx="839.7" cy="971.6" r="1.8" fill="#eadcea"/>
<circle cx="838.8" cy="972.1" r="1.8" fill="#eadcea"/>
<circle cx="799.6" cy="972.3" r="3.8" fill="#a070d8" opacity="0.5"/>
<circle cx="800.3" cy="972.7" r="2.0" fill="#eadcea"/>
<circle cx="799.6" cy="971.3" r="1.5" fill="#eadcea"/>
<circle cx="801.2" cy="971.6" r="1.9" fill="#eadcea"/>
<circle cx="799.0" cy="971.0" r="1.6" fill="#eadcea"/>
<circle cx="799.1" cy="972.1" r="1.6" fill="#eadcea"/>
<circle cx="758.7" cy="973.8" r="3.6" fill="#a070d8" opacity="0.5"/>
<circle cx="759.9" cy="974.8" r="1.6" fill="#eadcea"/>
<circle cx="758.0" cy="975.3" r="1.7" fill="#eadcea"/>
<circle cx="757.9" cy="972.2" r="1.4" fill="#eadcea"/>
<circle cx="758.1" cy="974.0" r="1.8" fill="#eadcea"/>
<circle cx="758.7" cy="973.3" r="1.5" fill="#eadcea"/>
<circle cx="811.3" cy="979" r="3.5" fill="#a070d8" opacity="0.5"/>
<circle cx="811.8" cy="977.8" r="1.4" fill="#eadcea"/>
<circle cx="810.7" cy="977.3" r="1.8" fill="#eadcea"/>
<circle cx="810.9" cy="979.3" r="1.5" fill="#eadcea"/>
<circle cx="811.2" cy="980.5" r="1.5" fill="#eadcea"/>
<circle cx="811.8" cy="978.3" r="1.8" fill="#eadcea"/>
<circle cx="846.1" cy="975.4" r="4.2" fill="#a070d8" opacity="0.5"/>
<circle cx="845.6" cy="975.3" r="2.2" fill="#eadcea"/>
<circle cx="846.5" cy="974.9" r="2.2" fill="#eadcea"/>
<circle cx="846.9" cy="975.9" r="1.8" fill="#eadcea"/>
<circle cx="846.9" cy="976.6" r="2.3" fill="#eadcea"/>
<circle cx="844.3" cy="975.4" r="1.8" fill="#eadcea"/>
<circle cx="770.4" cy="988.7" r="3.5" fill="#a070d8" opacity="0.5"/>
<circle cx="770.1" cy="990.3" r="1.5" fill="#eadcea"/>
<circle cx="769.4" cy="990.1" r="1.7" fill="#eadcea"/>
<circle cx="769.0" cy="989.7" r="1.4" fill="#eadcea"/>
<circle cx="770.8" cy="990.0" r="1.6" fill="#eadcea"/>
<circle cx="769.7" cy="987.2" r="1.7" fill="#eadcea"/>
<circle cx="790.9" cy="989.7" r="3.5" fill="#a070d8" opacity="0.5"/>
<circle cx="790.8" cy="988.9" r="1.4" fill="#eadcea"/>
<circle cx="790.6" cy="990.7" r="1.6" fill="#eadcea"/>
<circle cx="791.9" cy="990.6" r="1.6" fill="#eadcea"/>
<circle cx="792.1" cy="989.6" r="1.8" fill="#eadcea"/>
<circle cx="791.4" cy="988.4" r="1.7" fill="#eadcea"/>
<circle cx="800.6" cy="986.6" r="3.5" fill="#a070d8" opacity="0.5"/>
<circle cx="802.2" cy="985.6" r="1.9" fill="#eadcea"/>
<circle cx="801.3" cy="987.0" r="1.5" fill="#eadcea"/>
<circle cx="801.0" cy="987.4" r="1.4" fill="#eadcea"/>
<circle cx="799.1" cy="985.7" r="1.5" fill="#eadcea"/>
<circle cx="801.5" cy="985.1" r="1.6" fill="#eadcea"/>
<circle cx="811.3" cy="989.2" r="4.1" fill="#a070d8" opacity="0.5"/>
<circle cx="811.3" cy="990.6" r="2.1" fill="#eadcea"/>
<circle cx="813.2" cy="989.2" r="1.8" fill="#eadcea"/>
<circle cx="809.7" cy="989.0" r="1.9" fill="#eadcea"/>
<circle cx="812.6" cy="990.5" r="2.2" fill="#eadcea"/>
<circle cx="810.3" cy="989.2" r="1.6" fill="#eadcea"/>
<circle cx="796.5" cy="995.8" r="3.7" fill="#a070d8" opacity="0.5"/>
<circle cx="798.0" cy="995.6" r="1.5" fill="#eadcea"/>
<circle cx="796.1" cy="995.3" r="1.7" fill="#eadcea"/>
<circle cx="797.0" cy="995.6" r="1.7" fill="#eadcea"/>
<circle cx="797.1" cy="995.7" r="1.7" fill="#eadcea"/>
<circle cx="797.0" cy="994.2" r="1.7" fill="#eadcea"/>
<circle cx="796" cy="999.9" r="3.9" fill="#a070d8" opacity="0.5"/>
<circle cx="794.6" cy="999.5" r="2.2" fill="#eadcea"/>
<circle cx="795.6" cy="999.2" r="1.6" fill="#eadcea"/>
<circle cx="794.6" cy="1000.0" r="2.0" fill="#eadcea"/>
<circle cx="795.9" cy="1000.7" r="1.5" fill="#eadcea"/>
<circle cx="796.0" cy="999.4" r="1.5" fill="#eadcea"/>
<circle cx="841" cy="986.1" r="3.8" fill="#a070d8" opacity="0.5"/>
<circle cx="841.6" cy="984.3" r="1.6" fill="#eadcea"/>
<circle cx="840.6" cy="986.6" r="1.5" fill="#eadcea"/>
<circle cx="841.5" cy="987.6" r="1.9" fill="#eadcea"/>
<circle cx="840.5" cy="984.6" r="1.6" fill="#eadcea"/>
<circle cx="842.2" cy="985.9" r="1.6" fill="#eadcea"/>
<circle cx="819.5" cy="996.9" r="4.1" fill="#a070d8" opacity="0.5"/>
<circle cx="819.5" cy="997.4" r="2.1" fill="#eadcea"/>
<circle cx="820.8" cy="998.3" r="2.2" fill="#eadcea"/>
<circle cx="818.6" cy="998.5" r="2.0" fill="#eadcea"/>
<circle cx="818.6" cy="996.7" r="2.2" fill="#eadcea"/>
<circle cx="818.8" cy="996.3" r="1.8" fill="#eadcea"/>
<circle cx="782.2" cy="1003.5" r="3.7" fill="#a070d8" opacity="0.5"/>
<circle cx="781.3" cy="1005.1" r="1.7" fill="#eadcea"/>
<circle cx="781.1" cy="1002.4" r="1.4" fill="#eadcea"/>
<circle cx="780.9" cy="1002.5" r="1.4" fill="#eadcea"/>
<circle cx="783.3" cy="1003.0" r="1.4" fill="#eadcea"/>
<circle cx="783.3" cy="1003.3" r="1.9" fill="#eadcea"/>
<circle cx="793.9" cy="1008.6" r="4.2" fill="#a070d8" opacity="0.5"/>
<circle cx="794.8" cy="1008.8" r="2.0" fill="#eadcea"/>
<circle cx="793.5" cy="1010.0" r="1.9" fill="#eadcea"/>
<circle cx="792.8" cy="1008.7" r="2.2" fill="#eadcea"/>
<circle cx="792.9" cy="1008.3" r="2.3" fill="#eadcea"/>
<circle cx="792.1" cy="1009.3" r="1.7" fill="#eadcea"/>
<circle cx="765.3" cy="962.6" r="3.5" fill="#a070d8" opacity="0.5"/>
<circle cx="764.7" cy="961.0" r="1.3" fill="#eadcea"/>
<circle cx="764.5" cy="963.9" r="1.7" fill="#eadcea"/>
<circle cx="763.9" cy="962.1" r="1.8" fill="#eadcea"/>
<circle cx="764.4" cy="962.1" r="1.4" fill="#eadcea"/>
<circle cx="764.5" cy="964.0" r="1.8" fill="#eadcea"/>
</g>
</g>
<g clip-path="url(#cp6)">
<circle cx="918.9" cy="963.9" r="48.2" fill="#4a30da"/>
<g filter="url(#nb)">
<g fill="#7a50d8" opacity="0.5"><circle cx="903.7" cy="981.7" r="1.04"/><circle cx="947.2" cy="974.0" r="0.75"/><circle cx="915.8" cy="954.8" r="0.89"/><circle cx="940.2" cy="969.1" r="0.77"/><circle cx="921.0" cy="942.9" r="0.88"/><circle cx="937.7" cy="966.8" r="0.70"/><circle cx="957.3" cy="983.9" r="0.84"/><circle cx="934.5" cy="934.9" r="0.83"/><circle cx="964.7" cy="972.2" r="0.71"/><circle cx="891.1" cy="929.3" r="0.75"/><circle cx="895.2" cy="998.7" r="0.95"/><circle cx="944.8" cy="947.5" r="0.72"/><circle cx="881.7" cy="962.8" r="0.89"/><circle cx="937.1" cy="930.3" r="0.68"/><circle cx="925.3" cy="921.9" r="0.97"/><circle cx="943.7" cy="981.7" r="0.98"/><circle cx="903.9" cy="976.1" r="0.57"/><circle cx="916.6" cy="955.9" r="0.72"/><circle cx="899.7" cy="969.0" r="0.78"/><circle cx="917.7" cy="951.0" r="0.71"/><circle cx="900.2" cy="930.9" r="0.83"/><circle cx="912.8" cy="992.0" r="1.02"/><circle cx="893.2" cy="966.8" r="0.79"/><circle cx="946.1" cy="988.1" r="1.02"/><circle cx="917.1" cy="961.4" r="0.97"/><circle cx="921.9" cy="972.5" r="0.69"/><circle cx="916.4" cy="963.4" r="1.04"/><circle cx="915.0" cy="966.5" r="0.89"/><circle cx="926.2" cy="962.9" r="0.63"/><circle cx="940.6" cy="983.3" r="0.74"/><circle cx="965.3" cy="973.0" r="0.93"/><circle cx="910.9" cy="1001.3" r="0.79"/><circle cx="926.3" cy="941.5" r="1.03"/><circle cx="914.5" cy="926.0" r="0.83"/><circle cx="914.7" cy="958.0" r="1.00"/><circle cx="897.5" cy="965.6" r="0.73"/><circle cx="911.3" cy="921.9" r="0.66"/><circle cx="883.0" cy="995.7" r="0.58"/><circle cx="882.0" cy="993.1" r="0.91"/><circle cx="886.8" cy="960.0" r="0.58"/><circle cx="919.3" cy="935.8" r="0.59"/><circle cx="932.8" cy="961.1" r="0.78"/><circle cx="906.8" cy="930.5" r="0.75"/><circle cx="917.3" cy="940.1" r="0.90"/><circle cx="877.4" cy="986.8" r="0.98"/><circle cx="926.7" cy="1008.7" r="0.77"/><circle cx="908.9" cy="979.5" r="0.64"/><circle cx="940.9" cy="969.1" r="0.74"/><circle cx="900.4" cy="921.9" r="0.90"/><circle cx="964.5" cy="953.1" r="0.98"/><circle cx="916.4" cy="973.7" r="0.85"/><circle cx="886.8" cy="999.3" r="0.56"/><circle cx="943.0" cy="955.3" r="0.89"/><circle cx="914.3" cy="930.8" r="0.94"/><circle cx="928.0" cy="949.6" r="0.96"/><circle cx="962.5" cy="959.9" r="0.85"/><circle cx="906.6" cy="955.2" r="0.83"/><circle cx="912.2" cy="986.2" r="1.02"/><circle cx="917.8" cy="985.3" r="0.98"/><circle cx="874.9" cy="954.0" r="0.64"/><circle cx="944.4" cy="945.9" r="0.99"/><circle cx="897.3" cy="945.9" r="0.73"/><circle cx="946.5" cy="986.8" r="0.59"/><circle cx="939.1" cy="950.1" r="0.71"/><circle cx="893.8" cy="985.9" r="1.01"/><circle cx="944.2" cy="977.3" r="0.82"/><circle cx="874.1" cy="959.5" r="0.82"/><circle cx="899.4" cy="929.6" r="0.74"/><circle cx="898.2" cy="971.7" r="0.61"/><circle cx="957.3" cy="954.1" r="0.61"/><circle cx="936.1" cy="938.3" r="0.76"/><circle cx="925.4" cy="938.4" r="0.89"/><circle cx="926.8" cy="925.3" r="0.63"/><circle cx="949.2" cy="992.7" r="0.85"/><circle cx="888.5" cy="999.3" r="0.83"/><circle cx="939.5" cy="962.4" r="0.96"/><circle cx="938.6" cy="961.9" r="0.65"/><circle cx="892.1" cy="968.5" r="0.84"/><circle cx="926.1" cy="969.5" r="0.60"/><circle cx="940.5" cy="981.9" r="0.94"/><circle cx="901.9" cy="954.2" r="0.85"/><circle cx="965.9" cy="959.3" r="0.62"/><circle cx="914.4" cy="950.6" r="0.98"/><circle cx="901.6" cy="998.0" r="1.01"/><circle cx="893.1" cy="972.4" r="0.58"/><circle cx="899.7" cy="929.4" r="0.89"/><circle cx="943.2" cy="978.0" r="0.69"/><circle cx="927.8" cy="977.2" r="0.66"/><circle cx="947.6" cy="929.4" r="0.85"/><circle cx="906.8" cy="988.7" r="1.00"/><circle cx="929.5" cy="976.4" r="1.02"/><circle cx="912.1" cy="1010.5" r="0.70"/><circle cx="941.0" cy="979.9" r="0.98"/><circle cx="942.5" cy="934.6" r="0.81"/><circle cx="892.6" cy="974.4" r="1.02"/><circle cx="906.4" cy="973.7" r="0.84"/><circle cx="899.7" cy="983.1" r="1.02"/><circle cx="902.3" cy="935.6" r="1.01"/><circle cx="927.1" cy="982.6" r="1.04"/><circle cx="950.5" cy="990.8" r="0.69"/><circle cx="955.9" cy="992.8" r="0.91"/><circle cx="909.2" cy="983.7" r="0.91"/><circle cx="919.4" cy="937.7" r="0.57"/><circle cx="897.5" cy="992.3" r="0.70"/><circle cx="922.8" cy="931.0" r="0.66"/><circle cx="901.7" cy="959.1" r="0.90"/><circle cx="941.8" cy="960.3" r="0.64"/><circle cx="898.0" cy="952.5" r="0.61"/><circle cx="898.1" cy="963.5" r="0.89"/><circle cx="896.2" cy="963.2" r="1.00"/><circle cx="877.7" cy="951.9" r="0.94"/><circle cx="918.0" cy="986.6" r="0.69"/><circle cx="877.6" cy="960.9" r="0.61"/><circle cx="918.4" cy="970.0" r="0.95"/><circle cx="952.4" cy="948.1" r="0.84"/><circle cx="894.0" cy="975.6" r="0.74"/><circle cx="942.2" cy="964.0" r="0.79"/><circle cx="898.9" cy="996.0" r="0.63"/><circle cx="884.0" cy="994.6" r="0.66"/><circle cx="921.2" cy="963.7" r="1.03"/><circle cx="964.2" cy="955.2" r="1.05"/><circle cx="952.7" cy="959.0" r="0.96"/><circle cx="937.3" cy="1003.4" r="0.63"/><circle cx="945.6" cy="931.1" r="0.89"/><circle cx="923.4" cy="936.7" r="0.95"/><circle cx="952.9" cy="945.8" r="0.89"/><circle cx="921.8" cy="994.3" r="0.91"/><circle cx="888.5" cy="945.2" r="0.62"/><circle cx="952.2" cy="967.1" r="0.96"/><circle cx="937.0" cy="963.0" r="1.04"/><circle cx="909.7" cy="1010.6" r="0.76"/><circle cx="930.4" cy="929.4" r="0.87"/><circle cx="935.0" cy="971.0" r="1.00"/><circle cx="954.3" cy="977.1" r="1.03"/><circle cx="895.1" cy="936.1" r="0.90"/><circle cx="925.1" cy="938.6" r="0.61"/><circle cx="905.3" cy="999.6" r="0.66"/><circle cx="899.1" cy="990.1" r="0.72"/><circle cx="890.8" cy="926.6" r="0.82"/><circle cx="926.2" cy="941.8" r="1.00"/><circle cx="929.0" cy="951.4" r="0.56"/><circle cx="898.0" cy="975.7" r="0.55"/><circle cx="941.6" cy="1001.2" r="0.79"/><circle cx="896.8" cy="938.1" r="0.60"/><circle cx="965.4" cy="959.2" r="0.77"/><circle cx="957.5" cy="955.5" r="0.76"/><circle cx="954.4" cy="996.0" r="0.57"/><circle cx="895.0" cy="977.4" r="0.92"/><circle cx="910.4" cy="971.4" r="0.75"/><circle cx="955.3" cy="970.3" r="1.02"/><circle cx="894.9" cy="923.3" r="0.83"/><circle cx="884.7" cy="951.4" r="0.56"/><circle cx="905.9" cy="994.2" r="0.82"/><circle cx="951.7" cy="940.1" r="0.72"/><circle cx="956.4" cy="960.4" r="0.59"/><circle cx="893.0" cy="960.5" r="0.75"/><circle cx="885.0" cy="935.5" r="0.91"/><circle cx="953.4" cy="952.2" r="0.61"/><circle cx="880.2" cy="940.7" r="0.72"/><circle cx="931.5" cy="961.8" r="0.86"/><circle cx="924.6" cy="1000.4" r="0.67"/><circle cx="898.4" cy="960.1" r="1.01"/><circle cx="949.2" cy="947.4" r="0.64"/><circle cx="898.2" cy="957.3" r="1.01"/><circle cx="928.2" cy="949.8" r="0.62"/><circle cx="903.6" cy="944.9" r="0.61"/><circle cx="923.3" cy="972.3" r="0.98"/><circle cx="927.3" cy="973.7" r="0.69"/><circle cx="961.0" cy="970.9" r="0.93"/><circle cx="872.2" cy="954.0" r="1.01"/><circle cx="902.1" cy="954.6" r="0.92"/><circle cx="966.0" cy="965.8" r="0.94"/><circle cx="911.2" cy="948.8" r="0.95"/><circle cx="929.3" cy="918.3" r="0.77"/><circle cx="887.3" cy="996.1" r="0.76"/></g>
<g fill="#6a40d8" opacity="0.5"><circle cx="899.3" cy="926.9" r="0.65"/><circle cx="879.2" cy="946.6" r="1.04"/><circle cx="919.0" cy="991.9" r="0.78"/><circle cx="920.0" cy="965.8" r="0.88"/><circle cx="917.2" cy="932.8" r="0.62"/><circle cx="905.0" cy="973.4" r="0.86"/><circle cx="942.0" cy="974.1" r="0.58"/><circle cx="872.7" cy="963.2" r="0.89"/><circle cx="931.7" cy="976.3" r="0.88"/><circle cx="950.5" cy="983.4" r="0.57"/><circle cx="955.5" cy="990.6" r="0.75"/><circle cx="914.2" cy="973.7" r="0.92"/><circle cx="880.5" cy="950.3" r="0.60"/><circle cx="898.7" cy="982.2" r="0.55"/><circle cx="886.9" cy="978.1" r="0.80"/><circle cx="913.1" cy="932.1" r="0.79"/><circle cx="932.1" cy="991.6" r="0.67"/><circle cx="883.6" cy="980.4" r="0.79"/><circle cx="924.9" cy="1005.3" r="0.62"/><circle cx="941.4" cy="924.6" r="0.65"/><circle cx="934.3" cy="996.5" r="0.57"/><circle cx="885.2" cy="961.5" r="0.94"/><circle cx="934.6" cy="1002.6" r="0.59"/><circle cx="887.8" cy="960.3" r="0.74"/><circle cx="891.1" cy="966.9" r="0.90"/><circle cx="917.6" cy="961.6" r="0.76"/><circle cx="907.0" cy="1001.1" r="0.97"/><circle cx="927.7" cy="919.0" r="1.01"/><circle cx="912.5" cy="961.9" r="0.90"/><circle cx="952.9" cy="932.8" r="0.77"/><circle cx="943.3" cy="987.4" r="0.63"/><circle cx="913.1" cy="983.5" r="0.97"/><circle cx="961.7" cy="954.5" r="0.84"/><circle cx="952.7" cy="932.6" r="0.76"/><circle cx="900.0" cy="982.2" r="0.65"/><circle cx="929.9" cy="938.9" r="0.75"/><circle cx="942.7" cy="935.4" r="0.57"/><circle cx="908.0" cy="953.7" r="0.80"/><circle cx="920.1" cy="1006.4" r="0.83"/><circle cx="878.8" cy="976.2" r="1.00"/><circle cx="884.0" cy="983.9" r="0.63"/><circle cx="931.8" cy="959.8" r="0.88"/><circle cx="907.4" cy="973.8" r="0.61"/><circle cx="904.0" cy="975.0" r="0.81"/><circle cx="960.9" cy="962.2" r="0.99"/><circle cx="899.2" cy="969.7" r="0.57"/><circle cx="890.7" cy="951.4" r="0.89"/><circle cx="909.5" cy="987.7" r="0.87"/><circle cx="946.1" cy="946.4" r="0.93"/><circle cx="952.9" cy="969.4" r="0.99"/><circle cx="960.8" cy="970.6" r="0.77"/><circle cx="952.0" cy="983.6" r="1.04"/><circle cx="906.9" cy="976.6" r="0.81"/><circle cx="963.1" cy="981.5" r="0.87"/><circle cx="905.9" cy="965.8" r="0.74"/><circle cx="936.6" cy="963.9" r="0.79"/><circle cx="909.0" cy="995.7" r="0.89"/><circle cx="963.8" cy="976.8" r="0.86"/><circle cx="910.0" cy="961.0" r="1.03"/><circle cx="901.7" cy="980.3" r="0.90"/><circle cx="897.2" cy="966.6" r="0.60"/><circle cx="949.8" cy="933.4" r="1.03"/><circle cx="905.5" cy="935.2" r="1.01"/><circle cx="948.2" cy="977.8" r="0.98"/><circle cx="877.1" cy="953.5" r="0.94"/><circle cx="906.1" cy="1009.3" r="0.57"/><circle cx="919.4" cy="958.8" r="0.61"/><circle cx="939.2" cy="968.7" r="0.83"/><circle cx="887.4" cy="982.1" r="1.00"/><circle cx="912.8" cy="974.6" r="1.00"/><circle cx="965.9" cy="957.9" r="1.00"/><circle cx="904.0" cy="959.6" r="1.01"/><circle cx="946.6" cy="955.7" r="0.64"/><circle cx="947.8" cy="973.9" r="0.67"/><circle cx="902.8" cy="987.2" r="0.95"/><circle cx="902.2" cy="974.4" r="0.85"/><circle cx="905.8" cy="965.1" r="0.78"/><circle cx="912.6" cy="987.4" r="1.00"/><circle cx="952.6" cy="963.9" r="1.00"/><circle cx="879.4" cy="985.1" r="0.80"/><circle cx="909.6" cy="989.3" r="1.00"/><circle cx="950.2" cy="929.5" r="1.01"/><circle cx="919.1" cy="972.2" r="0.89"/><circle cx="895.1" cy="949.4" r="0.67"/><circle cx="913.0" cy="921.9" r="0.62"/><circle cx="906.0" cy="988.1" r="0.69"/><circle cx="919.4" cy="957.5" r="0.72"/><circle cx="922.3" cy="951.6" r="0.77"/><circle cx="965.7" cy="955.4" r="0.90"/><circle cx="926.6" cy="926.7" r="0.75"/><circle cx="951.8" cy="970.3" r="0.55"/><circle cx="948.0" cy="982.7" r="1.00"/><circle cx="891.4" cy="984.7" r="0.62"/><circle cx="884.4" cy="933.5" r="1.04"/><circle cx="941.1" cy="971.8" r="0.78"/><circle cx="873.4" cy="971.3" r="0.91"/><circle cx="902.1" cy="952.7" r="0.89"/><circle cx="879.0" cy="963.9" r="0.55"/><circle cx="898.4" cy="982.2" r="0.75"/><circle cx="876.1" cy="961.9" r="0.81"/><circle cx="928.1" cy="996.1" r="0.84"/><circle cx="954.0" cy="974.9" r="0.83"/><circle cx="894.3" cy="932.9" r="0.93"/><circle cx="942.1" cy="977.9" r="0.69"/><circle cx="888.3" cy="930.3" r="0.73"/><circle cx="920.1" cy="958.0" r="0.68"/><circle cx="874.7" cy="952.3" r="0.92"/><circle cx="955.8" cy="934.4" r="0.68"/><circle cx="936.8" cy="956.5" r="0.84"/><circle cx="923.5" cy="979.2" r="0.71"/><circle cx="907.0" cy="925.6" r="0.63"/><circle cx="891.1" cy="1002.2" r="0.85"/><circle cx="938.6" cy="919.9" r="0.61"/><circle cx="960.5" cy="977.6" r="0.96"/><circle cx="901.9" cy="1003.8" r="0.90"/><circle cx="898.6" cy="998.4" r="0.94"/><circle cx="883.6" cy="961.7" r="0.65"/><circle cx="929.7" cy="969.4" r="0.95"/><circle cx="962.2" cy="961.3" r="0.98"/><circle cx="903.4" cy="967.2" r="1.01"/><circle cx="883.2" cy="954.2" r="0.91"/><circle cx="924.2" cy="1010.2" r="0.83"/><circle cx="897.1" cy="945.8" r="0.83"/><circle cx="937.8" cy="958.0" r="0.66"/><circle cx="906.2" cy="925.3" r="0.80"/><circle cx="919.7" cy="928.8" r="0.65"/><circle cx="909.2" cy="989.1" r="0.73"/><circle cx="945.1" cy="1001.5" r="0.72"/><circle cx="924.7" cy="979.5" r="0.79"/><circle cx="948.0" cy="977.4" r="0.62"/><circle cx="901.6" cy="966.5" r="0.67"/><circle cx="929.0" cy="961.2" r="0.80"/><circle cx="937.1" cy="926.0" r="0.62"/><circle cx="906.3" cy="997.9" r="0.92"/><circle cx="949.7" cy="946.5" r="0.62"/><circle cx="954.5" cy="971.8" r="0.99"/><circle cx="917.7" cy="1004.0" r="0.93"/><circle cx="940.1" cy="964.2" r="0.80"/><circle cx="921.2" cy="979.4" r="0.88"/><circle cx="941.4" cy="994.3" r="1.05"/><circle cx="942.3" cy="968.9" r="0.60"/><circle cx="876.8" cy="970.4" r="0.93"/><circle cx="907.9" cy="989.0" r="0.82"/><circle cx="905.9" cy="960.5" r="1.01"/><circle cx="932.4" cy="924.8" r="0.59"/><circle cx="901.9" cy="957.9" r="1.01"/><circle cx="925.3" cy="977.8" r="0.81"/><circle cx="886.8" cy="965.2" r="0.91"/><circle cx="889.8" cy="952.4" r="0.99"/><circle cx="927.8" cy="997.7" r="0.58"/><circle cx="924.3" cy="942.9" r="0.83"/><circle cx="914.8" cy="950.8" r="0.59"/><circle cx="881.3" cy="963.2" r="0.65"/><circle cx="894.0" cy="1003.5" r="0.87"/><circle cx="936.5" cy="997.3" r="0.68"/><circle cx="923.5" cy="964.9" r="0.95"/><circle cx="941.7" cy="958.5" r="0.92"/><circle cx="920.9" cy="944.7" r="1.03"/><circle cx="927.0" cy="957.1" r="0.67"/><circle cx="914.7" cy="934.1" r="0.62"/><circle cx="963.6" cy="972.7" r="1.02"/><circle cx="879.6" cy="977.2" r="0.89"/><circle cx="945.1" cy="962.8" r="0.79"/><circle cx="882.4" cy="934.7" r="1.01"/><circle cx="925.8" cy="929.5" r="0.72"/><circle cx="960.1" cy="958.7" r="1.03"/><circle cx="912.1" cy="996.1" r="0.78"/><circle cx="879.0" cy="985.3" r="0.79"/><circle cx="915.7" cy="929.7" r="1.00"/><circle cx="931.9" cy="940.8" r="1.05"/><circle cx="945.7" cy="930.2" r="0.89"/><circle cx="902.3" cy="970.7" r="0.60"/><circle cx="894.9" cy="993.6" r="0.99"/><circle cx="889.6" cy="991.7" r="0.85"/><circle cx="956.5" cy="937.0" r="0.56"/></g>
</g>
<g filter="url(#pb)">
<circle cx="918.1" cy="918.1" r="2.6" fill="#a890e4" opacity="0.7"/>
<circle cx="906.9" cy="931.4" r="2.6" fill="#a890e4" opacity="0.7"/>
<circle cx="898.7" cy="935" r="2.6" fill="#a890e4" opacity="0.7"/>
<circle cx="889.5" cy="928.4" r="2.6" fill="#a890e4" opacity="0.7"/>
<circle cx="930.4" cy="933" r="2.6" fill="#a890e4" opacity="0.7"/>
<circle cx="945.7" cy="942.7" r="2.6" fill="#a890e4" opacity="0.7"/>
<circle cx="902.8" cy="947.3" r="2.6" fill="#a890e4" opacity="0.7"/>
<circle cx="876.2" cy="949.8" r="2.6" fill="#a890e4" opacity="0.7"/>
<circle cx="892" cy="957" r="2.6" fill="#a890e4" opacity="0.7"/>
<circle cx="914" cy="939.6" r="2.6" fill="#a890e4" opacity="0.7"/>
<circle cx="960" cy="957" r="2.6" fill="#a890e4" opacity="0.7"/>
<circle cx="961" cy="963.1" r="2.6" fill="#a890e4" opacity="0.7"/>
<circle cx="929.3" cy="970.3" r="2.6" fill="#a890e4" opacity="0.7"/>
<circle cx="955.9" cy="971.8" r="2.6" fill="#a890e4" opacity="0.7"/>
<circle cx="906.9" cy="965.7" r="2.6" fill="#a890e4" opacity="0.7"/>
<circle cx="882.3" cy="969.8" r="4.0" fill="#9080e0" opacity="0.45"/>
<circle cx="881.8" cy="971.6" r="1.6" fill="#e8e2ee"/>
<circle cx="881.9" cy="970.2" r="2.0" fill="#e8e2ee"/>
<circle cx="882.9" cy="970.0" r="2.0" fill="#e8e2ee"/>
<circle cx="882.6" cy="970.2" r="2.2" fill="#e8e2ee"/>
<circle cx="882.9" cy="968.8" r="2.1" fill="#e8e2ee"/>
<circle cx="882.3" cy="977.9" r="3.9" fill="#9080e0" opacity="0.45"/>
<circle cx="882.8" cy="977.4" r="1.5" fill="#e8e2ee"/>
<circle cx="881.9" cy="977.1" r="1.9" fill="#e8e2ee"/>
<circle cx="882.2" cy="976.7" r="1.7" fill="#e8e2ee"/>
<circle cx="883.3" cy="977.6" r="1.8" fill="#e8e2ee"/>
<circle cx="881.8" cy="977.8" r="1.9" fill="#e8e2ee"/>
<circle cx="876.7" cy="975.9" r="3.9" fill="#9080e0" opacity="0.45"/>
<circle cx="877.4" cy="977.2" r="1.8" fill="#e8e2ee"/>
<circle cx="877.7" cy="975.6" r="1.5" fill="#e8e2ee"/>
<circle cx="877.5" cy="975.5" r="2.2" fill="#e8e2ee"/>
<circle cx="876.2" cy="975.1" r="1.8" fill="#e8e2ee"/>
<circle cx="877.2" cy="974.3" r="1.6" fill="#e8e2ee"/>
<circle cx="898.2" cy="974.9" r="3.6" fill="#9080e0" opacity="0.45"/>
<circle cx="899.2" cy="975.6" r="1.5" fill="#e8e2ee"/>
<circle cx="897.9" cy="976.3" r="2.0" fill="#e8e2ee"/>
<circle cx="898.5" cy="976.1" r="1.6" fill="#e8e2ee"/>
<circle cx="897.3" cy="974.5" r="1.5" fill="#e8e2ee"/>
<circle cx="897.7" cy="976.6" r="1.7" fill="#e8e2ee"/>
<circle cx="916.1" cy="985.1" r="4.2" fill="#9080e0" opacity="0.45"/>
<circle cx="916.9" cy="985.2" r="2.3" fill="#e8e2ee"/>
<circle cx="917.1" cy="985.9" r="1.7" fill="#e8e2ee"/>
<circle cx="916.9" cy="986.0" r="2.3" fill="#e8e2ee"/>
<circle cx="915.6" cy="984.9" r="1.8" fill="#e8e2ee"/>
<circle cx="917.7" cy="985.0" r="2.0" fill="#e8e2ee"/>
<circle cx="928.3" cy="987.7" r="3.7" fill="#9080e0" opacity="0.45"/>
<circle cx="928.1" cy="988.2" r="1.5" fill="#e8e2ee"/>
<circle cx="928.9" cy="986.9" r="1.9" fill="#e8e2ee"/>
<circle cx="929.7" cy="987.3" r="1.6" fill="#e8e2ee"/>
<circle cx="927.7" cy="988.0" r="1.5" fill="#e8e2ee"/>
<circle cx="928.0" cy="988.2" r="1.9" fill="#e8e2ee"/>
<circle cx="892" cy="990.7" r="3.8" fill="#9080e0" opacity="0.45"/>
<circle cx="891.2" cy="991.8" r="1.8" fill="#e8e2ee"/>
<circle cx="891.6" cy="991.6" r="1.7" fill="#e8e2ee"/>
<circle cx="891.7" cy="991.7" r="1.8" fill="#e8e2ee"/>
<circle cx="893.0" cy="989.4" r="2.0" fill="#e8e2ee"/>
<circle cx="890.2" cy="991.1" r="1.5" fill="#e8e2ee"/>
<circle cx="912" cy="993.8" r="4.1" fill="#9080e0" opacity="0.45"/>
<circle cx="911.7" cy="993.3" r="2.2" fill="#e8e2ee"/>
<circle cx="911.4" cy="995.0" r="1.6" fill="#e8e2ee"/>
<circle cx="911.2" cy="992.7" r="1.8" fill="#e8e2ee"/>
<circle cx="911.2" cy="995.2" r="2.2" fill="#e8e2ee"/>
<circle cx="912.9" cy="993.8" r="2.0" fill="#e8e2ee"/>
<circle cx="924.2" cy="994.8" r="3.7" fill="#9080e0" opacity="0.45"/>
<circle cx="923.6" cy="995.9" r="1.9" fill="#e8e2ee"/>
<circle cx="924.5" cy="993.8" r="1.9" fill="#e8e2ee"/>
<circle cx="924.9" cy="994.7" r="1.5" fill="#e8e2ee"/>
<circle cx="924.8" cy="994.7" r="1.5" fill="#e8e2ee"/>
<circle cx="925.8" cy="994.8" r="1.5" fill="#e8e2ee"/>
<circle cx="926.3" cy="1003" r="3.7" fill="#9080e0" opacity="0.45"/>
<circle cx="927.2" cy="1003.0" r="1.9" fill="#e8e2ee"/>
<circle cx="926.3" cy="1004.1" r="2.0" fill="#e8e2ee"/>
<circle cx="925.7" cy="1002.1" r="2.0" fill="#e8e2ee"/>
<circle cx="927.8" cy="1001.9" r="1.8" fill="#e8e2ee"/>
<circle cx="927.0" cy="1003.7" r="1.5" fill="#e8e2ee"/>
<circle cx="931.4" cy="1006" r="3.6" fill="#9080e0" opacity="0.45"/>
<circle cx="932.2" cy="1007.2" r="1.9" fill="#e8e2ee"/>
<circle cx="933.0" cy="1006.2" r="1.9" fill="#e8e2ee"/>
<circle cx="929.5" cy="1005.9" r="1.4" fill="#e8e2ee"/>
<circle cx="932.0" cy="1006.1" r="1.5" fill="#e8e2ee"/>
<circle cx="931.5" cy="1004.6" r="1.4" fill="#e8e2ee"/>
<circle cx="902.8" cy="1006" r="4.1" fill="#9080e0" opacity="0.45"/>
<circle cx="902.5" cy="1004.7" r="1.8" fill="#e8e2ee"/>
<circle cx="901.4" cy="1007.2" r="2.0" fill="#e8e2ee"/>
<circle cx="903.8" cy="1006.4" r="2.0" fill="#e8e2ee"/>
<circle cx="902.3" cy="1004.8" r="1.7" fill="#e8e2ee"/>
<circle cx="902.3" cy="1004.9" r="2.1" fill="#e8e2ee"/>
</g>
</g>
<circle cx="442" cy="935" r="0.8" fill="#b080f8"/>
<circle cx="481" cy="975" r="0.8" fill="#b080f8"/>
<circle cx="468" cy="983" r="0.8" fill="#b080f8"/>
<circle cx="409" cy="980" r="0.8" fill="#b080f8"/>
<rect x="47.50" y="1036.60" width="934.00" height="46.20" fill="#d9d9d9"/>
<rect x="47.50" y="1130.70" width="934.00" height="46.20" fill="#d9d9d9"/>
<rect x="47.50" y="1224.80" width="934.00" height="46.20" fill="#d9d9d9"/>
<rect x="47.50" y="1318.90" width="934.00" height="46.20" fill="#d9d9d9"/>
<text x="101.30" y="1069.20" font-family="'Liberation Serif', serif" font-size="24.2" font-weight="bold" text-anchor="middle" fill="#000" >0</text>
<path d="M208.05,1061.00H220.75M214.40,1054.70V1067.30" stroke="#000" stroke-width="1.7" fill="none"/>
<path d="M325.35,1061.00H338.05M331.70,1054.70V1067.30" stroke="#000" stroke-width="1.7" fill="none"/>
<path d="M443.55,1061.00H456.25M449.90,1054.70V1067.30" stroke="#000" stroke-width="1.7" fill="none"/>
<rect x="564.85" y="1062.75" width="6.90" height="2.10" fill="#000"/>
<rect x="682.65" y="1062.75" width="6.90" height="2.10" fill="#000"/>
<rect x="800.85" y="1062.75" width="6.90" height="2.10" fill="#000"/>
<rect x="918.95" y="1062.75" width="6.90" height="2.10" fill="#000"/>
<text x="101.30" y="1116.25" font-family="'Liberation Serif', serif" font-size="24.2" font-weight="bold" text-anchor="middle" fill="#000" >6.25</text>
<rect x="210.95" y="1109.80" width="6.90" height="2.10" fill="#000"/>
<rect x="328.25" y="1109.80" width="6.90" height="2.10" fill="#000"/>
<rect x="446.45" y="1109.80" width="6.90" height="2.10" fill="#000"/>
<path d="M561.95,1108.05H574.65M568.30,1101.75V1114.35" stroke="#000" stroke-width="1.7" fill="none"/>
<rect x="682.65" y="1109.80" width="6.90" height="2.10" fill="#000"/>
<rect x="800.85" y="1109.80" width="6.90" height="2.10" fill="#000"/>
<rect x="918.95" y="1109.80" width="6.90" height="2.10" fill="#000"/>
<text x="101.30" y="1163.30" font-family="'Liberation Serif', serif" font-size="24.2" font-weight="bold" text-anchor="middle" fill="#000" >12.5</text>
<rect x="210.95" y="1156.85" width="6.90" height="2.10" fill="#000"/>
<rect x="328.25" y="1156.85" width="6.90" height="2.10" fill="#000"/>
<rect x="446.45" y="1156.85" width="6.90" height="2.10" fill="#000"/>
<rect x="564.85" y="1156.85" width="6.90" height="2.10" fill="#000"/>
<path d="M679.75,1155.10H692.45M686.10,1148.80V1161.40" stroke="#000" stroke-width="1.7" fill="none"/>
<rect x="800.85" y="1156.85" width="6.90" height="2.10" fill="#000"/>
<rect x="918.95" y="1156.85" width="6.90" height="2.10" fill="#000"/>
<text x="101.30" y="1210.35" font-family="'Liberation Serif', serif" font-size="24.2" font-weight="bold" text-anchor="middle" fill="#000" >25</text>
<rect x="210.95" y="1203.90" width="6.90" height="2.10" fill="#000"/>
<rect x="328.25" y="1203.90" width="6.90" height="2.10" fill="#000"/>
<rect x="446.45" y="1203.90" width="6.90" height="2.10" fill="#000"/>
<rect x="564.85" y="1203.90" width="6.90" height="2.10" fill="#000"/>
<rect x="682.65" y="1203.90" width="6.90" height="2.10" fill="#000"/>
<path d="M797.95,1202.15H810.65M804.30,1195.85V1208.45" stroke="#000" stroke-width="1.7" fill="none"/>
<rect x="918.95" y="1203.90" width="6.90" height="2.10" fill="#000"/>
<text x="101.30" y="1257.40" font-family="'Liberation Serif', serif" font-size="24.2" font-weight="bold" text-anchor="middle" fill="#000" >50</text>
<rect x="210.95" y="1250.95" width="6.90" height="2.10" fill="#000"/>
<rect x="328.25" y="1250.95" width="6.90" height="2.10" fill="#000"/>
<rect x="446.45" y="1250.95" width="6.90" height="2.10" fill="#000"/>
<rect x="564.85" y="1250.95" width="6.90" height="2.10" fill="#000"/>
<rect x="682.65" y="1250.95" width="6.90" height="2.10" fill="#000"/>
<rect x="800.85" y="1250.95" width="6.90" height="2.10" fill="#000"/>
<path d="M916.05,1249.20H928.75M922.40,1242.90V1255.50" stroke="#000" stroke-width="1.7" fill="none"/>
<text x="101.30" y="1304.45" font-family="'Liberation Serif', serif" font-size="24.2" font-weight="bold" text-anchor="middle" fill="#000" >TNF-α</text>
<rect x="210.95" y="1298.00" width="6.90" height="2.10" fill="#000"/>
<rect x="328.25" y="1298.00" width="6.90" height="2.10" fill="#000"/>
<path d="M443.55,1296.25H456.25M449.90,1289.95V1302.55" stroke="#000" stroke-width="1.7" fill="none"/>
<rect x="564.85" y="1298.00" width="6.90" height="2.10" fill="#000"/>
<rect x="682.65" y="1298.00" width="6.90" height="2.10" fill="#000"/>
<rect x="800.85" y="1298.00" width="6.90" height="2.10" fill="#000"/>
<rect x="918.95" y="1298.00" width="6.90" height="2.10" fill="#000"/>
<text x="101.30" y="1351.50" font-family="'Liberation Serif', serif" font-size="24.2" font-weight="bold" text-anchor="middle" fill="#000" >HSV-1</text>
<rect x="210.95" y="1345.05" width="6.90" height="2.10" fill="#000"/>
<path d="M325.35,1343.30H338.05M331.70,1337.00V1349.60" stroke="#000" stroke-width="1.7" fill="none"/>
<path d="M443.55,1343.30H456.25M449.90,1337.00V1349.60" stroke="#000" stroke-width="1.7" fill="none"/>
<path d="M561.95,1343.30H574.65M568.30,1337.00V1349.60" stroke="#000" stroke-width="1.7" fill="none"/>
<path d="M679.75,1343.30H692.45M686.10,1337.00V1349.60" stroke="#000" stroke-width="1.7" fill="none"/>
<path d="M797.95,1343.30H810.65M804.30,1337.00V1349.60" stroke="#000" stroke-width="1.7" fill="none"/>
<path d="M916.05,1343.30H928.75M922.40,1337.00V1349.60" stroke="#000" stroke-width="1.7" fill="none"/>
</svg></body></html>
